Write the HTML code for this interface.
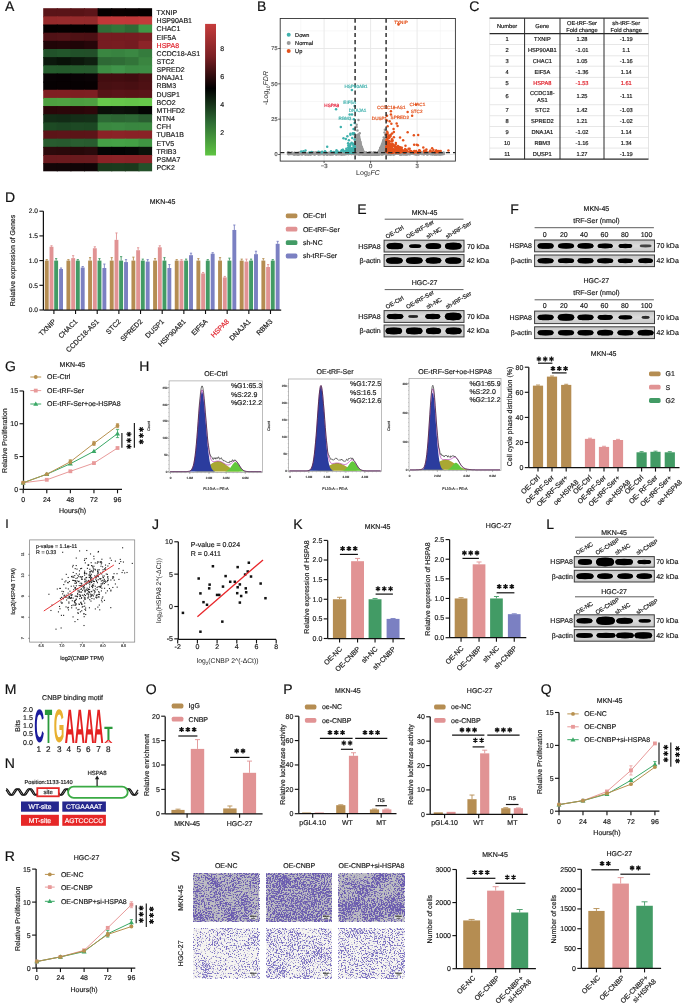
<!DOCTYPE html>
<html><head><meta charset="utf-8"><style>
html,body{margin:0;padding:0;background:#fff;}
svg{display:block;font-family:"Liberation Sans", sans-serif;will-change:transform;}
text{stroke-width:0.18px;paint-order:stroke;text-rendering:geometricPrecision;}
</style></head><body>
<svg width="685" height="1003" viewBox="0 0 685 1003">
<defs><filter id="bl" x="-20%" y="-60%" width="140%" height="220%"><feGaussianBlur stdDeviation="0.75"/></filter><linearGradient id="blg" x1="0" y1="0" x2="0" y2="1"><stop offset="0" stop-color="#c4c4c4"/><stop offset="0.5" stop-color="#dcdcdc"/><stop offset="1" stop-color="#c6c6c6"/></linearGradient></defs>
<rect width="685" height="1003" fill="#fff"/>
<text x="4.97" y="10.63" font-size="14" text-anchor="start" fill="#111" stroke="#111" stroke-width="0">A</text>
<rect x="43.2" y="8.2" width="14.61" height="9.16" fill="#5a1418" />
<rect x="56.81" y="8.2" width="14.61" height="9.16" fill="#5a1418" />
<rect x="70.42" y="8.2" width="14.61" height="9.16" fill="#581316" />
<rect x="84.04" y="8.2" width="14.61" height="9.16" fill="#5c1519" />
<rect x="97.65" y="8.2" width="14.61" height="9.16" fill="#050000" />
<rect x="111.26" y="8.2" width="14.61" height="9.16" fill="#0a0000" />
<rect x="124.88" y="8.2" width="14.61" height="9.16" fill="#080000" />
<rect x="138.49" y="8.2" width="13.61" height="9.16" fill="#050000" />
<rect x="43.2" y="16.36" width="14.61" height="9.16" fill="#962a2b" />
<rect x="56.81" y="16.36" width="14.61" height="9.16" fill="#972b2c" />
<rect x="70.42" y="16.36" width="14.61" height="9.16" fill="#952a2b" />
<rect x="84.04" y="16.36" width="14.61" height="9.16" fill="#942a2b" />
<rect x="97.65" y="16.36" width="14.61" height="9.16" fill="#c03738" />
<rect x="111.26" y="16.36" width="14.61" height="9.16" fill="#c13839" />
<rect x="124.88" y="16.36" width="14.61" height="9.16" fill="#c03738" />
<rect x="138.49" y="16.36" width="13.61" height="9.16" fill="#c23a3a" />
<rect x="43.2" y="24.51" width="14.61" height="9.16" fill="#040000" />
<rect x="56.81" y="24.51" width="14.61" height="9.16" fill="#050000" />
<rect x="70.42" y="24.51" width="14.61" height="9.16" fill="#040000" />
<rect x="84.04" y="24.51" width="14.61" height="9.16" fill="#040000" />
<rect x="97.65" y="24.51" width="14.61" height="9.16" fill="#2f6d37" />
<rect x="111.26" y="24.51" width="14.61" height="9.16" fill="#337539" />
<rect x="124.88" y="24.51" width="14.61" height="9.16" fill="#2e6a35" />
<rect x="138.49" y="24.51" width="13.61" height="9.16" fill="#3f9846" />
<rect x="43.2" y="32.67" width="14.61" height="9.16" fill="#501216" />
<rect x="56.81" y="32.67" width="14.61" height="9.16" fill="#531317" />
<rect x="70.42" y="32.67" width="14.61" height="9.16" fill="#4e1114" />
<rect x="84.04" y="32.67" width="14.61" height="9.16" fill="#4c1014" />
<rect x="97.65" y="32.67" width="14.61" height="9.16" fill="#761c21" />
<rect x="111.26" y="32.67" width="14.61" height="9.16" fill="#751c20" />
<rect x="124.88" y="32.67" width="14.61" height="9.16" fill="#761c21" />
<rect x="138.49" y="32.67" width="13.61" height="9.16" fill="#7a1e22" />
<rect x="43.2" y="40.82" width="14.61" height="9.16" fill="#200507" />
<rect x="56.81" y="40.82" width="14.61" height="9.16" fill="#230508" />
<rect x="70.42" y="40.82" width="14.61" height="9.16" fill="#1f0507" />
<rect x="84.04" y="40.82" width="14.61" height="9.16" fill="#260609" />
<rect x="97.65" y="40.82" width="14.61" height="9.16" fill="#761c21" />
<rect x="111.26" y="40.82" width="14.61" height="9.16" fill="#781d21" />
<rect x="124.88" y="40.82" width="14.61" height="9.16" fill="#741b20" />
<rect x="138.49" y="40.82" width="13.61" height="9.16" fill="#8c2428" />
<rect x="43.2" y="48.98" width="14.61" height="9.16" fill="#21522a" />
<rect x="56.81" y="48.98" width="14.61" height="9.16" fill="#22562b" />
<rect x="70.42" y="48.98" width="14.61" height="9.16" fill="#215029" />
<rect x="84.04" y="48.98" width="14.61" height="9.16" fill="#224f29" />
<rect x="97.65" y="48.98" width="14.61" height="9.16" fill="#3a8641" />
<rect x="111.26" y="48.98" width="14.61" height="9.16" fill="#388340" />
<rect x="124.88" y="48.98" width="14.61" height="9.16" fill="#3b8843" />
<rect x="138.49" y="48.98" width="13.61" height="9.16" fill="#357c3d" />
<rect x="43.2" y="57.13" width="14.61" height="9.16" fill="#0b180c" />
<rect x="56.81" y="57.13" width="14.61" height="9.16" fill="#081208" />
<rect x="70.42" y="57.13" width="14.61" height="9.16" fill="#0c170c" />
<rect x="84.04" y="57.13" width="14.61" height="9.16" fill="#0f1f10" />
<rect x="97.65" y="57.13" width="14.61" height="9.16" fill="#2e6935" />
<rect x="111.26" y="57.13" width="14.61" height="9.16" fill="#2f6c36" />
<rect x="124.88" y="57.13" width="14.61" height="9.16" fill="#327439" />
<rect x="138.49" y="57.13" width="13.61" height="9.16" fill="#3a8540" />
<rect x="43.2" y="65.29" width="14.61" height="9.16" fill="#255c2d" />
<rect x="56.81" y="65.29" width="14.61" height="9.16" fill="#245b2c" />
<rect x="70.42" y="65.29" width="14.61" height="9.16" fill="#255c2d" />
<rect x="84.04" y="65.29" width="14.61" height="9.16" fill="#265b2e" />
<rect x="97.65" y="65.29" width="14.61" height="9.16" fill="#3d8e44" />
<rect x="111.26" y="65.29" width="14.61" height="9.16" fill="#40944a" />
<rect x="124.88" y="65.29" width="14.61" height="9.16" fill="#3c8c44" />
<rect x="138.49" y="65.29" width="13.61" height="9.16" fill="#3d8d45" />
<rect x="43.2" y="73.44" width="14.61" height="9.16" fill="#080204" />
<rect x="56.81" y="73.44" width="14.61" height="9.16" fill="#070103" />
<rect x="70.42" y="73.44" width="14.61" height="9.16" fill="#080204" />
<rect x="84.04" y="73.44" width="14.61" height="9.16" fill="#0a0305" />
<rect x="97.65" y="73.44" width="14.61" height="9.16" fill="#430d10" />
<rect x="111.26" y="73.44" width="14.61" height="9.16" fill="#430d10" />
<rect x="124.88" y="73.44" width="14.61" height="9.16" fill="#400c0f" />
<rect x="138.49" y="73.44" width="13.61" height="9.16" fill="#4a1013" />
<rect x="43.2" y="81.6" width="14.61" height="9.16" fill="#060102" />
<rect x="56.81" y="81.6" width="14.61" height="9.16" fill="#070102" />
<rect x="70.42" y="81.6" width="14.61" height="9.16" fill="#060102" />
<rect x="84.04" y="81.6" width="14.61" height="9.16" fill="#070102" />
<rect x="97.65" y="81.6" width="14.61" height="9.16" fill="#471012" />
<rect x="111.26" y="81.6" width="14.61" height="9.16" fill="#4a1013" />
<rect x="124.88" y="81.6" width="14.61" height="9.16" fill="#480f12" />
<rect x="138.49" y="81.6" width="13.61" height="9.16" fill="#4e1114" />
<rect x="43.2" y="89.75" width="14.61" height="9.16" fill="#7f1f22" />
<rect x="56.81" y="89.75" width="14.61" height="9.16" fill="#801f22" />
<rect x="70.42" y="89.75" width="14.61" height="9.16" fill="#7d1e21" />
<rect x="84.04" y="89.75" width="14.61" height="9.16" fill="#7e1f22" />
<rect x="97.65" y="89.75" width="14.61" height="9.16" fill="#561316" />
<rect x="111.26" y="89.75" width="14.61" height="9.16" fill="#5a1418" />
<rect x="124.88" y="89.75" width="14.61" height="9.16" fill="#581316" />
<rect x="138.49" y="89.75" width="13.61" height="9.16" fill="#5a1418" />
<rect x="43.2" y="97.91" width="14.61" height="9.16" fill="#4ea041" />
<rect x="56.81" y="97.91" width="14.61" height="9.16" fill="#4fa242" />
<rect x="70.42" y="97.91" width="14.61" height="9.16" fill="#4c9e40" />
<rect x="84.04" y="97.91" width="14.61" height="9.16" fill="#4ea041" />
<rect x="97.65" y="97.91" width="14.61" height="9.16" fill="#67c84b" />
<rect x="111.26" y="97.91" width="14.61" height="9.16" fill="#66c74a" />
<rect x="124.88" y="97.91" width="14.61" height="9.16" fill="#64c449" />
<rect x="138.49" y="97.91" width="13.61" height="9.16" fill="#66c74a" />
<rect x="43.2" y="106.06" width="14.61" height="9.16" fill="#2a0609" />
<rect x="56.81" y="106.06" width="14.61" height="9.16" fill="#2c070a" />
<rect x="70.42" y="106.06" width="14.61" height="9.16" fill="#2a0609" />
<rect x="84.04" y="106.06" width="14.61" height="9.16" fill="#2e070a" />
<rect x="97.65" y="106.06" width="14.61" height="9.16" fill="#0a0f08" />
<rect x="111.26" y="106.06" width="14.61" height="9.16" fill="#0c110a" />
<rect x="124.88" y="106.06" width="14.61" height="9.16" fill="#0a0f08" />
<rect x="138.49" y="106.06" width="13.61" height="9.16" fill="#030303" />
<rect x="43.2" y="114.22" width="14.61" height="9.16" fill="#132d17" />
<rect x="56.81" y="114.22" width="14.61" height="9.16" fill="#122b16" />
<rect x="70.42" y="114.22" width="14.61" height="9.16" fill="#142e18" />
<rect x="84.04" y="114.22" width="14.61" height="9.16" fill="#143018" />
<rect x="97.65" y="114.22" width="14.61" height="9.16" fill="#2d6a35" />
<rect x="111.26" y="114.22" width="14.61" height="9.16" fill="#2c6633" />
<rect x="124.88" y="114.22" width="14.61" height="9.16" fill="#2d6935" />
<rect x="138.49" y="114.22" width="13.61" height="9.16" fill="#2a5e31" />
<rect x="43.2" y="122.37" width="14.61" height="9.16" fill="#1d4a24" />
<rect x="56.81" y="122.37" width="14.61" height="9.16" fill="#1c4623" />
<rect x="70.42" y="122.37" width="14.61" height="9.16" fill="#1d4924" />
<rect x="84.04" y="122.37" width="14.61" height="9.16" fill="#1c4823" />
<rect x="97.65" y="122.37" width="14.61" height="9.16" fill="#3a8840" />
<rect x="111.26" y="122.37" width="14.61" height="9.16" fill="#3b8a42" />
<rect x="124.88" y="122.37" width="14.61" height="9.16" fill="#398640" />
<rect x="138.49" y="122.37" width="13.61" height="9.16" fill="#39873f" />
<rect x="43.2" y="130.53" width="14.61" height="9.16" fill="#5c1418" />
<rect x="56.81" y="130.53" width="14.61" height="9.16" fill="#5d1519" />
<rect x="70.42" y="130.53" width="14.61" height="9.16" fill="#5b1417" />
<rect x="84.04" y="130.53" width="14.61" height="9.16" fill="#5c1418" />
<rect x="97.65" y="130.53" width="14.61" height="9.16" fill="#8a2226" />
<rect x="111.26" y="130.53" width="14.61" height="9.16" fill="#8b2327" />
<rect x="124.88" y="130.53" width="14.61" height="9.16" fill="#892226" />
<rect x="138.49" y="130.53" width="13.61" height="9.16" fill="#8a2226" />
<rect x="43.2" y="138.68" width="14.61" height="9.16" fill="#285c2f" />
<rect x="56.81" y="138.68" width="14.61" height="9.16" fill="#275a2e" />
<rect x="70.42" y="138.68" width="14.61" height="9.16" fill="#295e30" />
<rect x="84.04" y="138.68" width="14.61" height="9.16" fill="#285c2f" />
<rect x="97.65" y="138.68" width="14.61" height="9.16" fill="#44a046" />
<rect x="111.26" y="138.68" width="14.61" height="9.16" fill="#45a247" />
<rect x="124.88" y="138.68" width="14.61" height="9.16" fill="#43a045" />
<rect x="138.49" y="138.68" width="13.61" height="9.16" fill="#3f9442" />
<rect x="43.2" y="146.84" width="14.61" height="9.16" fill="#2c0a0c" />
<rect x="56.81" y="146.84" width="14.61" height="9.16" fill="#2b090b" />
<rect x="70.42" y="146.84" width="14.61" height="9.16" fill="#270809" />
<rect x="84.04" y="146.84" width="14.61" height="9.16" fill="#2a0a0c" />
<rect x="97.65" y="146.84" width="14.61" height="9.16" fill="#050505" />
<rect x="111.26" y="146.84" width="14.61" height="9.16" fill="#040404" />
<rect x="124.88" y="146.84" width="14.61" height="9.16" fill="#060606" />
<rect x="138.49" y="146.84" width="13.61" height="9.16" fill="#0a120a" />
<rect x="43.2" y="154.99" width="14.61" height="9.16" fill="#6a1a1e" />
<rect x="56.81" y="154.99" width="14.61" height="9.16" fill="#6b1a1e" />
<rect x="70.42" y="154.99" width="14.61" height="9.16" fill="#691a1d" />
<rect x="84.04" y="154.99" width="14.61" height="9.16" fill="#6a1a1e" />
<rect x="97.65" y="154.99" width="14.61" height="9.16" fill="#8a2226" />
<rect x="111.26" y="154.99" width="14.61" height="9.16" fill="#8b2327" />
<rect x="124.88" y="154.99" width="14.61" height="9.16" fill="#892226" />
<rect x="138.49" y="154.99" width="13.61" height="9.16" fill="#8a2226" />
<rect x="43.2" y="163.15" width="14.61" height="8.16" fill="#120507" />
<rect x="56.81" y="163.15" width="14.61" height="8.16" fill="#110507" />
<rect x="70.42" y="163.15" width="14.61" height="8.16" fill="#100406" />
<rect x="84.04" y="163.15" width="14.61" height="8.16" fill="#0f0406" />
<rect x="97.65" y="163.15" width="14.61" height="8.16" fill="#1a3a1c" />
<rect x="111.26" y="163.15" width="14.61" height="8.16" fill="#1b3b1d" />
<rect x="124.88" y="163.15" width="14.61" height="8.16" fill="#1a391c" />
<rect x="138.49" y="163.15" width="13.61" height="8.16" fill="#24512a" />
<text x="156.6" y="15.09" font-size="7" text-anchor="start" fill="#1a1a1a" stroke="#1a1a1a" >TXNIP</text>
<text x="156.6" y="23.24" font-size="7" text-anchor="start" fill="#1a1a1a" stroke="#1a1a1a" >HSP90AB1</text>
<text x="156.6" y="31.4" font-size="7" text-anchor="start" fill="#1a1a1a" stroke="#1a1a1a" >CHAC1</text>
<text x="156.6" y="39.55" font-size="7" text-anchor="start" fill="#1a1a1a" stroke="#1a1a1a" >EIF5A</text>
<text x="156.6" y="47.71" font-size="7" text-anchor="start" fill="#e0202a" stroke="#e0202a" >HSPA8</text>
<text x="156.6" y="55.86" font-size="7" text-anchor="start" fill="#1a1a1a" stroke="#1a1a1a" >CCDC18-AS1</text>
<text x="156.6" y="64.02" font-size="7" text-anchor="start" fill="#1a1a1a" stroke="#1a1a1a" >STC2</text>
<text x="156.6" y="72.17" font-size="7" text-anchor="start" fill="#1a1a1a" stroke="#1a1a1a" >SPRED2</text>
<text x="156.6" y="80.33" font-size="7" text-anchor="start" fill="#1a1a1a" stroke="#1a1a1a" >DNAJA1</text>
<text x="156.6" y="88.48" font-size="7" text-anchor="start" fill="#1a1a1a" stroke="#1a1a1a" >RBM3</text>
<text x="156.6" y="96.64" font-size="7" text-anchor="start" fill="#1a1a1a" stroke="#1a1a1a" >DUSP1</text>
<text x="156.6" y="104.79" font-size="7" text-anchor="start" fill="#1a1a1a" stroke="#1a1a1a" >BCO2</text>
<text x="156.6" y="112.95" font-size="7" text-anchor="start" fill="#1a1a1a" stroke="#1a1a1a" >MTHFD2</text>
<text x="156.6" y="121.1" font-size="7" text-anchor="start" fill="#1a1a1a" stroke="#1a1a1a" >NTN4</text>
<text x="156.6" y="129.26" font-size="7" text-anchor="start" fill="#1a1a1a" stroke="#1a1a1a" >CFH</text>
<text x="156.6" y="137.41" font-size="7" text-anchor="start" fill="#1a1a1a" stroke="#1a1a1a" >TUBA1B</text>
<text x="156.6" y="145.57" font-size="7" text-anchor="start" fill="#1a1a1a" stroke="#1a1a1a" >ETV5</text>
<text x="156.6" y="153.72" font-size="7" text-anchor="start" fill="#1a1a1a" stroke="#1a1a1a" >TRIB3</text>
<text x="156.6" y="161.88" font-size="7" text-anchor="start" fill="#1a1a1a" stroke="#1a1a1a" >PSMA7</text>
<text x="156.6" y="170.03" font-size="7" text-anchor="start" fill="#1a1a1a" stroke="#1a1a1a" >PCK2</text>
<defs><linearGradient id="cb" x1="0" y1="0" x2="0" y2="1"><stop offset="0" stop-color="#c63c3c"/><stop offset="0.25" stop-color="#7a2024"/><stop offset="0.49" stop-color="#000"/><stop offset="0.75" stop-color="#2e6c34"/><stop offset="1" stop-color="#5fc543"/></linearGradient></defs>
<rect x="205.1" y="23.9" width="10.9" height="131.6" fill="url(#cb)" />
<text x="220.2" y="51.21" font-size="7" text-anchor="start" fill="#1a1a1a" stroke="#1a1a1a" >8</text>
<text x="220.2" y="79.21" font-size="7" text-anchor="start" fill="#1a1a1a" stroke="#1a1a1a" >6</text>
<text x="220.2" y="107.11" font-size="7" text-anchor="start" fill="#1a1a1a" stroke="#1a1a1a" >4</text>
<text x="220.2" y="134.71" font-size="7" text-anchor="start" fill="#1a1a1a" stroke="#1a1a1a" >2</text>
<text x="257.05" y="10.73" font-size="14" text-anchor="start" fill="#111" stroke="#111" stroke-width="0">B</text>
<rect x="280.2" y="18.5" width="175.2" height="142.6" fill="#fff" />
<line x1="300.85" y1="18.5" x2="300.85" y2="161.1" stroke="#f2f2f2" stroke-width="0.6" />
<line x1="347.35" y1="18.5" x2="347.35" y2="161.1" stroke="#f2f2f2" stroke-width="0.6" />
<line x1="393.85" y1="18.5" x2="393.85" y2="161.1" stroke="#f2f2f2" stroke-width="0.6" />
<line x1="440.35" y1="18.5" x2="440.35" y2="161.1" stroke="#f2f2f2" stroke-width="0.6" />
<line x1="280.2" y1="136.84" x2="455.4" y2="136.84" stroke="#f2f2f2" stroke-width="0.6" />
<line x1="280.2" y1="101.51" x2="455.4" y2="101.51" stroke="#f2f2f2" stroke-width="0.6" />
<line x1="280.2" y1="66.19" x2="455.4" y2="66.19" stroke="#f2f2f2" stroke-width="0.6" />
<line x1="280.2" y1="30.86" x2="455.4" y2="30.86" stroke="#f2f2f2" stroke-width="0.6" />
<line x1="324.1" y1="18.5" x2="324.1" y2="161.1" stroke="#e6e6e6" stroke-width="0.9" />
<line x1="370.6" y1="18.5" x2="370.6" y2="161.1" stroke="#e6e6e6" stroke-width="0.9" />
<line x1="417.1" y1="18.5" x2="417.1" y2="161.1" stroke="#e6e6e6" stroke-width="0.9" />
<line x1="280.2" y1="154.5" x2="455.4" y2="154.5" stroke="#e6e6e6" stroke-width="0.9" />
<line x1="280.2" y1="119.17" x2="455.4" y2="119.17" stroke="#e6e6e6" stroke-width="0.9" />
<line x1="280.2" y1="83.85" x2="455.4" y2="83.85" stroke="#e6e6e6" stroke-width="0.9" />
<line x1="280.2" y1="48.52" x2="455.4" y2="48.52" stroke="#e6e6e6" stroke-width="0.9" />
<g fill="#9a9a9a"><circle cx="338.64" cy="154.23" r="1.25"/><circle cx="389.34" cy="154.37" r="1.25"/><circle cx="371.51" cy="153.85" r="1.25"/><circle cx="297.44" cy="153.6" r="1.25"/><circle cx="294.26" cy="153.73" r="1.25"/><circle cx="299.28" cy="154.34" r="1.25"/><circle cx="354.25" cy="153.04" r="1.25"/><circle cx="307.64" cy="154.11" r="1.25"/><circle cx="385.7" cy="152.83" r="1.25"/><circle cx="377.9" cy="153.8" r="1.25"/><circle cx="439.77" cy="154.42" r="1.25"/><circle cx="421.51" cy="153.99" r="1.25"/><circle cx="310.81" cy="154.29" r="1.25"/><circle cx="336.26" cy="153.06" r="1.25"/><circle cx="316.46" cy="153.47" r="1.25"/><circle cx="387.48" cy="153.84" r="1.25"/><circle cx="373.35" cy="154.39" r="1.25"/><circle cx="297.69" cy="154.14" r="1.25"/><circle cx="393.91" cy="153.74" r="1.25"/><circle cx="337.14" cy="153.47" r="1.25"/><circle cx="358.69" cy="153.97" r="1.25"/><circle cx="411.58" cy="153.27" r="1.25"/><circle cx="326.28" cy="153.49" r="1.25"/><circle cx="369.86" cy="152.95" r="1.25"/><circle cx="401.51" cy="153.99" r="1.25"/><circle cx="440.38" cy="154.29" r="1.25"/><circle cx="353.26" cy="153.16" r="1.25"/><circle cx="312.01" cy="153.64" r="1.25"/><circle cx="294.53" cy="153.32" r="1.25"/><circle cx="406.96" cy="153.49" r="1.25"/><circle cx="424.15" cy="153.95" r="1.25"/><circle cx="396.22" cy="153.45" r="1.25"/><circle cx="378.33" cy="153.69" r="1.25"/><circle cx="418.65" cy="152.83" r="1.25"/><circle cx="361.94" cy="153.33" r="1.25"/><circle cx="297.85" cy="153.26" r="1.25"/><circle cx="388.75" cy="152.75" r="1.25"/><circle cx="415.85" cy="154" r="1.25"/><circle cx="348.25" cy="153.32" r="1.25"/><circle cx="291.95" cy="153.68" r="1.25"/><circle cx="314.5" cy="154.29" r="1.25"/><circle cx="297.59" cy="153.14" r="1.25"/><circle cx="308.5" cy="154.06" r="1.25"/><circle cx="349.05" cy="152.96" r="1.25"/><circle cx="300.94" cy="153.71" r="1.25"/><circle cx="373.61" cy="152.94" r="1.25"/><circle cx="415.44" cy="152.97" r="1.25"/><circle cx="331.61" cy="153.77" r="1.25"/><circle cx="344.06" cy="152.94" r="1.25"/><circle cx="436.9" cy="154.23" r="1.25"/><circle cx="315.76" cy="154.09" r="1.25"/><circle cx="324.62" cy="153.64" r="1.25"/><circle cx="379.76" cy="154.04" r="1.25"/><circle cx="289.08" cy="153.76" r="1.25"/><circle cx="345.68" cy="153.5" r="1.25"/><circle cx="436.18" cy="153.28" r="1.25"/><circle cx="368.35" cy="153.41" r="1.25"/><circle cx="393.26" cy="154.4" r="1.25"/><circle cx="427.88" cy="153.12" r="1.25"/><circle cx="424" cy="153.09" r="1.25"/><circle cx="349.27" cy="153.8" r="1.25"/><circle cx="304.5" cy="153.38" r="1.25"/><circle cx="298.1" cy="154.38" r="1.25"/><circle cx="320.81" cy="154.21" r="1.25"/><circle cx="341.16" cy="154.41" r="1.25"/><circle cx="288.49" cy="154.23" r="1.25"/><circle cx="304.18" cy="153.86" r="1.25"/><circle cx="292.4" cy="152.96" r="1.25"/><circle cx="383.63" cy="154.24" r="1.25"/><circle cx="327.55" cy="153.89" r="1.25"/><circle cx="344.9" cy="154.28" r="1.25"/><circle cx="420.04" cy="152.75" r="1.25"/><circle cx="360.68" cy="153.65" r="1.25"/><circle cx="301.76" cy="154.32" r="1.25"/><circle cx="341.56" cy="154.03" r="1.25"/><circle cx="416.92" cy="154.21" r="1.25"/><circle cx="292.03" cy="152.82" r="1.25"/><circle cx="370.33" cy="154.24" r="1.25"/><circle cx="372.64" cy="154.45" r="1.25"/><circle cx="370.31" cy="152.77" r="1.25"/><circle cx="422.27" cy="153.27" r="1.25"/><circle cx="328.92" cy="153.85" r="1.25"/><circle cx="314.34" cy="153.14" r="1.25"/><circle cx="371" cy="153.12" r="1.25"/><circle cx="339.55" cy="154.11" r="1.25"/><circle cx="414.23" cy="152.76" r="1.25"/><circle cx="420.61" cy="153.08" r="1.25"/><circle cx="415.29" cy="153.19" r="1.25"/><circle cx="323.59" cy="153.59" r="1.25"/><circle cx="343.56" cy="154.45" r="1.25"/><circle cx="292.78" cy="154.01" r="1.25"/><circle cx="328.62" cy="153.28" r="1.25"/><circle cx="436.71" cy="153.71" r="1.25"/><circle cx="433.69" cy="152.75" r="1.25"/><circle cx="436.48" cy="153.86" r="1.25"/><circle cx="322.62" cy="154.1" r="1.25"/><circle cx="318.94" cy="154.14" r="1.25"/><circle cx="385.18" cy="152.91" r="1.25"/><circle cx="418.72" cy="153.65" r="1.25"/><circle cx="389.66" cy="153.09" r="1.25"/><circle cx="301.59" cy="153.33" r="1.25"/><circle cx="429.47" cy="153.12" r="1.25"/><circle cx="404.72" cy="153.66" r="1.25"/><circle cx="316.12" cy="153.11" r="1.25"/><circle cx="339.99" cy="153.09" r="1.25"/><circle cx="439.06" cy="153.8" r="1.25"/><circle cx="350.66" cy="152.83" r="1.25"/><circle cx="400.79" cy="154.2" r="1.25"/><circle cx="308.14" cy="154.23" r="1.25"/><circle cx="428.7" cy="153.08" r="1.25"/><circle cx="311.11" cy="153.04" r="1.25"/><circle cx="440.4" cy="153.34" r="1.25"/><circle cx="342.76" cy="153.53" r="1.25"/><circle cx="308.75" cy="154.47" r="1.25"/><circle cx="438.94" cy="153.35" r="1.25"/><circle cx="370.07" cy="152.85" r="1.25"/><circle cx="355.69" cy="152.96" r="1.25"/><circle cx="416.5" cy="154.13" r="1.25"/><circle cx="327.48" cy="153.98" r="1.25"/><circle cx="325.73" cy="153.46" r="1.25"/><circle cx="328.65" cy="153.76" r="1.25"/><circle cx="308.77" cy="152.89" r="1.25"/><circle cx="343.29" cy="153.69" r="1.25"/><circle cx="378.87" cy="152.9" r="1.25"/><circle cx="353.65" cy="152.88" r="1.25"/><circle cx="366.21" cy="153.56" r="1.25"/><circle cx="369.59" cy="154.47" r="1.25"/><circle cx="356.67" cy="154.18" r="1.25"/><circle cx="289.06" cy="153.09" r="1.25"/><circle cx="315.16" cy="153.66" r="1.25"/><circle cx="400.85" cy="153.52" r="1.25"/><circle cx="338.98" cy="153.58" r="1.25"/><circle cx="374.54" cy="153.11" r="1.25"/><circle cx="304.9" cy="153.51" r="1.25"/><circle cx="326.97" cy="154.01" r="1.25"/><circle cx="408.15" cy="153.6" r="1.25"/><circle cx="375.52" cy="153.16" r="1.25"/><circle cx="429.89" cy="153.72" r="1.25"/><circle cx="383.39" cy="153.61" r="1.25"/><circle cx="367.84" cy="153.28" r="1.25"/><circle cx="358.56" cy="153.56" r="1.25"/><circle cx="362.55" cy="152.84" r="1.25"/><circle cx="396.83" cy="152.95" r="1.25"/><circle cx="434.49" cy="154.04" r="1.25"/><circle cx="375.17" cy="152.83" r="1.25"/><circle cx="418.65" cy="154.26" r="1.25"/><circle cx="307.3" cy="153.72" r="1.25"/><circle cx="299.69" cy="154.07" r="1.25"/><circle cx="299.78" cy="153.32" r="1.25"/><circle cx="409.96" cy="152.92" r="1.25"/><circle cx="312.39" cy="153.24" r="1.25"/><circle cx="390.79" cy="154.25" r="1.25"/><circle cx="425.29" cy="152.79" r="1.25"/><circle cx="322.49" cy="152.82" r="1.25"/><circle cx="350.18" cy="153.64" r="1.25"/><circle cx="441.88" cy="153.03" r="1.25"/><circle cx="313.48" cy="153.74" r="1.25"/><circle cx="368.37" cy="153.9" r="1.25"/><circle cx="318.79" cy="153.94" r="1.25"/><circle cx="400.38" cy="154.47" r="1.25"/><circle cx="374.33" cy="153.72" r="1.25"/><circle cx="291.25" cy="153.91" r="1.25"/><circle cx="385.16" cy="153.6" r="1.25"/><circle cx="298.42" cy="152.76" r="1.25"/><circle cx="410.65" cy="152.78" r="1.25"/><circle cx="304.69" cy="154.03" r="1.25"/><circle cx="294.59" cy="153.12" r="1.25"/><circle cx="330.37" cy="154.27" r="1.25"/><circle cx="353.9" cy="152.89" r="1.25"/><circle cx="415.39" cy="154.04" r="1.25"/><circle cx="311.6" cy="152.88" r="1.25"/><circle cx="376.89" cy="153.26" r="1.25"/><circle cx="302.32" cy="154.4" r="1.25"/><circle cx="395.12" cy="153.75" r="1.25"/><circle cx="299.67" cy="152.84" r="1.25"/><circle cx="386.79" cy="153.08" r="1.25"/><circle cx="301.43" cy="152.99" r="1.25"/><circle cx="298.78" cy="152.98" r="1.25"/><circle cx="358.78" cy="153.9" r="1.25"/><circle cx="374.17" cy="152.86" r="1.25"/><circle cx="329.97" cy="154.27" r="1.25"/><circle cx="370.12" cy="154.08" r="1.25"/><circle cx="305.41" cy="154.21" r="1.25"/><circle cx="296.26" cy="154.14" r="1.25"/><circle cx="336.81" cy="153.96" r="1.25"/><circle cx="406.17" cy="153.99" r="1.25"/><circle cx="365.96" cy="154.19" r="1.25"/><circle cx="342.24" cy="154.47" r="1.25"/><circle cx="327.27" cy="154.47" r="1.25"/><circle cx="402.08" cy="153.53" r="1.25"/><circle cx="317.82" cy="153.66" r="1.25"/><circle cx="433.32" cy="154.31" r="1.25"/><circle cx="415.38" cy="153.74" r="1.25"/><circle cx="365.18" cy="153.03" r="1.25"/><circle cx="349.38" cy="153.61" r="1.25"/><circle cx="395.05" cy="152.76" r="1.25"/><circle cx="341.57" cy="153.03" r="1.25"/><circle cx="397.99" cy="153.38" r="1.25"/><circle cx="351.18" cy="153.89" r="1.25"/><circle cx="296.88" cy="154.27" r="1.25"/><circle cx="299.41" cy="153.19" r="1.25"/><circle cx="328.07" cy="154.21" r="1.25"/><circle cx="301.55" cy="153.01" r="1.25"/><circle cx="423.38" cy="153.32" r="1.25"/><circle cx="332.15" cy="154.07" r="1.25"/><circle cx="333.87" cy="153.69" r="1.25"/><circle cx="312.87" cy="153.71" r="1.25"/><circle cx="329.25" cy="152.8" r="1.25"/><circle cx="439.21" cy="153.53" r="1.25"/><circle cx="326.34" cy="152.79" r="1.25"/><circle cx="336.43" cy="153.87" r="1.25"/><circle cx="288.62" cy="153.83" r="1.25"/><circle cx="362.02" cy="153.61" r="1.25"/><circle cx="319.6" cy="153.61" r="1.25"/><circle cx="289.22" cy="154.03" r="1.25"/><circle cx="302.36" cy="153.79" r="1.25"/><circle cx="294.91" cy="154.46" r="1.25"/><circle cx="335.61" cy="154.09" r="1.25"/><circle cx="379.22" cy="153.57" r="1.25"/><circle cx="404.78" cy="153.34" r="1.25"/><circle cx="399.43" cy="152.95" r="1.25"/><circle cx="348.83" cy="153.92" r="1.25"/><circle cx="441.08" cy="154.24" r="1.25"/><circle cx="400.69" cy="153.36" r="1.25"/><circle cx="295.24" cy="153.02" r="1.25"/><circle cx="426.7" cy="153.39" r="1.25"/><circle cx="402.2" cy="153.07" r="1.25"/><circle cx="310.04" cy="153.57" r="1.25"/><circle cx="366.63" cy="153.03" r="1.25"/><circle cx="413.18" cy="153.04" r="1.25"/><circle cx="378.98" cy="152.92" r="1.25"/><circle cx="394.3" cy="153.28" r="1.25"/><circle cx="324.09" cy="154.44" r="1.25"/><circle cx="309.08" cy="153.86" r="1.25"/><circle cx="304.71" cy="153.02" r="1.25"/><circle cx="375.02" cy="153.39" r="1.25"/><circle cx="385.52" cy="153.3" r="1.25"/><circle cx="364.29" cy="154.49" r="1.25"/><circle cx="412.09" cy="153.18" r="1.25"/><circle cx="366.41" cy="153.55" r="1.25"/><circle cx="390.64" cy="154.38" r="1.25"/><circle cx="402.65" cy="154.05" r="1.25"/><circle cx="299.99" cy="154.03" r="1.25"/><circle cx="401.5" cy="154.14" r="1.25"/><circle cx="403.12" cy="152.78" r="1.25"/><circle cx="365.01" cy="153.82" r="1.25"/><circle cx="362.7" cy="153.29" r="1.25"/><circle cx="407.33" cy="153.41" r="1.25"/><circle cx="388.08" cy="154.36" r="1.25"/><circle cx="311.3" cy="154.05" r="1.25"/><circle cx="403.65" cy="153.96" r="1.25"/><circle cx="376.45" cy="154.48" r="1.25"/><circle cx="297.85" cy="154.03" r="1.25"/><circle cx="392.61" cy="153.28" r="1.25"/><circle cx="393.18" cy="153.99" r="1.25"/><circle cx="368.51" cy="153.68" r="1.25"/><circle cx="360.73" cy="154.29" r="1.25"/><circle cx="426.97" cy="154.15" r="1.25"/><circle cx="440.06" cy="152.85" r="1.25"/><circle cx="291.16" cy="153.69" r="1.25"/><circle cx="415.53" cy="152.79" r="1.25"/><circle cx="358.11" cy="154.03" r="1.25"/><circle cx="320.97" cy="152.83" r="1.25"/><circle cx="321.11" cy="153.47" r="1.25"/><circle cx="310.42" cy="153.57" r="1.25"/><circle cx="436.12" cy="154.27" r="1.25"/><circle cx="415.58" cy="153.6" r="1.25"/><circle cx="425.91" cy="153.26" r="1.25"/><circle cx="324.31" cy="152.91" r="1.25"/><circle cx="363.8" cy="154.46" r="1.25"/><circle cx="289.01" cy="153.63" r="1.25"/><circle cx="358.32" cy="153.97" r="1.25"/><circle cx="310.26" cy="153.89" r="1.25"/><circle cx="337.44" cy="153.02" r="1.25"/><circle cx="288.72" cy="153.17" r="1.25"/><circle cx="418.51" cy="154.29" r="1.25"/><circle cx="432.04" cy="153.24" r="1.25"/><circle cx="428.19" cy="153.99" r="1.25"/><circle cx="346.14" cy="153.81" r="1.25"/><circle cx="443.26" cy="153.46" r="1.25"/><circle cx="344.36" cy="153.74" r="1.25"/><circle cx="331.1" cy="154.41" r="1.25"/><circle cx="304.22" cy="153.03" r="1.25"/><circle cx="332.72" cy="152.85" r="1.25"/><circle cx="327.1" cy="154.03" r="1.25"/><circle cx="367.65" cy="154.16" r="1.25"/><circle cx="346.32" cy="152.81" r="1.25"/><circle cx="425.51" cy="153.07" r="1.25"/><circle cx="386.24" cy="152.89" r="1.25"/><circle cx="434.26" cy="153.53" r="1.25"/><circle cx="399.98" cy="154.41" r="1.25"/><circle cx="401.96" cy="153.7" r="1.25"/><circle cx="405.11" cy="153.36" r="1.25"/><circle cx="332.81" cy="154.41" r="1.25"/><circle cx="432.1" cy="154.28" r="1.25"/><circle cx="361.64" cy="153.89" r="1.25"/><circle cx="334.6" cy="153.19" r="1.25"/><circle cx="439.78" cy="154.04" r="1.25"/><circle cx="390.13" cy="153.97" r="1.25"/><circle cx="374.83" cy="153.8" r="1.25"/><circle cx="314.39" cy="154.21" r="1.25"/><circle cx="320.67" cy="152.9" r="1.25"/><circle cx="365.5" cy="154.11" r="1.25"/><circle cx="428.92" cy="152.74" r="1.25"/><circle cx="358.19" cy="154.25" r="1.25"/><circle cx="318.27" cy="154.34" r="1.25"/><circle cx="341.45" cy="154.34" r="1.25"/><circle cx="325.51" cy="154.04" r="1.25"/><circle cx="376.74" cy="152.93" r="1.25"/><circle cx="404.65" cy="153.77" r="1.25"/><circle cx="352.6" cy="153.57" r="1.25"/><circle cx="346.86" cy="153.9" r="1.25"/><circle cx="298.07" cy="154.01" r="1.25"/><circle cx="438.44" cy="154.28" r="1.25"/><circle cx="366.48" cy="153.39" r="1.25"/><circle cx="422.19" cy="154.12" r="1.25"/><circle cx="330.46" cy="154.06" r="1.25"/><circle cx="350.41" cy="153.71" r="1.25"/><circle cx="436.31" cy="153" r="1.25"/><circle cx="423.75" cy="154.46" r="1.25"/><circle cx="293.45" cy="153.25" r="1.25"/><circle cx="427.28" cy="153.66" r="1.25"/><circle cx="379.46" cy="154.5" r="1.25"/><circle cx="349.14" cy="152.86" r="1.25"/><circle cx="416.42" cy="152.99" r="1.25"/><circle cx="439.15" cy="154.06" r="1.25"/><circle cx="305.35" cy="154.23" r="1.25"/><circle cx="369.42" cy="153.3" r="1.25"/><circle cx="434.38" cy="153.23" r="1.25"/><circle cx="388.79" cy="153.15" r="1.25"/><circle cx="359.34" cy="153.53" r="1.25"/><circle cx="294.58" cy="153.12" r="1.25"/><circle cx="324.5" cy="152.88" r="1.25"/><circle cx="388.5" cy="153.96" r="1.25"/><circle cx="308.28" cy="154.06" r="1.25"/><circle cx="387.08" cy="153.27" r="1.25"/><circle cx="305.83" cy="154.38" r="1.25"/><circle cx="369.74" cy="153.47" r="1.25"/><circle cx="348.6" cy="154.11" r="1.25"/><circle cx="381.61" cy="154.48" r="1.25"/><circle cx="335.19" cy="153.69" r="1.25"/><circle cx="437.09" cy="153.36" r="1.25"/><circle cx="425.43" cy="153.66" r="1.25"/><circle cx="324.84" cy="154.06" r="1.25"/><circle cx="437.35" cy="153.26" r="1.25"/><circle cx="336.1" cy="154.46" r="1.25"/><circle cx="365.69" cy="153.31" r="1.25"/><circle cx="353.55" cy="154.05" r="1.25"/><circle cx="391.89" cy="152.87" r="1.25"/><circle cx="323.6" cy="154.44" r="1.25"/><circle cx="340.85" cy="153.76" r="1.25"/><circle cx="394.25" cy="154.15" r="1.25"/><circle cx="411.99" cy="153.19" r="1.25"/><circle cx="366.71" cy="154.14" r="1.25"/><circle cx="438.78" cy="153.95" r="1.25"/><circle cx="415.55" cy="154.09" r="1.25"/><circle cx="322.77" cy="153.16" r="1.25"/><circle cx="334.16" cy="152.82" r="1.25"/><circle cx="365.29" cy="154.17" r="1.25"/><circle cx="323.07" cy="153.76" r="1.25"/><circle cx="391.57" cy="152.82" r="1.25"/><circle cx="311.14" cy="153.81" r="1.25"/><circle cx="321.46" cy="152.78" r="1.25"/><circle cx="310.45" cy="154.41" r="1.25"/><circle cx="297.77" cy="153.81" r="1.25"/><circle cx="427.67" cy="152.94" r="1.25"/><circle cx="402.02" cy="152.74" r="1.25"/><circle cx="432.85" cy="153.92" r="1.25"/><circle cx="317.2" cy="152.85" r="1.25"/><circle cx="404.13" cy="154.44" r="1.25"/><circle cx="391.44" cy="153.83" r="1.25"/><circle cx="346.4" cy="153.91" r="1.25"/><circle cx="314.69" cy="154.49" r="1.25"/><circle cx="331.82" cy="153.88" r="1.25"/><circle cx="436.55" cy="154.28" r="1.25"/><circle cx="437.91" cy="154.13" r="1.25"/><circle cx="343.73" cy="153.05" r="1.25"/><circle cx="415.86" cy="153.74" r="1.25"/><circle cx="296.08" cy="153.66" r="1.25"/><circle cx="346.22" cy="152.88" r="1.25"/><circle cx="318.37" cy="153.86" r="1.25"/><circle cx="427.48" cy="154.45" r="1.25"/><circle cx="352.12" cy="153.07" r="1.25"/><circle cx="407.28" cy="154.43" r="1.25"/><circle cx="293.85" cy="154.39" r="1.25"/><circle cx="431.06" cy="154.05" r="1.25"/><circle cx="404.28" cy="152.91" r="1.25"/><circle cx="341.01" cy="154.02" r="1.25"/><circle cx="436.89" cy="153.41" r="1.25"/><circle cx="329.09" cy="153.23" r="1.25"/><circle cx="337.5" cy="154.01" r="1.25"/><circle cx="289.03" cy="153.17" r="1.25"/><circle cx="430.5" cy="153.38" r="1.25"/><circle cx="434.65" cy="154.46" r="1.25"/><circle cx="324.7" cy="153.66" r="1.25"/><circle cx="436.75" cy="152.82" r="1.25"/><circle cx="348.36" cy="154.06" r="1.25"/><circle cx="355.09" cy="153.63" r="1.25"/><circle cx="432.31" cy="154.18" r="1.25"/><circle cx="412.85" cy="153.2" r="1.25"/><circle cx="415.98" cy="153.14" r="1.25"/><circle cx="382.57" cy="153.92" r="1.25"/><circle cx="337.98" cy="153.86" r="1.25"/><circle cx="409.7" cy="154.36" r="1.25"/><circle cx="319.03" cy="153.17" r="1.25"/><circle cx="326.78" cy="154.39" r="1.25"/><circle cx="293.7" cy="153.52" r="1.25"/><circle cx="338.94" cy="152.77" r="1.25"/><circle cx="425.39" cy="152.76" r="1.25"/><circle cx="329.51" cy="154.35" r="1.25"/><circle cx="303.4" cy="153.62" r="1.25"/><circle cx="398.46" cy="153.71" r="1.25"/><circle cx="324.75" cy="153.76" r="1.25"/><circle cx="384.6" cy="153.31" r="1.25"/><circle cx="404.39" cy="153" r="1.25"/><circle cx="391.44" cy="154.29" r="1.25"/><circle cx="418.79" cy="153.98" r="1.25"/><circle cx="376.32" cy="153.84" r="1.25"/><circle cx="402.85" cy="154.15" r="1.25"/><circle cx="326.8" cy="154.07" r="1.25"/><circle cx="312.21" cy="152.94" r="1.25"/><circle cx="378.08" cy="153.92" r="1.25"/><circle cx="349.84" cy="152.75" r="1.25"/><circle cx="367.09" cy="154.09" r="1.25"/><circle cx="413.76" cy="153.35" r="1.25"/><circle cx="442.05" cy="154.32" r="1.25"/><circle cx="362.04" cy="153.05" r="1.25"/><circle cx="418.74" cy="152.88" r="1.25"/><circle cx="294.71" cy="153.98" r="1.25"/><circle cx="306.93" cy="154.17" r="1.25"/><circle cx="439.26" cy="153.47" r="1.25"/><circle cx="432.63" cy="153.84" r="1.25"/><circle cx="422.7" cy="153.71" r="1.25"/><circle cx="328.74" cy="153.13" r="1.25"/><circle cx="435.03" cy="154.31" r="1.25"/><circle cx="380.85" cy="153.41" r="1.25"/><circle cx="322.19" cy="153.85" r="1.25"/><circle cx="310.36" cy="154.14" r="1.25"/><circle cx="327.96" cy="153.44" r="1.25"/><circle cx="389.45" cy="154.14" r="1.25"/><circle cx="290.21" cy="153.92" r="1.25"/><circle cx="393.59" cy="154.17" r="1.25"/><circle cx="336.84" cy="154.14" r="1.25"/><circle cx="411.72" cy="153.53" r="1.25"/><circle cx="298.26" cy="154.32" r="1.25"/><circle cx="349.72" cy="153.53" r="1.25"/><circle cx="387.52" cy="154.34" r="1.25"/><circle cx="313.82" cy="153.27" r="1.25"/><circle cx="351.97" cy="154" r="1.25"/><circle cx="336.13" cy="152.82" r="1.25"/><circle cx="336.87" cy="153.5" r="1.25"/><circle cx="343.81" cy="153.76" r="1.25"/><circle cx="422.41" cy="152.74" r="1.25"/><circle cx="344.84" cy="154.15" r="1.25"/><circle cx="401.29" cy="154.14" r="1.25"/><circle cx="289.36" cy="152.91" r="1.25"/><circle cx="354.13" cy="153.05" r="1.25"/><circle cx="351.41" cy="152.94" r="1.25"/><circle cx="359.89" cy="154.21" r="1.25"/><circle cx="290.75" cy="153.53" r="1.25"/><circle cx="387.75" cy="152.89" r="1.25"/><circle cx="302.25" cy="153.4" r="1.25"/><circle cx="345.93" cy="153.61" r="1.25"/><circle cx="311.06" cy="154" r="1.25"/><circle cx="369.23" cy="152.87" r="1.25"/><circle cx="305.31" cy="153.63" r="1.25"/><circle cx="413.2" cy="152.79" r="1.25"/><circle cx="319.04" cy="154.28" r="1.25"/><circle cx="434.63" cy="152.78" r="1.25"/><circle cx="363.27" cy="154.41" r="1.25"/><circle cx="432.01" cy="153.81" r="1.25"/><circle cx="428.6" cy="153.4" r="1.25"/><circle cx="416.26" cy="154.22" r="1.25"/><circle cx="410.25" cy="154.11" r="1.25"/><circle cx="351.15" cy="153.01" r="1.25"/><circle cx="416.97" cy="154.18" r="1.25"/><circle cx="322.26" cy="153.79" r="1.25"/><circle cx="368.72" cy="153.82" r="1.25"/><circle cx="307.52" cy="154.06" r="1.25"/><circle cx="400.81" cy="152.92" r="1.25"/><circle cx="294.82" cy="153.51" r="1.25"/><circle cx="405.86" cy="154.43" r="1.25"/><circle cx="418.37" cy="154.29" r="1.25"/><circle cx="381.38" cy="153.53" r="1.25"/><circle cx="385.64" cy="153.96" r="1.25"/><circle cx="353.56" cy="153.47" r="1.25"/><circle cx="354.44" cy="153.34" r="1.25"/><circle cx="357.7" cy="153.73" r="1.25"/><circle cx="292.07" cy="153.41" r="1.25"/><circle cx="364.32" cy="154.08" r="1.25"/><circle cx="406.8" cy="153.12" r="1.25"/><circle cx="359.48" cy="154.18" r="1.25"/><circle cx="361.8" cy="154.31" r="1.25"/><circle cx="308.36" cy="153.74" r="1.25"/><circle cx="302.67" cy="153.72" r="1.25"/><circle cx="367.52" cy="154.43" r="1.25"/><circle cx="387.1" cy="154.35" r="1.25"/><circle cx="402.14" cy="153.13" r="1.25"/><circle cx="367.73" cy="154.4" r="1.25"/><circle cx="366.56" cy="153.83" r="1.25"/><circle cx="435.83" cy="154.26" r="1.25"/><circle cx="421.3" cy="152.74" r="1.25"/><circle cx="401.92" cy="153.06" r="1.25"/><circle cx="318.47" cy="152.77" r="1.25"/><circle cx="364.69" cy="152.81" r="1.25"/><circle cx="430.44" cy="154.21" r="1.25"/><circle cx="410.65" cy="152.86" r="1.25"/><circle cx="298.61" cy="153.88" r="1.25"/><circle cx="405.66" cy="154.22" r="1.25"/><circle cx="427.41" cy="154.01" r="1.25"/><circle cx="414.87" cy="154.25" r="1.25"/><circle cx="366.29" cy="152.88" r="1.25"/><circle cx="320.74" cy="154.04" r="1.25"/><circle cx="366.88" cy="153.94" r="1.25"/><circle cx="294.16" cy="154.18" r="1.25"/><circle cx="313.44" cy="152.85" r="1.25"/><circle cx="393.8" cy="152.92" r="1.25"/><circle cx="314.61" cy="153.11" r="1.25"/><circle cx="306.29" cy="153.56" r="1.25"/><circle cx="387.08" cy="153.86" r="1.25"/><circle cx="382.16" cy="147.02" r="1.25"/><circle cx="373.08" cy="153.21" r="1.25"/><circle cx="358.34" cy="134.58" r="1.25"/><circle cx="374.62" cy="153.8" r="1.25"/><circle cx="379.83" cy="152.7" r="1.25"/><circle cx="385.81" cy="143.73" r="1.25"/><circle cx="366.27" cy="153.34" r="1.25"/><circle cx="368.81" cy="154.11" r="1.25"/><circle cx="378.15" cy="154.3" r="1.25"/><circle cx="380.51" cy="152.12" r="1.25"/><circle cx="374.92" cy="153.1" r="1.25"/><circle cx="373.26" cy="153.46" r="1.25"/><circle cx="364.79" cy="154.49" r="1.25"/><circle cx="356.15" cy="149.98" r="1.25"/><circle cx="374.2" cy="153.75" r="1.25"/><circle cx="370.99" cy="153.2" r="1.25"/><circle cx="359.19" cy="148.58" r="1.25"/><circle cx="375.35" cy="154.42" r="1.25"/><circle cx="355.18" cy="146.32" r="1.25"/><circle cx="358.4" cy="145.29" r="1.25"/><circle cx="362.05" cy="150.16" r="1.25"/><circle cx="373.36" cy="154.07" r="1.25"/><circle cx="374.44" cy="153.69" r="1.25"/><circle cx="359.28" cy="137.65" r="1.25"/><circle cx="362.65" cy="153.39" r="1.25"/><circle cx="358.07" cy="139.97" r="1.25"/><circle cx="382.11" cy="144.95" r="1.25"/><circle cx="367.56" cy="153.98" r="1.25"/><circle cx="355.46" cy="141.49" r="1.25"/><circle cx="372.53" cy="153.86" r="1.25"/><circle cx="375.11" cy="153.73" r="1.25"/><circle cx="384.15" cy="141.52" r="1.25"/><circle cx="362.8" cy="150.6" r="1.25"/><circle cx="356.46" cy="142.58" r="1.25"/><circle cx="367.69" cy="154.02" r="1.25"/><circle cx="356.91" cy="138.24" r="1.25"/><circle cx="355.48" cy="142.92" r="1.25"/><circle cx="384.27" cy="150.67" r="1.25"/><circle cx="361.29" cy="148.01" r="1.25"/><circle cx="370.82" cy="153.49" r="1.25"/><circle cx="380.31" cy="152.85" r="1.25"/><circle cx="364.69" cy="153.93" r="1.25"/><circle cx="356.6" cy="136.83" r="1.25"/><circle cx="379.37" cy="151.48" r="1.25"/><circle cx="355.3" cy="138.72" r="1.25"/><circle cx="378.2" cy="153.38" r="1.25"/><circle cx="378.09" cy="153.48" r="1.25"/><circle cx="362.1" cy="153.33" r="1.25"/><circle cx="362.3" cy="154" r="1.25"/><circle cx="365.5" cy="153.36" r="1.25"/><circle cx="376.65" cy="153.25" r="1.25"/><circle cx="377.16" cy="153.98" r="1.25"/><circle cx="372.27" cy="153.74" r="1.25"/><circle cx="379.54" cy="151.89" r="1.25"/><circle cx="363.32" cy="152.35" r="1.25"/><circle cx="385.02" cy="149.11" r="1.25"/><circle cx="382.38" cy="153.97" r="1.25"/><circle cx="363.17" cy="153.38" r="1.25"/><circle cx="378.16" cy="152.65" r="1.25"/><circle cx="378.23" cy="153.63" r="1.25"/><circle cx="382.39" cy="149.16" r="1.25"/><circle cx="362.51" cy="149.83" r="1.25"/><circle cx="374.65" cy="153.43" r="1.25"/><circle cx="375.72" cy="153.11" r="1.25"/><circle cx="369.65" cy="153.26" r="1.25"/><circle cx="376.73" cy="153.24" r="1.25"/><circle cx="368.65" cy="153.39" r="1.25"/><circle cx="372.78" cy="153.92" r="1.25"/><circle cx="361.67" cy="148.97" r="1.25"/><circle cx="357.51" cy="135.62" r="1.25"/><circle cx="359.58" cy="153.4" r="1.25"/><circle cx="358.41" cy="135.64" r="1.25"/><circle cx="365.79" cy="154.17" r="1.25"/><circle cx="355.99" cy="152.78" r="1.25"/><circle cx="376.57" cy="153.5" r="1.25"/><circle cx="376.71" cy="153.38" r="1.25"/><circle cx="357.14" cy="141.12" r="1.25"/><circle cx="366.37" cy="153.29" r="1.25"/><circle cx="380.51" cy="148.42" r="1.25"/><circle cx="357.14" cy="136.64" r="1.25"/><circle cx="383.45" cy="140" r="1.25"/><circle cx="358.42" cy="148.42" r="1.25"/><circle cx="358.57" cy="152.93" r="1.25"/><circle cx="381.38" cy="146.63" r="1.25"/><circle cx="374.76" cy="153.28" r="1.25"/><circle cx="374.68" cy="153.95" r="1.25"/><circle cx="358.2" cy="150.96" r="1.25"/><circle cx="378.58" cy="153.74" r="1.25"/><circle cx="364.99" cy="153.76" r="1.25"/><circle cx="355.75" cy="147.87" r="1.25"/><circle cx="363.86" cy="152.92" r="1.25"/><circle cx="366.51" cy="153.9" r="1.25"/><circle cx="384.98" cy="144.36" r="1.25"/><circle cx="381.49" cy="147.84" r="1.25"/><circle cx="356.06" cy="144.86" r="1.25"/><circle cx="368.63" cy="153.34" r="1.25"/><circle cx="365.85" cy="153.41" r="1.25"/><circle cx="371.77" cy="154.05" r="1.25"/><circle cx="381.83" cy="152.74" r="1.25"/><circle cx="380.51" cy="152.74" r="1.25"/><circle cx="355.14" cy="149.15" r="1.25"/><circle cx="378.73" cy="151.82" r="1.25"/><circle cx="355.24" cy="144.04" r="1.25"/><circle cx="370.34" cy="153.31" r="1.25"/><circle cx="360.82" cy="147.78" r="1.25"/><circle cx="365.86" cy="153.27" r="1.25"/><circle cx="363.18" cy="151.33" r="1.25"/><circle cx="363.9" cy="153.88" r="1.25"/><circle cx="376.78" cy="153.66" r="1.25"/><circle cx="358.51" cy="140.43" r="1.25"/><circle cx="357.61" cy="137.48" r="1.25"/><circle cx="376.71" cy="153.32" r="1.25"/><circle cx="374.57" cy="153.85" r="1.25"/><circle cx="367.54" cy="153.8" r="1.25"/><circle cx="382.7" cy="152.39" r="1.25"/><circle cx="382.64" cy="153.67" r="1.25"/><circle cx="361.49" cy="151.34" r="1.25"/><circle cx="383.04" cy="146.07" r="1.25"/><circle cx="366.86" cy="153.21" r="1.25"/><circle cx="362.34" cy="151.4" r="1.25"/><circle cx="371.58" cy="153.36" r="1.25"/><circle cx="378.44" cy="152.84" r="1.25"/><circle cx="365.9" cy="153.89" r="1.25"/><circle cx="359.92" cy="141.05" r="1.25"/><circle cx="375.63" cy="153.37" r="1.25"/><circle cx="360.36" cy="147.26" r="1.25"/><circle cx="379.08" cy="152.3" r="1.25"/><circle cx="359.01" cy="144.11" r="1.25"/><circle cx="382.54" cy="150.15" r="1.25"/><circle cx="361.04" cy="150.24" r="1.25"/><circle cx="376.9" cy="153.26" r="1.25"/><circle cx="359.89" cy="150.68" r="1.25"/><circle cx="362.78" cy="152.65" r="1.25"/><circle cx="371.29" cy="154.14" r="1.25"/><circle cx="365.27" cy="154.09" r="1.25"/><circle cx="385.33" cy="141.34" r="1.25"/><circle cx="358.26" cy="134.92" r="1.25"/><circle cx="358.25" cy="144.66" r="1.25"/><circle cx="385.6" cy="140.66" r="1.25"/><circle cx="377.83" cy="153.66" r="1.25"/><circle cx="361.18" cy="147.46" r="1.25"/><circle cx="358.41" cy="148.4" r="1.25"/><circle cx="367.14" cy="154.39" r="1.25"/><circle cx="367.47" cy="153.31" r="1.25"/><circle cx="376.6" cy="153.66" r="1.25"/><circle cx="374.7" cy="153.71" r="1.25"/><circle cx="359.5" cy="142.91" r="1.25"/><circle cx="367.65" cy="153.37" r="1.25"/><circle cx="383.25" cy="146.71" r="1.25"/><circle cx="372.89" cy="153.36" r="1.25"/><circle cx="368.16" cy="154.03" r="1.25"/><circle cx="377.49" cy="153.22" r="1.25"/><circle cx="379.1" cy="151.93" r="1.25"/><circle cx="381.53" cy="147.27" r="1.25"/><circle cx="374.99" cy="153.72" r="1.25"/><circle cx="364.8" cy="153.5" r="1.25"/><circle cx="358.13" cy="143.92" r="1.25"/><circle cx="379.35" cy="151.51" r="1.25"/><circle cx="374.62" cy="154" r="1.25"/><circle cx="368.23" cy="153.72" r="1.25"/><circle cx="374.37" cy="153.78" r="1.25"/><circle cx="376.03" cy="153.16" r="1.25"/><circle cx="360.77" cy="146.06" r="1.25"/><circle cx="379.22" cy="152.73" r="1.25"/><circle cx="370.29" cy="153.11" r="1.25"/><circle cx="356.28" cy="142.51" r="1.25"/><circle cx="360.09" cy="142.38" r="1.25"/><circle cx="384.26" cy="144.4" r="1.25"/><circle cx="358.23" cy="141.18" r="1.25"/><circle cx="371.87" cy="153.4" r="1.25"/><circle cx="370.98" cy="153.49" r="1.25"/><circle cx="380.8" cy="149.93" r="1.25"/><circle cx="367.82" cy="153.14" r="1.25"/><circle cx="361.61" cy="148.39" r="1.25"/><circle cx="367.27" cy="153.35" r="1.25"/><circle cx="358.89" cy="135.86" r="1.25"/><circle cx="366.12" cy="154.34" r="1.25"/><circle cx="363.61" cy="153.27" r="1.25"/><circle cx="355.51" cy="145.06" r="1.25"/><circle cx="368.14" cy="153.42" r="1.25"/><circle cx="366.02" cy="153.98" r="1.25"/><circle cx="362.06" cy="149.32" r="1.25"/><circle cx="384.24" cy="144.3" r="1.25"/><circle cx="361.89" cy="148.49" r="1.25"/><circle cx="367.25" cy="154.06" r="1.25"/><circle cx="359.11" cy="139.41" r="1.25"/><circle cx="380.2" cy="150.38" r="1.25"/><circle cx="369.64" cy="153.58" r="1.25"/><circle cx="362.11" cy="148.35" r="1.25"/><circle cx="366.05" cy="153.49" r="1.25"/><circle cx="380.48" cy="148.87" r="1.25"/><circle cx="369.61" cy="153.94" r="1.25"/><circle cx="372.1" cy="154.2" r="1.25"/><circle cx="380.95" cy="150.88" r="1.25"/><circle cx="381.47" cy="150.97" r="1.25"/><circle cx="366.76" cy="154" r="1.25"/><circle cx="368.31" cy="154.1" r="1.25"/><circle cx="355.18" cy="140.57" r="1.25"/><circle cx="363.82" cy="153.77" r="1.25"/><circle cx="364.46" cy="153.69" r="1.25"/><circle cx="368.38" cy="153.49" r="1.25"/><circle cx="375.54" cy="153.84" r="1.25"/><circle cx="383.89" cy="140.29" r="1.25"/><circle cx="356.87" cy="137.51" r="1.25"/><circle cx="383.18" cy="142.41" r="1.25"/><circle cx="359.45" cy="139.62" r="1.25"/><circle cx="374.73" cy="154.44" r="1.25"/><circle cx="355.46" cy="137.08" r="1.25"/><circle cx="375.43" cy="154" r="1.25"/><circle cx="358.25" cy="149.82" r="1.25"/><circle cx="362.34" cy="149.92" r="1.25"/><circle cx="365.84" cy="154.15" r="1.25"/><circle cx="383.13" cy="142.43" r="1.25"/><circle cx="360.31" cy="141.99" r="1.25"/><circle cx="373.96" cy="153.33" r="1.25"/><circle cx="375.82" cy="153.2" r="1.25"/><circle cx="379.53" cy="150.8" r="1.25"/><circle cx="361.22" cy="147.13" r="1.25"/><circle cx="371.55" cy="153.37" r="1.25"/><circle cx="368.7" cy="153.21" r="1.25"/><circle cx="372.31" cy="153.98" r="1.25"/><circle cx="362.36" cy="153.25" r="1.25"/><circle cx="370.39" cy="154.33" r="1.25"/><circle cx="369.58" cy="154.17" r="1.25"/><circle cx="370.33" cy="153.66" r="1.25"/><circle cx="371.83" cy="153.23" r="1.25"/><circle cx="355.3" cy="138.77" r="1.25"/><circle cx="369.61" cy="153.58" r="1.25"/><circle cx="375.72" cy="153.26" r="1.25"/><circle cx="366.72" cy="153.76" r="1.25"/><circle cx="384.88" cy="152.06" r="1.25"/><circle cx="374.85" cy="153.49" r="1.25"/><circle cx="355.98" cy="141.64" r="1.25"/><circle cx="376.26" cy="153.16" r="1.25"/><circle cx="365.34" cy="153.11" r="1.25"/><circle cx="370.93" cy="153.68" r="1.25"/><circle cx="382.92" cy="153.41" r="1.25"/><circle cx="377.36" cy="153.51" r="1.25"/><circle cx="365.6" cy="153.24" r="1.25"/><circle cx="366.45" cy="153.69" r="1.25"/><circle cx="371.39" cy="153.34" r="1.25"/><circle cx="361.63" cy="150.19" r="1.25"/><circle cx="368.19" cy="153.59" r="1.25"/><circle cx="380.73" cy="151.61" r="1.25"/><circle cx="380.76" cy="150.78" r="1.25"/><circle cx="370.72" cy="153.97" r="1.25"/><circle cx="370.8" cy="153.11" r="1.25"/><circle cx="375.39" cy="153.31" r="1.25"/><circle cx="365.36" cy="153.9" r="1.25"/><circle cx="364.38" cy="153.55" r="1.25"/><circle cx="374.78" cy="153.32" r="1.25"/><circle cx="356.34" cy="139.6" r="1.25"/><circle cx="382.55" cy="146.37" r="1.25"/><circle cx="356.64" cy="146.66" r="1.25"/><circle cx="355.29" cy="149.35" r="1.25"/><circle cx="383.66" cy="143.76" r="1.25"/><circle cx="375.5" cy="153.32" r="1.25"/><circle cx="383.3" cy="144.26" r="1.25"/><circle cx="374.22" cy="153.5" r="1.25"/><circle cx="376.69" cy="153.54" r="1.25"/><circle cx="376.21" cy="154.06" r="1.25"/><circle cx="375.78" cy="153.71" r="1.25"/><circle cx="378.74" cy="154.01" r="1.25"/><circle cx="360.72" cy="153.5" r="1.25"/><circle cx="379.11" cy="151.34" r="1.25"/><circle cx="375.43" cy="153.83" r="1.25"/><circle cx="380.6" cy="148.75" r="1.25"/><circle cx="372.53" cy="153.99" r="1.25"/><circle cx="364.46" cy="153.76" r="1.25"/><circle cx="364.97" cy="153.75" r="1.25"/><circle cx="374.99" cy="153.16" r="1.25"/><circle cx="356.79" cy="141.75" r="1.25"/><circle cx="356.32" cy="150.66" r="1.25"/><circle cx="380.22" cy="150.63" r="1.25"/><circle cx="383.58" cy="146.08" r="1.25"/><circle cx="355.54" cy="145.58" r="1.25"/><circle cx="373.45" cy="153.15" r="1.25"/><circle cx="385.5" cy="145.04" r="1.25"/><circle cx="367.88" cy="154.24" r="1.25"/><circle cx="375.08" cy="154.06" r="1.25"/><circle cx="359.8" cy="153.81" r="1.25"/><circle cx="355.25" cy="141.07" r="1.25"/><circle cx="358.87" cy="136.06" r="1.25"/><circle cx="357.83" cy="136.06" r="1.25"/><circle cx="359.1" cy="153.61" r="1.25"/><circle cx="377.4" cy="154.01" r="1.25"/><circle cx="377.84" cy="154.05" r="1.25"/><circle cx="356.65" cy="138.54" r="1.25"/><circle cx="377.22" cy="153.24" r="1.25"/><circle cx="377.72" cy="154.27" r="1.25"/><circle cx="374.59" cy="153.41" r="1.25"/><circle cx="369.38" cy="153.16" r="1.25"/><circle cx="362.98" cy="150.82" r="1.25"/><circle cx="377.33" cy="154.45" r="1.25"/><circle cx="355.56" cy="141.33" r="1.25"/><circle cx="380.44" cy="153.54" r="1.25"/><circle cx="364.74" cy="153.38" r="1.25"/><circle cx="360.25" cy="142.08" r="1.25"/><circle cx="370.18" cy="154.33" r="1.25"/><circle cx="366.49" cy="153.57" r="1.25"/><circle cx="368.7" cy="153.45" r="1.25"/><circle cx="359.59" cy="140.52" r="1.25"/><circle cx="366.36" cy="153.48" r="1.25"/><circle cx="374.62" cy="153.77" r="1.25"/><circle cx="367.06" cy="153.32" r="1.25"/><circle cx="384.39" cy="140.62" r="1.25"/><circle cx="372.67" cy="153.94" r="1.25"/><circle cx="356.98" cy="135.2" r="1.25"/><circle cx="376.9" cy="153.27" r="1.25"/><circle cx="365.39" cy="153.53" r="1.25"/><circle cx="385.4" cy="140.03" r="1.25"/><circle cx="373.74" cy="153.91" r="1.25"/><circle cx="368.39" cy="153.21" r="1.25"/><circle cx="366.78" cy="153.44" r="1.25"/><circle cx="373.76" cy="153.2" r="1.25"/><circle cx="380.13" cy="152.31" r="1.25"/><circle cx="355.15" cy="147.98" r="1.25"/><circle cx="368.2" cy="153.55" r="1.25"/><circle cx="380.4" cy="148.72" r="1.25"/><circle cx="356.41" cy="137.85" r="1.25"/><circle cx="380.26" cy="149.13" r="1.25"/><circle cx="372.83" cy="153.97" r="1.25"/><circle cx="381.49" cy="146.38" r="1.25"/><circle cx="376.32" cy="153.18" r="1.25"/><circle cx="365.85" cy="154.28" r="1.25"/><circle cx="372.26" cy="153.31" r="1.25"/><circle cx="361.31" cy="146.99" r="1.25"/><circle cx="383.98" cy="149.07" r="1.25"/><circle cx="373.91" cy="153.44" r="1.25"/><circle cx="369.53" cy="154.07" r="1.25"/><circle cx="363" cy="151.49" r="1.25"/><circle cx="379.64" cy="152.01" r="1.25"/><circle cx="357.82" cy="137.07" r="1.25"/><circle cx="379.04" cy="153.41" r="1.25"/><circle cx="373.07" cy="153.2" r="1.25"/><circle cx="382.54" cy="146.66" r="1.25"/><circle cx="369.87" cy="153.55" r="1.25"/><circle cx="360.96" cy="151.37" r="1.25"/><circle cx="360.7" cy="145.37" r="1.25"/><circle cx="366.35" cy="153.58" r="1.25"/><circle cx="367.58" cy="153.64" r="1.25"/><circle cx="359.72" cy="152.94" r="1.25"/><circle cx="386.01" cy="146.81" r="1.25"/><circle cx="358.39" cy="140.34" r="1.25"/><circle cx="379.51" cy="153.46" r="1.25"/><circle cx="373.61" cy="153.86" r="1.25"/><circle cx="371.2" cy="154.42" r="1.25"/><circle cx="356.14" cy="135.83" r="1.25"/><circle cx="381.95" cy="148.11" r="1.25"/><circle cx="372.68" cy="153.98" r="1.25"/><circle cx="379.25" cy="152.57" r="1.25"/><circle cx="384.44" cy="140.81" r="1.25"/><circle cx="380.48" cy="148.12" r="1.25"/><circle cx="362.97" cy="154.18" r="1.25"/><circle cx="361.33" cy="151.94" r="1.25"/><circle cx="357.69" cy="152.31" r="1.25"/><circle cx="372.38" cy="153.23" r="1.25"/><circle cx="369.31" cy="153.14" r="1.25"/><circle cx="383.31" cy="152.61" r="1.25"/><circle cx="373.64" cy="153.79" r="1.25"/><circle cx="358.82" cy="136.02" r="1.25"/><circle cx="363.07" cy="152.19" r="1.25"/><circle cx="374.96" cy="153.13" r="1.25"/><circle cx="375.86" cy="153.8" r="1.25"/><circle cx="369" cy="154.14" r="1.25"/><circle cx="385.04" cy="137.67" r="1.25"/><circle cx="361.97" cy="153.91" r="1.25"/><circle cx="363.03" cy="152.84" r="1.25"/><circle cx="383.09" cy="141.26" r="1.25"/><circle cx="381.05" cy="153.67" r="1.25"/><circle cx="379.48" cy="151.33" r="1.25"/><circle cx="375.15" cy="153.1" r="1.25"/><circle cx="356.83" cy="149.92" r="1.25"/><circle cx="378.5" cy="152.22" r="1.25"/><circle cx="376.08" cy="153.93" r="1.25"/><circle cx="373.44" cy="153.35" r="1.25"/><circle cx="358.37" cy="145.92" r="1.25"/><circle cx="363.07" cy="153.76" r="1.25"/><circle cx="370.02" cy="154.13" r="1.25"/><circle cx="362.49" cy="153.32" r="1.25"/><circle cx="376.11" cy="154.45" r="1.25"/><circle cx="377.33" cy="154.09" r="1.25"/><circle cx="356.22" cy="136.65" r="1.25"/><circle cx="361.94" cy="147.94" r="1.25"/><circle cx="381.97" cy="144.39" r="1.25"/><circle cx="359.43" cy="145.12" r="1.25"/><circle cx="358.11" cy="135.28" r="1.25"/><circle cx="381.21" cy="148.37" r="1.25"/><circle cx="369.12" cy="153.87" r="1.25"/><circle cx="380.61" cy="150.52" r="1.25"/><circle cx="374.57" cy="154.17" r="1.25"/><circle cx="361.97" cy="153.71" r="1.25"/><circle cx="377.23" cy="153.59" r="1.25"/><circle cx="359.59" cy="139.54" r="1.25"/><circle cx="363.36" cy="153" r="1.25"/><circle cx="359.93" cy="148.77" r="1.25"/><circle cx="381.13" cy="150.79" r="1.25"/><circle cx="360.3" cy="146.49" r="1.25"/><circle cx="364.96" cy="153.19" r="1.25"/><circle cx="358.64" cy="135.33" r="1.25"/><circle cx="356.86" cy="136.5" r="1.25"/><circle cx="375.82" cy="154.06" r="1.25"/><circle cx="369.9" cy="153.95" r="1.25"/><circle cx="363.09" cy="153.45" r="1.25"/><circle cx="366.39" cy="153.1" r="1.25"/><circle cx="386.04" cy="139.35" r="1.25"/><circle cx="358.12" cy="146.49" r="1.25"/><circle cx="382.88" cy="152.89" r="1.25"/><circle cx="377.62" cy="153.94" r="1.25"/><circle cx="385.44" cy="153.75" r="1.25"/><circle cx="380.12" cy="152" r="1.25"/><circle cx="359.44" cy="154.34" r="1.25"/><circle cx="380.9" cy="149.71" r="1.25"/><circle cx="360.86" cy="148.48" r="1.25"/><circle cx="383.37" cy="149.72" r="1.25"/><circle cx="372.81" cy="154.18" r="1.25"/><circle cx="360.68" cy="144.64" r="1.25"/><circle cx="377.16" cy="154.08" r="1.25"/><circle cx="357.56" cy="151.24" r="1.25"/><circle cx="373.97" cy="153.67" r="1.25"/><circle cx="363.59" cy="153.74" r="1.25"/><circle cx="374.09" cy="153.41" r="1.25"/><circle cx="380.26" cy="150.53" r="1.25"/><circle cx="361.37" cy="153.32" r="1.25"/><circle cx="377.81" cy="153.71" r="1.25"/><circle cx="377.47" cy="154.34" r="1.25"/><circle cx="380.23" cy="151.91" r="1.25"/><circle cx="381.2" cy="146.75" r="1.25"/><circle cx="370.38" cy="154.44" r="1.25"/><circle cx="383.32" cy="145.99" r="1.25"/><circle cx="382.13" cy="150.22" r="1.25"/><circle cx="360.87" cy="144.75" r="1.25"/><circle cx="366.48" cy="154.14" r="1.25"/><circle cx="366.61" cy="153.54" r="1.25"/><circle cx="355.24" cy="143.57" r="1.25"/><circle cx="368.92" cy="153.64" r="1.25"/><circle cx="358.84" cy="139.74" r="1.25"/><circle cx="380.41" cy="148.79" r="1.25"/><circle cx="365.05" cy="153.41" r="1.25"/><circle cx="366.92" cy="153.36" r="1.25"/><circle cx="357" cy="136.7" r="1.25"/><circle cx="384.68" cy="144.55" r="1.25"/><circle cx="371.01" cy="153.62" r="1.25"/><circle cx="371.76" cy="154.42" r="1.25"/><circle cx="385.09" cy="149.01" r="1.25"/><circle cx="360.75" cy="152.38" r="1.25"/><circle cx="362.86" cy="151.01" r="1.25"/><circle cx="356.03" cy="151.27" r="1.25"/><circle cx="376.77" cy="154.09" r="1.25"/><circle cx="355.65" cy="142.05" r="1.25"/><circle cx="372.97" cy="153.63" r="1.25"/><circle cx="376.88" cy="154.24" r="1.25"/><circle cx="382.06" cy="145.69" r="1.25"/><circle cx="356.5" cy="150.51" r="1.25"/><circle cx="370.4" cy="153.66" r="1.25"/><circle cx="363.77" cy="154.05" r="1.25"/><circle cx="367.68" cy="154.18" r="1.25"/><circle cx="373.45" cy="153.24" r="1.25"/><circle cx="359.66" cy="143.77" r="1.25"/><circle cx="378.24" cy="153.97" r="1.25"/><circle cx="380.71" cy="147.65" r="1.25"/><circle cx="367.15" cy="153.76" r="1.25"/><circle cx="381.13" cy="149.29" r="1.25"/><circle cx="367.36" cy="153.15" r="1.25"/><circle cx="379.18" cy="152.94" r="1.25"/><circle cx="362.55" cy="152.34" r="1.25"/><circle cx="368.6" cy="153.11" r="1.25"/><circle cx="380.04" cy="149.47" r="1.25"/><circle cx="380.37" cy="148.99" r="1.25"/><circle cx="356.76" cy="142.63" r="1.25"/><circle cx="384.79" cy="138.42" r="1.25"/><circle cx="362.83" cy="152.33" r="1.25"/><circle cx="374.71" cy="153.84" r="1.25"/><circle cx="371.55" cy="154.31" r="1.25"/><circle cx="368.52" cy="153.65" r="1.25"/><circle cx="355.75" cy="150.31" r="1.25"/><circle cx="385.16" cy="140.58" r="1.25"/><circle cx="384.14" cy="142.88" r="1.25"/><circle cx="380.19" cy="149.24" r="1.25"/><circle cx="382.52" cy="153.48" r="1.25"/><circle cx="374.99" cy="153.98" r="1.25"/><circle cx="376.13" cy="153.97" r="1.25"/><circle cx="371.91" cy="153.17" r="1.25"/><circle cx="374.36" cy="154" r="1.25"/><circle cx="371.23" cy="153.74" r="1.25"/><circle cx="384.58" cy="147.9" r="1.25"/><circle cx="364.57" cy="153.48" r="1.25"/><circle cx="358.83" cy="141.62" r="1.25"/><circle cx="384.74" cy="144.25" r="1.25"/><circle cx="363.42" cy="152.92" r="1.25"/><circle cx="371.65" cy="154.16" r="1.25"/><circle cx="358.94" cy="150.41" r="1.25"/><circle cx="364.2" cy="153.71" r="1.25"/><circle cx="364.04" cy="153.88" r="1.25"/><circle cx="357.82" cy="141.49" r="1.25"/><circle cx="381.13" cy="148.67" r="1.25"/><circle cx="372.78" cy="153.48" r="1.25"/><circle cx="361.34" cy="147.37" r="1.25"/><circle cx="369.39" cy="153.6" r="1.25"/><circle cx="374.1" cy="153.7" r="1.25"/><circle cx="364.73" cy="154.01" r="1.25"/><circle cx="361.97" cy="150.38" r="1.25"/><circle cx="366.98" cy="153.55" r="1.25"/><circle cx="355.47" cy="146.22" r="1.25"/><circle cx="381.82" cy="150.89" r="1.25"/><circle cx="372.36" cy="153.67" r="1.25"/><circle cx="363.93" cy="152.59" r="1.25"/><circle cx="364.26" cy="153.27" r="1.25"/><circle cx="360.02" cy="152.55" r="1.25"/><circle cx="382.11" cy="148.3" r="1.25"/><circle cx="357.02" cy="144.8" r="1.25"/><circle cx="368.74" cy="153.38" r="1.25"/><circle cx="358.49" cy="148.03" r="1.25"/><circle cx="384.84" cy="141.01" r="1.25"/><circle cx="359.89" cy="147.69" r="1.25"/><circle cx="366.03" cy="153.45" r="1.25"/><circle cx="374.21" cy="153.25" r="1.25"/><circle cx="380.56" cy="150.37" r="1.25"/><circle cx="378" cy="153.1" r="1.25"/><circle cx="378.65" cy="153.01" r="1.25"/><circle cx="379.43" cy="151.4" r="1.25"/><circle cx="383.46" cy="151.27" r="1.25"/><circle cx="382.1" cy="154.31" r="1.25"/><circle cx="378.84" cy="152.56" r="1.25"/><circle cx="370.53" cy="153.13" r="1.25"/><circle cx="372.83" cy="153.77" r="1.25"/><circle cx="379.39" cy="150.95" r="1.25"/><circle cx="373.93" cy="153.82" r="1.25"/><circle cx="369.12" cy="153.71" r="1.25"/><circle cx="377.51" cy="153.94" r="1.25"/><circle cx="367.21" cy="153.59" r="1.25"/><circle cx="367.02" cy="153.9" r="1.25"/><circle cx="379.5" cy="150.83" r="1.25"/><circle cx="370.59" cy="153.73" r="1.25"/><circle cx="360.81" cy="149.81" r="1.25"/><circle cx="359.59" cy="143.56" r="1.25"/><circle cx="373.13" cy="154.27" r="1.25"/><circle cx="383.63" cy="147.84" r="1.25"/><circle cx="381.25" cy="146.8" r="1.25"/><circle cx="384.82" cy="149.36" r="1.25"/><circle cx="368.32" cy="153.18" r="1.25"/><circle cx="355.43" cy="152.66" r="1.25"/><circle cx="372.61" cy="153.66" r="1.25"/><circle cx="383.63" cy="141.7" r="1.25"/><circle cx="371.79" cy="153.09" r="1.25"/><circle cx="371.14" cy="153.64" r="1.25"/><circle cx="376.34" cy="153.8" r="1.25"/><circle cx="366.19" cy="153.54" r="1.25"/><circle cx="365.98" cy="153.14" r="1.25"/><circle cx="376.07" cy="153.63" r="1.25"/><circle cx="358.17" cy="144.81" r="1.25"/><circle cx="367.53" cy="153.58" r="1.25"/><circle cx="372.9" cy="153.22" r="1.25"/><circle cx="385" cy="144.62" r="1.25"/><circle cx="368.75" cy="153.51" r="1.25"/><circle cx="385.98" cy="147.27" r="1.25"/><circle cx="371.53" cy="153.29" r="1.25"/><circle cx="360.39" cy="148.88" r="1.25"/><circle cx="385.43" cy="140.12" r="1.25"/><circle cx="370.99" cy="154.23" r="1.25"/><circle cx="382.83" cy="144.21" r="1.25"/><circle cx="380.54" cy="147.84" r="1.25"/><circle cx="382.63" cy="147.69" r="1.25"/><circle cx="359.95" cy="148.51" r="1.25"/><circle cx="370.96" cy="153.65" r="1.25"/><circle cx="360.93" cy="151.45" r="1.25"/><circle cx="374.63" cy="153.53" r="1.25"/><circle cx="366.05" cy="153.09" r="1.25"/><circle cx="374.83" cy="154.37" r="1.25"/><circle cx="367.85" cy="153.32" r="1.25"/><circle cx="364.61" cy="153.43" r="1.25"/><circle cx="355.22" cy="147.19" r="1.25"/><circle cx="381.21" cy="148.69" r="1.25"/><circle cx="375.81" cy="154.08" r="1.25"/><circle cx="370.53" cy="153.59" r="1.25"/><circle cx="363.35" cy="152.37" r="1.25"/><circle cx="371.58" cy="153.09" r="1.25"/><circle cx="372.91" cy="153.77" r="1.25"/><circle cx="358.87" cy="149.78" r="1.25"/><circle cx="378.64" cy="154.02" r="1.25"/><circle cx="358.2" cy="149.14" r="1.25"/><circle cx="371.3" cy="153.28" r="1.25"/><circle cx="374.1" cy="153.3" r="1.25"/><circle cx="357.03" cy="153.76" r="1.25"/><circle cx="378.99" cy="153.15" r="1.25"/><circle cx="377.28" cy="153.85" r="1.25"/><circle cx="360.35" cy="149.51" r="1.25"/><circle cx="358.18" cy="135.74" r="1.25"/><circle cx="373.15" cy="153.86" r="1.25"/><circle cx="369.04" cy="153.81" r="1.25"/><circle cx="356.8" cy="136.63" r="1.25"/><circle cx="373.16" cy="153.13" r="1.25"/><circle cx="368.73" cy="153.51" r="1.25"/><circle cx="362.83" cy="154.1" r="1.25"/><circle cx="383.96" cy="140.19" r="1.25"/><circle cx="364.86" cy="153.2" r="1.25"/><circle cx="380.39" cy="151.92" r="1.25"/><circle cx="373.78" cy="153.13" r="1.25"/><circle cx="370.46" cy="153.14" r="1.25"/><circle cx="362.63" cy="152.19" r="1.25"/><circle cx="377.37" cy="154.04" r="1.25"/><circle cx="364.68" cy="153.22" r="1.25"/><circle cx="370.12" cy="153.31" r="1.25"/><circle cx="362.65" cy="153.25" r="1.25"/><circle cx="366.21" cy="154.1" r="1.25"/><circle cx="385.22" cy="147.86" r="1.25"/><circle cx="372.51" cy="154.22" r="1.25"/><circle cx="371.65" cy="153.81" r="1.25"/><circle cx="367.6" cy="154.32" r="1.25"/><circle cx="358.92" cy="138.23" r="1.25"/><circle cx="365.99" cy="154.01" r="1.25"/><circle cx="361.03" cy="150.41" r="1.25"/><circle cx="362.45" cy="154.08" r="1.25"/><circle cx="375.69" cy="153.87" r="1.25"/><circle cx="359.93" cy="142.78" r="1.25"/><circle cx="357.97" cy="146.86" r="1.25"/><circle cx="380.99" cy="152.79" r="1.25"/><circle cx="368.84" cy="153.26" r="1.25"/><circle cx="380.05" cy="153.13" r="1.25"/><circle cx="366.04" cy="153.39" r="1.25"/><circle cx="366.78" cy="153.13" r="1.25"/><circle cx="361.55" cy="146.45" r="1.25"/><circle cx="370.75" cy="154.03" r="1.25"/><circle cx="369.13" cy="154.19" r="1.25"/><circle cx="377" cy="153.98" r="1.25"/><circle cx="382.99" cy="145.09" r="1.25"/><circle cx="366.51" cy="154.01" r="1.25"/><circle cx="373.95" cy="154.06" r="1.25"/><circle cx="382.14" cy="152.1" r="1.25"/><circle cx="371" cy="153.61" r="1.25"/><circle cx="363.48" cy="152.29" r="1.25"/><circle cx="367.03" cy="153.47" r="1.25"/><circle cx="372.7" cy="153.91" r="1.25"/><circle cx="367.19" cy="154.28" r="1.25"/><circle cx="360.59" cy="143.5" r="1.25"/><circle cx="365.05" cy="153.46" r="1.25"/><circle cx="358.48" cy="141.65" r="1.25"/><circle cx="366.31" cy="153.66" r="1.25"/><circle cx="364.31" cy="154.31" r="1.25"/><circle cx="364.75" cy="154.04" r="1.25"/><circle cx="359.01" cy="140.06" r="1.25"/><circle cx="363.85" cy="153.47" r="1.25"/><circle cx="383.28" cy="142.32" r="1.25"/><circle cx="382.47" cy="143.28" r="1.25"/><circle cx="359.2" cy="147.65" r="1.25"/><circle cx="356.02" cy="140.52" r="1.25"/><circle cx="375.67" cy="153.86" r="1.25"/><circle cx="367.89" cy="153.47" r="1.25"/><circle cx="376.78" cy="154" r="1.25"/><circle cx="381.35" cy="150.34" r="1.25"/><circle cx="374.59" cy="154.11" r="1.25"/><circle cx="358.67" cy="136.38" r="1.25"/><circle cx="377.86" cy="153.27" r="1.25"/><circle cx="356.35" cy="152.8" r="1.25"/><circle cx="360.12" cy="150.22" r="1.25"/><circle cx="364.5" cy="153.82" r="1.25"/><circle cx="356.32" cy="146.59" r="1.25"/><circle cx="374.89" cy="154.11" r="1.25"/><circle cx="381.12" cy="148.98" r="1.25"/><circle cx="377.32" cy="153.99" r="1.25"/><circle cx="368.58" cy="153.44" r="1.25"/><circle cx="365.92" cy="154.49" r="1.25"/><circle cx="380.96" cy="147.94" r="1.25"/><circle cx="363.98" cy="154.32" r="1.25"/><circle cx="381.58" cy="147.74" r="1.25"/><circle cx="356.57" cy="147.81" r="1.25"/><circle cx="358.55" cy="137.99" r="1.25"/><circle cx="361.61" cy="146.91" r="1.25"/><circle cx="378.34" cy="154.16" r="1.25"/><circle cx="376.63" cy="153.8" r="1.25"/><circle cx="378.27" cy="152.7" r="1.25"/><circle cx="363.82" cy="154.15" r="1.25"/><circle cx="384.44" cy="145.73" r="1.25"/><circle cx="383.94" cy="142.31" r="1.25"/><circle cx="378" cy="152.99" r="1.25"/><circle cx="374.57" cy="153.72" r="1.25"/><circle cx="356.78" cy="139.62" r="1.25"/><circle cx="368.38" cy="153.64" r="1.25"/><circle cx="383.87" cy="151.09" r="1.25"/><circle cx="378.72" cy="154.24" r="1.25"/><circle cx="376.88" cy="153.3" r="1.25"/><circle cx="363.2" cy="152.43" r="1.25"/><circle cx="385.15" cy="142.49" r="1.25"/><circle cx="371.96" cy="154" r="1.25"/><circle cx="356.94" cy="145.41" r="1.25"/><circle cx="367.86" cy="154.08" r="1.25"/><circle cx="364.73" cy="154.18" r="1.25"/><circle cx="377.02" cy="153.45" r="1.25"/><circle cx="362.47" cy="152.73" r="1.25"/><circle cx="371.08" cy="153.73" r="1.25"/><circle cx="384.11" cy="147.05" r="1.25"/><circle cx="364.38" cy="153.21" r="1.25"/><circle cx="359.5" cy="143.5" r="1.25"/><circle cx="365.44" cy="153.29" r="1.25"/><circle cx="372.1" cy="153.35" r="1.25"/><circle cx="360.35" cy="144.57" r="1.25"/><circle cx="373.66" cy="153.71" r="1.25"/><circle cx="378.85" cy="151.95" r="1.25"/><circle cx="358.65" cy="146.82" r="1.25"/><circle cx="366.27" cy="154.07" r="1.25"/><circle cx="296.44" cy="153.56" r="1.25"/><circle cx="318.06" cy="152.79" r="1.25"/><circle cx="357.73" cy="153.87" r="1.25"/><circle cx="338.2" cy="153.22" r="1.25"/><circle cx="344.29" cy="153.77" r="1.25"/><circle cx="298.25" cy="154.06" r="1.25"/><circle cx="443.76" cy="152.7" r="1.25"/><circle cx="300.18" cy="152.76" r="1.25"/><circle cx="441.87" cy="153.04" r="1.25"/><circle cx="304.1" cy="153.18" r="1.25"/><circle cx="355.55" cy="153.73" r="1.25"/><circle cx="372.76" cy="154.06" r="1.25"/><circle cx="432.28" cy="152.89" r="1.25"/><circle cx="386.15" cy="152.36" r="1.25"/><circle cx="390.08" cy="153.61" r="1.25"/><circle cx="325.79" cy="153.82" r="1.25"/><circle cx="291.27" cy="152.65" r="1.25"/><circle cx="419.64" cy="153.53" r="1.25"/><circle cx="316.26" cy="152.9" r="1.25"/><circle cx="420.61" cy="152.37" r="1.25"/><circle cx="313.53" cy="152.63" r="1.25"/><circle cx="418.19" cy="152.71" r="1.25"/><circle cx="338.55" cy="153.74" r="1.25"/><circle cx="417.38" cy="153.49" r="1.25"/><circle cx="345.16" cy="153.06" r="1.25"/><circle cx="345.28" cy="152.55" r="1.25"/><circle cx="324.75" cy="154" r="1.25"/><circle cx="376.52" cy="152.92" r="1.25"/><circle cx="416.5" cy="152.78" r="1.25"/><circle cx="430.01" cy="152.34" r="1.25"/><circle cx="365.06" cy="153.16" r="1.25"/><circle cx="311.8" cy="153.53" r="1.25"/><circle cx="378.77" cy="153.93" r="1.25"/><circle cx="395.67" cy="153.78" r="1.25"/><circle cx="356.97" cy="152.29" r="1.25"/><circle cx="301.08" cy="154" r="1.25"/><circle cx="356.39" cy="153.73" r="1.25"/><circle cx="401.2" cy="154.07" r="1.25"/><circle cx="419.83" cy="152.5" r="1.25"/><circle cx="411.31" cy="153.29" r="1.25"/><circle cx="331.68" cy="152.86" r="1.25"/><circle cx="368.26" cy="153.3" r="1.25"/><circle cx="340.44" cy="153.27" r="1.25"/><circle cx="392.21" cy="152.56" r="1.25"/><circle cx="429.82" cy="153.77" r="1.25"/><circle cx="333.66" cy="153.26" r="1.25"/><circle cx="375.97" cy="153.44" r="1.25"/><circle cx="317.8" cy="153.92" r="1.25"/><circle cx="338.08" cy="153.23" r="1.25"/><circle cx="440.46" cy="152.41" r="1.25"/><circle cx="423.72" cy="152.29" r="1.25"/><circle cx="438.96" cy="152.94" r="1.25"/><circle cx="415.14" cy="153.97" r="1.25"/><circle cx="393.85" cy="152.96" r="1.25"/><circle cx="333.86" cy="153.03" r="1.25"/><circle cx="437.54" cy="153.19" r="1.25"/><circle cx="389.25" cy="153.53" r="1.25"/><circle cx="341.19" cy="152.45" r="1.25"/><circle cx="291.3" cy="153.73" r="1.25"/><circle cx="394.2" cy="153.25" r="1.25"/><circle cx="300.37" cy="152.86" r="1.25"/><circle cx="345.71" cy="153.01" r="1.25"/><circle cx="352.73" cy="153.1" r="1.25"/><circle cx="376.2" cy="153.35" r="1.25"/><circle cx="304.96" cy="153.74" r="1.25"/><circle cx="427.61" cy="153.07" r="1.25"/><circle cx="304.65" cy="152.49" r="1.25"/><circle cx="326.98" cy="153.9" r="1.25"/><circle cx="370.82" cy="153.61" r="1.25"/><circle cx="364.25" cy="153.06" r="1.25"/><circle cx="322.72" cy="153.02" r="1.25"/><circle cx="304.77" cy="153.13" r="1.25"/><circle cx="379.93" cy="153.93" r="1.25"/><circle cx="351.41" cy="153.94" r="1.25"/><circle cx="356.39" cy="152.49" r="1.25"/><circle cx="373.94" cy="152.76" r="1.25"/><circle cx="406.57" cy="153.87" r="1.25"/><circle cx="443.52" cy="152.75" r="1.25"/><circle cx="303.04" cy="152.55" r="1.25"/><circle cx="348.87" cy="153.76" r="1.25"/><circle cx="438.68" cy="153.04" r="1.25"/><circle cx="409.42" cy="153.82" r="1.25"/><circle cx="409.61" cy="153.97" r="1.25"/><circle cx="324.35" cy="153.39" r="1.25"/><circle cx="289.3" cy="152.98" r="1.25"/><circle cx="320.6" cy="153.53" r="1.25"/><circle cx="398.74" cy="153.29" r="1.25"/><circle cx="427.39" cy="152.94" r="1.25"/><circle cx="424.78" cy="153.04" r="1.25"/><circle cx="431.96" cy="152.48" r="1.25"/><circle cx="313.46" cy="152.71" r="1.25"/><circle cx="340.87" cy="152.67" r="1.25"/><circle cx="394.49" cy="152.56" r="1.25"/><circle cx="306.3" cy="153.39" r="1.25"/><circle cx="403.46" cy="152.33" r="1.25"/><circle cx="401.01" cy="154" r="1.25"/><circle cx="382.36" cy="153.89" r="1.25"/><circle cx="373.67" cy="152.6" r="1.25"/><circle cx="304.76" cy="152.38" r="1.25"/><circle cx="393.65" cy="153.61" r="1.25"/><circle cx="317.44" cy="153.26" r="1.25"/><circle cx="419.41" cy="153.01" r="1.25"/><circle cx="304.86" cy="154.04" r="1.25"/><circle cx="304.36" cy="152.61" r="1.25"/><circle cx="316.19" cy="153.06" r="1.25"/><circle cx="332.75" cy="152.81" r="1.25"/><circle cx="347.11" cy="153.81" r="1.25"/><circle cx="425.3" cy="153.09" r="1.25"/><circle cx="395.91" cy="152.59" r="1.25"/><circle cx="436.9" cy="154.05" r="1.25"/><circle cx="341.03" cy="153.8" r="1.25"/><circle cx="366.23" cy="152.47" r="1.25"/><circle cx="413.45" cy="154.01" r="1.25"/><circle cx="315.72" cy="152.57" r="1.25"/><circle cx="394.33" cy="153.35" r="1.25"/><circle cx="362.12" cy="153.79" r="1.25"/><circle cx="420.51" cy="153.35" r="1.25"/><circle cx="424.92" cy="152.95" r="1.25"/><circle cx="298.9" cy="153.47" r="1.25"/><circle cx="321.1" cy="152.43" r="1.25"/><circle cx="380.06" cy="154" r="1.25"/><circle cx="313.73" cy="153.41" r="1.25"/><circle cx="360.85" cy="153.02" r="1.25"/><circle cx="348.22" cy="153.43" r="1.25"/><circle cx="287.85" cy="153.01" r="1.25"/><circle cx="339.67" cy="154.04" r="1.25"/><circle cx="359.53" cy="152.26" r="1.25"/><circle cx="294.07" cy="153.81" r="1.25"/><circle cx="392.98" cy="153.58" r="1.25"/><circle cx="330.11" cy="153.16" r="1.25"/><circle cx="328.33" cy="153.03" r="1.25"/><circle cx="370.4" cy="152.32" r="1.25"/><circle cx="443.76" cy="154.01" r="1.25"/><circle cx="375.54" cy="152.66" r="1.25"/><circle cx="424.82" cy="152.65" r="1.25"/><circle cx="386.99" cy="152.91" r="1.25"/><circle cx="344.28" cy="153.56" r="1.25"/><circle cx="412.64" cy="152.47" r="1.25"/><circle cx="435.3" cy="152.82" r="1.25"/><circle cx="334.96" cy="152.67" r="1.25"/><circle cx="403.82" cy="153.14" r="1.25"/><circle cx="387.33" cy="153.43" r="1.25"/><circle cx="373.97" cy="153.33" r="1.25"/><circle cx="296.46" cy="153.46" r="1.25"/><circle cx="338" cy="152.26" r="1.25"/><circle cx="363.02" cy="153.4" r="1.25"/><circle cx="325.39" cy="153.64" r="1.25"/><circle cx="342.11" cy="153.83" r="1.25"/><circle cx="288.04" cy="152.48" r="1.25"/><circle cx="358.54" cy="153.26" r="1.25"/><circle cx="376.82" cy="153.52" r="1.25"/><circle cx="313.61" cy="153.95" r="1.25"/><circle cx="334.57" cy="153.51" r="1.25"/><circle cx="401.78" cy="153.06" r="1.25"/><circle cx="435.11" cy="153.45" r="1.25"/><circle cx="432.55" cy="153" r="1.25"/><circle cx="299.55" cy="153.75" r="1.25"/><circle cx="378.67" cy="152.26" r="1.25"/><circle cx="343.34" cy="152.65" r="1.25"/><circle cx="354.61" cy="152.48" r="1.25"/><circle cx="297.61" cy="153.19" r="1.25"/><circle cx="429.05" cy="153.57" r="1.25"/><circle cx="327.62" cy="154.03" r="1.25"/><circle cx="312.92" cy="153.58" r="1.25"/><circle cx="398.26" cy="153.68" r="1.25"/><circle cx="350.07" cy="153.71" r="1.25"/><circle cx="382.22" cy="152.49" r="1.25"/><circle cx="389.36" cy="153.71" r="1.25"/><circle cx="402.93" cy="152.31" r="1.25"/><circle cx="381.92" cy="153.93" r="1.25"/><circle cx="414.88" cy="152.47" r="1.25"/><circle cx="340.84" cy="153.83" r="1.25"/><circle cx="316.65" cy="153.09" r="1.25"/><circle cx="425.31" cy="152.9" r="1.25"/><circle cx="432.81" cy="153.69" r="1.25"/><circle cx="338.56" cy="152.7" r="1.25"/><circle cx="389.5" cy="153.33" r="1.25"/><circle cx="394.24" cy="153.46" r="1.25"/><circle cx="295.98" cy="153.32" r="1.25"/><circle cx="294.09" cy="152.93" r="1.25"/><circle cx="339.79" cy="153.17" r="1.25"/><circle cx="381.42" cy="153.6" r="1.25"/><circle cx="360.16" cy="154.05" r="1.25"/><circle cx="433.19" cy="153.04" r="1.25"/><circle cx="443.03" cy="153.97" r="1.25"/><circle cx="383.97" cy="152.75" r="1.25"/><circle cx="338.94" cy="153.9" r="1.25"/><circle cx="311.59" cy="153.81" r="1.25"/><circle cx="408.19" cy="153.91" r="1.25"/><circle cx="415.6" cy="153.3" r="1.25"/><circle cx="372.06" cy="153" r="1.25"/><circle cx="374.64" cy="152.87" r="1.25"/><circle cx="382.01" cy="153.47" r="1.25"/><circle cx="404.07" cy="153.6" r="1.25"/><circle cx="399.38" cy="152.67" r="1.25"/><circle cx="409.58" cy="153.51" r="1.25"/><circle cx="409.05" cy="152.28" r="1.25"/><circle cx="358.54" cy="153.56" r="1.25"/><circle cx="369.64" cy="152.35" r="1.25"/><circle cx="307.75" cy="154.06" r="1.25"/><circle cx="362.12" cy="152.87" r="1.25"/><circle cx="409.3" cy="153.41" r="1.25"/><circle cx="443.34" cy="153.66" r="1.25"/><circle cx="406.52" cy="153.91" r="1.25"/><circle cx="291.32" cy="153.83" r="1.25"/><circle cx="296.41" cy="153.15" r="1.25"/><circle cx="374.68" cy="153.74" r="1.25"/><circle cx="435.47" cy="153.4" r="1.25"/><circle cx="310.51" cy="153.75" r="1.25"/><circle cx="403.54" cy="152.38" r="1.25"/><circle cx="312.52" cy="154.02" r="1.25"/><circle cx="409.92" cy="153.63" r="1.25"/><circle cx="442.21" cy="153.16" r="1.25"/><circle cx="387.47" cy="153.44" r="1.25"/><circle cx="413.46" cy="153.23" r="1.25"/><circle cx="338.1" cy="152.42" r="1.25"/><circle cx="303.94" cy="152.73" r="1.25"/><circle cx="297.25" cy="152.89" r="1.25"/><circle cx="350.43" cy="152.49" r="1.25"/><circle cx="296.38" cy="153.04" r="1.25"/><circle cx="351.71" cy="152.39" r="1.25"/><circle cx="436.3" cy="152.92" r="1.25"/><circle cx="322.33" cy="153.61" r="1.25"/><circle cx="328.37" cy="153.28" r="1.25"/><circle cx="323.48" cy="153.7" r="1.25"/><circle cx="406.92" cy="152.9" r="1.25"/><circle cx="334.09" cy="152.25" r="1.25"/><circle cx="321.15" cy="153.03" r="1.25"/><circle cx="311.68" cy="152.49" r="1.25"/><circle cx="424.33" cy="153.59" r="1.25"/><circle cx="405.72" cy="152.56" r="1.25"/><circle cx="331.57" cy="153.47" r="1.25"/><circle cx="363.67" cy="152.44" r="1.25"/><circle cx="312.45" cy="152.82" r="1.25"/><circle cx="381.38" cy="153.24" r="1.25"/><circle cx="378.48" cy="152.45" r="1.25"/><circle cx="320.07" cy="152.45" r="1.25"/><circle cx="343.87" cy="152.64" r="1.25"/><circle cx="423.4" cy="153.74" r="1.25"/><circle cx="423.49" cy="152.25" r="1.25"/><circle cx="333.95" cy="154.03" r="1.25"/><circle cx="304.54" cy="152.29" r="1.25"/><circle cx="288.39" cy="152.4" r="1.25"/><circle cx="310.74" cy="152.72" r="1.25"/><circle cx="302.32" cy="153.77" r="1.25"/><circle cx="394.85" cy="153.91" r="1.25"/><circle cx="340.58" cy="152.39" r="1.25"/><circle cx="400.16" cy="152.46" r="1.25"/><circle cx="441.78" cy="154.02" r="1.25"/><circle cx="323.99" cy="152.62" r="1.25"/><circle cx="357.43" cy="130.48" r="1.25"/><circle cx="356.65" cy="126.95" r="1.25"/><circle cx="359.75" cy="133.31" r="1.25"/><circle cx="358.98" cy="136.13" r="1.25"/><circle cx="356.65" cy="124.83" r="1.25"/><circle cx="358.51" cy="119.88" r="1.25"/><circle cx="384.86" cy="129.77" r="1.25"/><circle cx="385.33" cy="134.72" r="1.25"/><circle cx="383.78" cy="137.54" r="1.25"/><circle cx="384.55" cy="132.6" r="1.25"/></g>
<g fill="#3fb1ad"><circle cx="354.59" cy="149.07" r="1.25"/><circle cx="353.82" cy="151.35" r="1.25"/><circle cx="352.98" cy="152.5" r="1.25"/><circle cx="354.11" cy="133.31" r="1.25"/><circle cx="350.97" cy="152.11" r="1.25"/><circle cx="345.79" cy="150.89" r="1.25"/><circle cx="351.65" cy="151.81" r="1.25"/><circle cx="351.15" cy="148.21" r="1.25"/><circle cx="350.24" cy="150.14" r="1.25"/><circle cx="348.59" cy="152.22" r="1.25"/><circle cx="351.58" cy="142.75" r="1.25"/><circle cx="350.48" cy="151.05" r="1.25"/><circle cx="352.28" cy="143.69" r="1.25"/><circle cx="342.43" cy="149.92" r="1.25"/><circle cx="354.65" cy="151.04" r="1.25"/><circle cx="352.03" cy="152.3" r="1.25"/><circle cx="349.4" cy="150.86" r="1.25"/><circle cx="353.51" cy="148.86" r="1.25"/><circle cx="354.63" cy="146.74" r="1.25"/><circle cx="354.55" cy="147.31" r="1.25"/><circle cx="349.08" cy="148.8" r="1.25"/><circle cx="353.39" cy="134.26" r="1.25"/><circle cx="349.55" cy="150.89" r="1.25"/><circle cx="349.49" cy="151.32" r="1.25"/><circle cx="343.46" cy="151.53" r="1.25"/><circle cx="348.62" cy="151.07" r="1.25"/><circle cx="352.77" cy="133.31" r="1.25"/><circle cx="353.62" cy="152.57" r="1.25"/><circle cx="346.27" cy="151.82" r="1.25"/><circle cx="348" cy="149.78" r="1.25"/><circle cx="352.46" cy="151.66" r="1.25"/><circle cx="352.53" cy="152.07" r="1.25"/><circle cx="350.31" cy="144.1" r="1.25"/><circle cx="347.86" cy="152.44" r="1.25"/><circle cx="353.59" cy="147.8" r="1.25"/><circle cx="350.97" cy="149.61" r="1.25"/><circle cx="349.8" cy="152.59" r="1.25"/><circle cx="342.97" cy="149.71" r="1.25"/><circle cx="351.51" cy="149.09" r="1.25"/><circle cx="350.38" cy="133.85" r="1.25"/><circle cx="354.42" cy="145.88" r="1.25"/><circle cx="348.14" cy="151.16" r="1.25"/><circle cx="353.93" cy="149.05" r="1.25"/><circle cx="350.28" cy="149.23" r="1.25"/><circle cx="353.17" cy="148.17" r="1.25"/><circle cx="351.18" cy="149.62" r="1.25"/><circle cx="353.96" cy="151.13" r="1.25"/><circle cx="348.37" cy="145.26" r="1.25"/><circle cx="347.28" cy="150.5" r="1.25"/><circle cx="353.77" cy="149.56" r="1.25"/><circle cx="354.61" cy="139.44" r="1.25"/><circle cx="352.4" cy="149.44" r="1.25"/><circle cx="349.1" cy="147.16" r="1.25"/><circle cx="354.19" cy="151.27" r="1.25"/><circle cx="350.78" cy="150.32" r="1.25"/><circle cx="346.96" cy="149.77" r="1.25"/><circle cx="350.19" cy="145.48" r="1.25"/><circle cx="345.81" cy="152.48" r="1.25"/><circle cx="348.22" cy="147.43" r="1.25"/><circle cx="348.74" cy="152.18" r="1.25"/><circle cx="352.96" cy="152.12" r="1.25"/><circle cx="351.99" cy="150.8" r="1.25"/><circle cx="353.12" cy="149.91" r="1.25"/><circle cx="349.41" cy="152.29" r="1.25"/><circle cx="341.72" cy="150.28" r="1.25"/><circle cx="344.8" cy="151.18" r="1.25"/><circle cx="346.31" cy="148.84" r="1.25"/><circle cx="353.9" cy="151.82" r="1.25"/><circle cx="353.09" cy="149.34" r="1.25"/><circle cx="350.81" cy="151.59" r="1.25"/><circle cx="351.99" cy="150.65" r="1.25"/><circle cx="351.82" cy="152.52" r="1.25"/><circle cx="353.14" cy="152.33" r="1.25"/><circle cx="348.96" cy="151.96" r="1.25"/><circle cx="354.31" cy="150.68" r="1.25"/><circle cx="351.2" cy="151.54" r="1.25"/><circle cx="354.01" cy="147.77" r="1.25"/><circle cx="353.23" cy="143.82" r="1.25"/><circle cx="353.54" cy="145.37" r="1.25"/><circle cx="350.14" cy="149.22" r="1.25"/><circle cx="354.07" cy="149.79" r="1.25"/><circle cx="354.03" cy="150.4" r="1.25"/><circle cx="354.13" cy="150.06" r="1.25"/><circle cx="351.07" cy="148.66" r="1.25"/><circle cx="353.38" cy="150.39" r="1.25"/><circle cx="350.81" cy="149.4" r="1.25"/><circle cx="352.22" cy="137.92" r="1.25"/><circle cx="353.63" cy="146.83" r="1.25"/><circle cx="350" cy="151.21" r="1.25"/><circle cx="349.82" cy="152.34" r="1.25"/><circle cx="354.92" cy="148.75" r="1.25"/><circle cx="350.26" cy="150.16" r="1.25"/><circle cx="348.31" cy="152.51" r="1.25"/><circle cx="350.25" cy="149.42" r="1.25"/><circle cx="349.73" cy="146.38" r="1.25"/><circle cx="318.59" cy="151.79" r="1.25"/><circle cx="340.7" cy="151.86" r="1.25"/><circle cx="322.14" cy="151.72" r="1.25"/><circle cx="337.65" cy="151.43" r="1.25"/><circle cx="333.73" cy="151.93" r="1.25"/><circle cx="301.19" cy="151.41" r="1.25"/><circle cx="325.05" cy="151.25" r="1.25"/><circle cx="335.1" cy="152.45" r="1.25"/><circle cx="309.56" cy="152.52" r="1.25"/><circle cx="337.31" cy="152.48" r="1.25"/><circle cx="303.4" cy="151.28" r="1.25"/><circle cx="325.55" cy="152.56" r="1.25"/><circle cx="330.97" cy="151.36" r="1.25"/><circle cx="321.75" cy="152.56" r="1.25"/><circle cx="351.85" cy="90.07" r="1.25"/><circle cx="354.64" cy="106.03" r="1.25"/><circle cx="349.68" cy="114.51" r="1.25"/><circle cx="352" cy="114.51" r="1.25"/><circle cx="340.84" cy="126.95" r="1.25"/><circle cx="351.07" cy="124.97" r="1.25"/><circle cx="354.64" cy="122.99" r="1.25"/><circle cx="353.86" cy="119.17" r="1.25"/><circle cx="347.35" cy="136.13" r="1.25"/><circle cx="350.45" cy="134.72" r="1.25"/><circle cx="345.8" cy="138.96" r="1.25"/><circle cx="348.9" cy="140.37" r="1.25"/><circle cx="343.48" cy="138.25" r="1.25"/><circle cx="348.12" cy="143.2" r="1.25"/><circle cx="327.2" cy="146.73" r="1.25"/><circle cx="336.5" cy="150.26" r="1.25"/><circle cx="305.5" cy="150.54" r="1.25"/><circle cx="311.7" cy="151.96" r="1.25"/><circle cx="353.55" cy="129.07" r="1.25"/></g>
<g fill="#e4521c"><circle cx="396.11" cy="150.81" r="1.25"/><circle cx="393.58" cy="129.07" r="1.25"/><circle cx="400.57" cy="147.4" r="1.25"/><circle cx="387.44" cy="150.19" r="1.25"/><circle cx="392.33" cy="152.57" r="1.25"/><circle cx="424.3" cy="152.25" r="1.25"/><circle cx="388.69" cy="150.57" r="1.25"/><circle cx="388.61" cy="141.97" r="1.25"/><circle cx="393.02" cy="149.72" r="1.25"/><circle cx="390.75" cy="152.35" r="1.25"/><circle cx="389.2" cy="142.1" r="1.25"/><circle cx="399.9" cy="147.5" r="1.25"/><circle cx="388.63" cy="151.37" r="1.25"/><circle cx="386.56" cy="147.75" r="1.25"/><circle cx="390.09" cy="149.54" r="1.25"/><circle cx="391.82" cy="148.78" r="1.25"/><circle cx="389.98" cy="144.62" r="1.25"/><circle cx="388.01" cy="138.33" r="1.25"/><circle cx="393.02" cy="152.38" r="1.25"/><circle cx="389.32" cy="148.66" r="1.25"/><circle cx="390.58" cy="148.66" r="1.25"/><circle cx="389.43" cy="150.96" r="1.25"/><circle cx="399.66" cy="151.68" r="1.25"/><circle cx="396.67" cy="147.44" r="1.25"/><circle cx="393.74" cy="150.27" r="1.25"/><circle cx="409.38" cy="151.62" r="1.25"/><circle cx="404.04" cy="152.47" r="1.25"/><circle cx="390.95" cy="147.89" r="1.25"/><circle cx="386.53" cy="140.09" r="1.25"/><circle cx="386.74" cy="146.96" r="1.25"/><circle cx="387.79" cy="137.89" r="1.25"/><circle cx="393.12" cy="146.17" r="1.25"/><circle cx="391.98" cy="147.77" r="1.25"/><circle cx="395.68" cy="151.41" r="1.25"/><circle cx="388.12" cy="142.35" r="1.25"/><circle cx="387.44" cy="137.85" r="1.25"/><circle cx="388.08" cy="151.99" r="1.25"/><circle cx="386.95" cy="143.22" r="1.25"/><circle cx="411.79" cy="151.79" r="1.25"/><circle cx="395.27" cy="151.56" r="1.25"/><circle cx="406.25" cy="150.4" r="1.25"/><circle cx="387.53" cy="152.25" r="1.25"/><circle cx="396.24" cy="152.45" r="1.25"/><circle cx="401.52" cy="151.76" r="1.25"/><circle cx="388.36" cy="147.77" r="1.25"/><circle cx="389.37" cy="148.36" r="1.25"/><circle cx="387.53" cy="138.35" r="1.25"/><circle cx="389.44" cy="143.17" r="1.25"/><circle cx="387.5" cy="143.16" r="1.25"/><circle cx="419.49" cy="152" r="1.25"/><circle cx="386.39" cy="149.55" r="1.25"/><circle cx="394.83" cy="151.69" r="1.25"/><circle cx="392.83" cy="152.19" r="1.25"/><circle cx="391.42" cy="146.78" r="1.25"/><circle cx="390.89" cy="147.33" r="1.25"/><circle cx="387.14" cy="141.96" r="1.25"/><circle cx="387.21" cy="137.19" r="1.25"/><circle cx="433.45" cy="149.92" r="1.25"/><circle cx="392.47" cy="151.16" r="1.25"/><circle cx="389.75" cy="145.64" r="1.25"/><circle cx="391.95" cy="141.15" r="1.25"/><circle cx="386.93" cy="148.54" r="1.25"/><circle cx="403.11" cy="150.58" r="1.25"/><circle cx="392.73" cy="152.21" r="1.25"/><circle cx="387.38" cy="150.72" r="1.25"/><circle cx="405.16" cy="148.88" r="1.25"/><circle cx="388.3" cy="138.25" r="1.25"/><circle cx="386.38" cy="146.78" r="1.25"/><circle cx="415.27" cy="152.03" r="1.25"/><circle cx="410.73" cy="150.92" r="1.25"/><circle cx="386.54" cy="150.04" r="1.25"/><circle cx="391.19" cy="151.3" r="1.25"/><circle cx="397.66" cy="152" r="1.25"/><circle cx="399.31" cy="151.63" r="1.25"/><circle cx="386.71" cy="147.5" r="1.25"/><circle cx="386.96" cy="147.69" r="1.25"/><circle cx="399.32" cy="150.14" r="1.25"/><circle cx="391.38" cy="152.44" r="1.25"/><circle cx="392.24" cy="152.16" r="1.25"/><circle cx="394.97" cy="152.09" r="1.25"/><circle cx="393.45" cy="150.9" r="1.25"/><circle cx="390.1" cy="147.27" r="1.25"/><circle cx="387.63" cy="151.51" r="1.25"/><circle cx="410.31" cy="151.95" r="1.25"/><circle cx="401.85" cy="147.72" r="1.25"/><circle cx="391.68" cy="151.88" r="1.25"/><circle cx="386.94" cy="139.68" r="1.25"/><circle cx="387.16" cy="148.47" r="1.25"/><circle cx="392.65" cy="152.08" r="1.25"/><circle cx="391.48" cy="151.8" r="1.25"/><circle cx="392.64" cy="149.68" r="1.25"/><circle cx="390" cy="151.51" r="1.25"/><circle cx="390.51" cy="151.51" r="1.25"/><circle cx="387.26" cy="150.95" r="1.25"/><circle cx="403.59" cy="151.09" r="1.25"/><circle cx="404.96" cy="152.56" r="1.25"/><circle cx="410.57" cy="151.54" r="1.25"/><circle cx="399.45" cy="150.32" r="1.25"/><circle cx="396.06" cy="151.73" r="1.25"/><circle cx="397.92" cy="152.1" r="1.25"/><circle cx="388.72" cy="152.42" r="1.25"/><circle cx="390.36" cy="149.09" r="1.25"/><circle cx="389.04" cy="140.95" r="1.25"/><circle cx="386.85" cy="147.27" r="1.25"/><circle cx="388.37" cy="147.6" r="1.25"/><circle cx="399.16" cy="149.2" r="1.25"/><circle cx="386.65" cy="150.83" r="1.25"/><circle cx="393.89" cy="137.17" r="1.25"/><circle cx="386.46" cy="146.49" r="1.25"/><circle cx="396.14" cy="147.06" r="1.25"/><circle cx="389.67" cy="144.21" r="1.25"/><circle cx="391.38" cy="141.24" r="1.25"/><circle cx="386.19" cy="134.4" r="1.25"/><circle cx="390.63" cy="150.13" r="1.25"/><circle cx="386.89" cy="150.87" r="1.25"/><circle cx="397.38" cy="149.14" r="1.25"/><circle cx="387.5" cy="150.11" r="1.25"/><circle cx="387.39" cy="151.28" r="1.25"/><circle cx="388.21" cy="150.35" r="1.25"/><circle cx="417.89" cy="145.26" r="1.25"/><circle cx="399.47" cy="150.84" r="1.25"/><circle cx="391.96" cy="146.09" r="1.25"/><circle cx="406.45" cy="149.98" r="1.25"/><circle cx="394.72" cy="151.8" r="1.25"/><circle cx="394.47" cy="145.77" r="1.25"/><circle cx="399.27" cy="152.33" r="1.25"/><circle cx="396.87" cy="151.24" r="1.25"/><circle cx="387.61" cy="132.93" r="1.25"/><circle cx="395.62" cy="147.95" r="1.25"/><circle cx="387.34" cy="142.12" r="1.25"/><circle cx="409.69" cy="148.76" r="1.25"/><circle cx="397.75" cy="147.28" r="1.25"/><circle cx="399.91" cy="150.25" r="1.25"/><circle cx="390.97" cy="144.56" r="1.25"/><circle cx="399.18" cy="147" r="1.25"/><circle cx="389.13" cy="135.63" r="1.25"/><circle cx="392.57" cy="140.53" r="1.25"/><circle cx="387.15" cy="131.77" r="1.25"/><circle cx="399.3" cy="151.8" r="1.25"/><circle cx="401.64" cy="151.96" r="1.25"/><circle cx="387.98" cy="149.12" r="1.25"/><circle cx="388.4" cy="148.86" r="1.25"/><circle cx="406.45" cy="150.43" r="1.25"/><circle cx="396.66" cy="151.01" r="1.25"/><circle cx="399.16" cy="148.27" r="1.25"/><circle cx="395.89" cy="143.12" r="1.25"/><circle cx="401" cy="151.31" r="1.25"/><circle cx="386.88" cy="146.1" r="1.25"/><circle cx="401.53" cy="151.6" r="1.25"/><circle cx="393.8" cy="145.7" r="1.25"/><circle cx="399.53" cy="152.58" r="1.25"/><circle cx="391.82" cy="152.52" r="1.25"/><circle cx="387.1" cy="142.48" r="1.25"/><circle cx="390.72" cy="148.25" r="1.25"/><circle cx="391.31" cy="150.75" r="1.25"/><circle cx="388.15" cy="150.14" r="1.25"/><circle cx="401.97" cy="150.33" r="1.25"/><circle cx="389.05" cy="152.11" r="1.25"/><circle cx="388.79" cy="146.12" r="1.25"/><circle cx="391.07" cy="147.65" r="1.25"/><circle cx="400.13" cy="152.26" r="1.25"/><circle cx="395.89" cy="152.45" r="1.25"/><circle cx="400.86" cy="152.09" r="1.25"/><circle cx="388.8" cy="135.66" r="1.25"/><circle cx="389.94" cy="151.34" r="1.25"/><circle cx="404.91" cy="150.69" r="1.25"/><circle cx="405.22" cy="151.6" r="1.25"/><circle cx="392" cy="139.21" r="1.25"/><circle cx="392.13" cy="133.56" r="1.25"/><circle cx="387.89" cy="142.45" r="1.25"/><circle cx="387.61" cy="148.23" r="1.25"/><circle cx="386.1" cy="151.34" r="1.25"/><circle cx="410.83" cy="151.65" r="1.25"/><circle cx="400.23" cy="151.85" r="1.25"/><circle cx="389.8" cy="152.06" r="1.25"/><circle cx="392.96" cy="144.61" r="1.25"/><circle cx="392.25" cy="150.6" r="1.25"/><circle cx="408.6" cy="148.77" r="1.25"/><circle cx="395.46" cy="152.32" r="1.25"/><circle cx="394.44" cy="150.45" r="1.25"/><circle cx="413.09" cy="151.95" r="1.25"/><circle cx="395.33" cy="149.14" r="1.25"/><circle cx="390.12" cy="148.99" r="1.25"/><circle cx="395.72" cy="144.58" r="1.25"/><circle cx="391.98" cy="150.65" r="1.25"/><circle cx="417.97" cy="152.52" r="1.25"/><circle cx="401.45" cy="149.82" r="1.25"/><circle cx="393.05" cy="150.22" r="1.25"/><circle cx="397.95" cy="146.08" r="1.25"/><circle cx="397.23" cy="148.34" r="1.25"/><circle cx="386.4" cy="150.09" r="1.25"/><circle cx="387.36" cy="134.45" r="1.25"/><circle cx="405.03" cy="152.28" r="1.25"/><circle cx="393.65" cy="149.28" r="1.25"/><circle cx="386.51" cy="149.45" r="1.25"/><circle cx="397.83" cy="149.55" r="1.25"/><circle cx="388.91" cy="144.96" r="1.25"/><circle cx="389.03" cy="148.45" r="1.25"/><circle cx="390.75" cy="134.72" r="1.25"/><circle cx="395.02" cy="146.84" r="1.25"/><circle cx="395.72" cy="150.98" r="1.25"/><circle cx="414.21" cy="150.88" r="1.25"/><circle cx="396.11" cy="151.52" r="1.25"/><circle cx="387.61" cy="147.6" r="1.25"/><circle cx="401" cy="148.7" r="1.25"/><circle cx="389.74" cy="151.84" r="1.25"/><circle cx="392.29" cy="143.75" r="1.25"/><circle cx="387.61" cy="144.78" r="1.25"/><circle cx="387.7" cy="150.43" r="1.25"/><circle cx="386.57" cy="150.37" r="1.25"/><circle cx="390.22" cy="136.06" r="1.25"/><circle cx="414.01" cy="152.3" r="1.25"/><circle cx="389.26" cy="137.67" r="1.25"/><circle cx="387.97" cy="150.4" r="1.25"/><circle cx="391.02" cy="152.07" r="1.25"/><circle cx="388.67" cy="149.89" r="1.25"/><circle cx="390.25" cy="136.56" r="1.25"/><circle cx="388.75" cy="151.37" r="1.25"/><circle cx="406.51" cy="151.47" r="1.25"/><circle cx="401.57" cy="150.17" r="1.25"/><circle cx="398.96" cy="151.55" r="1.25"/><circle cx="387.51" cy="144.28" r="1.25"/><circle cx="391.52" cy="148.96" r="1.25"/><circle cx="395.57" cy="147.84" r="1.25"/><circle cx="388.85" cy="150.19" r="1.25"/><circle cx="407.37" cy="151.24" r="1.25"/><circle cx="389" cy="147.34" r="1.25"/><circle cx="388.66" cy="144.61" r="1.25"/><circle cx="386.46" cy="141.5" r="1.25"/><circle cx="393.23" cy="150.87" r="1.25"/><circle cx="439.67" cy="151.95" r="1.25"/><circle cx="413.75" cy="152.48" r="1.25"/><circle cx="425.11" cy="150.64" r="1.25"/><circle cx="429.92" cy="151.56" r="1.25"/><circle cx="434.75" cy="152.36" r="1.25"/><circle cx="416.12" cy="150.93" r="1.25"/><circle cx="440.68" cy="150.96" r="1.25"/><circle cx="430.44" cy="150.58" r="1.25"/><circle cx="419.38" cy="150.14" r="1.25"/><circle cx="432.32" cy="151.75" r="1.25"/><circle cx="419.3" cy="150.5" r="1.25"/><circle cx="417.71" cy="152.16" r="1.25"/><circle cx="437.12" cy="151.24" r="1.25"/><circle cx="424.09" cy="150.87" r="1.25"/><circle cx="438.24" cy="152.3" r="1.25"/><circle cx="417.3" cy="152.49" r="1.25"/><circle cx="420.07" cy="151.32" r="1.25"/><circle cx="436.39" cy="150.87" r="1.25"/><circle cx="426.2" cy="151.58" r="1.25"/><circle cx="426.04" cy="151.93" r="1.25"/><circle cx="436.13" cy="150.55" r="1.25"/><circle cx="435.89" cy="152.26" r="1.25"/><circle cx="398.5" cy="24.5" r="1.25"/><circle cx="390.91" cy="111.26" r="1.25"/><circle cx="407.65" cy="112.11" r="1.25"/><circle cx="412.14" cy="115.64" r="1.25"/><circle cx="387.03" cy="115.64" r="1.25"/><circle cx="390.91" cy="114.51" r="1.25"/><circle cx="416.02" cy="104.48" r="1.25"/><circle cx="389.67" cy="121.15" r="1.25"/><circle cx="391.37" cy="123.84" r="1.25"/><circle cx="396.64" cy="123.41" r="1.25"/><circle cx="397.57" cy="125.96" r="1.25"/><circle cx="407.65" cy="132.17" r="1.25"/><circle cx="413.85" cy="135.14" r="1.25"/><circle cx="418.19" cy="135" r="1.25"/><circle cx="405.48" cy="145.74" r="1.25"/><circle cx="414.16" cy="144.75" r="1.25"/><circle cx="416.79" cy="144.75" r="1.25"/><circle cx="432.14" cy="148.28" r="1.25"/><circle cx="448.41" cy="150.4" r="1.25"/><circle cx="386.88" cy="120.59" r="1.25"/><circle cx="387.65" cy="126.24" r="1.25"/><circle cx="393.85" cy="131.89" r="1.25"/><circle cx="400.05" cy="137.54" r="1.25"/><circle cx="403.15" cy="140.37" r="1.25"/><circle cx="423.3" cy="147.44" r="1.25"/><circle cx="426.4" cy="149.55" r="1.25"/><circle cx="438.8" cy="150.97" r="1.25"/></g>
<circle cx="336.04" cy="109.28" r="1.25" fill="#3fb1ad" />
<line x1="355.1" y1="18.5" x2="355.1" y2="161.1" stroke="#222" stroke-width="1.4" stroke-dasharray="4.2 3"/>
<line x1="386.1" y1="18.5" x2="386.1" y2="161.1" stroke="#222" stroke-width="1.4" stroke-dasharray="4.2 3"/>
<line x1="280.2" y1="152.66" x2="455.4" y2="152.66" stroke="#222" stroke-width="1.4" stroke-dasharray="4.2 3"/>
<text x="401" y="24.18" font-size="4.6" text-anchor="middle" fill="#e4521c" stroke="#e4521c"  stroke-width="0">TXNIP</text>
<text x="356" y="87.98" font-size="4.6" text-anchor="middle" fill="#3fb1ad" stroke="#3fb1ad"  stroke-width="0">HSP90AB1</text>
<text x="349.7" y="104.08" font-size="4.6" text-anchor="middle" fill="#3fb1ad" stroke="#3fb1ad"  stroke-width="0">EIF5A</text>
<text x="357.6" y="112.38" font-size="4.6" text-anchor="middle" fill="#3fb1ad" stroke="#3fb1ad"  stroke-width="0">DNAJA1</text>
<text x="345" y="120.08" font-size="4.6" text-anchor="middle" fill="#3fb1ad" stroke="#3fb1ad"  stroke-width="0">RBM3</text>
<text x="331.7" y="106.98" font-size="4.6" text-anchor="middle" fill="#e5213a" stroke="#e5213a"  stroke-width="0">HSPA8</text>
<text x="391.2" y="109.08" font-size="4.6" text-anchor="middle" fill="#e4521c" stroke="#e4521c"  stroke-width="0">CCDC18-AS1</text>
<text x="417.4" y="105.78" font-size="4.6" text-anchor="middle" fill="#e4521c" stroke="#e4521c"  stroke-width="0">CHAC1</text>
<text x="416.6" y="112.78" font-size="4.6" text-anchor="middle" fill="#e4521c" stroke="#e4521c"  stroke-width="0">STC2</text>
<text x="399.8" y="118.68" font-size="4.6" text-anchor="middle" fill="#e4521c" stroke="#e4521c"  stroke-width="0">SPRED2</text>
<text x="379.5" y="120.48" font-size="4.6" text-anchor="middle" fill="#e4521c" stroke="#e4521c"  stroke-width="0">DUSP1</text>
<rect x="280.2" y="18.5" width="175.2" height="142.6" fill="none" stroke="#333" stroke-width="0.9" />
<line x1="278.2" y1="154.5" x2="280.2" y2="154.5" stroke="#333" stroke-width="0.8" />
<text x="277.6" y="156.43" font-size="5.6" text-anchor="end" fill="#4d4d4d" stroke="#4d4d4d" >0</text>
<line x1="278.2" y1="119.17" x2="280.2" y2="119.17" stroke="#333" stroke-width="0.8" />
<text x="277.6" y="121.1" font-size="5.6" text-anchor="end" fill="#4d4d4d" stroke="#4d4d4d" >25</text>
<line x1="278.2" y1="83.85" x2="280.2" y2="83.85" stroke="#333" stroke-width="0.8" />
<text x="277.6" y="85.78" font-size="5.6" text-anchor="end" fill="#4d4d4d" stroke="#4d4d4d" >50</text>
<line x1="278.2" y1="48.52" x2="280.2" y2="48.52" stroke="#333" stroke-width="0.8" />
<text x="277.6" y="50.45" font-size="5.6" text-anchor="end" fill="#4d4d4d" stroke="#4d4d4d" >75</text>
<line x1="324.1" y1="161.1" x2="324.1" y2="163.1" stroke="#333" stroke-width="0.8" />
<text x="324.1" y="168.06" font-size="6" text-anchor="middle" fill="#4d4d4d" stroke="#4d4d4d" >−3</text>
<line x1="370.6" y1="161.1" x2="370.6" y2="163.1" stroke="#333" stroke-width="0.8" />
<text x="370.6" y="168.06" font-size="6" text-anchor="middle" fill="#4d4d4d" stroke="#4d4d4d" >0</text>
<line x1="417.1" y1="161.1" x2="417.1" y2="163.1" stroke="#333" stroke-width="0.8" />
<text x="417.1" y="168.06" font-size="6" text-anchor="middle" fill="#4d4d4d" stroke="#4d4d4d" >3</text>
<text transform="translate(268,88) rotate(-90)" text-anchor="middle" font-size="7" fill="#1a1a1a">-Log<tspan font-size="5" dy="1.5">10</tspan><tspan dy="-1.5" font-style="italic">FDR</tspan></text>
<text x="368" y="174.5" text-anchor="middle" font-size="7" fill="#1a1a1a">Log<tspan font-size="5" dy="1.5">2</tspan><tspan dy="-1.5" font-style="italic">FC</tspan></text>
<circle cx="288.7" cy="34.7" r="2" fill="#3fb1ad" />
<text x="295.1" y="36.63" font-size="5.6" text-anchor="start" fill="#1a1a1a" stroke="#1a1a1a" >Down</text>
<circle cx="288.7" cy="42.9" r="2" fill="#9a9a9a" />
<text x="295.1" y="44.83" font-size="5.6" text-anchor="start" fill="#1a1a1a" stroke="#1a1a1a" >Normal</text>
<circle cx="288.7" cy="50.9" r="2" fill="#e4521c" />
<text x="295.1" y="52.83" font-size="5.6" text-anchor="start" fill="#1a1a1a" stroke="#1a1a1a" >Up</text>
<text x="469.29" y="10.77" font-size="14" text-anchor="start" fill="#111" stroke="#111" stroke-width="0">C</text>
<line x1="489.6" y1="44.5" x2="648.5" y2="44.5" stroke="#dcdcdc" stroke-width="0.7" />
<line x1="489.6" y1="55.8" x2="648.5" y2="55.8" stroke="#dcdcdc" stroke-width="0.7" />
<line x1="489.6" y1="66.2" x2="648.5" y2="66.2" stroke="#dcdcdc" stroke-width="0.7" />
<line x1="489.6" y1="77.4" x2="648.5" y2="77.4" stroke="#dcdcdc" stroke-width="0.7" />
<line x1="489.6" y1="88.2" x2="648.5" y2="88.2" stroke="#dcdcdc" stroke-width="0.7" />
<line x1="489.6" y1="104.7" x2="648.5" y2="104.7" stroke="#dcdcdc" stroke-width="0.7" />
<line x1="489.6" y1="115.7" x2="648.5" y2="115.7" stroke="#dcdcdc" stroke-width="0.7" />
<line x1="489.6" y1="126.5" x2="648.5" y2="126.5" stroke="#dcdcdc" stroke-width="0.7" />
<line x1="489.6" y1="137.5" x2="648.5" y2="137.5" stroke="#dcdcdc" stroke-width="0.7" />
<line x1="489.6" y1="148.1" x2="648.5" y2="148.1" stroke="#dcdcdc" stroke-width="0.7" />
<line x1="648.5" y1="18.2" x2="648.5" y2="159.1" stroke="#d8d8d8" stroke-width="0.7" />
<line x1="489.6" y1="18.2" x2="489.6" y2="159.1" stroke="#e4e4e4" stroke-width="0.7" />
<line x1="524.6" y1="18.2" x2="524.6" y2="159.1" stroke="#2a2a2a" stroke-width="1" />
<line x1="560" y1="18.2" x2="560" y2="159.1" stroke="#2a2a2a" stroke-width="1" />
<line x1="604" y1="18.2" x2="604" y2="159.1" stroke="#2a2a2a" stroke-width="1" />
<line x1="489.6" y1="18.2" x2="648.5" y2="18.2" stroke="#2a2a2a" stroke-width="1.3" />
<line x1="489.6" y1="33.6" x2="648.5" y2="33.6" stroke="#2a2a2a" stroke-width="1.3" />
<line x1="489.6" y1="159.1" x2="648.5" y2="159.1" stroke="#2a2a2a" stroke-width="1.4" />
<text x="507.1" y="27.96" font-size="5.7" text-anchor="middle" fill="#1a1a1a" stroke="#1a1a1a" >Number</text>
<text x="542.3" y="27.96" font-size="5.7" text-anchor="middle" fill="#1a1a1a" stroke="#1a1a1a" >Gene</text>
<text x="582" y="24.86" font-size="5.7" text-anchor="middle" fill="#1a1a1a" stroke="#1a1a1a" >OE-tRF-Ser</text>
<text x="582" y="32.36" font-size="5.7" text-anchor="middle" fill="#1a1a1a" stroke="#1a1a1a" >Fold change</text>
<text x="626.25" y="24.86" font-size="5.7" text-anchor="middle" fill="#1a1a1a" stroke="#1a1a1a" >sh-tRF-Ser</text>
<text x="626.25" y="32.36" font-size="5.7" text-anchor="middle" fill="#1a1a1a" stroke="#1a1a1a" >Fold change</text>
<text x="507.1" y="41.01" font-size="5.7" text-anchor="middle" fill="#1a1a1a" stroke="#1a1a1a" >1</text>
<text x="542.3" y="41.01" font-size="5.7" text-anchor="middle" fill="#1a1a1a" stroke="#1a1a1a" >TXNIP</text>
<text x="582" y="41.01" font-size="5.7" text-anchor="middle" fill="#1a1a1a" stroke="#1a1a1a" >1.28</text>
<text x="626.25" y="41.01" font-size="5.7" text-anchor="middle" fill="#1a1a1a" stroke="#1a1a1a" >-1.19</text>
<text x="507.1" y="52.11" font-size="5.7" text-anchor="middle" fill="#1a1a1a" stroke="#1a1a1a" >2</text>
<text x="542.3" y="52.11" font-size="5.7" text-anchor="middle" fill="#1a1a1a" stroke="#1a1a1a" >HSP90AB1</text>
<text x="582" y="52.11" font-size="5.7" text-anchor="middle" fill="#1a1a1a" stroke="#1a1a1a" >-1.01</text>
<text x="626.25" y="52.11" font-size="5.7" text-anchor="middle" fill="#1a1a1a" stroke="#1a1a1a" >1.1</text>
<text x="507.1" y="62.96" font-size="5.7" text-anchor="middle" fill="#1a1a1a" stroke="#1a1a1a" >3</text>
<text x="542.3" y="62.96" font-size="5.7" text-anchor="middle" fill="#1a1a1a" stroke="#1a1a1a" >CHAC1</text>
<text x="582" y="62.96" font-size="5.7" text-anchor="middle" fill="#1a1a1a" stroke="#1a1a1a" >1.05</text>
<text x="626.25" y="62.96" font-size="5.7" text-anchor="middle" fill="#1a1a1a" stroke="#1a1a1a" >-1.16</text>
<text x="507.1" y="73.76" font-size="5.7" text-anchor="middle" fill="#1a1a1a" stroke="#1a1a1a" >4</text>
<text x="542.3" y="73.76" font-size="5.7" text-anchor="middle" fill="#1a1a1a" stroke="#1a1a1a" >EIF5A</text>
<text x="582" y="73.76" font-size="5.7" text-anchor="middle" fill="#1a1a1a" stroke="#1a1a1a" >-1.36</text>
<text x="626.25" y="73.76" font-size="5.7" text-anchor="middle" fill="#1a1a1a" stroke="#1a1a1a" >1.14</text>
<text x="507.1" y="84.76" font-size="5.7" text-anchor="middle" fill="#1a1a1a" stroke="#1a1a1a" >5</text>
<text x="542.3" y="84.76" font-size="5.7" text-anchor="middle" fill="#e0202a" stroke="#e0202a" >HSPA8</text>
<text x="582" y="84.76" font-size="5.7" text-anchor="middle" fill="#e0202a" stroke="#e0202a" >-1.53</text>
<text x="626.25" y="84.76" font-size="5.7" text-anchor="middle" fill="#e0202a" stroke="#e0202a" >1.61</text>
<text x="507.1" y="98.41" font-size="5.7" text-anchor="middle" fill="#1a1a1a" stroke="#1a1a1a" >6</text>
<text x="542.3" y="94.81" font-size="5.7" text-anchor="middle" fill="#1a1a1a" stroke="#1a1a1a" >CCDC18-</text>
<text x="542.3" y="102.01" font-size="5.7" text-anchor="middle" fill="#1a1a1a" stroke="#1a1a1a" >AS1</text>
<text x="582" y="98.41" font-size="5.7" text-anchor="middle" fill="#1a1a1a" stroke="#1a1a1a" >1.25</text>
<text x="626.25" y="98.41" font-size="5.7" text-anchor="middle" fill="#1a1a1a" stroke="#1a1a1a" >-1.11</text>
<text x="507.1" y="112.16" font-size="5.7" text-anchor="middle" fill="#1a1a1a" stroke="#1a1a1a" >7</text>
<text x="542.3" y="112.16" font-size="5.7" text-anchor="middle" fill="#1a1a1a" stroke="#1a1a1a" >STC2</text>
<text x="582" y="112.16" font-size="5.7" text-anchor="middle" fill="#1a1a1a" stroke="#1a1a1a" >1.42</text>
<text x="626.25" y="112.16" font-size="5.7" text-anchor="middle" fill="#1a1a1a" stroke="#1a1a1a" >-1.03</text>
<text x="507.1" y="123.06" font-size="5.7" text-anchor="middle" fill="#1a1a1a" stroke="#1a1a1a" >8</text>
<text x="542.3" y="123.06" font-size="5.7" text-anchor="middle" fill="#1a1a1a" stroke="#1a1a1a" >SPRED2</text>
<text x="582" y="123.06" font-size="5.7" text-anchor="middle" fill="#1a1a1a" stroke="#1a1a1a" >1.21</text>
<text x="626.25" y="123.06" font-size="5.7" text-anchor="middle" fill="#1a1a1a" stroke="#1a1a1a" >-1.02</text>
<text x="507.1" y="133.96" font-size="5.7" text-anchor="middle" fill="#1a1a1a" stroke="#1a1a1a" >9</text>
<text x="542.3" y="133.96" font-size="5.7" text-anchor="middle" fill="#1a1a1a" stroke="#1a1a1a" >DNAJA1</text>
<text x="582" y="133.96" font-size="5.7" text-anchor="middle" fill="#1a1a1a" stroke="#1a1a1a" >-1.02</text>
<text x="626.25" y="133.96" font-size="5.7" text-anchor="middle" fill="#1a1a1a" stroke="#1a1a1a" >1.14</text>
<text x="507.1" y="144.76" font-size="5.7" text-anchor="middle" fill="#1a1a1a" stroke="#1a1a1a" >10</text>
<text x="542.3" y="144.76" font-size="5.7" text-anchor="middle" fill="#1a1a1a" stroke="#1a1a1a" >RBM3</text>
<text x="582" y="144.76" font-size="5.7" text-anchor="middle" fill="#1a1a1a" stroke="#1a1a1a" >-1.16</text>
<text x="626.25" y="144.76" font-size="5.7" text-anchor="middle" fill="#1a1a1a" stroke="#1a1a1a" >1.34</text>
<text x="507.1" y="155.56" font-size="5.7" text-anchor="middle" fill="#1a1a1a" stroke="#1a1a1a" >11</text>
<text x="542.3" y="155.56" font-size="5.7" text-anchor="middle" fill="#1a1a1a" stroke="#1a1a1a" >DUSP1</text>
<text x="582" y="155.56" font-size="5.7" text-anchor="middle" fill="#1a1a1a" stroke="#1a1a1a" >1.27</text>
<text x="626.25" y="155.56" font-size="5.7" text-anchor="middle" fill="#1a1a1a" stroke="#1a1a1a" >-1.19</text>
<text x="5.05" y="201.93" font-size="14" text-anchor="start" fill="#111" stroke="#111" stroke-width="0">D</text>
<rect x="44.8" y="260.6" width="3.9" height="49.4" fill="#b58d52" />
<line x1="46.75" y1="260.6" x2="46.75" y2="259.61" stroke="#b58d52" stroke-width="0.9" />
<line x1="45.65" y1="259.61" x2="47.85" y2="259.61" stroke="#b58d52" stroke-width="0.9" />
<rect x="49.55" y="246.77" width="3.9" height="63.23" fill="#e19394" />
<line x1="51.5" y1="246.77" x2="51.5" y2="245.78" stroke="#e19394" stroke-width="0.9" />
<line x1="50.4" y1="245.78" x2="52.6" y2="245.78" stroke="#e19394" stroke-width="0.9" />
<rect x="54.2" y="260.6" width="3.9" height="49.4" fill="#429b65" />
<line x1="56.15" y1="260.6" x2="56.15" y2="258.62" stroke="#429b65" stroke-width="0.9" />
<line x1="55.05" y1="258.62" x2="57.25" y2="258.62" stroke="#429b65" stroke-width="0.9" />
<rect x="59.1" y="269" width="3.9" height="41" fill="#7b80c2" />
<line x1="61.05" y1="269" x2="61.05" y2="268.01" stroke="#7b80c2" stroke-width="0.9" />
<line x1="59.95" y1="268.01" x2="62.15" y2="268.01" stroke="#7b80c2" stroke-width="0.9" />
<rect x="66.46" y="260.6" width="3.9" height="49.4" fill="#b58d52" />
<line x1="68.41" y1="260.6" x2="68.41" y2="259.61" stroke="#b58d52" stroke-width="0.9" />
<line x1="67.31" y1="259.61" x2="69.51" y2="259.61" stroke="#b58d52" stroke-width="0.9" />
<rect x="71.21" y="258.13" width="3.9" height="51.87" fill="#e19394" />
<line x1="73.16" y1="258.13" x2="73.16" y2="255.66" stroke="#e19394" stroke-width="0.9" />
<line x1="72.06" y1="255.66" x2="74.26" y2="255.66" stroke="#e19394" stroke-width="0.9" />
<rect x="75.86" y="260.6" width="3.9" height="49.4" fill="#429b65" />
<line x1="77.81" y1="260.6" x2="77.81" y2="259.61" stroke="#429b65" stroke-width="0.9" />
<line x1="76.71" y1="259.61" x2="78.91" y2="259.61" stroke="#429b65" stroke-width="0.9" />
<rect x="80.76" y="267.52" width="3.9" height="42.48" fill="#7b80c2" />
<line x1="82.71" y1="267.52" x2="82.71" y2="266.53" stroke="#7b80c2" stroke-width="0.9" />
<line x1="81.61" y1="266.53" x2="83.81" y2="266.53" stroke="#7b80c2" stroke-width="0.9" />
<rect x="88.12" y="260.6" width="3.9" height="49.4" fill="#b58d52" />
<line x1="90.07" y1="260.6" x2="90.07" y2="257.64" stroke="#b58d52" stroke-width="0.9" />
<line x1="88.97" y1="257.64" x2="91.17" y2="257.64" stroke="#b58d52" stroke-width="0.9" />
<rect x="92.87" y="248.25" width="3.9" height="61.75" fill="#e19394" />
<line x1="94.82" y1="248.25" x2="94.82" y2="246.77" stroke="#e19394" stroke-width="0.9" />
<line x1="93.72" y1="246.77" x2="95.92" y2="246.77" stroke="#e19394" stroke-width="0.9" />
<rect x="97.52" y="260.6" width="3.9" height="49.4" fill="#429b65" />
<line x1="99.47" y1="260.6" x2="99.47" y2="258.62" stroke="#429b65" stroke-width="0.9" />
<line x1="98.37" y1="258.62" x2="100.57" y2="258.62" stroke="#429b65" stroke-width="0.9" />
<rect x="102.42" y="268.01" width="3.9" height="41.99" fill="#7b80c2" />
<line x1="104.37" y1="268.01" x2="104.37" y2="264.06" stroke="#7b80c2" stroke-width="0.9" />
<line x1="103.27" y1="264.06" x2="105.47" y2="264.06" stroke="#7b80c2" stroke-width="0.9" />
<rect x="109.78" y="260.6" width="3.9" height="49.4" fill="#b58d52" />
<line x1="111.73" y1="260.6" x2="111.73" y2="257.64" stroke="#b58d52" stroke-width="0.9" />
<line x1="110.63" y1="257.64" x2="112.83" y2="257.64" stroke="#b58d52" stroke-width="0.9" />
<rect x="114.53" y="239.85" width="3.9" height="70.15" fill="#e19394" />
<line x1="116.48" y1="239.85" x2="116.48" y2="232.94" stroke="#e19394" stroke-width="0.9" />
<line x1="115.38" y1="232.94" x2="117.58" y2="232.94" stroke="#e19394" stroke-width="0.9" />
<rect x="119.18" y="260.6" width="3.9" height="49.4" fill="#429b65" />
<line x1="121.13" y1="260.6" x2="121.13" y2="256.65" stroke="#429b65" stroke-width="0.9" />
<line x1="120.03" y1="256.65" x2="122.23" y2="256.65" stroke="#429b65" stroke-width="0.9" />
<rect x="124.08" y="262.08" width="3.9" height="47.92" fill="#7b80c2" />
<line x1="126.03" y1="262.08" x2="126.03" y2="259.61" stroke="#7b80c2" stroke-width="0.9" />
<line x1="124.93" y1="259.61" x2="127.13" y2="259.61" stroke="#7b80c2" stroke-width="0.9" />
<rect x="131.44" y="260.6" width="3.9" height="49.4" fill="#b58d52" />
<line x1="133.39" y1="260.6" x2="133.39" y2="257.14" stroke="#b58d52" stroke-width="0.9" />
<line x1="132.29" y1="257.14" x2="134.49" y2="257.14" stroke="#b58d52" stroke-width="0.9" />
<rect x="136.19" y="250.23" width="3.9" height="59.77" fill="#e19394" />
<line x1="138.14" y1="250.23" x2="138.14" y2="247.76" stroke="#e19394" stroke-width="0.9" />
<line x1="137.04" y1="247.76" x2="139.24" y2="247.76" stroke="#e19394" stroke-width="0.9" />
<rect x="140.84" y="260.6" width="3.9" height="49.4" fill="#429b65" />
<line x1="142.79" y1="260.6" x2="142.79" y2="259.12" stroke="#429b65" stroke-width="0.9" />
<line x1="141.69" y1="259.12" x2="143.89" y2="259.12" stroke="#429b65" stroke-width="0.9" />
<rect x="145.74" y="261.59" width="3.9" height="48.41" fill="#7b80c2" />
<line x1="147.69" y1="261.59" x2="147.69" y2="259.61" stroke="#7b80c2" stroke-width="0.9" />
<line x1="146.59" y1="259.61" x2="148.79" y2="259.61" stroke="#7b80c2" stroke-width="0.9" />
<rect x="153.1" y="260.6" width="3.9" height="49.4" fill="#b58d52" />
<line x1="155.05" y1="260.6" x2="155.05" y2="258.62" stroke="#b58d52" stroke-width="0.9" />
<line x1="153.95" y1="258.62" x2="156.15" y2="258.62" stroke="#b58d52" stroke-width="0.9" />
<rect x="157.85" y="247.26" width="3.9" height="62.74" fill="#e19394" />
<line x1="159.8" y1="247.26" x2="159.8" y2="245.78" stroke="#e19394" stroke-width="0.9" />
<line x1="158.7" y1="245.78" x2="160.9" y2="245.78" stroke="#e19394" stroke-width="0.9" />
<rect x="162.5" y="260.6" width="3.9" height="49.4" fill="#429b65" />
<line x1="164.45" y1="260.6" x2="164.45" y2="257.64" stroke="#429b65" stroke-width="0.9" />
<line x1="163.35" y1="257.64" x2="165.55" y2="257.64" stroke="#429b65" stroke-width="0.9" />
<rect x="167.4" y="268.01" width="3.9" height="41.99" fill="#7b80c2" />
<line x1="169.35" y1="268.01" x2="169.35" y2="264.55" stroke="#7b80c2" stroke-width="0.9" />
<line x1="168.25" y1="264.55" x2="170.45" y2="264.55" stroke="#7b80c2" stroke-width="0.9" />
<rect x="174.76" y="260.6" width="3.9" height="49.4" fill="#b58d52" />
<line x1="176.71" y1="260.6" x2="176.71" y2="259.61" stroke="#b58d52" stroke-width="0.9" />
<line x1="175.61" y1="259.61" x2="177.81" y2="259.61" stroke="#b58d52" stroke-width="0.9" />
<rect x="179.51" y="260.6" width="3.9" height="49.4" fill="#e19394" />
<line x1="181.46" y1="260.6" x2="181.46" y2="259.61" stroke="#e19394" stroke-width="0.9" />
<line x1="180.36" y1="259.61" x2="182.56" y2="259.61" stroke="#e19394" stroke-width="0.9" />
<rect x="184.16" y="260.6" width="3.9" height="49.4" fill="#429b65" />
<line x1="186.11" y1="260.6" x2="186.11" y2="259.12" stroke="#429b65" stroke-width="0.9" />
<line x1="185.01" y1="259.12" x2="187.21" y2="259.12" stroke="#429b65" stroke-width="0.9" />
<rect x="189.06" y="255.17" width="3.9" height="54.83" fill="#7b80c2" />
<line x1="191.01" y1="255.17" x2="191.01" y2="253.19" stroke="#7b80c2" stroke-width="0.9" />
<line x1="189.91" y1="253.19" x2="192.11" y2="253.19" stroke="#7b80c2" stroke-width="0.9" />
<rect x="196.42" y="260.6" width="3.9" height="49.4" fill="#b58d52" />
<line x1="198.37" y1="260.6" x2="198.37" y2="258.62" stroke="#b58d52" stroke-width="0.9" />
<line x1="197.27" y1="258.62" x2="199.47" y2="258.62" stroke="#b58d52" stroke-width="0.9" />
<rect x="201.17" y="273.44" width="3.9" height="36.56" fill="#e19394" />
<line x1="203.12" y1="273.44" x2="203.12" y2="272.46" stroke="#e19394" stroke-width="0.9" />
<line x1="202.02" y1="272.46" x2="204.22" y2="272.46" stroke="#e19394" stroke-width="0.9" />
<rect x="205.82" y="260.6" width="3.9" height="49.4" fill="#429b65" />
<line x1="207.77" y1="260.6" x2="207.77" y2="259.61" stroke="#429b65" stroke-width="0.9" />
<line x1="206.67" y1="259.61" x2="208.87" y2="259.61" stroke="#429b65" stroke-width="0.9" />
<rect x="210.72" y="253.68" width="3.9" height="56.32" fill="#7b80c2" />
<line x1="212.67" y1="253.68" x2="212.67" y2="252.7" stroke="#7b80c2" stroke-width="0.9" />
<line x1="211.57" y1="252.7" x2="213.77" y2="252.7" stroke="#7b80c2" stroke-width="0.9" />
<rect x="218.08" y="260.6" width="3.9" height="49.4" fill="#b58d52" />
<line x1="220.03" y1="260.6" x2="220.03" y2="257.64" stroke="#b58d52" stroke-width="0.9" />
<line x1="218.93" y1="257.64" x2="221.13" y2="257.64" stroke="#b58d52" stroke-width="0.9" />
<rect x="222.83" y="277.4" width="3.9" height="32.6" fill="#e19394" />
<line x1="224.78" y1="277.4" x2="224.78" y2="276.41" stroke="#e19394" stroke-width="0.9" />
<line x1="223.68" y1="276.41" x2="225.88" y2="276.41" stroke="#e19394" stroke-width="0.9" />
<rect x="227.48" y="260.6" width="3.9" height="49.4" fill="#429b65" />
<line x1="229.43" y1="260.6" x2="229.43" y2="258.13" stroke="#429b65" stroke-width="0.9" />
<line x1="228.33" y1="258.13" x2="230.53" y2="258.13" stroke="#429b65" stroke-width="0.9" />
<rect x="232.38" y="229.97" width="3.9" height="80.03" fill="#7b80c2" />
<line x1="234.33" y1="229.97" x2="234.33" y2="225.03" stroke="#7b80c2" stroke-width="0.9" />
<line x1="233.23" y1="225.03" x2="235.43" y2="225.03" stroke="#7b80c2" stroke-width="0.9" />
<rect x="239.74" y="260.6" width="3.9" height="49.4" fill="#b58d52" />
<line x1="241.69" y1="260.6" x2="241.69" y2="259.12" stroke="#b58d52" stroke-width="0.9" />
<line x1="240.59" y1="259.12" x2="242.79" y2="259.12" stroke="#b58d52" stroke-width="0.9" />
<rect x="244.49" y="261.59" width="3.9" height="48.41" fill="#e19394" />
<line x1="246.44" y1="261.59" x2="246.44" y2="259.12" stroke="#e19394" stroke-width="0.9" />
<line x1="245.34" y1="259.12" x2="247.54" y2="259.12" stroke="#e19394" stroke-width="0.9" />
<rect x="249.14" y="260.6" width="3.9" height="49.4" fill="#429b65" />
<line x1="251.09" y1="260.6" x2="251.09" y2="259.12" stroke="#429b65" stroke-width="0.9" />
<line x1="249.99" y1="259.12" x2="252.19" y2="259.12" stroke="#429b65" stroke-width="0.9" />
<rect x="254.04" y="254.18" width="3.9" height="55.82" fill="#7b80c2" />
<line x1="255.99" y1="254.18" x2="255.99" y2="251.21" stroke="#7b80c2" stroke-width="0.9" />
<line x1="254.89" y1="251.21" x2="257.09" y2="251.21" stroke="#7b80c2" stroke-width="0.9" />
<rect x="261.4" y="260.6" width="3.9" height="49.4" fill="#b58d52" />
<line x1="263.35" y1="260.6" x2="263.35" y2="258.62" stroke="#b58d52" stroke-width="0.9" />
<line x1="262.25" y1="258.62" x2="264.45" y2="258.62" stroke="#b58d52" stroke-width="0.9" />
<rect x="266.15" y="267.02" width="3.9" height="42.98" fill="#e19394" />
<line x1="268.1" y1="267.02" x2="268.1" y2="264.55" stroke="#e19394" stroke-width="0.9" />
<line x1="267" y1="264.55" x2="269.2" y2="264.55" stroke="#e19394" stroke-width="0.9" />
<rect x="270.8" y="260.6" width="3.9" height="49.4" fill="#429b65" />
<line x1="272.75" y1="260.6" x2="272.75" y2="259.61" stroke="#429b65" stroke-width="0.9" />
<line x1="271.65" y1="259.61" x2="273.85" y2="259.61" stroke="#429b65" stroke-width="0.9" />
<rect x="275.7" y="243.8" width="3.9" height="66.2" fill="#7b80c2" />
<line x1="277.65" y1="243.8" x2="277.65" y2="241.33" stroke="#7b80c2" stroke-width="0.9" />
<line x1="276.55" y1="241.33" x2="278.75" y2="241.33" stroke="#7b80c2" stroke-width="0.9" />
<line x1="43.4" y1="211.2" x2="43.4" y2="310" stroke="#111" stroke-width="1.25" />
<line x1="39.4" y1="310" x2="43.4" y2="310" stroke="#111" stroke-width="1.12" />
<text x="38" y="312.27" font-size="6.6" text-anchor="end" fill="#222" stroke="#222" >0.0</text>
<line x1="39.4" y1="285.3" x2="43.4" y2="285.3" stroke="#111" stroke-width="1.12" />
<text x="38" y="287.57" font-size="6.6" text-anchor="end" fill="#222" stroke="#222" >0.5</text>
<line x1="39.4" y1="260.6" x2="43.4" y2="260.6" stroke="#111" stroke-width="1.12" />
<text x="38" y="262.87" font-size="6.6" text-anchor="end" fill="#222" stroke="#222" >1.0</text>
<line x1="39.4" y1="235.9" x2="43.4" y2="235.9" stroke="#111" stroke-width="1.12" />
<text x="38" y="238.17" font-size="6.6" text-anchor="end" fill="#222" stroke="#222" >1.5</text>
<line x1="39.4" y1="211.2" x2="43.4" y2="211.2" stroke="#111" stroke-width="1.12" />
<text x="38" y="213.47" font-size="6.6" text-anchor="end" fill="#222" stroke="#222" >2.0</text>
<line x1="43.4" y1="310" x2="281.2" y2="310" stroke="#111" stroke-width="1.25" />
<line x1="53.9" y1="310" x2="53.9" y2="314" stroke="#111" stroke-width="1.12" />
<line x1="75.56" y1="310" x2="75.56" y2="314" stroke="#111" stroke-width="1.12" />
<line x1="97.22" y1="310" x2="97.22" y2="314" stroke="#111" stroke-width="1.12" />
<line x1="118.88" y1="310" x2="118.88" y2="314" stroke="#111" stroke-width="1.12" />
<line x1="140.54" y1="310" x2="140.54" y2="314" stroke="#111" stroke-width="1.12" />
<line x1="162.2" y1="310" x2="162.2" y2="314" stroke="#111" stroke-width="1.12" />
<line x1="183.86" y1="310" x2="183.86" y2="314" stroke="#111" stroke-width="1.12" />
<line x1="205.52" y1="310" x2="205.52" y2="314" stroke="#111" stroke-width="1.12" />
<line x1="227.18" y1="310" x2="227.18" y2="314" stroke="#111" stroke-width="1.12" />
<line x1="248.84" y1="310" x2="248.84" y2="314" stroke="#111" stroke-width="1.12" />
<line x1="270.5" y1="310" x2="270.5" y2="314" stroke="#111" stroke-width="1.12" />
<text transform="translate(54.6,320.3) rotate(-45)" x="0" y="2.41" font-size="7" text-anchor="end" fill="#1a1a1a" stroke="#1a1a1a" >TXNIP</text>
<text transform="translate(76.26,320.3) rotate(-45)" x="0" y="2.41" font-size="7" text-anchor="end" fill="#1a1a1a" stroke="#1a1a1a" >CHAC1</text>
<text transform="translate(97.92,320.3) rotate(-45)" x="0" y="2.41" font-size="7" text-anchor="end" fill="#1a1a1a" stroke="#1a1a1a" >CCDC18-AS1</text>
<text transform="translate(119.58,320.3) rotate(-45)" x="0" y="2.41" font-size="7" text-anchor="end" fill="#1a1a1a" stroke="#1a1a1a" >STC2</text>
<text transform="translate(141.24,320.3) rotate(-45)" x="0" y="2.41" font-size="7" text-anchor="end" fill="#1a1a1a" stroke="#1a1a1a" >SPRED2</text>
<text transform="translate(162.9,320.3) rotate(-45)" x="0" y="2.41" font-size="7" text-anchor="end" fill="#1a1a1a" stroke="#1a1a1a" >DUSP1</text>
<text transform="translate(184.56,320.3) rotate(-45)" x="0" y="2.41" font-size="7" text-anchor="end" fill="#1a1a1a" stroke="#1a1a1a" >HSP90AB1</text>
<text transform="translate(206.22,320.3) rotate(-45)" x="0" y="2.41" font-size="7" text-anchor="end" fill="#1a1a1a" stroke="#1a1a1a" >EIF5A</text>
<text transform="translate(227.88,320.3) rotate(-45)" x="0" y="2.41" font-size="7" text-anchor="end" fill="#e0202a" stroke="#e0202a" >HSPA8</text>
<text transform="translate(249.54,320.3) rotate(-45)" x="0" y="2.41" font-size="7" text-anchor="end" fill="#1a1a1a" stroke="#1a1a1a" >DNAJA1</text>
<text transform="translate(271.2,320.3) rotate(-45)" x="0" y="2.41" font-size="7" text-anchor="end" fill="#1a1a1a" stroke="#1a1a1a" >RBM3</text>
<text x="162.5" y="203.81" font-size="7" text-anchor="middle" fill="#1a1a1a" stroke="#1a1a1a" >MKN-45</text>
<text transform="translate(12.5,260.5) rotate(-90)" x="0" y="2.41" font-size="7" text-anchor="middle" fill="#1a1a1a" stroke="#1a1a1a" >Relative expression of Genes</text>
<rect x="285.8" y="213.4" width="11.6" height="4.8" fill="#b58d52" rx="1.6"/>
<text x="302.9" y="218.21" font-size="7" text-anchor="start" fill="#1a1a1a" stroke="#1a1a1a" >OE-Ctrl</text>
<rect x="285.8" y="226.8" width="11.6" height="4.8" fill="#e19394" rx="1.6"/>
<text x="302.9" y="231.61" font-size="7" text-anchor="start" fill="#1a1a1a" stroke="#1a1a1a" >OE-tRF-Ser</text>
<rect x="285.8" y="240.2" width="11.6" height="4.8" fill="#429b65" rx="1.6"/>
<text x="302.9" y="245.01" font-size="7" text-anchor="start" fill="#1a1a1a" stroke="#1a1a1a" >sh-NC</text>
<rect x="285.8" y="253.6" width="11.6" height="4.8" fill="#7b80c2" rx="1.6"/>
<text x="302.9" y="258.41" font-size="7" text-anchor="start" fill="#1a1a1a" stroke="#1a1a1a" >sh-tRF-Ser</text>
<text x="357.25" y="213.73" font-size="14" text-anchor="start" fill="#111" stroke="#111" stroke-width="0">E</text>
<text x="424.6" y="215.01" font-size="7" text-anchor="middle" fill="#1a1a1a" stroke="#1a1a1a" >MKN-45</text>
<line x1="384.7" y1="219.2" x2="463.5" y2="219.2" stroke="#333" stroke-width="0.8" />
<text transform="translate(387.1,238.7) rotate(-30)" x="0" y="0" font-size="5.9" text-anchor="start" fill="#1a1a1a" stroke="#1a1a1a" >OE-Ctrl</text>
<text transform="translate(407.5,238.7) rotate(-30)" x="0" y="0" font-size="5.9" text-anchor="start" fill="#1a1a1a" stroke="#1a1a1a" >OE-tRF-Ser</text>
<text transform="translate(427.8,238.7) rotate(-30)" x="0" y="0" font-size="5.9" text-anchor="start" fill="#1a1a1a" stroke="#1a1a1a" >sh-NC</text>
<text transform="translate(446.9,238.7) rotate(-30)" x="0" y="0" font-size="5.9" text-anchor="start" fill="#1a1a1a" stroke="#1a1a1a" >sh-tRF-Ser</text>
<rect x="384.1" y="240.2" width="79.9" height="11.8" fill="url(#blg)" stroke="#3c3c3c" stroke-width="1" />
<g filter="url(#bl)"><ellipse cx="394.9" cy="246.1" rx="8.5" ry="3.25" fill="#050505" fill-opacity="1"/><rect x="386.74" y="243.24" width="16.32" height="5.72" rx="2.86" fill="#050505" fill-opacity="1"/><ellipse cx="415.2" cy="246.1" rx="6.25" ry="1.9" fill="#050505" fill-opacity="0.95"/><rect x="409.2" y="244.43" width="12" height="3.34" rx="1.67" fill="#050505" fill-opacity="0.95"/><ellipse cx="433.4" cy="246.1" rx="8" ry="3" fill="#050505" fill-opacity="1"/><rect x="425.72" y="243.46" width="15.36" height="5.28" rx="2.64" fill="#050505" fill-opacity="1"/><ellipse cx="453.3" cy="246.1" rx="8.5" ry="3.6" fill="#050505" fill-opacity="1"/><rect x="445.14" y="242.93" width="16.32" height="6.34" rx="3.17" fill="#050505" fill-opacity="1"/></g>
<rect x="384.1" y="254.6" width="79.9" height="11.9" fill="url(#blg)" stroke="#3c3c3c" stroke-width="1" />
<g filter="url(#bl)"><ellipse cx="394.4" cy="260.55" rx="8.5" ry="3.3" fill="#050505" fill-opacity="1"/><rect x="386.24" y="257.65" width="16.32" height="5.81" rx="2.9" fill="#050505" fill-opacity="1"/><ellipse cx="414.3" cy="260.55" rx="8.5" ry="3.4" fill="#050505" fill-opacity="1"/><rect x="406.14" y="257.56" width="16.32" height="5.98" rx="2.99" fill="#050505" fill-opacity="1"/><ellipse cx="433.5" cy="260.55" rx="8" ry="3.2" fill="#050505" fill-opacity="1"/><rect x="425.82" y="257.73" width="15.36" height="5.63" rx="2.82" fill="#050505" fill-opacity="1"/><ellipse cx="453.3" cy="260.55" rx="8.25" ry="3.3" fill="#050505" fill-opacity="1"/><rect x="445.38" y="257.65" width="15.84" height="5.81" rx="2.9" fill="#050505" fill-opacity="1"/></g>
<text x="380.7" y="248.51" font-size="7" text-anchor="end" fill="#1a1a1a" stroke="#1a1a1a" >HSPA8</text>
<text x="380.7" y="262.96" font-size="7" text-anchor="end" fill="#1a1a1a" stroke="#1a1a1a" >β-actin</text>
<text x="466.9" y="248.51" font-size="7" text-anchor="start" fill="#1a1a1a" stroke="#1a1a1a" >70 kDa</text>
<text x="466.9" y="262.96" font-size="7" text-anchor="start" fill="#1a1a1a" stroke="#1a1a1a" >42 kDa</text>
<text x="424.6" y="285.41" font-size="7" text-anchor="middle" fill="#1a1a1a" stroke="#1a1a1a" >HGC-27</text>
<line x1="384.7" y1="289.6" x2="463.5" y2="289.6" stroke="#333" stroke-width="0.8" />
<text transform="translate(387.1,309.1) rotate(-30)" x="0" y="0" font-size="5.9" text-anchor="start" fill="#1a1a1a" stroke="#1a1a1a" >OE-Ctrl</text>
<text transform="translate(407.5,309.1) rotate(-30)" x="0" y="0" font-size="5.9" text-anchor="start" fill="#1a1a1a" stroke="#1a1a1a" >OE-tRF-Ser</text>
<text transform="translate(427.8,309.1) rotate(-30)" x="0" y="0" font-size="5.9" text-anchor="start" fill="#1a1a1a" stroke="#1a1a1a" >sh-NC</text>
<text transform="translate(446.9,309.1) rotate(-30)" x="0" y="0" font-size="5.9" text-anchor="start" fill="#1a1a1a" stroke="#1a1a1a" >sh-tRF-Ser</text>
<rect x="384.1" y="310.6" width="79.9" height="11.8" fill="url(#blg)" stroke="#3c3c3c" stroke-width="1" />
<g filter="url(#bl)"><ellipse cx="395.1" cy="316.5" rx="8.5" ry="2.8" fill="#050505" fill-opacity="1"/><rect x="386.94" y="314.04" width="16.32" height="4.93" rx="2.46" fill="#050505" fill-opacity="1"/><ellipse cx="413.2" cy="316.5" rx="5" ry="1.4" fill="#050505" fill-opacity="0.6"/><rect x="408.4" y="315.27" width="9.6" height="2.46" rx="1.23" fill="#050505" fill-opacity="0.6"/><ellipse cx="432.8" cy="316.5" rx="7.75" ry="2.8" fill="#050505" fill-opacity="1"/><rect x="425.36" y="314.04" width="14.88" height="4.93" rx="2.46" fill="#050505" fill-opacity="1"/><ellipse cx="453.2" cy="316.5" rx="8.5" ry="3.9" fill="#050505" fill-opacity="1"/><rect x="445.04" y="313.07" width="16.32" height="6.86" rx="3.43" fill="#050505" fill-opacity="1"/></g>
<rect x="384.1" y="325" width="79.9" height="11.9" fill="url(#blg)" stroke="#3c3c3c" stroke-width="1" />
<g filter="url(#bl)"><ellipse cx="393.8" cy="330.95" rx="8.5" ry="3.5" fill="#050505" fill-opacity="1"/><rect x="385.64" y="327.87" width="16.32" height="6.16" rx="3.08" fill="#050505" fill-opacity="1"/><ellipse cx="414.2" cy="330.95" rx="8.5" ry="3.5" fill="#050505" fill-opacity="1"/><rect x="406.04" y="327.87" width="16.32" height="6.16" rx="3.08" fill="#050505" fill-opacity="1"/><ellipse cx="433.5" cy="330.95" rx="7.75" ry="3.4" fill="#050505" fill-opacity="1"/><rect x="426.06" y="327.96" width="14.88" height="5.98" rx="2.99" fill="#050505" fill-opacity="1"/><ellipse cx="453.6" cy="330.95" rx="8.25" ry="3.5" fill="#050505" fill-opacity="1"/><rect x="445.68" y="327.87" width="15.84" height="6.16" rx="3.08" fill="#050505" fill-opacity="1"/></g>
<text x="380.7" y="318.91" font-size="7" text-anchor="end" fill="#1a1a1a" stroke="#1a1a1a" >HSPA8</text>
<text x="380.7" y="333.36" font-size="7" text-anchor="end" fill="#1a1a1a" stroke="#1a1a1a" >β-actin</text>
<text x="466.9" y="318.91" font-size="7" text-anchor="start" fill="#1a1a1a" stroke="#1a1a1a" >70 kDa</text>
<text x="466.9" y="333.36" font-size="7" text-anchor="start" fill="#1a1a1a" stroke="#1a1a1a" >42 kDa</text>
<text x="510.15" y="213.73" font-size="14" text-anchor="start" fill="#111" stroke="#111" stroke-width="0">F</text>
<text x="596.4" y="210.91" font-size="7" text-anchor="middle" fill="#1a1a1a" stroke="#1a1a1a" >MKN-45</text>
<text x="596.4" y="223.31" font-size="7" text-anchor="middle" fill="#1a1a1a" stroke="#1a1a1a" >tRF-Ser (nmol)</text>
<line x1="534.6" y1="227.7" x2="653.9" y2="227.7" stroke="#333" stroke-width="0.8" />
<text x="544.6" y="237.41" font-size="7" text-anchor="middle" fill="#1a1a1a" stroke="#1a1a1a" >0</text>
<text x="563.8" y="237.41" font-size="7" text-anchor="middle" fill="#1a1a1a" stroke="#1a1a1a" >20</text>
<text x="584" y="237.41" font-size="7" text-anchor="middle" fill="#1a1a1a" stroke="#1a1a1a" >40</text>
<text x="604.5" y="237.41" font-size="7" text-anchor="middle" fill="#1a1a1a" stroke="#1a1a1a" >60</text>
<text x="624.8" y="237.41" font-size="7" text-anchor="middle" fill="#1a1a1a" stroke="#1a1a1a" >80</text>
<text x="646.5" y="237.41" font-size="7" text-anchor="middle" fill="#1a1a1a" stroke="#1a1a1a" >100</text>
<rect x="534.6" y="240" width="119.9" height="11.8" fill="url(#blg)" stroke="#3c3c3c" stroke-width="1" />
<g filter="url(#bl)"><ellipse cx="545.6" cy="245.9" rx="8.25" ry="2.9" fill="#050505" fill-opacity="1"/><rect x="537.68" y="243.35" width="15.84" height="5.1" rx="2.55" fill="#050505" fill-opacity="1"/><ellipse cx="566" cy="245.9" rx="8.25" ry="2.8" fill="#050505" fill-opacity="1"/><rect x="558.08" y="243.44" width="15.84" height="4.93" rx="2.46" fill="#050505" fill-opacity="1"/><ellipse cx="585.5" cy="245.9" rx="8.25" ry="2.8" fill="#050505" fill-opacity="1"/><rect x="577.58" y="243.44" width="15.84" height="4.93" rx="2.46" fill="#050505" fill-opacity="1"/><ellipse cx="605.2" cy="245.9" rx="7.75" ry="2.5" fill="#050505" fill-opacity="1"/><rect x="597.76" y="243.7" width="14.88" height="4.4" rx="2.2" fill="#050505" fill-opacity="1"/><ellipse cx="625.4" cy="245.9" rx="7" ry="2.25" fill="#050505" fill-opacity="1"/><rect x="618.68" y="243.92" width="13.44" height="3.96" rx="1.98" fill="#050505" fill-opacity="1"/><ellipse cx="645.6" cy="245.9" rx="6" ry="1.5" fill="#050505" fill-opacity="0.45"/><rect x="639.84" y="244.58" width="11.52" height="2.64" rx="1.32" fill="#050505" fill-opacity="0.45"/></g>
<rect x="534.6" y="255" width="119.9" height="11.6" fill="url(#blg)" stroke="#3c3c3c" stroke-width="1" />
<g filter="url(#bl)"><ellipse cx="545.6" cy="260.8" rx="8.25" ry="2.7" fill="#050505" fill-opacity="1"/><rect x="537.68" y="258.42" width="15.84" height="4.75" rx="2.38" fill="#050505" fill-opacity="1"/><ellipse cx="566" cy="260.8" rx="8.25" ry="2.5" fill="#050505" fill-opacity="1"/><rect x="558.08" y="258.6" width="15.84" height="4.4" rx="2.2" fill="#050505" fill-opacity="1"/><ellipse cx="585.5" cy="260.8" rx="8.25" ry="2.8" fill="#050505" fill-opacity="1"/><rect x="577.58" y="258.34" width="15.84" height="4.93" rx="2.46" fill="#050505" fill-opacity="1"/><ellipse cx="605.2" cy="260.8" rx="8.25" ry="2.6" fill="#050505" fill-opacity="1"/><rect x="597.28" y="258.51" width="15.84" height="4.58" rx="2.29" fill="#050505" fill-opacity="1"/><ellipse cx="625.4" cy="260.8" rx="7.75" ry="2.4" fill="#050505" fill-opacity="1"/><rect x="617.96" y="258.69" width="14.88" height="4.22" rx="2.11" fill="#050505" fill-opacity="1"/><ellipse cx="645.6" cy="260.8" rx="7.5" ry="2.5" fill="#050505" fill-opacity="1"/><rect x="638.4" y="258.6" width="14.4" height="4.4" rx="2.2" fill="#050505" fill-opacity="1"/></g>
<text x="531.9" y="248.31" font-size="7" text-anchor="end" fill="#1a1a1a" stroke="#1a1a1a" >HSPA8</text>
<text x="531.9" y="263.21" font-size="7" text-anchor="end" fill="#1a1a1a" stroke="#1a1a1a" >β-actin</text>
<text x="656.6" y="248.31" font-size="7" text-anchor="start" fill="#1a1a1a" stroke="#1a1a1a" >70 kDa</text>
<text x="656.6" y="263.21" font-size="7" text-anchor="start" fill="#1a1a1a" stroke="#1a1a1a" >42 kDa</text>
<text x="596.4" y="283.31" font-size="7" text-anchor="middle" fill="#1a1a1a" stroke="#1a1a1a" >HGC-27</text>
<text x="596.4" y="294.91" font-size="7" text-anchor="middle" fill="#1a1a1a" stroke="#1a1a1a" >tRF-Ser (nmol)</text>
<line x1="534.6" y1="299.8" x2="653.9" y2="299.8" stroke="#333" stroke-width="0.8" />
<text x="544.6" y="307.61" font-size="7" text-anchor="middle" fill="#1a1a1a" stroke="#1a1a1a" >0</text>
<text x="563.8" y="307.61" font-size="7" text-anchor="middle" fill="#1a1a1a" stroke="#1a1a1a" >20</text>
<text x="584" y="307.61" font-size="7" text-anchor="middle" fill="#1a1a1a" stroke="#1a1a1a" >40</text>
<text x="604.5" y="307.61" font-size="7" text-anchor="middle" fill="#1a1a1a" stroke="#1a1a1a" >60</text>
<text x="624.8" y="307.61" font-size="7" text-anchor="middle" fill="#1a1a1a" stroke="#1a1a1a" >80</text>
<text x="646.5" y="307.61" font-size="7" text-anchor="middle" fill="#1a1a1a" stroke="#1a1a1a" >100</text>
<rect x="534.6" y="311.1" width="119.9" height="12.5" fill="url(#blg)" stroke="#3c3c3c" stroke-width="1" />
<g filter="url(#bl)"><ellipse cx="545.6" cy="317.35" rx="8.25" ry="2.9" fill="#050505" fill-opacity="1"/><rect x="537.68" y="314.8" width="15.84" height="5.1" rx="2.55" fill="#050505" fill-opacity="1"/><ellipse cx="566" cy="317.35" rx="8.5" ry="3.5" fill="#050505" fill-opacity="1"/><rect x="557.84" y="314.27" width="16.32" height="6.16" rx="3.08" fill="#050505" fill-opacity="1"/><ellipse cx="585.5" cy="317.35" rx="8.25" ry="2.9" fill="#050505" fill-opacity="1"/><rect x="577.58" y="314.8" width="15.84" height="5.1" rx="2.55" fill="#050505" fill-opacity="1"/><ellipse cx="605.2" cy="317.35" rx="7.75" ry="2.7" fill="#050505" fill-opacity="1"/><rect x="597.76" y="314.97" width="14.88" height="4.75" rx="2.38" fill="#050505" fill-opacity="1"/><ellipse cx="625.4" cy="317.35" rx="7" ry="2.1" fill="#050505" fill-opacity="1"/><rect x="618.68" y="315.5" width="13.44" height="3.7" rx="1.85" fill="#050505" fill-opacity="1"/><ellipse cx="645.6" cy="317.35" rx="4" ry="1.6" fill="#050505" fill-opacity="0.55"/><rect x="641.76" y="315.94" width="7.68" height="2.82" rx="1.41" fill="#050505" fill-opacity="0.55"/></g>
<rect x="534.6" y="326.8" width="119.9" height="11.8" fill="url(#blg)" stroke="#3c3c3c" stroke-width="1" />
<g filter="url(#bl)"><ellipse cx="545.6" cy="332.7" rx="8.25" ry="2.8" fill="#050505" fill-opacity="1"/><rect x="537.68" y="330.24" width="15.84" height="4.93" rx="2.46" fill="#050505" fill-opacity="1"/><ellipse cx="566" cy="332.7" rx="8.25" ry="2.8" fill="#050505" fill-opacity="1"/><rect x="558.08" y="330.24" width="15.84" height="4.93" rx="2.46" fill="#050505" fill-opacity="1"/><ellipse cx="585.5" cy="332.7" rx="8.25" ry="2.8" fill="#050505" fill-opacity="1"/><rect x="577.58" y="330.24" width="15.84" height="4.93" rx="2.46" fill="#050505" fill-opacity="1"/><ellipse cx="605.2" cy="332.7" rx="8.25" ry="2.9" fill="#050505" fill-opacity="1"/><rect x="597.28" y="330.15" width="15.84" height="5.1" rx="2.55" fill="#050505" fill-opacity="1"/><ellipse cx="625.4" cy="332.7" rx="8.25" ry="2.8" fill="#050505" fill-opacity="1"/><rect x="617.48" y="330.24" width="15.84" height="4.93" rx="2.46" fill="#050505" fill-opacity="1"/><ellipse cx="645.6" cy="332.7" rx="8.25" ry="2.9" fill="#050505" fill-opacity="1"/><rect x="637.68" y="330.15" width="15.84" height="5.1" rx="2.55" fill="#050505" fill-opacity="1"/></g>
<text x="531.9" y="319.76" font-size="7" text-anchor="end" fill="#1a1a1a" stroke="#1a1a1a" >HSPA8</text>
<text x="531.9" y="335.11" font-size="7" text-anchor="end" fill="#1a1a1a" stroke="#1a1a1a" >β-actin</text>
<text x="656.6" y="319.76" font-size="7" text-anchor="start" fill="#1a1a1a" stroke="#1a1a1a" >70 kDa</text>
<text x="656.6" y="335.11" font-size="7" text-anchor="start" fill="#1a1a1a" stroke="#1a1a1a" >42 kDa</text>
<text x="4.9" y="370.77" font-size="14" text-anchor="start" fill="#111" stroke="#111" stroke-width="0">G</text>
<line x1="23.5" y1="390.9" x2="23.5" y2="489.3" stroke="#111" stroke-width="1.25" />
<line x1="19.5" y1="489.3" x2="23.5" y2="489.3" stroke="#111" stroke-width="1.12" />
<text x="18.1" y="491.71" font-size="7" text-anchor="end" fill="#222" stroke="#222" >0</text>
<line x1="19.5" y1="456.53" x2="23.5" y2="456.53" stroke="#111" stroke-width="1.12" />
<text x="18.1" y="458.93" font-size="7" text-anchor="end" fill="#222" stroke="#222" >5</text>
<line x1="19.5" y1="423.75" x2="23.5" y2="423.75" stroke="#111" stroke-width="1.12" />
<text x="18.1" y="426.16" font-size="7" text-anchor="end" fill="#222" stroke="#222" >10</text>
<line x1="19.5" y1="390.98" x2="23.5" y2="390.98" stroke="#111" stroke-width="1.12" />
<text x="18.1" y="393.38" font-size="7" text-anchor="end" fill="#222" stroke="#222" >15</text>
<line x1="23.5" y1="489.3" x2="122" y2="489.3" stroke="#111" stroke-width="1.25" />
<line x1="23.2" y1="489.3" x2="23.2" y2="493.3" stroke="#111" stroke-width="1.12" />
<line x1="46.78" y1="489.3" x2="46.78" y2="493.3" stroke="#111" stroke-width="1.12" />
<line x1="70.36" y1="489.3" x2="70.36" y2="493.3" stroke="#111" stroke-width="1.12" />
<line x1="93.94" y1="489.3" x2="93.94" y2="493.3" stroke="#111" stroke-width="1.12" />
<line x1="117.52" y1="489.3" x2="117.52" y2="493.3" stroke="#111" stroke-width="1.12" />
<text x="23.2" y="501.71" font-size="7" text-anchor="middle" fill="#1a1a1a" stroke="#1a1a1a" >0</text>
<text x="46.78" y="501.71" font-size="7" text-anchor="middle" fill="#1a1a1a" stroke="#1a1a1a" >24</text>
<text x="70.36" y="501.71" font-size="7" text-anchor="middle" fill="#1a1a1a" stroke="#1a1a1a" >48</text>
<text x="93.94" y="501.71" font-size="7" text-anchor="middle" fill="#1a1a1a" stroke="#1a1a1a" >72</text>
<text x="117.52" y="501.71" font-size="7" text-anchor="middle" fill="#1a1a1a" stroke="#1a1a1a" >96</text>
<text x="72.6" y="513.21" font-size="7" text-anchor="middle" fill="#1a1a1a" stroke="#1a1a1a" >Hours(h)</text>
<text transform="translate(4.2,440.6) rotate(-90)" x="0" y="2.41" font-size="7" text-anchor="middle" fill="#1a1a1a" stroke="#1a1a1a" >Relative Proliferation</text>
<text x="72.4" y="366.51" font-size="7" text-anchor="middle" fill="#1a1a1a" stroke="#1a1a1a" >MKN-45</text>
<polyline points="23.2,482.75 46.78,479.8 70.36,471.27 93.94,463.08 117.52,448" fill="none" stroke="#e89a9a" stroke-width="1.0"/>
<rect x="21.3" y="480.85" width="3.8" height="3.8" fill="#e89a9a" />
<rect x="44.88" y="477.9" width="3.8" height="3.8" fill="#e89a9a" />
<rect x="68.46" y="469.37" width="3.8" height="3.8" fill="#e89a9a" />
<rect x="92.04" y="461.18" width="3.8" height="3.8" fill="#e89a9a" />
<rect x="115.62" y="446.1" width="3.8" height="3.8" fill="#e89a9a" />
<polyline points="23.2,482.75 46.78,474.22 70.36,463.74 93.94,451.28 117.52,433.58" fill="none" stroke="#3aa866" stroke-width="1.0"/>
<line x1="117.52" y1="429.58" x2="117.52" y2="437.58" stroke="#3aa866" stroke-width="0.8" />
<line x1="115.92" y1="429.58" x2="119.12" y2="429.58" stroke="#3aa866" stroke-width="0.8" />
<line x1="115.92" y1="437.58" x2="119.12" y2="437.58" stroke="#3aa866" stroke-width="0.8" />
<path d="M23.2 480.18L25.67 484.55L20.73 484.55Z" fill="#3aa866" />
<path d="M46.78 471.66L49.25 476.03L44.31 476.03Z" fill="#3aa866" />
<path d="M70.36 461.17L72.83 465.54L67.89 465.54Z" fill="#3aa866" />
<path d="M93.94 448.72L96.41 453.09L91.47 453.09Z" fill="#3aa866" />
<path d="M117.52 431.02L119.99 435.39L115.05 435.39Z" fill="#3aa866" />
<polyline points="23.2,482.75 46.78,474.22 70.36,461.77 93.94,443.42 117.52,425.72" fill="none" stroke="#b8914f" stroke-width="1.0"/>
<line x1="70.36" y1="459.77" x2="70.36" y2="463.77" stroke="#b8914f" stroke-width="0.8" />
<line x1="68.76" y1="459.77" x2="71.96" y2="459.77" stroke="#b8914f" stroke-width="0.8" />
<line x1="68.76" y1="463.77" x2="71.96" y2="463.77" stroke="#b8914f" stroke-width="0.8" />
<line x1="93.94" y1="441.42" x2="93.94" y2="445.42" stroke="#b8914f" stroke-width="0.8" />
<line x1="92.34" y1="441.42" x2="95.54" y2="441.42" stroke="#b8914f" stroke-width="0.8" />
<line x1="92.34" y1="445.42" x2="95.54" y2="445.42" stroke="#b8914f" stroke-width="0.8" />
<line x1="117.52" y1="423.72" x2="117.52" y2="427.72" stroke="#b8914f" stroke-width="0.8" />
<line x1="115.92" y1="423.72" x2="119.12" y2="423.72" stroke="#b8914f" stroke-width="0.8" />
<line x1="115.92" y1="427.72" x2="119.12" y2="427.72" stroke="#b8914f" stroke-width="0.8" />
<circle cx="23.2" cy="482.75" r="1.9" fill="#b8914f" />
<circle cx="46.78" cy="474.22" r="1.9" fill="#b8914f" />
<circle cx="70.36" cy="461.77" r="1.9" fill="#b8914f" />
<circle cx="93.94" cy="443.42" r="1.9" fill="#b8914f" />
<circle cx="117.52" cy="425.72" r="1.9" fill="#b8914f" />
<line x1="30.3" y1="377" x2="41.2" y2="377" stroke="#b8914f" stroke-width="1" />
<circle cx="35.75" cy="377" r="1.9" fill="#b8914f" />
<text x="47.1" y="379.41" font-size="7" text-anchor="start" fill="#1a1a1a" stroke="#1a1a1a" >OE-Ctrl</text>
<line x1="30.3" y1="390.6" x2="41.2" y2="390.6" stroke="#e89a9a" stroke-width="1" />
<rect x="33.85" y="388.7" width="3.8" height="3.8" fill="#e89a9a" />
<text x="47.1" y="393.01" font-size="7" text-anchor="start" fill="#1a1a1a" stroke="#1a1a1a" >OE-tRF-Ser</text>
<line x1="30.3" y1="404" x2="41.2" y2="404" stroke="#3aa866" stroke-width="1" />
<path d="M35.75 401.44L38.22 405.81L33.28 405.81Z" fill="#3aa866" />
<text x="47.1" y="406.41" font-size="7" text-anchor="start" fill="#1a1a1a" stroke="#1a1a1a" >OE-tRF-Ser+oe-HSPA8</text>
<line x1="121.9" y1="432.9" x2="121.9" y2="447.7" stroke="#222" stroke-width="1.2" />
<path d="M126.4 434.2L131.4 434.2M127.65 432.03L130.15 436.37M130.15 432.03L127.65 436.37" fill="none" stroke="#111" stroke-width="1.25" />
<path d="M126.4 440.4L131.4 440.4M127.65 438.23L130.15 442.57M130.15 438.23L127.65 442.57" fill="none" stroke="#111" stroke-width="1.25" />
<path d="M126.4 446.6L131.4 446.6M127.65 444.43L130.15 448.77M130.15 444.43L127.65 448.77" fill="none" stroke="#111" stroke-width="1.25" />
<line x1="134.4" y1="423.1" x2="134.4" y2="447.7" stroke="#222" stroke-width="1.2" />
<path d="M138.8 429.4L143.8 429.4M140.05 427.23L142.55 431.57M142.55 427.23L140.05 431.57" fill="none" stroke="#111" stroke-width="1.25" />
<path d="M138.8 435.6L143.8 435.6M140.05 433.43L142.55 437.77M142.55 433.43L140.05 437.77" fill="none" stroke="#111" stroke-width="1.25" />
<path d="M138.8 441.8L143.8 441.8M140.05 439.63L142.55 443.97M142.55 439.63L140.05 443.97" fill="none" stroke="#111" stroke-width="1.25" />
<text x="139.25" y="370.83" font-size="14" text-anchor="start" fill="#111" stroke="#111" stroke-width="0">H</text>
<rect x="169.1" y="380.9" width="93.4" height="91.6" fill="#fff" stroke="#a0a0a0" stroke-width="0.7" />
<path d="M170.1 471.6 L170.7 471.6 L171.3 471.6 L171.9 471.6 L172.5 471.6 L173.1 471.6 L173.8 471.6 L174.4 471.6 L175.0 471.6 L175.6 471.6 L176.2 471.6 L176.8 471.6 L177.4 471.6 L178.0 471.6 L178.6 471.6 L179.2 471.6 L179.8 471.6 L180.5 471.6 L181.1 471.6 L181.7 471.6 L182.3 471.6 L182.9 471.6 L183.5 471.6 L184.1 471.6 L184.7 471.6 L185.3 471.6 L185.9 471.6 L186.6 471.6 L187.2 471.6 L187.8 471.6 L188.4 471.6 L189.0 471.6 L189.6 471.6 L190.2 471.5 L190.8 471.5 L191.4 471.5 L192.0 471.5 L192.6 471.5 L193.3 471.4 L193.9 471.4 L194.5 471.4 L195.1 471.3 L195.7 471.3 L196.3 471.2 L196.9 471.1 L197.5 471.0 L198.1 470.9 L198.7 470.8 L199.3 470.7 L200.0 470.5 L200.6 470.3 L201.2 470.1 L201.8 469.9 L202.4 469.7 L203.0 469.4 L203.6 469.1 L204.2 468.8 L204.8 468.4 L205.4 468.1 L206.1 467.7 L206.7 467.3 L207.3 466.9 L207.9 466.4 L208.5 466.0 L209.1 465.5 L209.7 465.1 L210.3 464.6 L210.9 464.2 L211.5 463.7 L212.1 463.3 L212.8 462.9 L213.4 462.6 L214.0 462.2 L214.6 461.9 L215.2 461.7 L215.8 461.4 L216.4 461.3 L217.0 461.2 L217.6 461.1 L218.2 461.1 L218.8 461.2 L219.5 461.3 L220.1 461.4 L220.7 461.6 L221.3 461.9 L221.9 462.1 L222.5 462.5 L223.1 462.8 L223.7 463.2 L224.3 463.6 L224.9 464.1 L225.5 464.5 L226.2 465.0 L226.8 465.4 L227.4 465.9 L228.0 466.3 L228.6 466.8 L229.2 467.2 L229.8 467.6 L230.4 468.0 L231.0 468.4 L231.6 468.7 L232.3 469.0 L232.9 469.3 L233.5 469.6 L234.1 469.8 L234.7 470.1 L235.3 470.3 L235.9 470.5 L236.5 470.6 L237.1 470.8 L237.7 470.9 L238.3 471.0 L239.0 471.1 L239.6 471.2 L240.2 471.3 L240.8 471.3 L241.4 471.4 L242.0 471.4 L242.6 471.4 L243.2 471.5 L243.8 471.5 L244.4 471.5 L245.0 471.5 L245.7 471.5 L246.3 471.6 L246.9 471.6 L247.5 471.6 L248.1 471.6 L248.7 471.6 L249.3 471.6 L249.9 471.6 L250.5 471.6 L251.1 471.6 L251.8 471.6 L252.4 471.6 L253.0 471.6 L253.6 471.6 L254.2 471.6 L254.8 471.6 L255.4 471.6 L256.0 471.6 L256.6 471.6 L257.2 471.6 L257.8 471.6 L258.5 471.6 L259.1 471.6 L259.7 471.6 L260.3 471.6 L260.9 471.6 L261.5 471.6 L261.5 471.6 L170.1 471.6Z" fill="#a9a833" />
<path d="M170.1 471.6 L170.7 471.6 L171.3 471.6 L171.9 471.6 L172.5 471.6 L173.1 471.6 L173.8 471.6 L174.4 471.6 L175.0 471.6 L175.6 471.6 L176.2 471.6 L176.8 471.6 L177.4 471.6 L178.0 471.6 L178.6 471.6 L179.2 471.6 L179.8 471.6 L180.5 471.6 L181.1 471.6 L181.7 471.6 L182.3 471.6 L182.9 471.6 L183.5 471.6 L184.1 471.6 L184.7 471.6 L185.3 471.6 L185.9 471.6 L186.6 471.6 L187.2 471.6 L187.8 471.6 L188.4 471.6 L189.0 471.6 L189.6 471.6 L190.2 471.6 L190.8 471.6 L191.4 471.6 L192.0 471.6 L192.6 471.6 L193.3 471.6 L193.9 471.6 L194.5 471.6 L195.1 471.6 L195.7 471.6 L196.3 471.6 L196.9 471.6 L197.5 471.6 L198.1 471.6 L198.7 471.6 L199.3 471.6 L200.0 471.6 L200.6 471.6 L201.2 471.6 L201.8 471.6 L202.4 471.6 L203.0 471.6 L203.6 471.6 L204.2 471.6 L204.8 471.6 L205.4 471.6 L206.1 471.6 L206.7 471.6 L207.3 471.6 L207.9 471.6 L208.5 471.6 L209.1 471.6 L209.7 471.6 L210.3 471.6 L210.9 471.6 L211.5 471.6 L212.1 471.6 L212.8 471.6 L213.4 471.6 L214.0 471.6 L214.6 471.6 L215.2 471.6 L215.8 471.6 L216.4 471.6 L217.0 471.6 L217.6 471.6 L218.2 471.6 L218.8 471.6 L219.5 471.6 L220.1 471.6 L220.7 471.6 L221.3 471.6 L221.9 471.6 L222.5 471.6 L223.1 471.6 L223.7 471.5 L224.3 471.5 L224.9 471.4 L225.5 471.3 L226.2 471.1 L226.8 470.9 L227.4 470.6 L228.0 470.3 L228.6 469.8 L229.2 469.2 L229.8 468.5 L230.4 467.7 L231.0 466.8 L231.6 465.9 L232.3 465.0 L232.9 464.1 L233.5 463.4 L234.1 462.7 L234.7 462.3 L235.3 462.1 L235.9 462.2 L236.5 462.4 L237.1 462.9 L237.7 463.6 L238.3 464.4 L239.0 465.3 L239.6 466.2 L240.2 467.1 L240.8 468.0 L241.4 468.7 L242.0 469.4 L242.6 470.0 L243.2 470.4 L243.8 470.7 L244.4 471.0 L245.0 471.2 L245.7 471.3 L246.3 471.4 L246.9 471.5 L247.5 471.5 L248.1 471.6 L248.7 471.6 L249.3 471.6 L249.9 471.6 L250.5 471.6 L251.1 471.6 L251.8 471.6 L252.4 471.6 L253.0 471.6 L253.6 471.6 L254.2 471.6 L254.8 471.6 L255.4 471.6 L256.0 471.6 L256.6 471.6 L257.2 471.6 L257.8 471.6 L258.5 471.6 L259.1 471.6 L259.7 471.6 L260.3 471.6 L260.9 471.6 L261.5 471.6 L261.5 471.6 L170.1 471.6Z" fill="#62c83c" />
<path d="M170.1 471.6 L170.7 471.6 L171.3 471.6 L171.9 471.6 L172.5 471.6 L173.1 471.6 L173.8 471.6 L174.4 471.6 L175.0 471.6 L175.6 471.6 L176.2 471.6 L176.8 471.6 L177.4 471.6 L178.0 471.6 L178.6 471.6 L179.2 471.6 L179.8 471.6 L180.5 471.6 L181.1 471.6 L181.7 471.6 L182.3 471.6 L182.9 471.6 L183.5 471.6 L184.1 471.6 L184.7 471.6 L185.3 471.6 L185.9 471.6 L186.6 471.6 L187.2 471.6 L187.8 471.5 L188.4 471.5 L189.0 471.4 L189.6 471.2 L190.2 471.0 L190.8 470.5 L191.4 469.9 L192.0 469.0 L192.6 467.7 L193.3 465.9 L193.9 463.5 L194.5 460.3 L195.1 456.3 L195.7 451.4 L196.3 445.6 L196.9 439.0 L197.5 431.7 L198.1 424.0 L198.7 416.2 L199.3 408.9 L200.0 402.4 L200.6 397.1 L201.2 393.5 L201.8 391.7 L202.4 392.0 L203.0 394.3 L203.6 398.5 L204.2 404.2 L204.8 411.0 L205.4 418.5 L206.1 426.3 L206.7 433.9 L207.3 441.0 L207.9 447.4 L208.5 453.0 L209.1 457.6 L209.7 461.4 L210.3 464.3 L210.9 466.5 L211.5 468.2 L212.1 469.3 L212.8 470.1 L213.4 470.7 L214.0 471.0 L214.6 471.3 L215.2 471.4 L215.8 471.5 L216.4 471.5 L217.0 471.6 L217.6 471.6 L218.2 471.6 L218.8 471.6 L219.5 471.6 L220.1 471.6 L220.7 471.6 L221.3 471.6 L221.9 471.6 L222.5 471.6 L223.1 471.6 L223.7 471.6 L224.3 471.6 L224.9 471.6 L225.5 471.6 L226.2 471.6 L226.8 471.6 L227.4 471.6 L228.0 471.6 L228.6 471.6 L229.2 471.6 L229.8 471.6 L230.4 471.6 L231.0 471.6 L231.6 471.6 L232.3 471.6 L232.9 471.6 L233.5 471.6 L234.1 471.6 L234.7 471.6 L235.3 471.6 L235.9 471.6 L236.5 471.6 L237.1 471.6 L237.7 471.6 L238.3 471.6 L239.0 471.6 L239.6 471.6 L240.2 471.6 L240.8 471.6 L241.4 471.6 L242.0 471.6 L242.6 471.6 L243.2 471.6 L243.8 471.6 L244.4 471.6 L245.0 471.6 L245.7 471.6 L246.3 471.6 L246.9 471.6 L247.5 471.6 L248.1 471.6 L248.7 471.6 L249.3 471.6 L249.9 471.6 L250.5 471.6 L251.1 471.6 L251.8 471.6 L252.4 471.6 L253.0 471.6 L253.6 471.6 L254.2 471.6 L254.8 471.6 L255.4 471.6 L256.0 471.6 L256.6 471.6 L257.2 471.6 L257.8 471.6 L258.5 471.6 L259.1 471.6 L259.7 471.6 L260.3 471.6 L260.9 471.6 L261.5 471.6 L261.5 471.6 L170.1 471.6Z" fill="#2b3c9e" />
<path d="M170.1 471.6 L170.7 471.6 L171.3 471.6 L171.9 471.6 L172.5 471.6 L173.1 471.6 L173.8 471.6 L174.4 471.6 L175.0 471.6 L175.6 471.6 L176.2 471.6 L176.8 471.6 L177.4 471.6 L178.0 471.6 L178.6 471.6 L179.2 471.6 L179.8 471.6 L180.5 471.6 L181.1 471.6 L181.7 471.6 L182.3 471.6 L182.9 471.6 L183.5 471.6 L184.1 471.6 L184.7 471.6 L185.3 471.6 L185.9 471.6 L186.6 471.6 L187.2 471.5 L187.8 471.5 L188.4 471.4 L189.0 471.3 L189.6 471.2 L190.2 470.9 L190.8 470.5 L191.4 469.9 L192.0 468.9 L192.6 467.6 L193.3 465.8 L193.9 463.3 L194.5 460.1 L195.1 456.1 L195.7 451.1 L196.3 445.2 L196.9 438.5 L197.5 431.1 L198.1 423.3 L198.7 415.4 L199.3 407.9 L200.0 401.3 L200.6 395.8 L201.2 392.0 L201.8 390.0 L202.4 390.1 L203.0 392.1 L203.6 396.0 L204.2 401.4 L204.8 407.8 L205.4 415.0 L206.1 422.4 L206.7 429.6 L207.3 436.3 L207.9 442.3 L208.5 447.4 L209.1 451.5 L209.7 454.8 L210.3 457.3 L210.9 459.1 L211.5 460.3 L212.1 461.1 L212.8 461.5 L213.4 461.6 L214.0 461.7 L214.6 461.6 L215.2 461.5 L215.8 461.3 L216.4 461.2 L217.0 461.1 L217.6 461.1 L218.2 461.1 L218.8 461.1 L219.5 461.2 L220.1 461.4 L220.7 461.6 L221.3 461.8 L221.9 462.1 L222.5 462.4 L223.1 462.8 L223.7 463.2 L224.3 463.5 L224.9 463.9 L225.5 464.2 L226.2 464.5 L226.8 464.8 L227.4 464.9 L228.0 465.0 L228.6 464.9 L229.2 464.8 L229.8 464.5 L230.4 464.1 L231.0 463.6 L231.6 463.0 L232.3 462.4 L232.9 461.9 L233.5 461.4 L234.1 461.0 L234.7 460.8 L235.3 460.8 L235.9 461.0 L236.5 461.5 L237.1 462.1 L237.7 462.9 L238.3 463.8 L239.0 464.8 L239.6 465.8 L240.2 466.8 L240.8 467.7 L241.4 468.5 L242.0 469.2 L242.6 469.8 L243.2 470.3 L243.8 470.6 L244.4 470.9 L245.0 471.1 L245.7 471.3 L246.3 471.4 L246.9 471.5 L247.5 471.5 L248.1 471.5 L248.7 471.6 L249.3 471.6 L249.9 471.6 L250.5 471.6 L251.1 471.6 L251.8 471.6 L252.4 471.6 L253.0 471.6 L253.6 471.6 L254.2 471.6 L254.8 471.6 L255.4 471.6 L256.0 471.6 L256.6 471.6 L257.2 471.6 L257.8 471.6 L258.5 471.6 L259.1 471.6 L259.7 471.6 L260.3 471.6 L260.9 471.6 L261.5 471.6" fill="none" stroke="#b83cb8" stroke-width="0.7" />
<path d="M170.1 471.6 L170.7 471.6 L171.3 471.6 L171.9 471.6 L172.5 471.6 L173.1 471.6 L173.8 471.6 L174.4 471.6 L175.0 471.6 L175.6 471.6 L176.2 471.6 L176.8 471.6 L177.4 471.6 L178.0 471.6 L178.6 471.6 L179.2 471.6 L179.8 471.6 L180.5 471.6 L181.1 471.6 L181.7 471.6 L182.3 471.6 L182.9 471.6 L183.5 471.6 L184.1 471.6 L184.7 471.6 L185.3 471.6 L185.9 471.6 L186.6 471.6 L187.2 471.5 L187.8 471.5 L188.4 471.4 L189.0 471.3 L189.6 471.2 L190.2 470.9 L190.8 470.5 L191.4 469.8 L192.0 468.9 L192.6 467.6 L193.3 465.7 L193.9 463.2 L194.5 459.9 L195.1 455.8 L195.7 450.6 L196.3 444.5 L196.9 437.5 L197.5 429.7 L198.1 421.5 L198.7 413.2 L199.3 405.2 L200.0 398.1 L200.6 392.2 L201.2 388.1 L201.8 386.0 L202.4 386.1 L203.0 388.3 L203.6 392.5 L204.2 398.3 L204.8 405.2 L205.4 412.9 L206.1 420.7 L206.7 428.2 L207.3 435.2 L207.9 442.1 L208.5 445.5 L209.1 449.5 L209.7 453.4 L210.3 454.9 L210.9 456.4 L211.5 457.0 L212.1 457.3 L212.8 459.2 L213.4 459.5 L214.0 457.7 L214.6 458.5 L215.2 457.7 L215.8 459.2 L216.4 458.1 L217.0 457.5 L217.6 458.5 L218.2 456.9 L218.8 457.1 L219.5 459.1 L220.1 459.2 L220.7 458.3 L221.3 457.7 L221.9 459.2 L222.5 459.9 L223.1 459.8 L223.7 461.0 L224.3 460.9 L224.9 460.8 L225.5 461.1 L226.2 462.0 L226.8 462.2 L227.4 462.5 L228.0 462.1 L228.6 462.5 L229.2 463.1 L229.8 461.2 L230.4 461.6 L231.0 461.2 L231.6 461.9 L232.3 459.9 L232.9 459.9 L233.5 461.3 L234.1 460.7 L234.7 459.8 L235.3 460.0 L235.9 460.8 L236.5 461.3 L237.1 462.0 L237.7 462.8 L238.3 463.8 L239.0 464.8 L239.6 465.8 L240.2 466.8 L240.8 467.7 L241.4 468.5 L242.0 469.2 L242.6 469.8 L243.2 470.3 L243.8 470.6 L244.4 470.9 L245.0 471.1 L245.7 471.3 L246.3 471.4 L246.9 471.5 L247.5 471.5 L248.1 471.5 L248.7 471.6 L249.3 471.6 L249.9 471.6 L250.5 471.6 L251.1 471.6 L251.8 471.6 L252.4 471.6 L253.0 471.6 L253.6 471.6 L254.2 471.6 L254.8 471.6 L255.4 471.6 L256.0 471.6 L256.6 471.6 L257.2 471.6 L257.8 471.6 L258.5 471.6 L259.1 471.6 L259.7 471.6 L260.3 471.6 L260.9 471.6 L261.5 471.6" fill="none" stroke="#111" stroke-width="0.6" />
<line x1="167.9" y1="471.6" x2="169.1" y2="471.6" stroke="#555" stroke-width="0.5" />
<text x="167.5" y="472.63" font-size="3" text-anchor="end" fill="#444" stroke="#444"  stroke-width="0">0</text>
<line x1="167.9" y1="455.3" x2="169.1" y2="455.3" stroke="#555" stroke-width="0.5" />
<text x="167.5" y="456.33" font-size="3" text-anchor="end" fill="#444" stroke="#444"  stroke-width="0">50</text>
<line x1="167.9" y1="438.3" x2="169.1" y2="438.3" stroke="#555" stroke-width="0.5" />
<text x="167.5" y="439.33" font-size="3" text-anchor="end" fill="#444" stroke="#444"  stroke-width="0">100</text>
<line x1="167.9" y1="421.3" x2="169.1" y2="421.3" stroke="#555" stroke-width="0.5" />
<text x="167.5" y="422.33" font-size="3" text-anchor="end" fill="#444" stroke="#444"  stroke-width="0">150</text>
<line x1="167.9" y1="404.5" x2="169.1" y2="404.5" stroke="#555" stroke-width="0.5" />
<text x="167.5" y="405.53" font-size="3" text-anchor="end" fill="#444" stroke="#444"  stroke-width="0">200</text>
<line x1="167.9" y1="387.5" x2="169.1" y2="387.5" stroke="#555" stroke-width="0.5" />
<text x="167.5" y="388.53" font-size="3" text-anchor="end" fill="#444" stroke="#444"  stroke-width="0">250</text>
<line x1="170.5" y1="472.5" x2="170.5" y2="473.7" stroke="#555" stroke-width="0.5" />
<text x="170.5" y="478.53" font-size="3" text-anchor="middle" fill="#444" stroke="#444"  stroke-width="0">0</text>
<line x1="189.8" y1="472.5" x2="189.8" y2="473.7" stroke="#555" stroke-width="0.5" />
<text x="189.8" y="478.53" font-size="3" text-anchor="middle" fill="#444" stroke="#444"  stroke-width="0">1.0M</text>
<line x1="209" y1="472.5" x2="209" y2="473.7" stroke="#555" stroke-width="0.5" />
<text x="209" y="478.53" font-size="3" text-anchor="middle" fill="#444" stroke="#444"  stroke-width="0">2.0M</text>
<line x1="226.2" y1="472.5" x2="226.2" y2="473.7" stroke="#555" stroke-width="0.5" />
<text x="226.2" y="478.53" font-size="3" text-anchor="middle" fill="#444" stroke="#444"  stroke-width="0">3.0M</text>
<line x1="245.3" y1="472.5" x2="245.3" y2="473.7" stroke="#555" stroke-width="0.5" />
<text x="245.3" y="478.53" font-size="3" text-anchor="middle" fill="#444" stroke="#444"  stroke-width="0">4.0M</text>
<line x1="168.4" y1="472.5" x2="169.1" y2="472.5" stroke="#777" stroke-width="0.35" />
<line x1="168.4" y1="468.5" x2="169.1" y2="468.5" stroke="#777" stroke-width="0.35" />
<line x1="168.4" y1="464.5" x2="169.1" y2="464.5" stroke="#777" stroke-width="0.35" />
<line x1="168.4" y1="460.5" x2="169.1" y2="460.5" stroke="#777" stroke-width="0.35" />
<line x1="168.4" y1="456.5" x2="169.1" y2="456.5" stroke="#777" stroke-width="0.35" />
<line x1="168.4" y1="452.5" x2="169.1" y2="452.5" stroke="#777" stroke-width="0.35" />
<line x1="168.4" y1="448.5" x2="169.1" y2="448.5" stroke="#777" stroke-width="0.35" />
<line x1="168.4" y1="444.5" x2="169.1" y2="444.5" stroke="#777" stroke-width="0.35" />
<line x1="168.4" y1="440.5" x2="169.1" y2="440.5" stroke="#777" stroke-width="0.35" />
<line x1="168.4" y1="436.5" x2="169.1" y2="436.5" stroke="#777" stroke-width="0.35" />
<line x1="168.4" y1="432.5" x2="169.1" y2="432.5" stroke="#777" stroke-width="0.35" />
<line x1="168.4" y1="428.5" x2="169.1" y2="428.5" stroke="#777" stroke-width="0.35" />
<line x1="168.4" y1="424.5" x2="169.1" y2="424.5" stroke="#777" stroke-width="0.35" />
<line x1="168.4" y1="420.5" x2="169.1" y2="420.5" stroke="#777" stroke-width="0.35" />
<line x1="168.4" y1="416.5" x2="169.1" y2="416.5" stroke="#777" stroke-width="0.35" />
<line x1="168.4" y1="412.5" x2="169.1" y2="412.5" stroke="#777" stroke-width="0.35" />
<line x1="168.4" y1="408.5" x2="169.1" y2="408.5" stroke="#777" stroke-width="0.35" />
<line x1="168.4" y1="404.5" x2="169.1" y2="404.5" stroke="#777" stroke-width="0.35" />
<line x1="168.4" y1="400.5" x2="169.1" y2="400.5" stroke="#777" stroke-width="0.35" />
<line x1="168.4" y1="396.5" x2="169.1" y2="396.5" stroke="#777" stroke-width="0.35" />
<line x1="168.4" y1="392.5" x2="169.1" y2="392.5" stroke="#777" stroke-width="0.35" />
<line x1="168.4" y1="388.5" x2="169.1" y2="388.5" stroke="#777" stroke-width="0.35" />
<line x1="168.4" y1="384.5" x2="169.1" y2="384.5" stroke="#777" stroke-width="0.35" />
<line x1="169.1" y1="472.5" x2="169.1" y2="473.2" stroke="#777" stroke-width="0.35" />
<line x1="173.1" y1="472.5" x2="173.1" y2="473.2" stroke="#777" stroke-width="0.35" />
<line x1="177.1" y1="472.5" x2="177.1" y2="473.2" stroke="#777" stroke-width="0.35" />
<line x1="181.1" y1="472.5" x2="181.1" y2="473.2" stroke="#777" stroke-width="0.35" />
<line x1="185.1" y1="472.5" x2="185.1" y2="473.2" stroke="#777" stroke-width="0.35" />
<line x1="189.1" y1="472.5" x2="189.1" y2="473.2" stroke="#777" stroke-width="0.35" />
<line x1="193.1" y1="472.5" x2="193.1" y2="473.2" stroke="#777" stroke-width="0.35" />
<line x1="197.1" y1="472.5" x2="197.1" y2="473.2" stroke="#777" stroke-width="0.35" />
<line x1="201.1" y1="472.5" x2="201.1" y2="473.2" stroke="#777" stroke-width="0.35" />
<line x1="205.1" y1="472.5" x2="205.1" y2="473.2" stroke="#777" stroke-width="0.35" />
<line x1="209.1" y1="472.5" x2="209.1" y2="473.2" stroke="#777" stroke-width="0.35" />
<line x1="213.1" y1="472.5" x2="213.1" y2="473.2" stroke="#777" stroke-width="0.35" />
<line x1="217.1" y1="472.5" x2="217.1" y2="473.2" stroke="#777" stroke-width="0.35" />
<line x1="221.1" y1="472.5" x2="221.1" y2="473.2" stroke="#777" stroke-width="0.35" />
<line x1="225.1" y1="472.5" x2="225.1" y2="473.2" stroke="#777" stroke-width="0.35" />
<line x1="229.1" y1="472.5" x2="229.1" y2="473.2" stroke="#777" stroke-width="0.35" />
<line x1="233.1" y1="472.5" x2="233.1" y2="473.2" stroke="#777" stroke-width="0.35" />
<line x1="237.1" y1="472.5" x2="237.1" y2="473.2" stroke="#777" stroke-width="0.35" />
<line x1="241.1" y1="472.5" x2="241.1" y2="473.2" stroke="#777" stroke-width="0.35" />
<line x1="245.1" y1="472.5" x2="245.1" y2="473.2" stroke="#777" stroke-width="0.35" />
<line x1="249.1" y1="472.5" x2="249.1" y2="473.2" stroke="#777" stroke-width="0.35" />
<line x1="253.1" y1="472.5" x2="253.1" y2="473.2" stroke="#777" stroke-width="0.35" />
<line x1="257.1" y1="472.5" x2="257.1" y2="473.2" stroke="#777" stroke-width="0.35" />
<line x1="261.1" y1="472.5" x2="261.1" y2="473.2" stroke="#777" stroke-width="0.35" />
<text x="215.8" y="376.11" font-size="7" text-anchor="middle" fill="#1a1a1a" stroke="#1a1a1a" >OE-Ctrl</text>
<text x="230.9" y="388.31" font-size="7" text-anchor="start" fill="#1a1a1a" stroke="#1a1a1a" >%G1:65.3</text>
<text x="230.9" y="396.61" font-size="7" text-anchor="start" fill="#1a1a1a" stroke="#1a1a1a" >%S:22.9</text>
<text x="230.9" y="404.91" font-size="7" text-anchor="start" fill="#1a1a1a" stroke="#1a1a1a" >%G2:12.2</text>
<text transform="translate(149.1,426) rotate(-90)" x="0" y="1.31" font-size="3.8" text-anchor="middle" fill="#333" stroke="#333"  stroke-width="0">Count</text>
<text x="215.8" y="490.31" font-size="3.8" text-anchor="middle" fill="#333" stroke="#333"  stroke-width="0">FL10-A :: PE-A</text>
<rect x="288.4" y="379" width="93.2" height="92.6" fill="#fff" stroke="#a0a0a0" stroke-width="0.7" />
<path d="M289.4 470.8 L290.0 470.8 L290.6 470.8 L291.2 470.8 L291.8 470.8 L292.4 470.8 L293.0 470.8 L293.7 470.8 L294.3 470.8 L294.9 470.8 L295.5 470.8 L296.1 470.8 L296.7 470.8 L297.3 470.8 L297.9 470.8 L298.5 470.8 L299.1 470.8 L299.7 470.8 L300.3 470.8 L301.0 470.8 L301.6 470.8 L302.2 470.8 L302.8 470.8 L303.4 470.8 L304.0 470.8 L304.6 470.8 L305.2 470.8 L305.8 470.8 L306.4 470.8 L307.0 470.8 L307.6 470.8 L308.2 470.8 L308.9 470.8 L309.5 470.8 L310.1 470.7 L310.7 470.7 L311.3 470.7 L311.9 470.7 L312.5 470.7 L313.1 470.6 L313.7 470.6 L314.3 470.6 L314.9 470.5 L315.5 470.5 L316.2 470.4 L316.8 470.3 L317.4 470.3 L318.0 470.2 L318.6 470.1 L319.2 469.9 L319.8 469.8 L320.4 469.6 L321.0 469.5 L321.6 469.3 L322.2 469.1 L322.8 468.9 L323.4 468.6 L324.1 468.4 L324.7 468.1 L325.3 467.8 L325.9 467.5 L326.5 467.2 L327.1 466.8 L327.7 466.5 L328.3 466.2 L328.9 465.8 L329.5 465.5 L330.1 465.2 L330.7 464.9 L331.4 464.5 L332.0 464.3 L332.6 464.0 L333.2 463.8 L333.8 463.5 L334.4 463.4 L335.0 463.2 L335.6 463.1 L336.2 463.0 L336.8 463.0 L337.4 463.0 L338.0 463.1 L338.6 463.1 L339.3 463.3 L339.9 463.4 L340.5 463.6 L341.1 463.8 L341.7 464.1 L342.3 464.4 L342.9 464.7 L343.5 465.0 L344.1 465.3 L344.7 465.6 L345.3 466.0 L345.9 466.3 L346.6 466.7 L347.2 467.0 L347.8 467.3 L348.4 467.6 L349.0 467.9 L349.6 468.2 L350.2 468.5 L350.8 468.7 L351.4 468.9 L352.0 469.2 L352.6 469.4 L353.2 469.5 L353.8 469.7 L354.5 469.9 L355.1 470.0 L355.7 470.1 L356.3 470.2 L356.9 470.3 L357.5 470.4 L358.1 470.4 L358.7 470.5 L359.3 470.6 L359.9 470.6 L360.5 470.6 L361.1 470.7 L361.8 470.7 L362.4 470.7 L363.0 470.7 L363.6 470.7 L364.2 470.8 L364.8 470.8 L365.4 470.8 L366.0 470.8 L366.6 470.8 L367.2 470.8 L367.8 470.8 L368.4 470.8 L369.0 470.8 L369.7 470.8 L370.3 470.8 L370.9 470.8 L371.5 470.8 L372.1 470.8 L372.7 470.8 L373.3 470.8 L373.9 470.8 L374.5 470.8 L375.1 470.8 L375.7 470.8 L376.3 470.8 L377.0 470.8 L377.6 470.8 L378.2 470.8 L378.8 470.8 L379.4 470.8 L380.0 470.8 L380.6 470.8 L380.6 470.8 L289.4 470.8Z" fill="#a9a833" />
<path d="M289.4 470.8 L290.0 470.8 L290.6 470.8 L291.2 470.8 L291.8 470.8 L292.4 470.8 L293.0 470.8 L293.7 470.8 L294.3 470.8 L294.9 470.8 L295.5 470.8 L296.1 470.8 L296.7 470.8 L297.3 470.8 L297.9 470.8 L298.5 470.8 L299.1 470.8 L299.7 470.8 L300.3 470.8 L301.0 470.8 L301.6 470.8 L302.2 470.8 L302.8 470.8 L303.4 470.8 L304.0 470.8 L304.6 470.8 L305.2 470.8 L305.8 470.8 L306.4 470.8 L307.0 470.8 L307.6 470.8 L308.2 470.8 L308.9 470.8 L309.5 470.8 L310.1 470.8 L310.7 470.8 L311.3 470.8 L311.9 470.8 L312.5 470.8 L313.1 470.8 L313.7 470.8 L314.3 470.8 L314.9 470.8 L315.5 470.8 L316.2 470.8 L316.8 470.8 L317.4 470.8 L318.0 470.8 L318.6 470.8 L319.2 470.8 L319.8 470.8 L320.4 470.8 L321.0 470.8 L321.6 470.8 L322.2 470.8 L322.8 470.8 L323.4 470.8 L324.1 470.8 L324.7 470.8 L325.3 470.8 L325.9 470.8 L326.5 470.8 L327.1 470.8 L327.7 470.8 L328.3 470.8 L328.9 470.8 L329.5 470.8 L330.1 470.8 L330.7 470.8 L331.4 470.8 L332.0 470.8 L332.6 470.8 L333.2 470.8 L333.8 470.8 L334.4 470.8 L335.0 470.8 L335.6 470.8 L336.2 470.8 L336.8 470.8 L337.4 470.8 L338.0 470.8 L338.6 470.8 L339.3 470.8 L339.9 470.8 L340.5 470.7 L341.1 470.7 L341.7 470.6 L342.3 470.6 L342.9 470.4 L343.5 470.3 L344.1 470.0 L344.7 469.7 L345.3 469.3 L345.9 468.8 L346.6 468.1 L347.2 467.4 L347.8 466.6 L348.4 465.7 L349.0 464.8 L349.6 463.9 L350.2 463.0 L350.8 462.3 L351.4 461.8 L352.0 461.4 L352.6 461.3 L353.2 461.4 L353.8 461.8 L354.5 462.4 L355.1 463.1 L355.7 463.9 L356.3 464.9 L356.9 465.8 L357.5 466.7 L358.1 467.5 L358.7 468.2 L359.3 468.8 L359.9 469.3 L360.5 469.7 L361.1 470.0 L361.8 470.3 L362.4 470.4 L363.0 470.6 L363.6 470.7 L364.2 470.7 L364.8 470.7 L365.4 470.8 L366.0 470.8 L366.6 470.8 L367.2 470.8 L367.8 470.8 L368.4 470.8 L369.0 470.8 L369.7 470.8 L370.3 470.8 L370.9 470.8 L371.5 470.8 L372.1 470.8 L372.7 470.8 L373.3 470.8 L373.9 470.8 L374.5 470.8 L375.1 470.8 L375.7 470.8 L376.3 470.8 L377.0 470.8 L377.6 470.8 L378.2 470.8 L378.8 470.8 L379.4 470.8 L380.0 470.8 L380.6 470.8 L380.6 470.8 L289.4 470.8Z" fill="#62c83c" />
<path d="M289.4 470.8 L290.0 470.8 L290.6 470.8 L291.2 470.8 L291.8 470.8 L292.4 470.8 L293.0 470.8 L293.7 470.8 L294.3 470.8 L294.9 470.8 L295.5 470.8 L296.1 470.8 L296.7 470.8 L297.3 470.8 L297.9 470.8 L298.5 470.8 L299.1 470.8 L299.7 470.8 L300.3 470.8 L301.0 470.8 L301.6 470.8 L302.2 470.8 L302.8 470.8 L303.4 470.8 L304.0 470.8 L304.6 470.8 L305.2 470.8 L305.8 470.8 L306.4 470.8 L307.0 470.7 L307.6 470.7 L308.2 470.6 L308.9 470.5 L309.5 470.3 L310.1 469.9 L310.7 469.3 L311.3 468.4 L311.9 467.1 L312.5 465.3 L313.1 462.7 L313.7 459.3 L314.3 454.9 L314.9 449.5 L315.5 443.0 L316.2 435.6 L316.8 427.4 L317.4 418.9 L318.0 410.4 L318.6 402.5 L319.2 395.7 L319.8 390.6 L320.4 387.6 L321.0 386.8 L321.6 388.5 L322.2 392.4 L322.8 398.2 L323.4 405.4 L324.1 413.6 L324.7 422.2 L325.3 430.6 L325.9 438.5 L326.5 445.6 L327.1 451.7 L327.7 456.7 L328.3 460.7 L328.9 463.8 L329.5 466.0 L330.1 467.7 L330.7 468.8 L331.4 469.6 L332.0 470.1 L332.6 470.4 L333.2 470.5 L333.8 470.7 L334.4 470.7 L335.0 470.8 L335.6 470.8 L336.2 470.8 L336.8 470.8 L337.4 470.8 L338.0 470.8 L338.6 470.8 L339.3 470.8 L339.9 470.8 L340.5 470.8 L341.1 470.8 L341.7 470.8 L342.3 470.8 L342.9 470.8 L343.5 470.8 L344.1 470.8 L344.7 470.8 L345.3 470.8 L345.9 470.8 L346.6 470.8 L347.2 470.8 L347.8 470.8 L348.4 470.8 L349.0 470.8 L349.6 470.8 L350.2 470.8 L350.8 470.8 L351.4 470.8 L352.0 470.8 L352.6 470.8 L353.2 470.8 L353.8 470.8 L354.5 470.8 L355.1 470.8 L355.7 470.8 L356.3 470.8 L356.9 470.8 L357.5 470.8 L358.1 470.8 L358.7 470.8 L359.3 470.8 L359.9 470.8 L360.5 470.8 L361.1 470.8 L361.8 470.8 L362.4 470.8 L363.0 470.8 L363.6 470.8 L364.2 470.8 L364.8 470.8 L365.4 470.8 L366.0 470.8 L366.6 470.8 L367.2 470.8 L367.8 470.8 L368.4 470.8 L369.0 470.8 L369.7 470.8 L370.3 470.8 L370.9 470.8 L371.5 470.8 L372.1 470.8 L372.7 470.8 L373.3 470.8 L373.9 470.8 L374.5 470.8 L375.1 470.8 L375.7 470.8 L376.3 470.8 L377.0 470.8 L377.6 470.8 L378.2 470.8 L378.8 470.8 L379.4 470.8 L380.0 470.8 L380.6 470.8 L380.6 470.8 L289.4 470.8Z" fill="#2b3c9e" />
<path d="M289.4 470.8 L290.0 470.8 L290.6 470.8 L291.2 470.8 L291.8 470.8 L292.4 470.8 L293.0 470.8 L293.7 470.8 L294.3 470.8 L294.9 470.8 L295.5 470.8 L296.1 470.8 L296.7 470.8 L297.3 470.8 L297.9 470.8 L298.5 470.8 L299.1 470.8 L299.7 470.8 L300.3 470.8 L301.0 470.8 L301.6 470.8 L302.2 470.8 L302.8 470.8 L303.4 470.8 L304.0 470.8 L304.6 470.8 L305.2 470.8 L305.8 470.8 L306.4 470.8 L307.0 470.7 L307.6 470.7 L308.2 470.6 L308.9 470.5 L309.5 470.2 L310.1 469.8 L310.7 469.2 L311.3 468.3 L311.9 467.0 L312.5 465.1 L313.1 462.6 L313.7 459.1 L314.3 454.7 L314.9 449.2 L315.5 442.7 L316.2 435.2 L316.8 427.0 L317.4 418.3 L318.0 409.8 L318.6 401.8 L319.2 394.9 L319.8 389.6 L320.4 386.4 L321.0 385.5 L321.6 387.0 L322.2 390.6 L322.8 396.2 L323.4 403.2 L324.1 411.2 L324.7 419.4 L325.3 427.6 L325.9 435.2 L326.5 442.0 L327.1 447.7 L327.7 452.4 L328.3 456.1 L328.9 458.8 L329.5 460.7 L330.1 462.0 L330.7 462.9 L331.4 463.3 L332.0 463.5 L332.6 463.6 L333.2 463.5 L333.8 463.4 L334.4 463.3 L335.0 463.2 L335.6 463.1 L336.2 463.0 L336.8 463.0 L337.4 463.0 L338.0 463.1 L338.6 463.1 L339.3 463.2 L339.9 463.4 L340.5 463.6 L341.1 463.8 L341.7 463.9 L342.3 464.1 L342.9 464.3 L343.5 464.4 L344.1 464.5 L344.7 464.5 L345.3 464.4 L345.9 464.3 L346.6 464.0 L347.2 463.6 L347.8 463.1 L348.4 462.5 L349.0 461.9 L349.6 461.3 L350.2 460.7 L350.8 460.2 L351.4 459.9 L352.0 459.8 L352.6 459.9 L353.2 460.2 L353.8 460.7 L354.5 461.4 L355.1 462.3 L355.7 463.2 L356.3 464.3 L356.9 465.3 L357.5 466.2 L358.1 467.1 L358.7 467.9 L359.3 468.6 L359.9 469.1 L360.5 469.6 L361.1 469.9 L361.8 470.2 L362.4 470.4 L363.0 470.5 L363.6 470.6 L364.2 470.7 L364.8 470.7 L365.4 470.7 L366.0 470.8 L366.6 470.8 L367.2 470.8 L367.8 470.8 L368.4 470.8 L369.0 470.8 L369.7 470.8 L370.3 470.8 L370.9 470.8 L371.5 470.8 L372.1 470.8 L372.7 470.8 L373.3 470.8 L373.9 470.8 L374.5 470.8 L375.1 470.8 L375.7 470.8 L376.3 470.8 L377.0 470.8 L377.6 470.8 L378.2 470.8 L378.8 470.8 L379.4 470.8 L380.0 470.8 L380.6 470.8" fill="none" stroke="#b83cb8" stroke-width="0.7" />
<path d="M289.4 470.8 L290.0 470.8 L290.6 470.8 L291.2 470.8 L291.8 470.8 L292.4 470.8 L293.0 470.8 L293.7 470.8 L294.3 470.8 L294.9 470.8 L295.5 470.8 L296.1 470.8 L296.7 470.8 L297.3 470.8 L297.9 470.8 L298.5 470.8 L299.1 470.8 L299.7 470.8 L300.3 470.8 L301.0 470.8 L301.6 470.8 L302.2 470.8 L302.8 470.8 L303.4 470.8 L304.0 470.8 L304.6 470.8 L305.2 470.8 L305.8 470.8 L306.4 470.8 L307.0 470.7 L307.6 470.7 L308.2 470.6 L308.9 470.5 L309.5 470.2 L310.1 469.8 L310.7 469.2 L311.3 468.3 L311.9 467.0 L312.5 465.1 L313.1 462.6 L313.7 459.1 L314.3 454.7 L314.9 449.2 L315.5 442.7 L316.2 435.2 L316.8 427.0 L317.4 418.3 L318.0 409.8 L318.6 401.8 L319.2 394.9 L319.8 389.6 L320.4 386.4 L321.0 385.5 L321.6 387.0 L322.2 390.6 L322.8 396.2 L323.4 403.2 L324.1 411.1 L324.7 419.4 L325.3 427.5 L325.9 435.0 L326.5 440.5 L327.1 445.8 L327.7 451.8 L328.3 454.6 L328.9 455.0 L329.5 456.7 L330.1 457.9 L330.7 459.4 L331.4 459.1 L332.0 459.3 L332.6 459.4 L333.2 460.3 L333.8 459.6 L334.4 459.5 L335.0 458.7 L335.6 458.0 L336.2 458.0 L336.8 458.9 L337.4 459.1 L338.0 459.6 L338.6 460.2 L339.3 460.3 L339.9 459.5 L340.5 460.0 L341.1 460.0 L341.7 459.1 L342.3 460.1 L342.9 460.2 L343.5 461.1 L344.1 461.6 L344.7 461.0 L345.3 461.4 L345.9 460.5 L346.6 459.2 L347.2 459.7 L347.8 460.5 L348.4 458.6 L349.0 458.6 L349.6 458.5 L350.2 457.9 L350.8 458.2 L351.4 458.1 L352.0 459.3 L352.6 458.2 L353.2 458.7 L353.8 460.4 L354.5 461.2 L355.1 462.2 L355.7 463.2 L356.3 464.2 L356.9 465.2 L357.5 466.2 L358.1 467.1 L358.7 467.9 L359.3 468.6 L359.9 469.1 L360.5 469.6 L361.1 469.9 L361.8 470.2 L362.4 470.4 L363.0 470.5 L363.6 470.6 L364.2 470.7 L364.8 470.7 L365.4 470.7 L366.0 470.8 L366.6 470.8 L367.2 470.8 L367.8 470.8 L368.4 470.8 L369.0 470.8 L369.7 470.8 L370.3 470.8 L370.9 470.8 L371.5 470.8 L372.1 470.8 L372.7 470.8 L373.3 470.8 L373.9 470.8 L374.5 470.8 L375.1 470.8 L375.7 470.8 L376.3 470.8 L377.0 470.8 L377.6 470.8 L378.2 470.8 L378.8 470.8 L379.4 470.8 L380.0 470.8 L380.6 470.8" fill="none" stroke="#111" stroke-width="0.6" />
<line x1="287.2" y1="470.8" x2="288.4" y2="470.8" stroke="#555" stroke-width="0.5" />
<text x="286.8" y="471.83" font-size="3" text-anchor="end" fill="#444" stroke="#444"  stroke-width="0">0</text>
<line x1="287.2" y1="453.8" x2="288.4" y2="453.8" stroke="#555" stroke-width="0.5" />
<text x="286.8" y="454.83" font-size="3" text-anchor="end" fill="#444" stroke="#444"  stroke-width="0">50</text>
<line x1="287.2" y1="437" x2="288.4" y2="437" stroke="#555" stroke-width="0.5" />
<text x="286.8" y="438.03" font-size="3" text-anchor="end" fill="#444" stroke="#444"  stroke-width="0">100</text>
<line x1="287.2" y1="420" x2="288.4" y2="420" stroke="#555" stroke-width="0.5" />
<text x="286.8" y="421.03" font-size="3" text-anchor="end" fill="#444" stroke="#444"  stroke-width="0">150</text>
<line x1="287.2" y1="403" x2="288.4" y2="403" stroke="#555" stroke-width="0.5" />
<text x="286.8" y="404.03" font-size="3" text-anchor="end" fill="#444" stroke="#444"  stroke-width="0">200</text>
<line x1="287.2" y1="386" x2="288.4" y2="386" stroke="#555" stroke-width="0.5" />
<text x="286.8" y="387.03" font-size="3" text-anchor="end" fill="#444" stroke="#444"  stroke-width="0">250</text>
<line x1="290" y1="471.6" x2="290" y2="472.8" stroke="#555" stroke-width="0.5" />
<text x="290" y="477.63" font-size="3" text-anchor="middle" fill="#444" stroke="#444"  stroke-width="0">0</text>
<line x1="308.9" y1="471.6" x2="308.9" y2="472.8" stroke="#555" stroke-width="0.5" />
<text x="308.9" y="477.63" font-size="3" text-anchor="middle" fill="#444" stroke="#444"  stroke-width="0">1.0M</text>
<line x1="326.9" y1="471.6" x2="326.9" y2="472.8" stroke="#555" stroke-width="0.5" />
<text x="326.9" y="477.63" font-size="3" text-anchor="middle" fill="#444" stroke="#444"  stroke-width="0">2.0M</text>
<line x1="345.9" y1="471.6" x2="345.9" y2="472.8" stroke="#555" stroke-width="0.5" />
<text x="345.9" y="477.63" font-size="3" text-anchor="middle" fill="#444" stroke="#444"  stroke-width="0">3.0M</text>
<line x1="364.9" y1="471.6" x2="364.9" y2="472.8" stroke="#555" stroke-width="0.5" />
<text x="364.9" y="477.63" font-size="3" text-anchor="middle" fill="#444" stroke="#444"  stroke-width="0">4.0M</text>
<line x1="287.7" y1="471.6" x2="288.4" y2="471.6" stroke="#777" stroke-width="0.35" />
<line x1="287.7" y1="467.6" x2="288.4" y2="467.6" stroke="#777" stroke-width="0.35" />
<line x1="287.7" y1="463.6" x2="288.4" y2="463.6" stroke="#777" stroke-width="0.35" />
<line x1="287.7" y1="459.6" x2="288.4" y2="459.6" stroke="#777" stroke-width="0.35" />
<line x1="287.7" y1="455.6" x2="288.4" y2="455.6" stroke="#777" stroke-width="0.35" />
<line x1="287.7" y1="451.6" x2="288.4" y2="451.6" stroke="#777" stroke-width="0.35" />
<line x1="287.7" y1="447.6" x2="288.4" y2="447.6" stroke="#777" stroke-width="0.35" />
<line x1="287.7" y1="443.6" x2="288.4" y2="443.6" stroke="#777" stroke-width="0.35" />
<line x1="287.7" y1="439.6" x2="288.4" y2="439.6" stroke="#777" stroke-width="0.35" />
<line x1="287.7" y1="435.6" x2="288.4" y2="435.6" stroke="#777" stroke-width="0.35" />
<line x1="287.7" y1="431.6" x2="288.4" y2="431.6" stroke="#777" stroke-width="0.35" />
<line x1="287.7" y1="427.6" x2="288.4" y2="427.6" stroke="#777" stroke-width="0.35" />
<line x1="287.7" y1="423.6" x2="288.4" y2="423.6" stroke="#777" stroke-width="0.35" />
<line x1="287.7" y1="419.6" x2="288.4" y2="419.6" stroke="#777" stroke-width="0.35" />
<line x1="287.7" y1="415.6" x2="288.4" y2="415.6" stroke="#777" stroke-width="0.35" />
<line x1="287.7" y1="411.6" x2="288.4" y2="411.6" stroke="#777" stroke-width="0.35" />
<line x1="287.7" y1="407.6" x2="288.4" y2="407.6" stroke="#777" stroke-width="0.35" />
<line x1="287.7" y1="403.6" x2="288.4" y2="403.6" stroke="#777" stroke-width="0.35" />
<line x1="287.7" y1="399.6" x2="288.4" y2="399.6" stroke="#777" stroke-width="0.35" />
<line x1="287.7" y1="395.6" x2="288.4" y2="395.6" stroke="#777" stroke-width="0.35" />
<line x1="287.7" y1="391.6" x2="288.4" y2="391.6" stroke="#777" stroke-width="0.35" />
<line x1="287.7" y1="387.6" x2="288.4" y2="387.6" stroke="#777" stroke-width="0.35" />
<line x1="287.7" y1="383.6" x2="288.4" y2="383.6" stroke="#777" stroke-width="0.35" />
<line x1="288.4" y1="471.6" x2="288.4" y2="472.3" stroke="#777" stroke-width="0.35" />
<line x1="292.4" y1="471.6" x2="292.4" y2="472.3" stroke="#777" stroke-width="0.35" />
<line x1="296.4" y1="471.6" x2="296.4" y2="472.3" stroke="#777" stroke-width="0.35" />
<line x1="300.4" y1="471.6" x2="300.4" y2="472.3" stroke="#777" stroke-width="0.35" />
<line x1="304.4" y1="471.6" x2="304.4" y2="472.3" stroke="#777" stroke-width="0.35" />
<line x1="308.4" y1="471.6" x2="308.4" y2="472.3" stroke="#777" stroke-width="0.35" />
<line x1="312.4" y1="471.6" x2="312.4" y2="472.3" stroke="#777" stroke-width="0.35" />
<line x1="316.4" y1="471.6" x2="316.4" y2="472.3" stroke="#777" stroke-width="0.35" />
<line x1="320.4" y1="471.6" x2="320.4" y2="472.3" stroke="#777" stroke-width="0.35" />
<line x1="324.4" y1="471.6" x2="324.4" y2="472.3" stroke="#777" stroke-width="0.35" />
<line x1="328.4" y1="471.6" x2="328.4" y2="472.3" stroke="#777" stroke-width="0.35" />
<line x1="332.4" y1="471.6" x2="332.4" y2="472.3" stroke="#777" stroke-width="0.35" />
<line x1="336.4" y1="471.6" x2="336.4" y2="472.3" stroke="#777" stroke-width="0.35" />
<line x1="340.4" y1="471.6" x2="340.4" y2="472.3" stroke="#777" stroke-width="0.35" />
<line x1="344.4" y1="471.6" x2="344.4" y2="472.3" stroke="#777" stroke-width="0.35" />
<line x1="348.4" y1="471.6" x2="348.4" y2="472.3" stroke="#777" stroke-width="0.35" />
<line x1="352.4" y1="471.6" x2="352.4" y2="472.3" stroke="#777" stroke-width="0.35" />
<line x1="356.4" y1="471.6" x2="356.4" y2="472.3" stroke="#777" stroke-width="0.35" />
<line x1="360.4" y1="471.6" x2="360.4" y2="472.3" stroke="#777" stroke-width="0.35" />
<line x1="364.4" y1="471.6" x2="364.4" y2="472.3" stroke="#777" stroke-width="0.35" />
<line x1="368.4" y1="471.6" x2="368.4" y2="472.3" stroke="#777" stroke-width="0.35" />
<line x1="372.4" y1="471.6" x2="372.4" y2="472.3" stroke="#777" stroke-width="0.35" />
<line x1="376.4" y1="471.6" x2="376.4" y2="472.3" stroke="#777" stroke-width="0.35" />
<line x1="380.4" y1="471.6" x2="380.4" y2="472.3" stroke="#777" stroke-width="0.35" />
<text x="335" y="374.21" font-size="7" text-anchor="middle" fill="#1a1a1a" stroke="#1a1a1a" >OE-tRF-Ser</text>
<text x="350" y="386.41" font-size="7" text-anchor="start" fill="#1a1a1a" stroke="#1a1a1a" >%G1:72.5</text>
<text x="350" y="394.71" font-size="7" text-anchor="start" fill="#1a1a1a" stroke="#1a1a1a" >%S:16.5</text>
<text x="350" y="403.01" font-size="7" text-anchor="start" fill="#1a1a1a" stroke="#1a1a1a" >%G2:12.6</text>
<text transform="translate(268.4,426) rotate(-90)" x="0" y="1.31" font-size="3.8" text-anchor="middle" fill="#333" stroke="#333"  stroke-width="0">Count</text>
<text x="335" y="490.31" font-size="3.8" text-anchor="middle" fill="#333" stroke="#333"  stroke-width="0">FL10-A :: PE-A</text>
<rect x="409" y="378.4" width="92" height="92.1" fill="#fff" stroke="#a0a0a0" stroke-width="0.7" />
<path d="M410.0 469.8 L410.6 469.8 L411.2 469.8 L411.8 469.8 L412.4 469.8 L413.0 469.8 L413.6 469.8 L414.2 469.8 L414.8 469.8 L415.4 469.8 L416.0 469.8 L416.6 469.7 L417.2 469.7 L417.8 469.7 L418.4 469.7 L419.0 469.7 L419.6 469.6 L420.2 469.6 L420.8 469.6 L421.4 469.5 L422.0 469.5 L422.6 469.4 L423.2 469.3 L423.8 469.2 L424.4 469.1 L425.0 469.0 L425.6 468.9 L426.2 468.8 L426.8 468.6 L427.4 468.5 L428.0 468.3 L428.6 468.1 L429.2 467.8 L429.8 467.6 L430.4 467.3 L431.0 467.0 L431.6 466.7 L432.2 466.4 L432.8 466.0 L433.4 465.7 L434.0 465.3 L434.6 464.9 L435.2 464.5 L435.8 464.1 L436.4 463.7 L437.0 463.3 L437.6 462.9 L438.2 462.5 L438.8 462.1 L439.4 461.7 L440.0 461.3 L440.6 461.0 L441.2 460.7 L441.8 460.4 L442.4 460.2 L443.0 460.0 L443.6 459.8 L444.2 459.7 L444.8 459.6 L445.4 459.6 L446.0 459.6 L446.6 459.7 L447.2 459.8 L447.8 459.9 L448.4 460.1 L449.0 460.3 L449.6 460.6 L450.2 460.9 L450.8 461.2 L451.4 461.6 L452.0 461.9 L452.6 462.3 L453.2 462.7 L453.8 463.1 L454.4 463.5 L455.0 464.0 L455.6 464.4 L456.2 464.8 L456.8 465.2 L457.4 465.5 L458.0 465.9 L458.6 466.3 L459.2 466.6 L459.8 466.9 L460.4 467.2 L461.0 467.5 L461.6 467.7 L462.2 468.0 L462.8 468.2 L463.4 468.4 L464.0 468.6 L464.6 468.7 L465.2 468.9 L465.8 469.0 L466.4 469.1 L467.0 469.2 L467.6 469.3 L468.2 469.4 L468.8 469.4 L469.4 469.5 L470.0 469.5 L470.6 469.6 L471.2 469.6 L471.8 469.7 L472.4 469.7 L473.0 469.7 L473.6 469.7 L474.2 469.7 L474.8 469.7 L475.4 469.8 L476.0 469.8 L476.6 469.8 L477.2 469.8 L477.8 469.8 L478.4 469.8 L479.0 469.8 L479.6 469.8 L480.2 469.8 L480.8 469.8 L481.4 469.8 L482.0 469.8 L482.6 469.8 L483.2 469.8 L483.8 469.8 L484.4 469.8 L485.0 469.8 L485.6 469.8 L486.2 469.8 L486.8 469.8 L487.4 469.8 L488.0 469.8 L488.6 469.8 L489.2 469.8 L489.8 469.8 L490.4 469.8 L491.0 469.8 L491.6 469.8 L492.2 469.8 L492.8 469.8 L493.4 469.8 L494.0 469.8 L494.6 469.8 L495.2 469.8 L495.8 469.8 L496.4 469.8 L497.0 469.8 L497.6 469.8 L498.2 469.8 L498.8 469.8 L499.4 469.8 L500.0 469.8 L500 469.8 L410 469.8Z" fill="#a9a833" />
<path d="M410.0 469.8 L410.6 469.8 L411.2 469.8 L411.8 469.8 L412.4 469.8 L413.0 469.8 L413.6 469.8 L414.2 469.8 L414.8 469.8 L415.4 469.8 L416.0 469.8 L416.6 469.8 L417.2 469.8 L417.8 469.8 L418.4 469.8 L419.0 469.8 L419.6 469.8 L420.2 469.8 L420.8 469.8 L421.4 469.8 L422.0 469.8 L422.6 469.8 L423.2 469.8 L423.8 469.8 L424.4 469.8 L425.0 469.8 L425.6 469.8 L426.2 469.8 L426.8 469.8 L427.4 469.8 L428.0 469.8 L428.6 469.8 L429.2 469.8 L429.8 469.8 L430.4 469.8 L431.0 469.8 L431.6 469.8 L432.2 469.8 L432.8 469.8 L433.4 469.8 L434.0 469.8 L434.6 469.8 L435.2 469.8 L435.8 469.8 L436.4 469.8 L437.0 469.8 L437.6 469.8 L438.2 469.8 L438.8 469.8 L439.4 469.8 L440.0 469.8 L440.6 469.8 L441.2 469.8 L441.8 469.8 L442.4 469.8 L443.0 469.8 L443.6 469.8 L444.2 469.8 L444.8 469.8 L445.4 469.7 L446.0 469.7 L446.6 469.6 L447.2 469.6 L447.8 469.4 L448.4 469.2 L449.0 469.0 L449.6 468.6 L450.2 468.2 L450.8 467.6 L451.4 467.0 L452.0 466.3 L452.6 465.6 L453.2 464.8 L453.8 464.1 L454.4 463.5 L455.0 463.1 L455.6 462.8 L456.2 462.8 L456.8 463.0 L457.4 463.4 L458.0 463.9 L458.6 464.6 L459.2 465.3 L459.8 466.1 L460.4 466.8 L461.0 467.4 L461.6 468.0 L462.2 468.5 L462.8 468.9 L463.4 469.1 L464.0 469.4 L464.6 469.5 L465.2 469.6 L465.8 469.7 L466.4 469.7 L467.0 469.8 L467.6 469.8 L468.2 469.8 L468.8 469.8 L469.4 469.8 L470.0 469.8 L470.6 469.8 L471.2 469.8 L471.8 469.8 L472.4 469.8 L473.0 469.8 L473.6 469.8 L474.2 469.8 L474.8 469.8 L475.4 469.8 L476.0 469.8 L476.6 469.8 L477.2 469.8 L477.8 469.8 L478.4 469.8 L479.0 469.8 L479.6 469.8 L480.2 469.8 L480.8 469.8 L481.4 469.8 L482.0 469.8 L482.6 469.8 L483.2 469.8 L483.8 469.8 L484.4 469.8 L485.0 469.8 L485.6 469.8 L486.2 469.8 L486.8 469.8 L487.4 469.8 L488.0 469.8 L488.6 469.8 L489.2 469.8 L489.8 469.8 L490.4 469.8 L491.0 469.8 L491.6 469.8 L492.2 469.8 L492.8 469.8 L493.4 469.8 L494.0 469.8 L494.6 469.8 L495.2 469.8 L495.8 469.8 L496.4 469.8 L497.0 469.8 L497.6 469.8 L498.2 469.8 L498.8 469.8 L499.4 469.8 L500.0 469.8 L500 469.8 L410 469.8Z" fill="#62c83c" />
<path d="M410.0 469.8 L410.6 469.8 L411.2 469.8 L411.8 469.8 L412.4 469.8 L413.0 469.8 L413.6 469.8 L414.2 469.8 L414.8 469.8 L415.4 469.8 L416.0 469.8 L416.6 469.8 L417.2 469.8 L417.8 469.8 L418.4 469.8 L419.0 469.8 L419.6 469.8 L420.2 469.8 L420.8 469.7 L421.4 469.6 L422.0 469.5 L422.6 469.3 L423.2 468.9 L423.8 468.2 L424.4 467.1 L425.0 465.5 L425.6 463.2 L426.2 460.0 L426.8 455.7 L427.4 450.2 L428.0 443.5 L428.6 435.8 L429.2 427.3 L429.8 418.5 L430.4 410.1 L431.0 402.7 L431.6 396.9 L432.2 393.4 L432.8 392.5 L433.4 394.3 L434.0 398.6 L434.6 405.0 L435.2 412.8 L435.8 421.5 L436.4 430.2 L437.0 438.5 L437.6 445.9 L438.2 452.2 L438.8 457.2 L439.4 461.2 L440.0 464.1 L440.6 466.1 L441.2 467.5 L441.8 468.4 L442.4 469.0 L443.0 469.4 L443.6 469.6 L444.2 469.7 L444.8 469.7 L445.4 469.8 L446.0 469.8 L446.6 469.8 L447.2 469.8 L447.8 469.8 L448.4 469.8 L449.0 469.8 L449.6 469.8 L450.2 469.8 L450.8 469.8 L451.4 469.8 L452.0 469.8 L452.6 469.8 L453.2 469.8 L453.8 469.8 L454.4 469.8 L455.0 469.8 L455.6 469.8 L456.2 469.8 L456.8 469.8 L457.4 469.8 L458.0 469.8 L458.6 469.8 L459.2 469.8 L459.8 469.8 L460.4 469.8 L461.0 469.8 L461.6 469.8 L462.2 469.8 L462.8 469.8 L463.4 469.8 L464.0 469.8 L464.6 469.8 L465.2 469.8 L465.8 469.8 L466.4 469.8 L467.0 469.8 L467.6 469.8 L468.2 469.8 L468.8 469.8 L469.4 469.8 L470.0 469.8 L470.6 469.8 L471.2 469.8 L471.8 469.8 L472.4 469.8 L473.0 469.8 L473.6 469.8 L474.2 469.8 L474.8 469.8 L475.4 469.8 L476.0 469.8 L476.6 469.8 L477.2 469.8 L477.8 469.8 L478.4 469.8 L479.0 469.8 L479.6 469.8 L480.2 469.8 L480.8 469.8 L481.4 469.8 L482.0 469.8 L482.6 469.8 L483.2 469.8 L483.8 469.8 L484.4 469.8 L485.0 469.8 L485.6 469.8 L486.2 469.8 L486.8 469.8 L487.4 469.8 L488.0 469.8 L488.6 469.8 L489.2 469.8 L489.8 469.8 L490.4 469.8 L491.0 469.8 L491.6 469.8 L492.2 469.8 L492.8 469.8 L493.4 469.8 L494.0 469.8 L494.6 469.8 L495.2 469.8 L495.8 469.8 L496.4 469.8 L497.0 469.8 L497.6 469.8 L498.2 469.8 L498.8 469.8 L499.4 469.8 L500.0 469.8 L500 469.8 L410 469.8Z" fill="#2b3c9e" />
<path d="M410.0 469.8 L410.6 469.8 L411.2 469.8 L411.8 469.8 L412.4 469.8 L413.0 469.8 L413.6 469.8 L414.2 469.8 L414.8 469.8 L415.4 469.8 L416.0 469.8 L416.6 469.7 L417.2 469.7 L417.8 469.7 L418.4 469.7 L419.0 469.7 L419.6 469.6 L420.2 469.6 L420.8 469.5 L421.4 469.4 L422.0 469.2 L422.6 468.9 L423.2 468.4 L423.8 467.6 L424.4 466.5 L425.0 464.8 L425.6 462.3 L426.2 459.0 L426.8 454.5 L427.4 448.8 L428.0 442.0 L428.6 434.0 L429.2 425.3 L429.8 416.3 L430.4 407.6 L431.0 399.9 L431.6 393.8 L432.2 390.0 L432.8 388.8 L433.4 390.2 L434.0 394.1 L434.6 400.1 L435.2 407.5 L435.8 415.7 L436.4 424.1 L437.0 431.9 L437.6 438.9 L438.2 444.8 L438.8 449.5 L439.4 453.1 L440.0 455.6 L440.6 457.3 L441.2 458.4 L441.8 459.1 L442.4 459.4 L443.0 459.5 L443.6 459.6 L444.2 459.6 L444.8 459.5 L445.4 459.5 L446.0 459.5 L446.6 459.5 L447.2 459.5 L447.8 459.5 L448.4 459.5 L449.0 459.5 L449.6 459.4 L450.2 459.3 L450.8 459.1 L451.4 458.8 L452.0 458.4 L452.6 458.1 L453.2 457.7 L453.8 457.5 L454.4 457.3 L455.0 457.3 L455.6 457.4 L456.2 457.8 L456.8 458.4 L457.4 459.1 L458.0 460.0 L458.6 461.0 L459.2 462.1 L459.8 463.2 L460.4 464.2 L461.0 465.1 L461.6 465.9 L462.2 466.6 L462.8 467.2 L463.4 467.7 L464.0 468.1 L464.6 468.4 L465.2 468.7 L465.8 468.9 L466.4 469.0 L467.0 469.2 L467.6 469.3 L468.2 469.4 L468.8 469.4 L469.4 469.5 L470.0 469.5 L470.6 469.6 L471.2 469.6 L471.8 469.7 L472.4 469.7 L473.0 469.7 L473.6 469.7 L474.2 469.7 L474.8 469.7 L475.4 469.8 L476.0 469.8 L476.6 469.8 L477.2 469.8 L477.8 469.8 L478.4 469.8 L479.0 469.8 L479.6 469.8 L480.2 469.8 L480.8 469.8 L481.4 469.8 L482.0 469.8 L482.6 469.8 L483.2 469.8 L483.8 469.8 L484.4 469.8 L485.0 469.8 L485.6 469.8 L486.2 469.8 L486.8 469.8 L487.4 469.8 L488.0 469.8 L488.6 469.8 L489.2 469.8 L489.8 469.8 L490.4 469.8 L491.0 469.8 L491.6 469.8 L492.2 469.8 L492.8 469.8 L493.4 469.8 L494.0 469.8 L494.6 469.8 L495.2 469.8 L495.8 469.8 L496.4 469.8 L497.0 469.8 L497.6 469.8 L498.2 469.8 L498.8 469.8 L499.4 469.8 L500.0 469.8" fill="none" stroke="#b83cb8" stroke-width="0.7" />
<path d="M410.0 469.8 L410.6 469.8 L411.2 469.8 L411.8 469.8 L412.4 469.8 L413.0 469.8 L413.6 469.8 L414.2 469.8 L414.8 469.8 L415.4 469.8 L416.0 469.8 L416.6 469.7 L417.2 469.7 L417.8 469.7 L418.4 469.7 L419.0 469.7 L419.6 469.6 L420.2 469.6 L420.8 469.5 L421.4 469.4 L422.0 469.2 L422.6 468.9 L423.2 468.4 L423.8 467.6 L424.4 466.5 L425.0 464.7 L425.6 462.2 L426.2 458.8 L426.8 454.3 L427.4 448.4 L428.0 441.3 L428.6 433.1 L429.2 423.9 L429.8 414.5 L430.4 405.3 L431.0 397.1 L431.6 390.6 L432.2 386.6 L432.8 385.3 L433.4 386.8 L434.0 391.0 L434.6 397.3 L435.2 405.6 L435.8 413.3 L436.4 422.0 L437.0 429.1 L437.6 435.7 L438.2 442.6 L438.8 447.2 L439.4 448.9 L440.0 452.7 L440.6 454.4 L441.2 453.8 L441.8 455.6 L442.4 455.2 L443.0 456.1 L443.6 455.8 L444.2 456.9 L444.8 455.8 L445.4 455.2 L446.0 456.0 L446.6 455.6 L447.2 455.8 L447.8 457.2 L448.4 455.8 L449.0 456.2 L449.6 456.9 L450.2 457.6 L450.8 455.8 L451.4 456.7 L452.0 456.2 L452.6 455.8 L453.2 456.2 L453.8 455.7 L454.4 456.9 L455.0 456.2 L455.6 457.1 L456.2 457.6 L456.8 458.2 L457.4 459.0 L458.0 460.0 L458.6 461.0 L459.2 462.1 L459.8 463.1 L460.4 464.2 L461.0 465.1 L461.6 465.9 L462.2 466.6 L462.8 467.2 L463.4 467.7 L464.0 468.1 L464.6 468.4 L465.2 468.7 L465.8 468.9 L466.4 469.0 L467.0 469.2 L467.6 469.3 L468.2 469.4 L468.8 469.4 L469.4 469.5 L470.0 469.5 L470.6 469.6 L471.2 469.6 L471.8 469.7 L472.4 469.7 L473.0 469.7 L473.6 469.7 L474.2 469.7 L474.8 469.7 L475.4 469.8 L476.0 469.8 L476.6 469.8 L477.2 469.8 L477.8 469.8 L478.4 469.8 L479.0 469.8 L479.6 469.8 L480.2 469.8 L480.8 469.8 L481.4 469.8 L482.0 469.8 L482.6 469.8 L483.2 469.8 L483.8 469.8 L484.4 469.8 L485.0 469.8 L485.6 469.8 L486.2 469.8 L486.8 469.8 L487.4 469.8 L488.0 469.8 L488.6 469.8 L489.2 469.8 L489.8 469.8 L490.4 469.8 L491.0 469.8 L491.6 469.8 L492.2 469.8 L492.8 469.8 L493.4 469.8 L494.0 469.8 L494.6 469.8 L495.2 469.8 L495.8 469.8 L496.4 469.8 L497.0 469.8 L497.6 469.8 L498.2 469.8 L498.8 469.8 L499.4 469.8 L500.0 469.8" fill="none" stroke="#111" stroke-width="0.6" />
<line x1="407.8" y1="469.8" x2="409" y2="469.8" stroke="#555" stroke-width="0.5" />
<text x="407.4" y="470.83" font-size="3" text-anchor="end" fill="#444" stroke="#444"  stroke-width="0">0</text>
<line x1="407.8" y1="442" x2="409" y2="442" stroke="#555" stroke-width="0.5" />
<text x="407.4" y="443.03" font-size="3" text-anchor="end" fill="#444" stroke="#444"  stroke-width="0">100</text>
<line x1="407.8" y1="413.1" x2="409" y2="413.1" stroke="#555" stroke-width="0.5" />
<text x="407.4" y="414.13" font-size="3" text-anchor="end" fill="#444" stroke="#444"  stroke-width="0">200</text>
<line x1="407.8" y1="383.7" x2="409" y2="383.7" stroke="#555" stroke-width="0.5" />
<text x="407.4" y="384.73" font-size="3" text-anchor="end" fill="#444" stroke="#444"  stroke-width="0">300</text>
<line x1="409.5" y1="470.5" x2="409.5" y2="471.7" stroke="#555" stroke-width="0.5" />
<text x="409.5" y="476.53" font-size="3" text-anchor="middle" fill="#444" stroke="#444"  stroke-width="0">0</text>
<line x1="437.4" y1="470.5" x2="437.4" y2="471.7" stroke="#555" stroke-width="0.5" />
<text x="437.4" y="476.53" font-size="3" text-anchor="middle" fill="#444" stroke="#444"  stroke-width="0">2.0M</text>
<line x1="466.5" y1="470.5" x2="466.5" y2="471.7" stroke="#555" stroke-width="0.5" />
<text x="466.5" y="476.53" font-size="3" text-anchor="middle" fill="#444" stroke="#444"  stroke-width="0">4.0M</text>
<line x1="492.5" y1="470.5" x2="492.5" y2="471.7" stroke="#555" stroke-width="0.5" />
<text x="492.5" y="476.53" font-size="3" text-anchor="middle" fill="#444" stroke="#444"  stroke-width="0">6.0M</text>
<line x1="408.3" y1="470.5" x2="409" y2="470.5" stroke="#777" stroke-width="0.35" />
<line x1="408.3" y1="466.5" x2="409" y2="466.5" stroke="#777" stroke-width="0.35" />
<line x1="408.3" y1="462.5" x2="409" y2="462.5" stroke="#777" stroke-width="0.35" />
<line x1="408.3" y1="458.5" x2="409" y2="458.5" stroke="#777" stroke-width="0.35" />
<line x1="408.3" y1="454.5" x2="409" y2="454.5" stroke="#777" stroke-width="0.35" />
<line x1="408.3" y1="450.5" x2="409" y2="450.5" stroke="#777" stroke-width="0.35" />
<line x1="408.3" y1="446.5" x2="409" y2="446.5" stroke="#777" stroke-width="0.35" />
<line x1="408.3" y1="442.5" x2="409" y2="442.5" stroke="#777" stroke-width="0.35" />
<line x1="408.3" y1="438.5" x2="409" y2="438.5" stroke="#777" stroke-width="0.35" />
<line x1="408.3" y1="434.5" x2="409" y2="434.5" stroke="#777" stroke-width="0.35" />
<line x1="408.3" y1="430.5" x2="409" y2="430.5" stroke="#777" stroke-width="0.35" />
<line x1="408.3" y1="426.5" x2="409" y2="426.5" stroke="#777" stroke-width="0.35" />
<line x1="408.3" y1="422.5" x2="409" y2="422.5" stroke="#777" stroke-width="0.35" />
<line x1="408.3" y1="418.5" x2="409" y2="418.5" stroke="#777" stroke-width="0.35" />
<line x1="408.3" y1="414.5" x2="409" y2="414.5" stroke="#777" stroke-width="0.35" />
<line x1="408.3" y1="410.5" x2="409" y2="410.5" stroke="#777" stroke-width="0.35" />
<line x1="408.3" y1="406.5" x2="409" y2="406.5" stroke="#777" stroke-width="0.35" />
<line x1="408.3" y1="402.5" x2="409" y2="402.5" stroke="#777" stroke-width="0.35" />
<line x1="408.3" y1="398.5" x2="409" y2="398.5" stroke="#777" stroke-width="0.35" />
<line x1="408.3" y1="394.5" x2="409" y2="394.5" stroke="#777" stroke-width="0.35" />
<line x1="408.3" y1="390.5" x2="409" y2="390.5" stroke="#777" stroke-width="0.35" />
<line x1="408.3" y1="386.5" x2="409" y2="386.5" stroke="#777" stroke-width="0.35" />
<line x1="408.3" y1="382.5" x2="409" y2="382.5" stroke="#777" stroke-width="0.35" />
<line x1="409" y1="470.5" x2="409" y2="471.2" stroke="#777" stroke-width="0.35" />
<line x1="413" y1="470.5" x2="413" y2="471.2" stroke="#777" stroke-width="0.35" />
<line x1="417" y1="470.5" x2="417" y2="471.2" stroke="#777" stroke-width="0.35" />
<line x1="421" y1="470.5" x2="421" y2="471.2" stroke="#777" stroke-width="0.35" />
<line x1="425" y1="470.5" x2="425" y2="471.2" stroke="#777" stroke-width="0.35" />
<line x1="429" y1="470.5" x2="429" y2="471.2" stroke="#777" stroke-width="0.35" />
<line x1="433" y1="470.5" x2="433" y2="471.2" stroke="#777" stroke-width="0.35" />
<line x1="437" y1="470.5" x2="437" y2="471.2" stroke="#777" stroke-width="0.35" />
<line x1="441" y1="470.5" x2="441" y2="471.2" stroke="#777" stroke-width="0.35" />
<line x1="445" y1="470.5" x2="445" y2="471.2" stroke="#777" stroke-width="0.35" />
<line x1="449" y1="470.5" x2="449" y2="471.2" stroke="#777" stroke-width="0.35" />
<line x1="453" y1="470.5" x2="453" y2="471.2" stroke="#777" stroke-width="0.35" />
<line x1="457" y1="470.5" x2="457" y2="471.2" stroke="#777" stroke-width="0.35" />
<line x1="461" y1="470.5" x2="461" y2="471.2" stroke="#777" stroke-width="0.35" />
<line x1="465" y1="470.5" x2="465" y2="471.2" stroke="#777" stroke-width="0.35" />
<line x1="469" y1="470.5" x2="469" y2="471.2" stroke="#777" stroke-width="0.35" />
<line x1="473" y1="470.5" x2="473" y2="471.2" stroke="#777" stroke-width="0.35" />
<line x1="477" y1="470.5" x2="477" y2="471.2" stroke="#777" stroke-width="0.35" />
<line x1="481" y1="470.5" x2="481" y2="471.2" stroke="#777" stroke-width="0.35" />
<line x1="485" y1="470.5" x2="485" y2="471.2" stroke="#777" stroke-width="0.35" />
<line x1="489" y1="470.5" x2="489" y2="471.2" stroke="#777" stroke-width="0.35" />
<line x1="493" y1="470.5" x2="493" y2="471.2" stroke="#777" stroke-width="0.35" />
<line x1="497" y1="470.5" x2="497" y2="471.2" stroke="#777" stroke-width="0.35" />
<text x="455" y="373.61" font-size="7" text-anchor="middle" fill="#1a1a1a" stroke="#1a1a1a" >OE-tRF-Ser+oe-HSPA8</text>
<text x="469.4" y="385.81" font-size="7" text-anchor="start" fill="#1a1a1a" stroke="#1a1a1a" >%G1:65.9</text>
<text x="469.4" y="394.11" font-size="7" text-anchor="start" fill="#1a1a1a" stroke="#1a1a1a" >%S:22.0</text>
<text x="469.4" y="402.41" font-size="7" text-anchor="start" fill="#1a1a1a" stroke="#1a1a1a" >%G2:12.2</text>
<text transform="translate(389,426) rotate(-90)" x="0" y="1.31" font-size="3.8" text-anchor="middle" fill="#333" stroke="#333"  stroke-width="0">Count</text>
<text x="455" y="490.31" font-size="3.8" text-anchor="middle" fill="#333" stroke="#333"  stroke-width="0">FL10-A :: PE-A</text>
<rect x="532.9" y="385.65" width="10.2" height="81.95" fill="#b58d52" />
<line x1="538" y1="385.65" x2="538" y2="385.02" stroke="#b58d52" stroke-width="0.9" />
<line x1="536" y1="385.02" x2="540" y2="385.02" stroke="#b58d52" stroke-width="0.9" />
<rect x="546.9" y="376.61" width="10.2" height="90.99" fill="#b58d52" />
<line x1="552" y1="376.61" x2="552" y2="375.99" stroke="#b58d52" stroke-width="0.9" />
<line x1="550" y1="375.99" x2="554" y2="375.99" stroke="#b58d52" stroke-width="0.9" />
<rect x="561.1" y="384.9" width="10.2" height="82.7" fill="#b58d52" />
<line x1="566.2" y1="384.9" x2="566.2" y2="384.27" stroke="#b58d52" stroke-width="0.9" />
<line x1="564.2" y1="384.27" x2="568.2" y2="384.27" stroke="#b58d52" stroke-width="0.9" />
<rect x="584.9" y="438.86" width="10.2" height="28.74" fill="#e19394" />
<line x1="590" y1="438.86" x2="590" y2="438.23" stroke="#e19394" stroke-width="0.9" />
<line x1="588" y1="438.23" x2="592" y2="438.23" stroke="#e19394" stroke-width="0.9" />
<rect x="598.9" y="446.89" width="10.2" height="20.71" fill="#e19394" />
<line x1="604" y1="446.89" x2="604" y2="446.27" stroke="#e19394" stroke-width="0.9" />
<line x1="602" y1="446.27" x2="606" y2="446.27" stroke="#e19394" stroke-width="0.9" />
<rect x="612.9" y="439.99" width="10.2" height="27.61" fill="#e19394" />
<line x1="618" y1="439.99" x2="618" y2="439.36" stroke="#e19394" stroke-width="0.9" />
<line x1="616" y1="439.36" x2="620" y2="439.36" stroke="#e19394" stroke-width="0.9" />
<rect x="636.5" y="452.29" width="10.2" height="15.31" fill="#429b65" />
<line x1="641.6" y1="452.29" x2="641.6" y2="451.66" stroke="#429b65" stroke-width="0.9" />
<line x1="639.6" y1="451.66" x2="643.6" y2="451.66" stroke="#429b65" stroke-width="0.9" />
<rect x="650.4" y="451.79" width="10.2" height="15.81" fill="#429b65" />
<line x1="655.5" y1="451.79" x2="655.5" y2="451.16" stroke="#429b65" stroke-width="0.9" />
<line x1="653.5" y1="451.16" x2="657.5" y2="451.16" stroke="#429b65" stroke-width="0.9" />
<rect x="664.7" y="452.29" width="10.2" height="15.31" fill="#429b65" />
<line x1="669.8" y1="452.29" x2="669.8" y2="451.66" stroke="#429b65" stroke-width="0.9" />
<line x1="667.8" y1="451.66" x2="671.8" y2="451.66" stroke="#429b65" stroke-width="0.9" />
<line x1="528.8" y1="367.2" x2="528.8" y2="467.6" stroke="#111" stroke-width="1.25" />
<line x1="524.8" y1="467.6" x2="528.8" y2="467.6" stroke="#111" stroke-width="1.12" />
<text x="523.4" y="470.01" font-size="7" text-anchor="end" fill="#222" stroke="#222" >0</text>
<line x1="524.8" y1="442.5" x2="528.8" y2="442.5" stroke="#111" stroke-width="1.12" />
<text x="523.4" y="444.91" font-size="7" text-anchor="end" fill="#222" stroke="#222" >20</text>
<line x1="524.8" y1="417.4" x2="528.8" y2="417.4" stroke="#111" stroke-width="1.12" />
<text x="523.4" y="419.81" font-size="7" text-anchor="end" fill="#222" stroke="#222" >40</text>
<line x1="524.8" y1="392.3" x2="528.8" y2="392.3" stroke="#111" stroke-width="1.12" />
<text x="523.4" y="394.71" font-size="7" text-anchor="end" fill="#222" stroke="#222" >60</text>
<line x1="524.8" y1="367.2" x2="528.8" y2="367.2" stroke="#111" stroke-width="1.12" />
<text x="523.4" y="369.61" font-size="7" text-anchor="end" fill="#222" stroke="#222" >80</text>
<line x1="528.8" y1="467.6" x2="679.5" y2="467.6" stroke="#111" stroke-width="1.25" />
<line x1="538" y1="467.6" x2="538" y2="471.6" stroke="#111" stroke-width="1.12" />
<line x1="552" y1="467.6" x2="552" y2="471.6" stroke="#111" stroke-width="1.12" />
<line x1="566.2" y1="467.6" x2="566.2" y2="471.6" stroke="#111" stroke-width="1.12" />
<line x1="590" y1="467.6" x2="590" y2="471.6" stroke="#111" stroke-width="1.12" />
<line x1="604" y1="467.6" x2="604" y2="471.6" stroke="#111" stroke-width="1.12" />
<line x1="618" y1="467.6" x2="618" y2="471.6" stroke="#111" stroke-width="1.12" />
<line x1="641.6" y1="467.6" x2="641.6" y2="471.6" stroke="#111" stroke-width="1.12" />
<line x1="655.5" y1="467.6" x2="655.5" y2="471.6" stroke="#111" stroke-width="1.12" />
<line x1="669.8" y1="467.6" x2="669.8" y2="471.6" stroke="#111" stroke-width="1.12" />
<text x="603.7" y="355.71" font-size="7" text-anchor="middle" fill="#1a1a1a" stroke="#1a1a1a" >MKN-45</text>
<text transform="translate(509.2,416.5) rotate(-90)" x="0" y="2.41" font-size="7" text-anchor="middle" fill="#1a1a1a" stroke="#1a1a1a" >Cell cycle phase distribution (%)</text>
<line x1="538" y1="363.2" x2="552.4" y2="363.2" stroke="#111" stroke-width="1.2" />
<path d="M538.9 356.5L538.9 361.5M536.73 357.75L541.07 360.25M541.07 357.75L536.73 360.25" fill="none" stroke="#111" stroke-width="1.25" />
<path d="M545.2 356.5L545.2 361.5M543.03 357.75L547.37 360.25M547.37 357.75L543.03 360.25" fill="none" stroke="#111" stroke-width="1.25" />
<path d="M551.5 356.5L551.5 361.5M549.33 357.75L553.67 360.25M553.67 357.75L549.33 360.25" fill="none" stroke="#111" stroke-width="1.25" />
<line x1="551.9" y1="372.9" x2="566.6" y2="372.9" stroke="#111" stroke-width="1.2" />
<path d="M552.95 366.1L552.95 371.1M550.78 367.35L555.12 369.85M555.12 367.35L550.78 369.85" fill="none" stroke="#111" stroke-width="1.25" />
<path d="M559.25 366.1L559.25 371.1M557.08 367.35L561.42 369.85M561.42 367.35L557.08 369.85" fill="none" stroke="#111" stroke-width="1.25" />
<path d="M565.55 366.1L565.55 371.1M563.38 367.35L567.72 369.85M567.72 367.35L563.38 369.85" fill="none" stroke="#111" stroke-width="1.25" />
<rect x="649" y="371.4" width="11.6" height="4.8" fill="#b58d52" rx="1.6"/>
<text x="665.6" y="376.21" font-size="7" text-anchor="start" fill="#1a1a1a" stroke="#1a1a1a" >G1</text>
<rect x="649" y="384.8" width="11.6" height="4.8" fill="#e19394" rx="1.6"/>
<text x="665.6" y="389.61" font-size="7" text-anchor="start" fill="#1a1a1a" stroke="#1a1a1a" >S</text>
<rect x="649" y="398.1" width="11.6" height="4.8" fill="#429b65" rx="1.6"/>
<text x="665.6" y="402.91" font-size="7" text-anchor="start" fill="#1a1a1a" stroke="#1a1a1a" >G2</text>
<text transform="translate(538.6,476.3) rotate(-45)" x="0" y="2.41" font-size="7" text-anchor="end" fill="#1a1a1a" stroke="#1a1a1a" >OE-Ctrl</text>
<text transform="translate(552.6,476.3) rotate(-45)" x="0" y="2.41" font-size="7" text-anchor="end" fill="#1a1a1a" stroke="#1a1a1a" >OE-tRF-Ser</text>
<text transform="translate(566.8,476.3) rotate(-45)" x="0" y="2.41" font-size="7" text-anchor="end" fill="#1a1a1a" stroke="#1a1a1a" >OE-tRF-Ser+</text>
<text transform="translate(577.2,480.7) rotate(-45)" x="0" y="2.41" font-size="7" text-anchor="end" fill="#1a1a1a" stroke="#1a1a1a" >oe-HSPA8</text>
<text transform="translate(590.6,476.3) rotate(-45)" x="0" y="2.41" font-size="7" text-anchor="end" fill="#1a1a1a" stroke="#1a1a1a" >OE-Ctrl</text>
<text transform="translate(604.6,476.3) rotate(-45)" x="0" y="2.41" font-size="7" text-anchor="end" fill="#1a1a1a" stroke="#1a1a1a" >OE-tRF-Ser</text>
<text transform="translate(618.6,476.3) rotate(-45)" x="0" y="2.41" font-size="7" text-anchor="end" fill="#1a1a1a" stroke="#1a1a1a" >OE-tRF-Ser+</text>
<text transform="translate(629,480.7) rotate(-45)" x="0" y="2.41" font-size="7" text-anchor="end" fill="#1a1a1a" stroke="#1a1a1a" >oe-HSPA8</text>
<text transform="translate(642.2,476.3) rotate(-45)" x="0" y="2.41" font-size="7" text-anchor="end" fill="#1a1a1a" stroke="#1a1a1a" >OE-Ctrl</text>
<text transform="translate(656.1,476.3) rotate(-45)" x="0" y="2.41" font-size="7" text-anchor="end" fill="#1a1a1a" stroke="#1a1a1a" >OE- RF-Ser</text>
<text transform="translate(670.4,476.3) rotate(-45)" x="0" y="2.41" font-size="7" text-anchor="end" fill="#1a1a1a" stroke="#1a1a1a" >OE-tRF-Ser+</text>
<text transform="translate(680.8,480.7) rotate(-45)" x="0" y="2.41" font-size="7" text-anchor="end" fill="#1a1a1a" stroke="#1a1a1a" >oe-HSPA8</text>
<text x="5.15" y="527.9" font-size="12.5" text-anchor="start" fill="#111" stroke="#111" stroke-width="0">I</text>
<rect x="29.6" y="539.9" width="105.1" height="102.2" fill="#fff" stroke="#8a8a8a" stroke-width="0.8" />
<g fill="#222"><rect x="67.81" y="588.36" width="1.1" height="1.1"/><rect x="100.73" y="585.32" width="1.1" height="1.1"/><rect x="66.26" y="594.62" width="1.1" height="1.1"/><rect x="93.06" y="568.34" width="1.1" height="1.1"/><rect x="67.94" y="609.35" width="1.1" height="1.1"/><rect x="96.44" y="574.74" width="1.1" height="1.1"/><rect x="108.72" y="563.01" width="1.1" height="1.1"/><rect x="84.46" y="589.36" width="1.1" height="1.1"/><rect x="124.1" y="572.37" width="1.1" height="1.1"/><rect x="74.33" y="604.64" width="1.1" height="1.1"/><rect x="87.39" y="582.81" width="1.1" height="1.1"/><rect x="80.85" y="588.25" width="1.1" height="1.1"/><rect x="90.02" y="574.77" width="1.1" height="1.1"/><rect x="102.24" y="575.56" width="1.1" height="1.1"/><rect x="59.42" y="587.91" width="1.1" height="1.1"/><rect x="64.91" y="596.53" width="1.1" height="1.1"/><rect x="64.11" y="594.69" width="1.1" height="1.1"/><rect x="74.42" y="587.56" width="1.1" height="1.1"/><rect x="98.46" y="596.51" width="1.1" height="1.1"/><rect x="81.7" y="578.75" width="1.1" height="1.1"/><rect x="84.6" y="581.18" width="1.1" height="1.1"/><rect x="87.5" y="597.26" width="1.1" height="1.1"/><rect x="94.33" y="591.86" width="1.1" height="1.1"/><rect x="113.73" y="579.59" width="1.1" height="1.1"/><rect x="96.15" y="580.81" width="1.1" height="1.1"/><rect x="100.1" y="586.72" width="1.1" height="1.1"/><rect x="100.79" y="580.39" width="1.1" height="1.1"/><rect x="104.71" y="569.27" width="1.1" height="1.1"/><rect x="88.07" y="594.17" width="1.1" height="1.1"/><rect x="97.36" y="574.42" width="1.1" height="1.1"/><rect x="110.32" y="579.45" width="1.1" height="1.1"/><rect x="94.2" y="575.29" width="1.1" height="1.1"/><rect x="90.17" y="580.81" width="1.1" height="1.1"/><rect x="88.67" y="591.62" width="1.1" height="1.1"/><rect x="70.92" y="596.76" width="1.1" height="1.1"/><rect x="94.73" y="562.41" width="1.1" height="1.1"/><rect x="100.46" y="565.7" width="1.1" height="1.1"/><rect x="97.5" y="571.45" width="1.1" height="1.1"/><rect x="88.69" y="574.35" width="1.1" height="1.1"/><rect x="112.28" y="577.98" width="1.1" height="1.1"/><rect x="75.68" y="565.01" width="1.1" height="1.1"/><rect x="89.6" y="571.44" width="1.1" height="1.1"/><rect x="98.93" y="593.94" width="1.1" height="1.1"/><rect x="122.06" y="547.24" width="1.1" height="1.1"/><rect x="88.59" y="574.63" width="1.1" height="1.1"/><rect x="87.85" y="595.57" width="1.1" height="1.1"/><rect x="84.31" y="581.26" width="1.1" height="1.1"/><rect x="102.52" y="569.14" width="1.1" height="1.1"/><rect x="86.85" y="567.8" width="1.1" height="1.1"/><rect x="74.69" y="580.15" width="1.1" height="1.1"/><rect x="102.47" y="581.78" width="1.1" height="1.1"/><rect x="59.41" y="608.18" width="1.1" height="1.1"/><rect x="89.49" y="577.08" width="1.1" height="1.1"/><rect x="108.93" y="587.95" width="1.1" height="1.1"/><rect x="86" y="577.06" width="1.1" height="1.1"/><rect x="83.63" y="616.12" width="1.1" height="1.1"/><rect x="97.93" y="550.93" width="1.1" height="1.1"/><rect x="100.87" y="590.36" width="1.1" height="1.1"/><rect x="79.85" y="585.11" width="1.1" height="1.1"/><rect x="122.89" y="561.48" width="1.1" height="1.1"/><rect x="87.66" y="564.9" width="1.1" height="1.1"/><rect x="84.76" y="562.32" width="1.1" height="1.1"/><rect x="75.81" y="595.63" width="1.1" height="1.1"/><rect x="96.66" y="562.67" width="1.1" height="1.1"/><rect x="95.67" y="577.25" width="1.1" height="1.1"/><rect x="58.95" y="605.94" width="1.1" height="1.1"/><rect x="76.91" y="595.9" width="1.1" height="1.1"/><rect x="94.67" y="585.7" width="1.1" height="1.1"/><rect x="97.65" y="579.15" width="1.1" height="1.1"/><rect x="81.03" y="585.9" width="1.1" height="1.1"/><rect x="92.33" y="571.68" width="1.1" height="1.1"/><rect x="78.89" y="591.25" width="1.1" height="1.1"/><rect x="65.74" y="573.8" width="1.1" height="1.1"/><rect x="107.5" y="578.17" width="1.1" height="1.1"/><rect x="78.87" y="603.9" width="1.1" height="1.1"/><rect x="88.49" y="581.56" width="1.1" height="1.1"/><rect x="118.33" y="568.13" width="1.1" height="1.1"/><rect x="74.43" y="621.05" width="1.1" height="1.1"/><rect x="106.87" y="573.81" width="1.1" height="1.1"/><rect x="62.1" y="593.32" width="1.1" height="1.1"/><rect x="62.11" y="551.73" width="1.1" height="1.1"/><rect x="102.57" y="570.85" width="1.1" height="1.1"/><rect x="83.37" y="613.34" width="1.1" height="1.1"/><rect x="84.1" y="605.65" width="1.1" height="1.1"/><rect x="94.81" y="608.37" width="1.1" height="1.1"/><rect x="72.51" y="575.72" width="1.1" height="1.1"/><rect x="110.35" y="589.57" width="1.1" height="1.1"/><rect x="63.22" y="584.03" width="1.1" height="1.1"/><rect x="98.62" y="592.2" width="1.1" height="1.1"/><rect x="75.67" y="598.46" width="1.1" height="1.1"/><rect x="68.33" y="601.46" width="1.1" height="1.1"/><rect x="104.52" y="568.52" width="1.1" height="1.1"/><rect x="116.47" y="573.12" width="1.1" height="1.1"/><rect x="83.96" y="598.5" width="1.1" height="1.1"/><rect x="84.13" y="602.59" width="1.1" height="1.1"/><rect x="59.61" y="587.89" width="1.1" height="1.1"/><rect x="107.33" y="565.45" width="1.1" height="1.1"/><rect x="105.73" y="573.51" width="1.1" height="1.1"/><rect x="75.32" y="588.78" width="1.1" height="1.1"/><rect x="80.42" y="601.66" width="1.1" height="1.1"/><rect x="60.87" y="614.81" width="1.1" height="1.1"/><rect x="85.89" y="583.39" width="1.1" height="1.1"/><rect x="78.93" y="570.29" width="1.1" height="1.1"/><rect x="88.62" y="576.76" width="1.1" height="1.1"/><rect x="104.04" y="587.75" width="1.1" height="1.1"/><rect x="56.75" y="588.43" width="1.1" height="1.1"/><rect x="75.76" y="573.16" width="1.1" height="1.1"/><rect x="90.98" y="570.4" width="1.1" height="1.1"/><rect x="97.3" y="606.56" width="1.1" height="1.1"/><rect x="96.64" y="589.11" width="1.1" height="1.1"/><rect x="74.76" y="595.59" width="1.1" height="1.1"/><rect x="97.36" y="569.17" width="1.1" height="1.1"/><rect x="100.97" y="599.66" width="1.1" height="1.1"/><rect x="77.21" y="618.98" width="1.1" height="1.1"/><rect x="84.46" y="578.34" width="1.1" height="1.1"/><rect x="74.64" y="587.08" width="1.1" height="1.1"/><rect x="89.4" y="571.07" width="1.1" height="1.1"/><rect x="73.79" y="600.97" width="1.1" height="1.1"/><rect x="74.65" y="568.07" width="1.1" height="1.1"/><rect x="102.15" y="579.8" width="1.1" height="1.1"/><rect x="89.32" y="582.36" width="1.1" height="1.1"/><rect x="88.98" y="586.57" width="1.1" height="1.1"/><rect x="81.01" y="603.23" width="1.1" height="1.1"/><rect x="76.45" y="568.58" width="1.1" height="1.1"/><rect x="93.93" y="580.99" width="1.1" height="1.1"/><rect x="82.78" y="585.84" width="1.1" height="1.1"/><rect x="91.21" y="591.12" width="1.1" height="1.1"/><rect x="88.88" y="580.96" width="1.1" height="1.1"/><rect x="74.87" y="600" width="1.1" height="1.1"/><rect x="71.15" y="605.07" width="1.1" height="1.1"/><rect x="99.17" y="609.27" width="1.1" height="1.1"/><rect x="82.01" y="594.66" width="1.1" height="1.1"/><rect x="76.78" y="588" width="1.1" height="1.1"/><rect x="102.7" y="577.04" width="1.1" height="1.1"/><rect x="83.89" y="593.87" width="1.1" height="1.1"/><rect x="84.06" y="574.59" width="1.1" height="1.1"/><rect x="80.13" y="602.23" width="1.1" height="1.1"/><rect x="67.22" y="607.32" width="1.1" height="1.1"/><rect x="65.35" y="580.33" width="1.1" height="1.1"/><rect x="91.24" y="585.96" width="1.1" height="1.1"/><rect x="107.62" y="584.16" width="1.1" height="1.1"/><rect x="97.14" y="570.32" width="1.1" height="1.1"/><rect x="63.04" y="614.8" width="1.1" height="1.1"/><rect x="72.21" y="579.79" width="1.1" height="1.1"/><rect x="105.19" y="592.39" width="1.1" height="1.1"/><rect x="101.52" y="583.34" width="1.1" height="1.1"/><rect x="80.13" y="594.72" width="1.1" height="1.1"/><rect x="81.16" y="610.24" width="1.1" height="1.1"/><rect x="71.12" y="607.25" width="1.1" height="1.1"/><rect x="93.25" y="555.78" width="1.1" height="1.1"/><rect x="126.49" y="571.94" width="1.1" height="1.1"/><rect x="60.44" y="601.44" width="1.1" height="1.1"/><rect x="72.04" y="566.3" width="1.1" height="1.1"/><rect x="94.44" y="590.76" width="1.1" height="1.1"/><rect x="99.85" y="572.48" width="1.1" height="1.1"/><rect x="61.86" y="602.39" width="1.1" height="1.1"/><rect x="82.42" y="586.55" width="1.1" height="1.1"/><rect x="87.93" y="588.67" width="1.1" height="1.1"/><rect x="88.79" y="591.42" width="1.1" height="1.1"/><rect x="72.67" y="571.91" width="1.1" height="1.1"/><rect x="91.31" y="577.41" width="1.1" height="1.1"/><rect x="62.31" y="597.59" width="1.1" height="1.1"/><rect x="98.12" y="596.26" width="1.1" height="1.1"/><rect x="102.25" y="583.1" width="1.1" height="1.1"/><rect x="91.94" y="584.34" width="1.1" height="1.1"/><rect x="89.21" y="568.68" width="1.1" height="1.1"/><rect x="79.99" y="568.13" width="1.1" height="1.1"/><rect x="74.37" y="602.01" width="1.1" height="1.1"/><rect x="96.52" y="594.11" width="1.1" height="1.1"/><rect x="80.48" y="576.2" width="1.1" height="1.1"/><rect x="103.92" y="599.84" width="1.1" height="1.1"/><rect x="93.47" y="558.26" width="1.1" height="1.1"/><rect x="103.69" y="580.6" width="1.1" height="1.1"/><rect x="77.06" y="592.85" width="1.1" height="1.1"/><rect x="68.87" y="595.99" width="1.1" height="1.1"/><rect x="83.19" y="588.29" width="1.1" height="1.1"/><rect x="103.51" y="580.55" width="1.1" height="1.1"/><rect x="64.35" y="581.38" width="1.1" height="1.1"/><rect x="70.06" y="597.78" width="1.1" height="1.1"/><rect x="83.99" y="590.45" width="1.1" height="1.1"/><rect x="71.09" y="594.83" width="1.1" height="1.1"/><rect x="118.37" y="578.86" width="1.1" height="1.1"/><rect x="83.95" y="571.97" width="1.1" height="1.1"/><rect x="97.01" y="570.85" width="1.1" height="1.1"/><rect x="98.76" y="604.51" width="1.1" height="1.1"/><rect x="73.15" y="589.19" width="1.1" height="1.1"/><rect x="93.37" y="565.74" width="1.1" height="1.1"/><rect x="92.93" y="585.23" width="1.1" height="1.1"/><rect x="86.55" y="587.66" width="1.1" height="1.1"/><rect x="89.63" y="575.17" width="1.1" height="1.1"/><rect x="80.93" y="597.69" width="1.1" height="1.1"/><rect x="73.29" y="576.92" width="1.1" height="1.1"/><rect x="104.97" y="564.52" width="1.1" height="1.1"/><rect x="98.68" y="569.24" width="1.1" height="1.1"/><rect x="85.94" y="576.9" width="1.1" height="1.1"/><rect x="70.37" y="594.57" width="1.1" height="1.1"/><rect x="75.09" y="580.81" width="1.1" height="1.1"/><rect x="77.37" y="590.34" width="1.1" height="1.1"/><rect x="91.91" y="565.61" width="1.1" height="1.1"/><rect x="74.22" y="602.17" width="1.1" height="1.1"/><rect x="98.09" y="593.94" width="1.1" height="1.1"/><rect x="92.68" y="589.53" width="1.1" height="1.1"/><rect x="84.4" y="608.87" width="1.1" height="1.1"/><rect x="96.55" y="586.97" width="1.1" height="1.1"/><rect x="72.64" y="564.85" width="1.1" height="1.1"/><rect x="92.02" y="587.02" width="1.1" height="1.1"/><rect x="87.57" y="564.31" width="1.1" height="1.1"/><rect x="85.57" y="579.74" width="1.1" height="1.1"/><rect x="93.63" y="593.4" width="1.1" height="1.1"/><rect x="87.88" y="590.76" width="1.1" height="1.1"/><rect x="67.5" y="582.27" width="1.1" height="1.1"/><rect x="95.84" y="580.03" width="1.1" height="1.1"/><rect x="72.51" y="616.35" width="1.1" height="1.1"/><rect x="93.17" y="583.36" width="1.1" height="1.1"/><rect x="61" y="596.83" width="1.1" height="1.1"/><rect x="63.41" y="595.36" width="1.1" height="1.1"/><rect x="88.09" y="579.86" width="1.1" height="1.1"/><rect x="89.19" y="581.7" width="1.1" height="1.1"/><rect x="69.06" y="597.41" width="1.1" height="1.1"/><rect x="78.39" y="591.5" width="1.1" height="1.1"/><rect x="89.97" y="575.72" width="1.1" height="1.1"/><rect x="110.22" y="607.11" width="1.1" height="1.1"/><rect x="91.92" y="585.17" width="1.1" height="1.1"/><rect x="119.73" y="558.86" width="1.1" height="1.1"/><rect x="61.45" y="590.81" width="1.1" height="1.1"/><rect x="78.25" y="576.08" width="1.1" height="1.1"/><rect x="70.31" y="593.31" width="1.1" height="1.1"/><rect x="84.02" y="587.31" width="1.1" height="1.1"/><rect x="77.31" y="612.16" width="1.1" height="1.1"/><rect x="92.8" y="569.7" width="1.1" height="1.1"/><rect x="84.96" y="598.51" width="1.1" height="1.1"/><rect x="88.98" y="576.82" width="1.1" height="1.1"/><rect x="83.36" y="586.55" width="1.1" height="1.1"/><rect x="106.86" y="590.29" width="1.1" height="1.1"/><rect x="77.7" y="612.85" width="1.1" height="1.1"/><rect x="75.59" y="599.07" width="1.1" height="1.1"/><rect x="71.73" y="600.16" width="1.1" height="1.1"/><rect x="112.62" y="576.18" width="1.1" height="1.1"/><rect x="84.28" y="558.29" width="1.1" height="1.1"/><rect x="85.07" y="607.49" width="1.1" height="1.1"/><rect x="91.95" y="594.47" width="1.1" height="1.1"/><rect x="110.28" y="590.42" width="1.1" height="1.1"/><rect x="77.36" y="609.21" width="1.1" height="1.1"/><rect x="87.42" y="597.42" width="1.1" height="1.1"/><rect x="85" y="590.42" width="1.1" height="1.1"/><rect x="76.88" y="577.3" width="1.1" height="1.1"/><rect x="99.84" y="578.45" width="1.1" height="1.1"/><rect x="72.62" y="604.52" width="1.1" height="1.1"/><rect x="89.97" y="553.39" width="1.1" height="1.1"/><rect x="79.19" y="598.07" width="1.1" height="1.1"/><rect x="75.63" y="603.53" width="1.1" height="1.1"/><rect x="71.55" y="594.08" width="1.1" height="1.1"/><rect x="107.24" y="576.05" width="1.1" height="1.1"/><rect x="78.39" y="608.88" width="1.1" height="1.1"/><rect x="89.13" y="584.22" width="1.1" height="1.1"/><rect x="67.78" y="606.82" width="1.1" height="1.1"/><rect x="85.34" y="572.76" width="1.1" height="1.1"/><rect x="95.26" y="578.63" width="1.1" height="1.1"/><rect x="81.17" y="583.29" width="1.1" height="1.1"/><rect x="85.79" y="557.95" width="1.1" height="1.1"/><rect x="69.18" y="597.17" width="1.1" height="1.1"/><rect x="104.78" y="580.45" width="1.1" height="1.1"/><rect x="107.1" y="576.65" width="1.1" height="1.1"/><rect x="88.13" y="588.98" width="1.1" height="1.1"/><rect x="65.49" y="606.35" width="1.1" height="1.1"/><rect x="118.82" y="562.89" width="1.1" height="1.1"/><rect x="94.95" y="569.34" width="1.1" height="1.1"/><rect x="94.41" y="568.72" width="1.1" height="1.1"/><rect x="82.02" y="589.77" width="1.1" height="1.1"/><rect x="100.56" y="583.37" width="1.1" height="1.1"/><rect x="66.23" y="596.65" width="1.1" height="1.1"/><rect x="77.89" y="581.02" width="1.1" height="1.1"/><rect x="75.29" y="603.25" width="1.1" height="1.1"/><rect x="81.04" y="567.82" width="1.1" height="1.1"/><rect x="85.26" y="583.53" width="1.1" height="1.1"/><rect x="86.11" y="581.47" width="1.1" height="1.1"/><rect x="99.74" y="561.7" width="1.1" height="1.1"/><rect x="61.58" y="578.67" width="1.1" height="1.1"/><rect x="85.92" y="589.31" width="1.1" height="1.1"/><rect x="121.54" y="571.97" width="1.1" height="1.1"/><rect x="114.82" y="560.56" width="1.1" height="1.1"/><rect x="70.7" y="585.71" width="1.1" height="1.1"/><rect x="96.9" y="582.1" width="1.1" height="1.1"/><rect x="51.44" y="604.55" width="1.1" height="1.1"/><rect x="83.13" y="600.44" width="1.1" height="1.1"/><rect x="113.05" y="576.6" width="1.1" height="1.1"/><rect x="80.14" y="591.55" width="1.1" height="1.1"/><rect x="74.35" y="600.07" width="1.1" height="1.1"/><rect x="87.36" y="580.7" width="1.1" height="1.1"/><rect x="78.45" y="589.65" width="1.1" height="1.1"/><rect x="65.35" y="587.61" width="1.1" height="1.1"/><rect x="74.85" y="587.36" width="1.1" height="1.1"/><rect x="72.52" y="597.57" width="1.1" height="1.1"/><rect x="89.16" y="599.13" width="1.1" height="1.1"/><rect x="122.6" y="569.84" width="1.1" height="1.1"/><rect x="84.89" y="594.97" width="1.1" height="1.1"/><rect x="109.62" y="557.54" width="1.1" height="1.1"/><rect x="90.41" y="600.56" width="1.1" height="1.1"/><rect x="78.49" y="580.73" width="1.1" height="1.1"/><rect x="78.38" y="603.46" width="1.1" height="1.1"/><rect x="68.36" y="602.6" width="1.1" height="1.1"/><rect x="86.17" y="593.34" width="1.1" height="1.1"/><rect x="86.24" y="549.95" width="1.1" height="1.1"/><rect x="112.27" y="586.93" width="1.1" height="1.1"/><rect x="91.06" y="581.95" width="1.1" height="1.1"/><rect x="83.92" y="572.99" width="1.1" height="1.1"/><rect x="81.04" y="591.48" width="1.1" height="1.1"/><rect x="80.41" y="588.92" width="1.1" height="1.1"/><rect x="105.04" y="567.21" width="1.1" height="1.1"/><rect x="66.07" y="599.44" width="1.1" height="1.1"/><rect x="74.14" y="580.09" width="1.1" height="1.1"/><rect x="89.3" y="572.59" width="1.1" height="1.1"/><rect x="85.05" y="609.7" width="1.1" height="1.1"/><rect x="92.66" y="579.49" width="1.1" height="1.1"/><rect x="93.51" y="598.4" width="1.1" height="1.1"/><rect x="87.18" y="593.39" width="1.1" height="1.1"/><rect x="75.78" y="585.21" width="1.1" height="1.1"/><rect x="91.2" y="594.23" width="1.1" height="1.1"/><rect x="60.58" y="627.43" width="1.1" height="1.1"/><rect x="77.44" y="574.8" width="1.1" height="1.1"/><rect x="85.15" y="613.97" width="1.1" height="1.1"/><rect x="73.18" y="585.48" width="1.1" height="1.1"/><rect x="110.78" y="559.79" width="1.1" height="1.1"/><rect x="91.41" y="580.41" width="1.1" height="1.1"/><rect x="70.26" y="597.76" width="1.1" height="1.1"/><rect x="81.03" y="597.14" width="1.1" height="1.1"/><rect x="86.91" y="589.79" width="1.1" height="1.1"/><rect x="90.97" y="565.02" width="1.1" height="1.1"/><rect x="96.97" y="575.22" width="1.1" height="1.1"/><rect x="82.4" y="605.95" width="1.1" height="1.1"/><rect x="84.28" y="579.13" width="1.1" height="1.1"/><rect x="71.01" y="575.93" width="1.1" height="1.1"/><rect x="81.02" y="582.71" width="1.1" height="1.1"/><rect x="81.1" y="603.18" width="1.1" height="1.1"/><rect x="116.64" y="586.6" width="1.1" height="1.1"/><rect x="99.59" y="586.35" width="1.1" height="1.1"/><rect x="90.11" y="593.61" width="1.1" height="1.1"/><rect x="79.79" y="576.33" width="1.1" height="1.1"/><rect x="114.83" y="583.42" width="1.1" height="1.1"/><rect x="86.12" y="573.25" width="1.1" height="1.1"/><rect x="76.61" y="580.35" width="1.1" height="1.1"/><rect x="74.33" y="582.68" width="1.1" height="1.1"/><rect x="92.45" y="567.17" width="1.1" height="1.1"/><rect x="91.36" y="597.95" width="1.1" height="1.1"/><rect x="95.82" y="594.86" width="1.1" height="1.1"/><rect x="97.11" y="561.39" width="1.1" height="1.1"/><rect x="94.81" y="588.39" width="1.1" height="1.1"/><rect x="103.66" y="575.48" width="1.1" height="1.1"/><rect x="67.5" y="597.72" width="1.1" height="1.1"/><rect x="107.02" y="579.96" width="1.1" height="1.1"/><rect x="87.78" y="588.79" width="1.1" height="1.1"/><rect x="60.97" y="602.52" width="1.1" height="1.1"/><rect x="91.26" y="580.34" width="1.1" height="1.1"/><rect x="83.39" y="613.26" width="1.1" height="1.1"/><rect x="104.09" y="568.33" width="1.1" height="1.1"/><rect x="101.15" y="562.29" width="1.1" height="1.1"/><rect x="79.37" y="595.72" width="1.1" height="1.1"/><rect x="90.63" y="562.14" width="1.1" height="1.1"/><rect x="60.97" y="598.98" width="1.1" height="1.1"/><rect x="75.36" y="582.8" width="1.1" height="1.1"/><rect x="107.69" y="579.57" width="1.1" height="1.1"/><rect x="67.57" y="592.6" width="1.1" height="1.1"/><rect x="81.74" y="606.53" width="1.1" height="1.1"/><rect x="99.1" y="586.16" width="1.1" height="1.1"/><rect x="96.1" y="597.44" width="1.1" height="1.1"/><rect x="102.23" y="596.36" width="1.1" height="1.1"/><rect x="101.59" y="601.3" width="1.1" height="1.1"/><rect x="106.44" y="581.11" width="1.1" height="1.1"/><rect x="62.89" y="598.21" width="1.1" height="1.1"/><rect x="90.97" y="595.56" width="1.1" height="1.1"/><rect x="78.65" y="585.03" width="1.1" height="1.1"/><rect x="83.46" y="624.96" width="1.1" height="1.1"/><rect x="79.6" y="582.63" width="1.1" height="1.1"/><rect x="90.38" y="570.62" width="1.1" height="1.1"/><rect x="75.73" y="557.51" width="1.1" height="1.1"/><rect x="97.84" y="576.18" width="1.1" height="1.1"/><rect x="102.06" y="566.25" width="1.1" height="1.1"/><rect x="87.48" y="592.41" width="1.1" height="1.1"/><rect x="101.16" y="573.34" width="1.1" height="1.1"/><rect x="57.9" y="611.32" width="1.1" height="1.1"/><rect x="92.9" y="580.88" width="1.1" height="1.1"/><rect x="90.12" y="575.37" width="1.1" height="1.1"/><rect x="88.13" y="564.37" width="1.1" height="1.1"/><rect x="77.23" y="594.07" width="1.1" height="1.1"/><rect x="90.76" y="573.78" width="1.1" height="1.1"/><rect x="97.65" y="561.44" width="1.1" height="1.1"/><rect x="78.9" y="573.61" width="1.1" height="1.1"/><rect x="92.91" y="595.38" width="1.1" height="1.1"/><rect x="83.93" y="559.86" width="1.1" height="1.1"/><rect x="97.62" y="586.12" width="1.1" height="1.1"/><rect x="50.39" y="609.93" width="1.1" height="1.1"/><rect x="75.55" y="588.79" width="1.1" height="1.1"/><rect x="120.24" y="561" width="1.1" height="1.1"/><rect x="90.61" y="595.02" width="1.1" height="1.1"/><rect x="68.37" y="595.49" width="1.1" height="1.1"/><rect x="79.04" y="550.37" width="1.1" height="1.1"/><rect x="79.97" y="595.61" width="1.1" height="1.1"/><rect x="102.71" y="577.02" width="1.1" height="1.1"/><rect x="67.66" y="576.94" width="1.1" height="1.1"/><rect x="81.34" y="604" width="1.1" height="1.1"/><rect x="90.74" y="577.04" width="1.1" height="1.1"/><rect x="80.96" y="578.63" width="1.1" height="1.1"/><rect x="98.14" y="591.09" width="1.1" height="1.1"/><rect x="55.45" y="628.62" width="1.1" height="1.1"/><rect x="84.07" y="570.57" width="1.1" height="1.1"/><rect x="100.84" y="561.27" width="1.1" height="1.1"/><rect x="113.5" y="573.12" width="1.1" height="1.1"/><rect x="101.63" y="597.73" width="1.1" height="1.1"/><rect x="96.19" y="575.87" width="1.1" height="1.1"/><rect x="84.57" y="591.43" width="1.1" height="1.1"/><rect x="69.42" y="590.65" width="1.1" height="1.1"/><rect x="104.92" y="581.66" width="1.1" height="1.1"/><rect x="93.85" y="590.21" width="1.1" height="1.1"/><rect x="89.74" y="596.31" width="1.1" height="1.1"/><rect x="91.58" y="585.57" width="1.1" height="1.1"/><rect x="90.65" y="590.87" width="1.1" height="1.1"/><rect x="68.52" y="596.95" width="1.1" height="1.1"/><rect x="101.34" y="558.69" width="1.1" height="1.1"/><rect x="81.15" y="577.27" width="1.1" height="1.1"/><rect x="97.22" y="575.43" width="1.1" height="1.1"/><rect x="62.96" y="591.14" width="1.1" height="1.1"/><rect x="71.59" y="576.66" width="1.1" height="1.1"/><rect x="97.66" y="572.41" width="1.1" height="1.1"/><rect x="48.36" y="593.72" width="1.1" height="1.1"/><rect x="96.35" y="596.85" width="1.1" height="1.1"/><rect x="100.36" y="578.07" width="1.1" height="1.1"/><rect x="83.25" y="595.41" width="1.1" height="1.1"/><rect x="70.87" y="597.26" width="1.1" height="1.1"/><rect x="131.74" y="562.86" width="1.1" height="1.1"/><rect x="89.06" y="592.08" width="1.1" height="1.1"/><rect x="76.81" y="596.17" width="1.1" height="1.1"/><rect x="72.82" y="579.92" width="1.1" height="1.1"/><rect x="81.96" y="576.08" width="1.1" height="1.1"/><rect x="68.84" y="580.97" width="1.1" height="1.1"/><rect x="85.57" y="577.01" width="1.1" height="1.1"/><rect x="84.43" y="597.11" width="1.1" height="1.1"/><rect x="103.92" y="582.96" width="1.1" height="1.1"/><rect x="83.79" y="597.35" width="1.1" height="1.1"/><rect x="89" y="588.85" width="1.1" height="1.1"/><rect x="90.15" y="579.1" width="1.1" height="1.1"/><rect x="75.75" y="607.45" width="1.1" height="1.1"/><rect x="92.39" y="570.91" width="1.1" height="1.1"/><rect x="96.3" y="595.21" width="1.1" height="1.1"/><rect x="94.94" y="576.52" width="1.1" height="1.1"/><rect x="90.18" y="578.01" width="1.1" height="1.1"/><rect x="81.17" y="584.63" width="1.1" height="1.1"/><rect x="99.72" y="585.66" width="1.1" height="1.1"/><rect x="64.62" y="595.82" width="1.1" height="1.1"/><rect x="88.88" y="607.23" width="1.1" height="1.1"/><rect x="75.93" y="582.17" width="1.1" height="1.1"/><rect x="83.74" y="585.05" width="1.1" height="1.1"/><rect x="67.29" y="581.92" width="1.1" height="1.1"/><rect x="111.99" y="576.49" width="1.1" height="1.1"/><rect x="75.11" y="604.54" width="1.1" height="1.1"/><rect x="99.18" y="578.21" width="1.1" height="1.1"/><rect x="74.19" y="575.06" width="1.1" height="1.1"/><rect x="97.31" y="572.74" width="1.1" height="1.1"/><rect x="59.87" y="597.86" width="1.1" height="1.1"/><rect x="95.25" y="596.66" width="1.1" height="1.1"/><rect x="99.75" y="561.26" width="1.1" height="1.1"/><rect x="101.3" y="587.7" width="1.1" height="1.1"/><rect x="75.47" y="577.93" width="1.1" height="1.1"/><rect x="100.72" y="563.37" width="1.1" height="1.1"/><rect x="103.78" y="578.79" width="1.1" height="1.1"/><rect x="79.89" y="611.26" width="1.1" height="1.1"/><rect x="97.6" y="551.53" width="1.1" height="1.1"/><rect x="79.1" y="594.22" width="1.1" height="1.1"/><rect x="95.59" y="576.37" width="1.1" height="1.1"/></g>
<line x1="43.8" y1="611" x2="113.9" y2="565" stroke="#e8383a" stroke-width="1" />
<line x1="28.1" y1="554.3" x2="29.6" y2="554.3" stroke="#555" stroke-width="0.6" />
<text transform="translate(22.4,554.3) rotate(-90)" x="0" y="1.31" font-size="3.8" text-anchor="middle" fill="#444" stroke="#444"  stroke-width="0">11</text>
<line x1="28.1" y1="575.3" x2="29.6" y2="575.3" stroke="#555" stroke-width="0.6" />
<text transform="translate(22.4,575.3) rotate(-90)" x="0" y="1.31" font-size="3.8" text-anchor="middle" fill="#444" stroke="#444"  stroke-width="0">10</text>
<line x1="28.1" y1="596.3" x2="29.6" y2="596.3" stroke="#555" stroke-width="0.6" />
<text transform="translate(22.4,596.3) rotate(-90)" x="0" y="1.31" font-size="3.8" text-anchor="middle" fill="#444" stroke="#444"  stroke-width="0">9</text>
<line x1="28.1" y1="617.3" x2="29.6" y2="617.3" stroke="#555" stroke-width="0.6" />
<text transform="translate(22.4,617.3) rotate(-90)" x="0" y="1.31" font-size="3.8" text-anchor="middle" fill="#444" stroke="#444"  stroke-width="0">8</text>
<line x1="28.1" y1="638.3" x2="29.6" y2="638.3" stroke="#555" stroke-width="0.6" />
<text transform="translate(22.4,638.3) rotate(-90)" x="0" y="1.31" font-size="3.8" text-anchor="middle" fill="#444" stroke="#444"  stroke-width="0">7</text>
<line x1="41.2" y1="642.1" x2="41.2" y2="643.6" stroke="#555" stroke-width="0.6" />
<text x="41.2" y="647.31" font-size="3.8" text-anchor="middle" fill="#444" stroke="#444"  stroke-width="0">6.5</text>
<line x1="61.8" y1="642.1" x2="61.8" y2="643.6" stroke="#555" stroke-width="0.6" />
<text x="61.8" y="647.31" font-size="3.8" text-anchor="middle" fill="#444" stroke="#444"  stroke-width="0">7.0</text>
<line x1="82.4" y1="642.1" x2="82.4" y2="643.6" stroke="#555" stroke-width="0.6" />
<text x="82.4" y="647.31" font-size="3.8" text-anchor="middle" fill="#444" stroke="#444"  stroke-width="0">7.5</text>
<line x1="103" y1="642.1" x2="103" y2="643.6" stroke="#555" stroke-width="0.6" />
<text x="103" y="647.31" font-size="3.8" text-anchor="middle" fill="#444" stroke="#444"  stroke-width="0">8.0</text>
<line x1="123.6" y1="642.1" x2="123.6" y2="643.6" stroke="#555" stroke-width="0.6" />
<text x="123.6" y="647.31" font-size="3.8" text-anchor="middle" fill="#444" stroke="#444"  stroke-width="0">8.5</text>
<text x="36.1" y="547.82" font-size="5.3" text-anchor="start" fill="#222" stroke="#222"  stroke-width="0">p-value = 1.1e-11</text>
<text x="36.1" y="553.72" font-size="5.3" text-anchor="start" fill="#222" stroke="#222"  stroke-width="0">R = 0.33</text>
<text x="82.1" y="660.06" font-size="5.7" text-anchor="middle" fill="#1a1a1a" stroke="#1a1a1a" >log2(CNBP TPM)</text>
<text transform="translate(13.1,591.3) rotate(-90)" x="0" y="1.96" font-size="5.7" text-anchor="middle" fill="#1a1a1a" stroke="#1a1a1a" >log2(HSPA8 TPM)</text>
<text x="152.08" y="528.93" font-size="14" text-anchor="start" fill="#111" stroke="#111" stroke-width="0">J</text>
<rect x="181.67" y="611.63" width="2.5" height="2.5" fill="#111" />
<rect x="197.43" y="577.25" width="2.5" height="2.5" fill="#111" />
<rect x="199.18" y="592.14" width="2.5" height="2.5" fill="#111" />
<rect x="199.18" y="630.46" width="2.5" height="2.5" fill="#111" />
<rect x="202.25" y="600.9" width="2.5" height="2.5" fill="#111" />
<rect x="205.75" y="603.52" width="2.5" height="2.5" fill="#111" />
<rect x="208.38" y="583.38" width="2.5" height="2.5" fill="#111" />
<rect x="207.94" y="587.1" width="2.5" height="2.5" fill="#111" />
<rect x="211.66" y="564.99" width="2.5" height="2.5" fill="#111" />
<rect x="215.82" y="593.67" width="2.5" height="2.5" fill="#111" />
<rect x="218.01" y="593.67" width="2.5" height="2.5" fill="#111" />
<rect x="221.08" y="620.38" width="2.5" height="2.5" fill="#111" />
<rect x="221.74" y="585.35" width="2.5" height="2.5" fill="#111" />
<rect x="224.36" y="574.84" width="2.5" height="2.5" fill="#111" />
<rect x="228.96" y="580.53" width="2.5" height="2.5" fill="#111" />
<rect x="233.56" y="580.53" width="2.5" height="2.5" fill="#111" />
<rect x="236.41" y="565.86" width="2.5" height="2.5" fill="#111" />
<rect x="235.97" y="591.92" width="2.5" height="2.5" fill="#111" />
<rect x="236.41" y="586.01" width="2.5" height="2.5" fill="#111" />
<rect x="238.6" y="601.33" width="2.5" height="2.5" fill="#111" />
<rect x="238.6" y="583.16" width="2.5" height="2.5" fill="#111" />
<rect x="239.91" y="594.77" width="2.5" height="2.5" fill="#111" />
<rect x="243.85" y="573.31" width="2.5" height="2.5" fill="#111" />
<rect x="244.51" y="587.1" width="2.5" height="2.5" fill="#111" />
<rect x="244.95" y="591.04" width="2.5" height="2.5" fill="#111" />
<rect x="246.48" y="570.24" width="2.5" height="2.5" fill="#111" />
<rect x="247.57" y="561.48" width="2.5" height="2.5" fill="#111" />
<rect x="249.76" y="575.28" width="2.5" height="2.5" fill="#111" />
<rect x="259.4" y="582.29" width="2.5" height="2.5" fill="#111" />
<rect x="264.22" y="596.96" width="2.5" height="2.5" fill="#111" />
<line x1="197.4" y1="616.8" x2="263" y2="559.9" stroke="#e8262a" stroke-width="1.3" />
<line x1="178.3" y1="541.7" x2="178.3" y2="639.4" stroke="#111" stroke-width="1.25" />
<line x1="174.3" y1="638.85" x2="178.3" y2="638.85" stroke="#111" stroke-width="1.12" />
<text x="172.9" y="641.26" font-size="7" text-anchor="end" fill="#222" stroke="#222" >-5</text>
<line x1="174.3" y1="606.5" x2="178.3" y2="606.5" stroke="#111" stroke-width="1.12" />
<text x="172.9" y="608.91" font-size="7" text-anchor="end" fill="#222" stroke="#222" >0</text>
<line x1="174.3" y1="574.15" x2="178.3" y2="574.15" stroke="#111" stroke-width="1.12" />
<text x="172.9" y="576.56" font-size="7" text-anchor="end" fill="#222" stroke="#222" >5</text>
<line x1="174.3" y1="541.8" x2="178.3" y2="541.8" stroke="#111" stroke-width="1.12" />
<text x="172.9" y="544.21" font-size="7" text-anchor="end" fill="#222" stroke="#222" >10</text>
<line x1="178.3" y1="639.4" x2="276" y2="639.4" stroke="#111" stroke-width="1.25" />
<line x1="177.7" y1="639.4" x2="177.7" y2="643.4" stroke="#111" stroke-width="1.12" />
<line x1="197.4" y1="639.4" x2="197.4" y2="643.4" stroke="#111" stroke-width="1.12" />
<line x1="217.1" y1="639.4" x2="217.1" y2="643.4" stroke="#111" stroke-width="1.12" />
<line x1="236.8" y1="639.4" x2="236.8" y2="643.4" stroke="#111" stroke-width="1.12" />
<line x1="256.5" y1="639.4" x2="256.5" y2="643.4" stroke="#111" stroke-width="1.12" />
<line x1="276.2" y1="639.4" x2="276.2" y2="643.4" stroke="#111" stroke-width="1.12" />
<text x="177.7" y="649.41" font-size="7" text-anchor="middle" fill="#1a1a1a" stroke="#1a1a1a" >-2</text>
<text x="197.4" y="649.41" font-size="7" text-anchor="middle" fill="#1a1a1a" stroke="#1a1a1a" >0</text>
<text x="217.1" y="649.41" font-size="7" text-anchor="middle" fill="#1a1a1a" stroke="#1a1a1a" >2</text>
<text x="236.8" y="649.41" font-size="7" text-anchor="middle" fill="#1a1a1a" stroke="#1a1a1a" >4</text>
<text x="256.5" y="649.41" font-size="7" text-anchor="middle" fill="#1a1a1a" stroke="#1a1a1a" >6</text>
<text x="276.2" y="649.41" font-size="7" text-anchor="middle" fill="#1a1a1a" stroke="#1a1a1a" >8</text>
<text x="190.8" y="547.01" font-size="7" text-anchor="start" fill="#1a1a1a" stroke="#1a1a1a" >P-value = 0.024</text>
<text x="190.8" y="555.71" font-size="7" text-anchor="start" fill="#1a1a1a" stroke="#1a1a1a" >R = 0.411</text>
<text x="227.6" y="663.2" text-anchor="middle" font-size="6.8" fill="#1a1a1a">log<tspan font-size="4.6" dy="1.3">2</tspan><tspan dy="-1.3">(CNBP 2^(-ΔCt))</tspan></text>
<text transform="translate(161,590.5) rotate(-90)" text-anchor="middle" font-size="6.8" fill="#1a1a1a">log<tspan font-size="4.6" dy="1.3">2</tspan><tspan dy="-1.3">(HSPA8 2^(-ΔCt))</tspan></text>
<text x="293.15" y="528.73" font-size="14" text-anchor="start" fill="#111" stroke="#111" stroke-width="0">K</text>
<rect x="332.9" y="599.26" width="13.3" height="39.24" fill="#b58d52" />
<line x1="339.55" y1="599.26" x2="339.55" y2="597.3" stroke="#b58d52" stroke-width="0.9" />
<line x1="337.05" y1="597.3" x2="342.05" y2="597.3" stroke="#b58d52" stroke-width="0.9" />
<rect x="351.1" y="561.2" width="12.9" height="77.3" fill="#e19394" />
<line x1="357.55" y1="561.2" x2="357.55" y2="558.45" stroke="#e19394" stroke-width="0.9" />
<line x1="355.05" y1="558.45" x2="360.05" y2="558.45" stroke="#e19394" stroke-width="0.9" />
<rect x="368.6" y="599.26" width="12.9" height="39.24" fill="#429b65" />
<line x1="375.05" y1="599.26" x2="375.05" y2="598.48" stroke="#429b65" stroke-width="0.9" />
<line x1="372.55" y1="598.48" x2="377.55" y2="598.48" stroke="#429b65" stroke-width="0.9" />
<rect x="386.6" y="618.88" width="12.9" height="19.62" fill="#7b80c2" />
<line x1="393.05" y1="618.88" x2="393.05" y2="618.49" stroke="#7b80c2" stroke-width="0.9" />
<line x1="390.55" y1="618.49" x2="395.55" y2="618.49" stroke="#7b80c2" stroke-width="0.9" />
<line x1="327.7" y1="540.4" x2="327.7" y2="638.5" stroke="#111" stroke-width="1.25" />
<line x1="323.7" y1="638.5" x2="327.7" y2="638.5" stroke="#111" stroke-width="1.12" />
<text x="322.3" y="640.91" font-size="7" text-anchor="end" fill="#222" stroke="#222" >0.0</text>
<line x1="323.7" y1="618.88" x2="327.7" y2="618.88" stroke="#111" stroke-width="1.12" />
<text x="322.3" y="621.29" font-size="7" text-anchor="end" fill="#222" stroke="#222" >0.5</text>
<line x1="323.7" y1="599.26" x2="327.7" y2="599.26" stroke="#111" stroke-width="1.12" />
<text x="322.3" y="601.67" font-size="7" text-anchor="end" fill="#222" stroke="#222" >1.0</text>
<line x1="323.7" y1="579.64" x2="327.7" y2="579.64" stroke="#111" stroke-width="1.12" />
<text x="322.3" y="582.05" font-size="7" text-anchor="end" fill="#222" stroke="#222" >1.5</text>
<line x1="323.7" y1="560.02" x2="327.7" y2="560.02" stroke="#111" stroke-width="1.12" />
<text x="322.3" y="562.43" font-size="7" text-anchor="end" fill="#222" stroke="#222" >2.0</text>
<line x1="323.7" y1="540.4" x2="327.7" y2="540.4" stroke="#111" stroke-width="1.12" />
<text x="322.3" y="542.81" font-size="7" text-anchor="end" fill="#222" stroke="#222" >2.5</text>
<line x1="327.7" y1="638.5" x2="404.8" y2="638.5" stroke="#111" stroke-width="1.25" />
<line x1="339.55" y1="638.5" x2="339.55" y2="642.5" stroke="#111" stroke-width="1.12" />
<line x1="357.55" y1="638.5" x2="357.55" y2="642.5" stroke="#111" stroke-width="1.12" />
<line x1="375.05" y1="638.5" x2="375.05" y2="642.5" stroke="#111" stroke-width="1.12" />
<line x1="393.05" y1="638.5" x2="393.05" y2="642.5" stroke="#111" stroke-width="1.12" />
<line x1="339.9" y1="554.4" x2="357.9" y2="554.4" stroke="#111" stroke-width="1.2" />
<path d="M342.6 546.1L342.6 551.1M340.43 547.35L344.77 549.85M344.77 547.35L340.43 549.85" fill="none" stroke="#111" stroke-width="1.25" />
<path d="M348.9 546.1L348.9 551.1M346.73 547.35L351.07 549.85M351.07 547.35L346.73 549.85" fill="none" stroke="#111" stroke-width="1.25" />
<path d="M355.2 546.1L355.2 551.1M353.03 547.35L357.37 549.85M357.37 547.35L353.03 549.85" fill="none" stroke="#111" stroke-width="1.25" />
<line x1="375.6" y1="594.1" x2="392.9" y2="594.1" stroke="#111" stroke-width="1.2" />
<path d="M377.95 586.2L377.95 591.2M375.78 587.45L380.12 589.95M380.12 587.45L375.78 589.95" fill="none" stroke="#111" stroke-width="1.25" />
<path d="M384.25 586.2L384.25 591.2M382.08 587.45L386.42 589.95M386.42 587.45L382.08 589.95" fill="none" stroke="#111" stroke-width="1.25" />
<path d="M390.55 586.2L390.55 591.2M388.38 587.45L392.72 589.95M392.72 587.45L388.38 589.95" fill="none" stroke="#111" stroke-width="1.25" />
<text x="377.7" y="529.21" font-size="7" text-anchor="middle" fill="#1a1a1a" stroke="#1a1a1a" >MKN-45</text>
<text transform="translate(306.5,587) rotate(-90)" x="0" y="2.41" font-size="7" text-anchor="middle" fill="#1a1a1a" stroke="#1a1a1a" >Relative expression of HSPA8</text>
<text transform="translate(340.95,647.8) rotate(-45)" x="0" y="2.41" font-size="7" text-anchor="end" fill="#1a1a1a" stroke="#1a1a1a" >OE-NC</text>
<text transform="translate(358.95,647.8) rotate(-45)" x="0" y="2.41" font-size="7" text-anchor="end" fill="#1a1a1a" stroke="#1a1a1a" >OE-CNBP</text>
<text transform="translate(376.45,647.8) rotate(-45)" x="0" y="2.41" font-size="7" text-anchor="end" fill="#1a1a1a" stroke="#1a1a1a" >sh-NC</text>
<text transform="translate(394.45,647.8) rotate(-45)" x="0" y="2.41" font-size="7" text-anchor="end" fill="#1a1a1a" stroke="#1a1a1a" >sh-CNBP</text>
<rect x="454.7" y="598.46" width="12.7" height="39.24" fill="#b58d52" />
<line x1="461.05" y1="598.46" x2="461.05" y2="597.68" stroke="#b58d52" stroke-width="0.9" />
<line x1="458.55" y1="597.68" x2="463.55" y2="597.68" stroke="#b58d52" stroke-width="0.9" />
<rect x="472.7" y="564.32" width="12.7" height="73.38" fill="#e19394" />
<line x1="479.05" y1="564.32" x2="479.05" y2="561.97" stroke="#e19394" stroke-width="0.9" />
<line x1="476.55" y1="561.97" x2="481.55" y2="561.97" stroke="#e19394" stroke-width="0.9" />
<rect x="490.1" y="598.46" width="12.7" height="39.24" fill="#429b65" />
<line x1="496.45" y1="598.46" x2="496.45" y2="596.5" stroke="#429b65" stroke-width="0.9" />
<line x1="493.95" y1="596.5" x2="498.95" y2="596.5" stroke="#429b65" stroke-width="0.9" />
<rect x="507.9" y="614.16" width="12.7" height="23.54" fill="#7b80c2" />
<line x1="514.25" y1="614.16" x2="514.25" y2="613.76" stroke="#7b80c2" stroke-width="0.9" />
<line x1="511.75" y1="613.76" x2="516.75" y2="613.76" stroke="#7b80c2" stroke-width="0.9" />
<line x1="449.6" y1="539.6" x2="449.6" y2="637.7" stroke="#111" stroke-width="1.25" />
<line x1="445.6" y1="637.7" x2="449.6" y2="637.7" stroke="#111" stroke-width="1.12" />
<text x="444.2" y="640.11" font-size="7" text-anchor="end" fill="#222" stroke="#222" >0.0</text>
<line x1="445.6" y1="618.08" x2="449.6" y2="618.08" stroke="#111" stroke-width="1.12" />
<text x="444.2" y="620.49" font-size="7" text-anchor="end" fill="#222" stroke="#222" >0.5</text>
<line x1="445.6" y1="598.46" x2="449.6" y2="598.46" stroke="#111" stroke-width="1.12" />
<text x="444.2" y="600.87" font-size="7" text-anchor="end" fill="#222" stroke="#222" >1.0</text>
<line x1="445.6" y1="578.84" x2="449.6" y2="578.84" stroke="#111" stroke-width="1.12" />
<text x="444.2" y="581.25" font-size="7" text-anchor="end" fill="#222" stroke="#222" >1.5</text>
<line x1="445.6" y1="559.22" x2="449.6" y2="559.22" stroke="#111" stroke-width="1.12" />
<text x="444.2" y="561.63" font-size="7" text-anchor="end" fill="#222" stroke="#222" >2.0</text>
<line x1="445.6" y1="539.6" x2="449.6" y2="539.6" stroke="#111" stroke-width="1.12" />
<text x="444.2" y="542.01" font-size="7" text-anchor="end" fill="#222" stroke="#222" >2.5</text>
<line x1="449.6" y1="637.7" x2="526.3" y2="637.7" stroke="#111" stroke-width="1.25" />
<line x1="461.05" y1="637.7" x2="461.05" y2="641.7" stroke="#111" stroke-width="1.12" />
<line x1="479.05" y1="637.7" x2="479.05" y2="641.7" stroke="#111" stroke-width="1.12" />
<line x1="496.45" y1="637.7" x2="496.45" y2="641.7" stroke="#111" stroke-width="1.12" />
<line x1="514.25" y1="637.7" x2="514.25" y2="641.7" stroke="#111" stroke-width="1.12" />
<line x1="462.5" y1="558.4" x2="478.9" y2="558.4" stroke="#111" stroke-width="1.2" />
<path d="M464.4 550.4L464.4 555.4M462.23 551.65L466.57 554.15M466.57 551.65L462.23 554.15" fill="none" stroke="#111" stroke-width="1.25" />
<path d="M470.7 550.4L470.7 555.4M468.53 551.65L472.87 554.15M472.87 551.65L468.53 554.15" fill="none" stroke="#111" stroke-width="1.25" />
<path d="M477 550.4L477 555.4M474.83 551.65L479.17 554.15M479.17 551.65L474.83 554.15" fill="none" stroke="#111" stroke-width="1.25" />
<line x1="496.6" y1="592.8" x2="514.4" y2="592.8" stroke="#111" stroke-width="1.2" />
<path d="M499.2 584.1L499.2 589.1M497.03 585.35L501.37 587.85M501.37 585.35L497.03 587.85" fill="none" stroke="#111" stroke-width="1.25" />
<path d="M505.5 584.1L505.5 589.1M503.33 585.35L507.67 587.85M507.67 585.35L503.33 587.85" fill="none" stroke="#111" stroke-width="1.25" />
<path d="M511.8 584.1L511.8 589.1M509.63 585.35L513.97 587.85M513.97 585.35L509.63 587.85" fill="none" stroke="#111" stroke-width="1.25" />
<text x="498.7" y="527.71" font-size="7" text-anchor="middle" fill="#1a1a1a" stroke="#1a1a1a" >HGC-27</text>
<text transform="translate(428,589) rotate(-90)" x="0" y="2.41" font-size="7" text-anchor="middle" fill="#1a1a1a" stroke="#1a1a1a" >Relative expression of HSPA8</text>
<text transform="translate(462.45,647) rotate(-45)" x="0" y="2.41" font-size="7" text-anchor="end" fill="#1a1a1a" stroke="#1a1a1a" >OE-NC</text>
<text transform="translate(480.45,647) rotate(-45)" x="0" y="2.41" font-size="7" text-anchor="end" fill="#1a1a1a" stroke="#1a1a1a" >OE-CNBP</text>
<text transform="translate(497.85,647) rotate(-45)" x="0" y="2.41" font-size="7" text-anchor="end" fill="#1a1a1a" stroke="#1a1a1a" >sh-NC</text>
<text transform="translate(515.65,647) rotate(-45)" x="0" y="2.41" font-size="7" text-anchor="end" fill="#1a1a1a" stroke="#1a1a1a" >sh-CNBP</text>
<text x="546.15" y="528.93" font-size="14" text-anchor="start" fill="#111" stroke="#111" stroke-width="0">L</text>
<text x="614.1" y="534.61" font-size="7" text-anchor="middle" fill="#1a1a1a" stroke="#1a1a1a" >MKN-45</text>
<line x1="575" y1="537.2" x2="654.1" y2="537.2" stroke="#333" stroke-width="0.8" />
<text transform="translate(577.2,555.1) rotate(-31)" x="0" y="0" font-size="5.9" text-anchor="start" fill="#1a1a1a" stroke="#1a1a1a" >OE-NC</text>
<text transform="translate(596.9,555.1) rotate(-31)" x="0" y="0" font-size="5.9" text-anchor="start" fill="#1a1a1a" stroke="#1a1a1a" >OE-CNBP</text>
<text transform="translate(616.6,555.1) rotate(-31)" x="0" y="0" font-size="5.9" text-anchor="start" fill="#1a1a1a" stroke="#1a1a1a" >sh-NC</text>
<text transform="translate(637.7,555.1) rotate(-31)" x="0" y="0" font-size="5.9" text-anchor="start" fill="#1a1a1a" stroke="#1a1a1a" >sh-CNBP</text>
<rect x="574.3" y="556.6" width="80" height="10.6" fill="url(#blg)" stroke="#3c3c3c" stroke-width="1" />
<g filter="url(#bl)"><ellipse cx="585" cy="561.9" rx="7.25" ry="3" fill="#050505" fill-opacity="1"/><rect x="578.04" y="559.26" width="13.92" height="5.28" rx="2.64" fill="#050505" fill-opacity="1"/><ellipse cx="605.1" cy="561.9" rx="9.25" ry="4.5" fill="#050505" fill-opacity="1"/><rect x="596.22" y="557.94" width="17.76" height="7.92" rx="3.96" fill="#050505" fill-opacity="1"/><ellipse cx="624.1" cy="561.9" rx="9" ry="3.25" fill="#050505" fill-opacity="1"/><rect x="615.46" y="559.04" width="17.28" height="5.72" rx="2.86" fill="#050505" fill-opacity="1"/><ellipse cx="644.3" cy="561.9" rx="7" ry="2.25" fill="#050505" fill-opacity="1"/><rect x="637.58" y="559.92" width="13.44" height="3.96" rx="1.98" fill="#050505" fill-opacity="1"/></g>
<rect x="574.3" y="570.3" width="80" height="11.7" fill="url(#blg)" stroke="#3c3c3c" stroke-width="1" />
<g filter="url(#bl)"><ellipse cx="585" cy="576.15" rx="8.75" ry="3.1" fill="#050505" fill-opacity="1"/><rect x="576.6" y="573.42" width="16.8" height="5.46" rx="2.73" fill="#050505" fill-opacity="1"/><ellipse cx="605" cy="576.15" rx="8" ry="2.8" fill="#050505" fill-opacity="1"/><rect x="597.32" y="573.69" width="15.36" height="4.93" rx="2.46" fill="#050505" fill-opacity="1"/><ellipse cx="625.2" cy="576.15" rx="8" ry="2.8" fill="#050505" fill-opacity="1"/><rect x="617.52" y="573.69" width="15.36" height="4.93" rx="2.46" fill="#050505" fill-opacity="1"/><ellipse cx="644.3" cy="576.15" rx="8" ry="2.8" fill="#050505" fill-opacity="1"/><rect x="636.62" y="573.69" width="15.36" height="4.93" rx="2.46" fill="#050505" fill-opacity="1"/></g>
<text x="572.8" y="564.31" font-size="7" text-anchor="end" fill="#1a1a1a" stroke="#1a1a1a" >HSPA8</text>
<text x="572.8" y="578.56" font-size="7" text-anchor="end" fill="#1a1a1a" stroke="#1a1a1a" >β-actin</text>
<text x="656.2" y="564.31" font-size="7" text-anchor="start" fill="#1a1a1a" stroke="#1a1a1a" >70 kDa</text>
<text x="656.2" y="578.56" font-size="7" text-anchor="start" fill="#1a1a1a" stroke="#1a1a1a" >42 kDa</text>
<text x="614.1" y="593.91" font-size="7" text-anchor="middle" fill="#1a1a1a" stroke="#1a1a1a" >HGC-27</text>
<line x1="575" y1="596.8" x2="654.1" y2="596.8" stroke="#333" stroke-width="0.8" />
<text transform="translate(577.2,614.5) rotate(-31)" x="0" y="0" font-size="5.9" text-anchor="start" fill="#1a1a1a" stroke="#1a1a1a" >OE-NC</text>
<text transform="translate(596.9,614.5) rotate(-31)" x="0" y="0" font-size="5.9" text-anchor="start" fill="#1a1a1a" stroke="#1a1a1a" >OE-CNBP</text>
<text transform="translate(616.6,614.5) rotate(-31)" x="0" y="0" font-size="5.9" text-anchor="start" fill="#1a1a1a" stroke="#1a1a1a" >sh-NC</text>
<text transform="translate(637.7,614.5) rotate(-31)" x="0" y="0" font-size="5.9" text-anchor="start" fill="#1a1a1a" stroke="#1a1a1a" >sh-CNBP</text>
<rect x="574.3" y="614.8" width="80" height="12.1" fill="url(#blg)" stroke="#3c3c3c" stroke-width="1" />
<g filter="url(#bl)"><ellipse cx="584.5" cy="620.85" rx="8.25" ry="2.75" fill="#050505" fill-opacity="1"/><rect x="576.58" y="618.43" width="15.84" height="4.84" rx="2.42" fill="#050505" fill-opacity="1"/><ellipse cx="605.6" cy="620.85" rx="9.5" ry="4.25" fill="#050505" fill-opacity="1"/><rect x="596.48" y="617.11" width="18.24" height="7.48" rx="3.74" fill="#050505" fill-opacity="1"/><ellipse cx="624.6" cy="620.85" rx="8.5" ry="3" fill="#050505" fill-opacity="1"/><rect x="616.44" y="618.21" width="16.32" height="5.28" rx="2.64" fill="#050505" fill-opacity="1"/><ellipse cx="644.7" cy="620.85" rx="6.25" ry="1.75" fill="#050505" fill-opacity="0.9"/><rect x="638.7" y="619.31" width="12" height="3.08" rx="1.54" fill="#050505" fill-opacity="0.9"/></g>
<rect x="574.3" y="629.6" width="80" height="11.6" fill="url(#blg)" stroke="#3c3c3c" stroke-width="1" />
<g filter="url(#bl)"><ellipse cx="584.5" cy="635.4" rx="8.5" ry="2.5" fill="#050505" fill-opacity="1"/><rect x="576.34" y="633.2" width="16.32" height="4.4" rx="2.2" fill="#050505" fill-opacity="1"/><ellipse cx="606" cy="635.4" rx="9.75" ry="2.6" fill="#050505" fill-opacity="1"/><rect x="596.64" y="633.11" width="18.72" height="4.58" rx="2.29" fill="#050505" fill-opacity="1"/><ellipse cx="625" cy="635.4" rx="9" ry="3" fill="#050505" fill-opacity="1"/><rect x="616.36" y="632.76" width="17.28" height="5.28" rx="2.64" fill="#050505" fill-opacity="1"/><ellipse cx="643.3" cy="635.4" rx="9" ry="3.25" fill="#050505" fill-opacity="1"/><rect x="634.66" y="632.54" width="17.28" height="5.72" rx="2.86" fill="#050505" fill-opacity="1"/></g>
<text x="572.8" y="623.26" font-size="7" text-anchor="end" fill="#1a1a1a" stroke="#1a1a1a" >HSPA8</text>
<text x="572.8" y="637.81" font-size="7" text-anchor="end" fill="#1a1a1a" stroke="#1a1a1a" >β-actin</text>
<text x="656.2" y="623.26" font-size="7" text-anchor="start" fill="#1a1a1a" stroke="#1a1a1a" >70 kDa</text>
<text x="656.2" y="637.81" font-size="7" text-anchor="start" fill="#1a1a1a" stroke="#1a1a1a" >42 kDa</text>
<text x="4.65" y="693.83" font-size="14" text-anchor="start" fill="#111" stroke="#111" stroke-width="0">M</text>
<text x="72.6" y="700.21" font-size="7" text-anchor="middle" fill="#1a1a1a" stroke="#1a1a1a" >CNBP binding motif</text>
<text x="32.8" y="711.91" font-size="7" text-anchor="end" fill="#1a1a1a" stroke="#1a1a1a" >2.0</text>
<text x="32.8" y="720.01" font-size="7" text-anchor="end" fill="#1a1a1a" stroke="#1a1a1a" >1.5</text>
<text x="32.8" y="728.41" font-size="7" text-anchor="end" fill="#1a1a1a" stroke="#1a1a1a" >1.0</text>
<text x="32.8" y="736.41" font-size="7" text-anchor="end" fill="#1a1a1a" stroke="#1a1a1a" >0.5</text>
<text x="32.8" y="745.21" font-size="7" text-anchor="end" fill="#1a1a1a" stroke="#1a1a1a" >0.0</text>
<text transform="translate(18,725.8) rotate(-90)" x="0" y="2.41" font-size="7" text-anchor="middle" fill="#1a1a1a" stroke="#1a1a1a" >Bits</text>
<text transform="translate(34.34,742.34) scale(0.1377,0.4703)" font-size="100" font-weight="bold" fill="#1c1c9c">C</text>
<text transform="translate(44.86,742.8) scale(0.1223,0.4840)" font-size="100" font-weight="bold" fill="#2a9a3c">T</text>
<text transform="translate(53.64,742.34) scale(0.1363,0.4703)" font-size="100" font-weight="bold" fill="#e8b030">G</text>
<text transform="translate(64.65,742.8) scale(0.1401,0.4840)" font-size="100" font-weight="bold" fill="#e42222">A</text>
<text transform="translate(74.85,742.8) scale(0.1401,0.4840)" font-size="100" font-weight="bold" fill="#e42222">A</text>
<text transform="translate(84.56,742.8) scale(0.1371,0.4840)" font-size="100" font-weight="bold" fill="#e42222">A</text>
<text transform="translate(93.86,742.8) scale(0.1356,0.4840)" font-size="100" font-weight="bold" fill="#e42222">A</text>
<text transform="translate(104.15,739.6) scale(0.1375,0.1919)" font-size="100" font-weight="bold" fill="#2a9a3c">T</text>
<text transform="translate(104,742.8) scale(0.1207,0.0451)" font-size="100" font-weight="bold" fill="#e42222">A</text>
<text x="38.8" y="752.12" font-size="8.2" text-anchor="middle" fill="#1a1a1a" stroke="#1a1a1a" >1</text>
<text x="48.4" y="752.12" font-size="8.2" text-anchor="middle" fill="#1a1a1a" stroke="#1a1a1a" >2</text>
<text x="59.3" y="752.12" font-size="8.2" text-anchor="middle" fill="#1a1a1a" stroke="#1a1a1a" >3</text>
<text x="68.9" y="752.12" font-size="8.2" text-anchor="middle" fill="#1a1a1a" stroke="#1a1a1a" >4</text>
<text x="78.7" y="752.12" font-size="8.2" text-anchor="middle" fill="#1a1a1a" stroke="#1a1a1a" >5</text>
<text x="88.3" y="752.12" font-size="8.2" text-anchor="middle" fill="#1a1a1a" stroke="#1a1a1a" >6</text>
<text x="98.5" y="752.12" font-size="8.2" text-anchor="middle" fill="#1a1a1a" stroke="#1a1a1a" >7</text>
<text x="108.3" y="752.12" font-size="8.2" text-anchor="middle" fill="#1a1a1a" stroke="#1a1a1a" >8</text>
<text x="4.85" y="767.83" font-size="14" text-anchor="start" fill="#111" stroke="#111" stroke-width="0">N</text>
<path d="M6.1 788.8 L6.4 788.8 L6.8 789.0 L7.1 789.2 L7.4 789.5 L7.7 789.9 L8.1 790.3 L8.4 790.8 L8.7 791.3 L9.1 791.8 L9.4 792.4 L9.7 792.9 L10.1 793.4 L10.4 793.9 L10.7 794.3 L11.0 794.6 L11.4 794.9 L11.7 795.1 L12.0 795.2 L12.4 795.2 L12.7 795.1 L13.0 795.0 L13.4 794.7 L13.7 794.4 L14.0 794.0 L14.3 793.5 L14.7 793.0 L15.0 792.5 L15.3 792.0 L15.7 791.5 L16.0 790.9 L16.3 790.4 L16.7 790.0 L17.0 789.6 L17.3 789.3 L17.6 789.0 L18.0 788.9 L18.3 788.8 L18.6 788.8 L19.0 788.9 L19.3 789.1 L19.6 789.4 L19.9 789.8 L20.3 790.2 L20.6 790.6 L20.9 791.1 L21.3 791.7 L21.6 792.2 L21.9 792.7 L22.3 793.2 L22.6 793.7 L22.9 794.2 L23.2 794.5 L23.6 794.8 L23.9 795.0 L24.2 795.2 L24.6 795.2 L24.9 795.2 L25.2 795.0 L25.6 794.8 L25.9 794.5 L26.2 794.1 L26.5 793.7 L26.9 793.2 L27.2 792.7 L27.5 792.1 L27.9 791.6 L28.2 791.1 L28.5 790.6 L28.9 790.1 L29.2 789.7 L29.5 789.4 L29.8 789.1 L30.2 788.9 L30.5 788.8 L30.8 788.8 L31.2 788.9 L31.5 789.1 L31.8 789.3 L32.2 789.6 L32.5 790.0 L32.8 790.5 L33.1 791.0 L33.5 791.5 L33.8 792.0 L34.1 792.6 L34.5 793.1 L34.8 793.6 L35.1 794.0 L35.4 794.4 L35.8 794.7 L36.1 795.0 L36.4 795.1 L36.8 795.2 L37.1 795.2 L37.4 795.1 L37.8 794.9 L38.1 794.6 L38.4 794.2 L38.7 793.8 L39.1 793.3 L39.4 792.8 L39.7 792.3 L40.1 791.8 L40.4 791.2 L40.7 790.7 L41.1 790.3 L41.4 789.8 L41.7 789.5 L42.0 789.2 L42.4 789.0 L42.7 788.8 L43.0 788.8 L43.4 788.9 L43.7 789.0 L44.0 789.2 L44.4 789.5 L44.7 789.9 L45.0 790.3 L45.3 790.8 L45.7 791.3 L46.0 791.9 L46.3 792.4 L46.7 792.9 L47.0 793.4 L47.3 793.9 L47.6 794.3 L48.0 794.6 L48.3 794.9 L48.6 795.1 L49.0 795.2 L49.3 795.2 L49.6 795.1 L50.0 794.9 L50.3 794.7 L50.6 794.3 L50.9 793.9 L51.3 793.5 L51.6 793.0 L51.9 792.5 L52.3 791.9 L52.6 791.4 L52.9 790.9 L53.3 790.4 L53.6 790.0 L53.9 789.6 L54.2 789.3 L54.6 789.0 L54.9 788.9 L55.2 788.8 L55.6 788.8 L55.9 788.9 L56.2 789.1 L56.6 789.4 L56.9 789.8 L57.2 790.2 L57.5 790.7 L57.9 791.2 L58.2 791.7 L58.5 792.3 L58.9 792.8 L59.2 793.3 L59.5 793.8 L59.8 794.2 L60.2 794.5 L60.5 794.8 L60.8 795.0 L61.2 795.2 L61.5 795.2 L61.8 795.1 L62.2 795.0 L62.5 794.8 L62.8 794.5 L63.1 794.1 L63.5 793.6 L63.8 793.1 L64.1 792.6 L64.5 792.1 L64.8 791.6 L65.1 791.0 L65.5 790.5 L65.8 790.1 L66.1 789.7 L66.4 789.3 L66.8 789.1 L67.1 788.9 L67.4 788.8 L67.8 788.8 L68.1 788.9 L68.4 789.1 L68.8 789.3 L69.1 789.7 L69.4 790.1 L69.7 790.5 L70.1 791.0 L70.4 791.6 L70.7 792.1 L71.1 792.6 L71.4 793.1 L71.7 793.6 L72.0 794.1 L72.4 794.4 L72.7 794.8 L73.0 795.0 L73.4 795.1 L73.7 795.2 L74.0 795.2 L74.4 795.0 L74.7 794.8 L75.0 794.6 L75.3 794.2 L75.7 793.8 L76.0 793.3 L76.3 792.8 L76.7 792.3 L77.0 791.7 L77.3 791.2 L77.7 790.7 L78.0 790.2 L78.3 789.8 L78.6 789.4 L79.0 789.2 L79.3 788.9 L79.6 788.8 L80.0 788.8 L80.3 788.9 L80.6 789.0 L81.0 789.3 L81.3 789.6 L81.6 789.9 L81.9 790.4 L82.3 790.9 L82.6 791.4 L82.9 791.9 L83.3 792.5 L83.6 793.0 L83.9 793.5 L84.3 793.9 L84.6 794.3 L84.9 794.7 L85.2 794.9 L85.6 795.1 L85.9 795.2 L86.2 795.2 L86.6 795.1 L86.9 794.9 L87.2 794.6 L87.5 794.3 L87.9 793.9 L88.2 793.4 L88.5 792.9 L88.9 792.4 L89.2 791.9 L89.5 791.3 L89.9 790.8 L90.2 790.3 L90.5 789.9 L90.8 789.5 L91.2 789.2 L91.5 789.0 L91.8 788.9 L92.2 788.8 L92.5 788.8 L92.8 789.0 L93.2 789.2 L93.5 789.5 L93.8 789.8 L94.1 790.3 L94.5 790.7 L94.8 791.2 L95.1 791.8 L95.5 792.3 L95.8 792.8 L96.1 793.3 L96.5 793.8 L96.8 794.2 L97.1 794.6 L97.4 794.9 L97.8 795.1 L98.1 795.2 L98.4 795.2 L98.8 795.1 L99.1 795.0 L99.4 794.7 L99.7 794.4 L100.1 794.0 L100.4 793.6 L100.7 793.1 L101.1 792.6 L101.4 792.0 L101.7 791.5 L102.1 791.0 L102.4 790.5 L102.7 790.0 L103.0 789.6 L103.4 789.3 L103.7 789.1 L104.0 788.9 L104.4 788.8 L104.7 788.8 L105.0 788.9 L105.4 789.1 L105.7 789.4 L106.0 789.7 L106.3 790.1 L106.7 790.6 L107.0 791.1 L107.3 791.6 L107.7 792.1 L108.0 792.7 L108.3 793.2 L108.7 793.7 L109.0 794.1 L109.3 794.5 L109.6 794.8 L110.0 795.0 L110.3 795.1 L110.6 795.2 L111.0 795.2 L111.3 795.0 L111.6 794.8 L111.9 794.5 L112.3 794.2 L112.6 793.7 L112.9 793.3 L113.3 792.7 L113.6 792.2 L113.9 791.7 L114.3 791.1 L114.6 790.6 L114.9 790.2 L115.2 789.8 L115.6 789.4 L115.9 789.1 L116.2 788.9 L116.6 788.8 L116.9 788.8 L117.2 788.9 L117.6 789.0 L117.9 789.3 L118.2 789.6 L118.5 790.0 L118.9 790.4 L119.2 790.9 L119.5 791.4 L119.9 792.0 L120.2 792.5 L120.5 793.0 L120.9 793.5 L121.2 794.0 L121.5 794.4 L121.8 794.7 L122.2 795.0 L122.5 795.1 L122.8 795.2 L123.2 795.2 L123.5 795.1 L123.8 794.9 L124.2 794.6 L124.5 794.3 L124.8 793.9 L125.1 793.4 L125.5 792.9 L125.8 792.4 L126.1 791.8 L126.5 791.3 L126.8 790.8 L127.1 790.3 L127.4 789.9 L127.8 789.5 L128.1 789.2 L128.4 789.0 L128.8 788.8 L129.1 788.8 L129.4 788.8 L129.8 789.0 L130.1 789.2 L130.4 789.5 L130.7 789.9 L131.1 790.3 L131.4 790.8 L131.7 791.3 L132.1 791.8 L132.4 792.4 L132.7 792.9 L133.1 793.4 L133.4 793.9 L133.7 794.3 L134.0 794.6 L134.4 794.9 L134.7 795.1 L135.0 795.2 L135.4 795.2 L135.7 795.1 L136.0 795.0 L136.4 794.7 L136.7 794.4 L137.0 794.0 L137.3 793.5 L137.7 793.1 L138.0 792.5" fill="none" stroke="#111" stroke-width="1.25" />
<path d="M6.1 790.0 L6.4 790.5 L6.8 791.0 L7.1 791.5 L7.4 792.0 L7.7 792.5 L8.1 793.1 L8.4 793.6 L8.7 794.0 L9.1 794.4 L9.4 794.7 L9.7 795.0 L10.1 795.1 L10.4 795.2 L10.7 795.2 L11.0 795.1 L11.4 794.9 L11.7 794.6 L12.0 794.3 L12.4 793.8 L12.7 793.4 L13.0 792.9 L13.4 792.3 L13.7 791.8 L14.0 791.3 L14.3 790.8 L14.7 790.3 L15.0 789.9 L15.3 789.5 L15.7 789.2 L16.0 789.0 L16.3 788.8 L16.7 788.8 L17.0 788.8 L17.3 789.0 L17.6 789.2 L18.0 789.5 L18.3 789.9 L18.6 790.3 L19.0 790.8 L19.3 791.3 L19.6 791.8 L19.9 792.4 L20.3 792.9 L20.6 793.4 L20.9 793.9 L21.3 794.3 L21.6 794.6 L21.9 794.9 L22.3 795.1 L22.6 795.2 L22.9 795.2 L23.2 795.1 L23.6 794.9 L23.9 794.7 L24.2 794.4 L24.6 794.0 L24.9 793.5 L25.2 793.0 L25.6 792.5 L25.9 792.0 L26.2 791.4 L26.5 790.9 L26.9 790.4 L27.2 790.0 L27.5 789.6 L27.9 789.3 L28.2 789.0 L28.5 788.9 L28.9 788.8 L29.2 788.8 L29.5 788.9 L29.8 789.1 L30.2 789.4 L30.5 789.8 L30.8 790.2 L31.2 790.7 L31.5 791.2 L31.8 791.7 L32.2 792.2 L32.5 792.8 L32.8 793.3 L33.1 793.7 L33.5 794.2 L33.8 794.5 L34.1 794.8 L34.5 795.0 L34.8 795.2 L35.1 795.2 L35.4 795.1 L35.8 795.0 L36.1 794.8 L36.4 794.5 L36.8 794.1 L37.1 793.7 L37.4 793.2 L37.8 792.7 L38.1 792.1 L38.4 791.6 L38.7 791.1 L39.1 790.6 L39.4 790.1 L39.7 789.7 L40.1 789.4 L40.4 789.1 L40.7 788.9 L41.1 788.8 L41.4 788.8 L41.7 788.9 L42.0 789.1 L42.4 789.3 L42.7 789.7 L43.0 790.1 L43.4 790.5 L43.7 791.0 L44.0 791.5 L44.4 792.1 L44.7 792.6 L45.0 793.1 L45.3 793.6 L45.7 794.0 L46.0 794.4 L46.3 794.7 L46.7 795.0 L47.0 795.1 L47.3 795.2 L47.6 795.2 L48.0 795.1 L48.3 794.9 L48.6 794.6 L49.0 794.2 L49.3 793.8 L49.6 793.3 L50.0 792.8 L50.3 792.3 L50.6 791.7 L50.9 791.2 L51.3 790.7 L51.6 790.2 L51.9 789.8 L52.3 789.5 L52.6 789.2 L52.9 789.0 L53.3 788.8 L53.6 788.8 L53.9 788.9 L54.2 789.0 L54.6 789.2 L54.9 789.5 L55.2 789.9 L55.6 790.4 L55.9 790.8 L56.2 791.4 L56.6 791.9 L56.9 792.4 L57.2 793.0 L57.5 793.5 L57.9 793.9 L58.2 794.3 L58.5 794.7 L58.9 794.9 L59.2 795.1 L59.5 795.2 L59.8 795.2 L60.2 795.1 L60.5 794.9 L60.8 794.7 L61.2 794.3 L61.5 793.9 L61.8 793.5 L62.2 793.0 L62.5 792.4 L62.8 791.9 L63.1 791.4 L63.5 790.9 L63.8 790.4 L64.1 789.9 L64.5 789.6 L64.8 789.2 L65.1 789.0 L65.5 788.9 L65.8 788.8 L66.1 788.8 L66.4 789.0 L66.8 789.2 L67.1 789.4 L67.4 789.8 L67.8 790.2 L68.1 790.7 L68.4 791.2 L68.8 791.7 L69.1 792.3 L69.4 792.8 L69.7 793.3 L70.1 793.8 L70.4 794.2 L70.7 794.6 L71.1 794.8 L71.4 795.1 L71.7 795.2 L72.0 795.2 L72.4 795.1 L72.7 795.0 L73.0 794.7 L73.4 794.4 L73.7 794.1 L74.0 793.6 L74.4 793.1 L74.7 792.6 L75.0 792.1 L75.3 791.5 L75.7 791.0 L76.0 790.5 L76.3 790.1 L76.7 789.7 L77.0 789.3 L77.3 789.1 L77.7 788.9 L78.0 788.8 L78.3 788.8 L78.6 788.9 L79.0 789.1 L79.3 789.4 L79.6 789.7 L80.0 790.1 L80.3 790.6 L80.6 791.1 L81.0 791.6 L81.3 792.1 L81.6 792.6 L81.9 793.2 L82.3 793.6 L82.6 794.1 L82.9 794.5 L83.3 794.8 L83.6 795.0 L83.9 795.1 L84.3 795.2 L84.6 795.2 L84.9 795.0 L85.2 794.8 L85.6 794.5 L85.9 794.2 L86.2 793.8 L86.6 793.3 L86.9 792.8 L87.2 792.2 L87.5 791.7 L87.9 791.2 L88.2 790.7 L88.5 790.2 L88.9 789.8 L89.2 789.4 L89.5 789.1 L89.9 788.9 L90.2 788.8 L90.5 788.8 L90.8 788.9 L91.2 789.0 L91.5 789.3 L91.8 789.6 L92.2 790.0 L92.5 790.4 L92.8 790.9 L93.2 791.4 L93.5 792.0 L93.8 792.5 L94.1 793.0 L94.5 793.5 L94.8 794.0 L95.1 794.4 L95.5 794.7 L95.8 794.9 L96.1 795.1 L96.5 795.2 L96.8 795.2 L97.1 795.1 L97.4 794.9 L97.8 794.6 L98.1 794.3 L98.4 793.9 L98.8 793.4 L99.1 792.9 L99.4 792.4 L99.7 791.9 L100.1 791.3 L100.4 790.8 L100.7 790.3 L101.1 789.9 L101.4 789.5 L101.7 789.2 L102.1 789.0 L102.4 788.9 L102.7 788.8 L103.0 788.8 L103.4 789.0 L103.7 789.2 L104.0 789.5 L104.4 789.8 L104.7 790.3 L105.0 790.7 L105.4 791.3 L105.7 791.8 L106.0 792.3 L106.3 792.9 L106.7 793.4 L107.0 793.8 L107.3 794.2 L107.7 794.6 L108.0 794.9 L108.3 795.1 L108.7 795.2 L109.0 795.2 L109.3 795.1 L109.6 795.0 L110.0 794.7 L110.3 794.4 L110.6 794.0 L111.0 793.6 L111.3 793.1 L111.6 792.6 L111.9 792.0 L112.3 791.5 L112.6 791.0 L112.9 790.5 L113.3 790.0 L113.6 789.6 L113.9 789.3 L114.3 789.1 L114.6 788.9 L114.9 788.8 L115.2 788.8 L115.6 788.9 L115.9 789.1 L116.2 789.4 L116.6 789.7 L116.9 790.1 L117.2 790.6 L117.6 791.1 L117.9 791.6 L118.2 792.2 L118.5 792.7 L118.9 793.2 L119.2 793.7 L119.5 794.1 L119.9 794.5 L120.2 794.8 L120.5 795.0 L120.9 795.2 L121.2 795.2 L121.5 795.2 L121.8 795.0 L122.2 794.8 L122.5 794.5 L122.8 794.1 L123.2 793.7 L123.5 793.2 L123.8 792.7 L124.2 792.2 L124.5 791.6 L124.8 791.1 L125.1 790.6 L125.5 790.2 L125.8 789.7 L126.1 789.4 L126.5 789.1 L126.8 788.9 L127.1 788.8 L127.4 788.8 L127.8 788.9 L128.1 789.0 L128.4 789.3 L128.8 789.6 L129.1 790.0 L129.4 790.5 L129.8 790.9 L130.1 791.5 L130.4 792.0 L130.7 792.5 L131.1 793.1 L131.4 793.6 L131.7 794.0 L132.1 794.4 L132.4 794.7 L132.7 795.0 L133.1 795.1 L133.4 795.2 L133.7 795.2 L134.0 795.1 L134.4 794.9 L134.7 794.6 L135.0 794.3 L135.4 793.8 L135.7 793.4 L136.0 792.9 L136.4 792.3 L136.7 791.8 L137.0 791.3 L137.3 790.8 L137.7 790.3 L138.0 789.9" fill="none" stroke="#111" stroke-width="1.25" />
<rect x="37.3" y="788.1" width="21.5" height="8.2" fill="#fff" stroke="#e52a2a" stroke-width="1.8" />
<text x="48.1" y="794.46" font-size="6" text-anchor="middle" fill="#1a1a1a" stroke="#1a1a1a" >site</text>
<rect x="68.1" y="786.6" width="59.6" height="11.2" fill="#fff" stroke="#3aaa44" stroke-width="1.8" rx="5.6"/>
<line x1="97.1" y1="786" x2="97.1" y2="777.8" stroke="#1a1a1a" stroke-width="1.2" />
<path d="M94.9 779.2 L97.1 775.6 L99.3 779.2 Z" fill="#1a1a1a" />
<text x="97.1" y="774.66" font-size="6" text-anchor="middle" fill="#1a1a1a" stroke="#1a1a1a" >HSPA8</text>
<text x="48.6" y="783.56" font-size="5.7" text-anchor="middle" fill="#1a1a1a" stroke="#1a1a1a" >Position:1133-1140</text>
<rect x="21" y="801.5" width="37.9" height="10.2" fill="#25278e" />
<rect x="62.3" y="801.5" width="43.6" height="10.2" fill="#25278e" />
<rect x="21" y="814.8" width="37.9" height="11" fill="#e62727" />
<rect x="62.3" y="814.8" width="43.6" height="11" fill="#e62727" />
<text x="40" y="808.94" font-size="6.8" text-anchor="middle" fill="#fff" stroke="#fff" stroke-width="0">WT-site</text>
<text x="84.1" y="808.94" font-size="6.8" text-anchor="middle" fill="#fff" stroke="#fff" stroke-width="0">CTGAAAAT</text>
<text x="40" y="822.64" font-size="6.8" text-anchor="middle" fill="#fff" stroke="#fff" stroke-width="0">MT-site</text>
<text x="84.1" y="822.64" font-size="6.8" text-anchor="middle" fill="#fff" stroke="#fff" stroke-width="0">AGTCCCCG</text>
<text x="145.74" y="693.77" font-size="14" text-anchor="start" fill="#111" stroke="#111" stroke-width="0">O</text>
<rect x="171.4" y="809.9" width="13.2" height="3.9" fill="#b58d52" />
<line x1="178" y1="809.9" x2="178" y2="809.16" stroke="#b58d52" stroke-width="0.9" />
<line x1="175.5" y1="809.16" x2="180.5" y2="809.16" stroke="#b58d52" stroke-width="0.9" />
<rect x="190.8" y="748.9" width="13.4" height="64.9" fill="#e19394" />
<line x1="197.5" y1="748.9" x2="197.5" y2="739.62" stroke="#e19394" stroke-width="0.9" />
<line x1="195" y1="739.62" x2="200" y2="739.62" stroke="#e19394" stroke-width="0.9" />
<rect x="223.2" y="808.43" width="13.4" height="5.37" fill="#b58d52" />
<line x1="229.9" y1="808.43" x2="229.9" y2="805.99" stroke="#b58d52" stroke-width="0.9" />
<line x1="227.4" y1="805.99" x2="232.4" y2="805.99" stroke="#b58d52" stroke-width="0.9" />
<rect x="242.9" y="772.81" width="13.2" height="40.99" fill="#e19394" />
<line x1="249.5" y1="772.81" x2="249.5" y2="761.1" stroke="#e19394" stroke-width="0.9" />
<line x1="247" y1="761.1" x2="252" y2="761.1" stroke="#e19394" stroke-width="0.9" />
<line x1="165.2" y1="716.5" x2="165.2" y2="813.8" stroke="#111" stroke-width="1.25" />
<line x1="161.2" y1="813.8" x2="165.2" y2="813.8" stroke="#111" stroke-width="1.12" />
<text x="159.8" y="816.21" font-size="7" text-anchor="end" fill="#222" stroke="#222" >0</text>
<line x1="161.2" y1="789.4" x2="165.2" y2="789.4" stroke="#111" stroke-width="1.12" />
<text x="159.8" y="791.81" font-size="7" text-anchor="end" fill="#222" stroke="#222" >5</text>
<line x1="161.2" y1="765" x2="165.2" y2="765" stroke="#111" stroke-width="1.12" />
<text x="159.8" y="767.41" font-size="7" text-anchor="end" fill="#222" stroke="#222" >10</text>
<line x1="161.2" y1="740.6" x2="165.2" y2="740.6" stroke="#111" stroke-width="1.12" />
<text x="159.8" y="743.01" font-size="7" text-anchor="end" fill="#222" stroke="#222" >15</text>
<line x1="161.2" y1="716.2" x2="165.2" y2="716.2" stroke="#111" stroke-width="1.12" />
<text x="159.8" y="718.61" font-size="7" text-anchor="end" fill="#222" stroke="#222" >20</text>
<line x1="165.2" y1="813.8" x2="262.6" y2="813.8" stroke="#111" stroke-width="1.25" />
<line x1="187.1" y1="813.8" x2="187.1" y2="817.8" stroke="#111" stroke-width="1.12" />
<line x1="239.6" y1="813.8" x2="239.6" y2="817.8" stroke="#111" stroke-width="1.12" />
<text x="187.1" y="825.61" font-size="7" text-anchor="middle" fill="#1a1a1a" stroke="#1a1a1a" >MKN-45</text>
<text x="239.6" y="825.61" font-size="7" text-anchor="middle" fill="#1a1a1a" stroke="#1a1a1a" >HGC-27</text>
<text transform="translate(146.2,765) rotate(-90)" x="0" y="2.41" font-size="7" text-anchor="middle" fill="#1a1a1a" stroke="#1a1a1a" >Relative enrichment</text>
<line x1="178.3" y1="736" x2="197.4" y2="736" stroke="#111" stroke-width="1.2" />
<path d="M181.55 727.1L181.55 732.1M179.38 728.35L183.72 730.85M183.72 728.35L179.38 730.85" fill="none" stroke="#111" stroke-width="1.25" />
<path d="M187.85 727.1L187.85 732.1M185.68 728.35L190.02 730.85M190.02 728.35L185.68 730.85" fill="none" stroke="#111" stroke-width="1.25" />
<path d="M194.15 727.1L194.15 732.1M191.98 728.35L196.32 730.85M196.32 728.35L191.98 730.85" fill="none" stroke="#111" stroke-width="1.25" />
<line x1="230.2" y1="757.4" x2="249.5" y2="757.4" stroke="#111" stroke-width="1.2" />
<path d="M236.7 748.4L236.7 753.4M234.53 749.65L238.87 752.15M238.87 749.65L234.53 752.15" fill="none" stroke="#111" stroke-width="1.25" />
<path d="M243 748.4L243 753.4M240.83 749.65L245.17 752.15M245.17 749.65L240.83 752.15" fill="none" stroke="#111" stroke-width="1.25" />
<rect x="171.7" y="703.6" width="11.7" height="4.8" fill="#b58d52" rx="1.6"/>
<text x="188.6" y="708.41" font-size="7" text-anchor="start" fill="#1a1a1a" stroke="#1a1a1a" >IgG</text>
<rect x="171.7" y="716.7" width="11.7" height="4.8" fill="#e19394" rx="1.6"/>
<text x="188.6" y="721.51" font-size="7" text-anchor="start" fill="#1a1a1a" stroke="#1a1a1a" >CNBP</text>
<text x="283.25" y="693.83" font-size="14" text-anchor="start" fill="#111" stroke="#111" stroke-width="0">P</text>
<rect x="302.1" y="812.48" width="9" height="1.22" fill="#b58d52" />
<rect x="314.7" y="812.48" width="9.2" height="1.22" fill="#e19394" />
<rect x="336.2" y="805.17" width="9.2" height="8.53" fill="#b58d52" />
<line x1="340.8" y1="805.17" x2="340.8" y2="804.8" stroke="#b58d52" stroke-width="0.9" />
<line x1="338.3" y1="804.8" x2="343.3" y2="804.8" stroke="#b58d52" stroke-width="0.9" />
<rect x="348.9" y="755.81" width="9.2" height="57.89" fill="#e19394" />
<line x1="353.5" y1="755.81" x2="353.5" y2="752.76" stroke="#e19394" stroke-width="0.9" />
<line x1="351" y1="752.76" x2="356" y2="752.76" stroke="#e19394" stroke-width="0.9" />
<rect x="369.9" y="809.43" width="9.2" height="4.27" fill="#b58d52" />
<line x1="374.5" y1="809.43" x2="374.5" y2="809.07" stroke="#b58d52" stroke-width="0.9" />
<line x1="372" y1="809.07" x2="377" y2="809.07" stroke="#b58d52" stroke-width="0.9" />
<rect x="382.2" y="809.43" width="9.2" height="4.27" fill="#e19394" />
<line x1="386.8" y1="809.43" x2="386.8" y2="809.07" stroke="#e19394" stroke-width="0.9" />
<line x1="384.3" y1="809.07" x2="389.3" y2="809.07" stroke="#e19394" stroke-width="0.9" />
<line x1="298.8" y1="716.2" x2="298.8" y2="813.7" stroke="#111" stroke-width="1.25" />
<line x1="294.8" y1="813.7" x2="298.8" y2="813.7" stroke="#111" stroke-width="1.12" />
<text x="293.4" y="816.11" font-size="7" text-anchor="end" fill="#222" stroke="#222" >0</text>
<line x1="294.8" y1="789.33" x2="298.8" y2="789.33" stroke="#111" stroke-width="1.12" />
<text x="293.4" y="791.73" font-size="7" text-anchor="end" fill="#222" stroke="#222" >20</text>
<line x1="294.8" y1="764.95" x2="298.8" y2="764.95" stroke="#111" stroke-width="1.12" />
<text x="293.4" y="767.36" font-size="7" text-anchor="end" fill="#222" stroke="#222" >40</text>
<line x1="294.8" y1="740.58" x2="298.8" y2="740.58" stroke="#111" stroke-width="1.12" />
<text x="293.4" y="742.98" font-size="7" text-anchor="end" fill="#222" stroke="#222" >60</text>
<line x1="294.8" y1="716.2" x2="298.8" y2="716.2" stroke="#111" stroke-width="1.12" />
<text x="293.4" y="718.61" font-size="7" text-anchor="end" fill="#222" stroke="#222" >80</text>
<line x1="298.8" y1="813.7" x2="396.5" y2="813.7" stroke="#111" stroke-width="1.25" />
<line x1="312.7" y1="813.7" x2="312.7" y2="817.7" stroke="#111" stroke-width="1.12" />
<line x1="347.4" y1="813.7" x2="347.4" y2="817.7" stroke="#111" stroke-width="1.12" />
<line x1="381.2" y1="813.7" x2="381.2" y2="817.7" stroke="#111" stroke-width="1.12" />
<text x="312.7" y="825.41" font-size="7" text-anchor="middle" fill="#1a1a1a" stroke="#1a1a1a" >pGL4.10</text>
<text x="347.4" y="825.41" font-size="7" text-anchor="middle" fill="#1a1a1a" stroke="#1a1a1a" >WT</text>
<text x="381.2" y="825.41" font-size="7" text-anchor="middle" fill="#1a1a1a" stroke="#1a1a1a" >MT</text>
<line x1="319.9" y1="738.3" x2="352.6" y2="738.3" stroke="#111" stroke-width="1.2" />
<path d="M329.95 730.1L329.95 735.1M327.78 731.35L332.12 733.85M332.12 731.35L327.78 733.85" fill="none" stroke="#111" stroke-width="1.25" />
<path d="M336.25 730.1L336.25 735.1M334.08 731.35L338.42 733.85M338.42 731.35L334.08 733.85" fill="none" stroke="#111" stroke-width="1.25" />
<path d="M342.55 730.1L342.55 735.1M340.38 731.35L344.72 733.85M344.72 731.35L340.38 733.85" fill="none" stroke="#111" stroke-width="1.25" />
<line x1="355.2" y1="738.3" x2="387.3" y2="738.3" stroke="#111" stroke-width="1.2" />
<path d="M364.95 730.1L364.95 735.1M362.78 731.35L367.12 733.85M367.12 731.35L362.78 733.85" fill="none" stroke="#111" stroke-width="1.25" />
<path d="M371.25 730.1L371.25 735.1M369.08 731.35L373.42 733.85M373.42 731.35L369.08 733.85" fill="none" stroke="#111" stroke-width="1.25" />
<path d="M377.55 730.1L377.55 735.1M375.38 731.35L379.72 733.85M379.72 731.35L375.38 733.85" fill="none" stroke="#111" stroke-width="1.25" />
<line x1="340.9" y1="749.3" x2="353" y2="749.3" stroke="#111" stroke-width="1.2" />
<path d="M343.8 740.5L343.8 745.5M341.63 741.75L345.97 744.25M345.97 741.75L341.63 744.25" fill="none" stroke="#111" stroke-width="1.25" />
<path d="M350.1 740.5L350.1 745.5M347.93 741.75L352.27 744.25M352.27 741.75L347.93 744.25" fill="none" stroke="#111" stroke-width="1.25" />
<line x1="375.4" y1="805.7" x2="386.9" y2="805.7" stroke="#111" stroke-width="1.2" />
<text x="381.15" y="801.8" font-size="7" text-anchor="middle" fill="#1a1a1a" stroke="#1a1a1a" >ns</text>
<text x="347.9" y="692.61" font-size="7" text-anchor="middle" fill="#1a1a1a" stroke="#1a1a1a" >MKN-45</text>
<text transform="translate(282.6,764.5) rotate(-90)" x="0" y="2.41" font-size="7" text-anchor="middle" fill="#1a1a1a" stroke="#1a1a1a" >Relative luciferase activity</text>
<rect x="304.9" y="704.6" width="11.5" height="4.8" fill="#b58d52" rx="1.6"/>
<text x="321.9" y="709.41" font-size="7" text-anchor="start" fill="#1a1a1a" stroke="#1a1a1a" >oe-NC</text>
<rect x="304.9" y="717.9" width="11.5" height="4.8" fill="#e19394" rx="1.6"/>
<text x="321.9" y="722.71" font-size="7" text-anchor="start" fill="#1a1a1a" stroke="#1a1a1a" >oe-CNBP</text>
<rect x="433.7" y="812.35" width="9.2" height="1.95" fill="#b58d52" />
<rect x="446.6" y="811.86" width="9" height="2.44" fill="#e19394" />
<rect x="467.4" y="799.19" width="9.2" height="15.11" fill="#b58d52" />
<line x1="472" y1="799.19" x2="472" y2="795.04" stroke="#b58d52" stroke-width="0.9" />
<line x1="469.5" y1="795.04" x2="474.5" y2="795.04" stroke="#b58d52" stroke-width="0.9" />
<rect x="480.1" y="753.36" width="9.2" height="60.94" fill="#e19394" />
<line x1="484.7" y1="753.36" x2="484.7" y2="750.19" stroke="#e19394" stroke-width="0.9" />
<line x1="482.2" y1="750.19" x2="487.2" y2="750.19" stroke="#e19394" stroke-width="0.9" />
<rect x="501.2" y="808.21" width="9.2" height="6.09" fill="#b58d52" />
<line x1="505.8" y1="808.21" x2="505.8" y2="807.72" stroke="#b58d52" stroke-width="0.9" />
<line x1="503.3" y1="807.72" x2="508.3" y2="807.72" stroke="#b58d52" stroke-width="0.9" />
<rect x="513.8" y="808.21" width="9.2" height="6.09" fill="#e19394" />
<line x1="518.4" y1="808.21" x2="518.4" y2="807.96" stroke="#e19394" stroke-width="0.9" />
<line x1="515.9" y1="807.96" x2="520.9" y2="807.96" stroke="#e19394" stroke-width="0.9" />
<line x1="430.2" y1="716.8" x2="430.2" y2="814.3" stroke="#111" stroke-width="1.25" />
<line x1="426.2" y1="814.3" x2="430.2" y2="814.3" stroke="#111" stroke-width="1.12" />
<text x="424.8" y="816.71" font-size="7" text-anchor="end" fill="#222" stroke="#222" >0</text>
<line x1="426.2" y1="789.92" x2="430.2" y2="789.92" stroke="#111" stroke-width="1.12" />
<text x="424.8" y="792.33" font-size="7" text-anchor="end" fill="#222" stroke="#222" >10</text>
<line x1="426.2" y1="765.55" x2="430.2" y2="765.55" stroke="#111" stroke-width="1.12" />
<text x="424.8" y="767.96" font-size="7" text-anchor="end" fill="#222" stroke="#222" >20</text>
<line x1="426.2" y1="741.17" x2="430.2" y2="741.17" stroke="#111" stroke-width="1.12" />
<text x="424.8" y="743.58" font-size="7" text-anchor="end" fill="#222" stroke="#222" >30</text>
<line x1="426.2" y1="716.8" x2="430.2" y2="716.8" stroke="#111" stroke-width="1.12" />
<text x="424.8" y="719.21" font-size="7" text-anchor="end" fill="#222" stroke="#222" >40</text>
<line x1="430.2" y1="814.3" x2="527.7" y2="814.3" stroke="#111" stroke-width="1.25" />
<line x1="444.6" y1="814.3" x2="444.6" y2="818.3" stroke="#111" stroke-width="1.12" />
<line x1="478.7" y1="814.3" x2="478.7" y2="818.3" stroke="#111" stroke-width="1.12" />
<line x1="512.4" y1="814.3" x2="512.4" y2="818.3" stroke="#111" stroke-width="1.12" />
<text x="444.6" y="825.41" font-size="7" text-anchor="middle" fill="#1a1a1a" stroke="#1a1a1a" >pGL4.10</text>
<text x="478.7" y="825.41" font-size="7" text-anchor="middle" fill="#1a1a1a" stroke="#1a1a1a" >WT</text>
<text x="512.4" y="825.41" font-size="7" text-anchor="middle" fill="#1a1a1a" stroke="#1a1a1a" >MT</text>
<line x1="452.1" y1="735.2" x2="484.4" y2="735.2" stroke="#111" stroke-width="1.2" />
<path d="M461.95 727.4L461.95 732.4M459.78 728.65L464.12 731.15M464.12 728.65L459.78 731.15" fill="none" stroke="#111" stroke-width="1.25" />
<path d="M468.25 727.4L468.25 732.4M466.08 728.65L470.42 731.15M470.42 728.65L466.08 731.15" fill="none" stroke="#111" stroke-width="1.25" />
<path d="M474.55 727.4L474.55 732.4M472.38 728.65L476.72 731.15M476.72 728.65L472.38 731.15" fill="none" stroke="#111" stroke-width="1.25" />
<line x1="487.3" y1="735.2" x2="519.6" y2="735.2" stroke="#111" stroke-width="1.2" />
<path d="M497.15 727.4L497.15 732.4M494.98 728.65L499.32 731.15M499.32 728.65L494.98 731.15" fill="none" stroke="#111" stroke-width="1.25" />
<path d="M503.45 727.4L503.45 732.4M501.28 728.65L505.62 731.15M505.62 728.65L501.28 731.15" fill="none" stroke="#111" stroke-width="1.25" />
<path d="M509.75 727.4L509.75 732.4M507.58 728.65L511.92 731.15M511.92 728.65L507.58 731.15" fill="none" stroke="#111" stroke-width="1.25" />
<line x1="472.6" y1="746.9" x2="484.4" y2="746.9" stroke="#111" stroke-width="1.2" />
<path d="M475.35 737.8L475.35 742.8M473.18 739.05L477.52 741.55M477.52 739.05L473.18 741.55" fill="none" stroke="#111" stroke-width="1.25" />
<path d="M481.65 737.8L481.65 742.8M479.48 739.05L483.82 741.55M483.82 739.05L479.48 741.55" fill="none" stroke="#111" stroke-width="1.25" />
<line x1="505.9" y1="804.5" x2="518.5" y2="804.5" stroke="#111" stroke-width="1.2" />
<text x="512.2" y="800.2" font-size="7" text-anchor="middle" fill="#1a1a1a" stroke="#1a1a1a" >ns</text>
<text x="479.7" y="692.61" font-size="7" text-anchor="middle" fill="#1a1a1a" stroke="#1a1a1a" >HGC-27</text>
<text transform="translate(410.4,764.5) rotate(-90)" x="0" y="2.41" font-size="7" text-anchor="middle" fill="#1a1a1a" stroke="#1a1a1a" >Relative luciferase activity</text>
<rect x="434.1" y="704.6" width="11.5" height="4.8" fill="#b58d52" rx="1.6"/>
<text x="451.1" y="709.41" font-size="7" text-anchor="start" fill="#1a1a1a" stroke="#1a1a1a" >oe-NC</text>
<rect x="434.1" y="717.9" width="11.5" height="4.8" fill="#e19394" rx="1.6"/>
<text x="451.1" y="722.71" font-size="7" text-anchor="start" fill="#1a1a1a" stroke="#1a1a1a" >oe-CNBP</text>
<text x="540.74" y="693.77" font-size="14" text-anchor="start" fill="#111" stroke="#111" stroke-width="0">Q</text>
<line x1="559" y1="712.5" x2="559" y2="811.2" stroke="#111" stroke-width="1.25" />
<line x1="555" y1="811.2" x2="559" y2="811.2" stroke="#111" stroke-width="1.12" />
<text x="553.6" y="813.61" font-size="7" text-anchor="end" fill="#222" stroke="#222" >0</text>
<line x1="555" y1="778.3" x2="559" y2="778.3" stroke="#111" stroke-width="1.12" />
<text x="553.6" y="780.71" font-size="7" text-anchor="end" fill="#222" stroke="#222" >5</text>
<line x1="555" y1="745.4" x2="559" y2="745.4" stroke="#111" stroke-width="1.12" />
<text x="553.6" y="747.81" font-size="7" text-anchor="end" fill="#222" stroke="#222" >10</text>
<line x1="555" y1="712.5" x2="559" y2="712.5" stroke="#111" stroke-width="1.12" />
<text x="553.6" y="714.91" font-size="7" text-anchor="end" fill="#222" stroke="#222" >15</text>
<line x1="559" y1="811.2" x2="659.4" y2="811.2" stroke="#111" stroke-width="1.25" />
<line x1="559" y1="811.2" x2="559" y2="815.2" stroke="#111" stroke-width="1.12" />
<line x1="582.98" y1="811.2" x2="582.98" y2="815.2" stroke="#111" stroke-width="1.12" />
<line x1="606.96" y1="811.2" x2="606.96" y2="815.2" stroke="#111" stroke-width="1.12" />
<line x1="630.94" y1="811.2" x2="630.94" y2="815.2" stroke="#111" stroke-width="1.12" />
<line x1="654.92" y1="811.2" x2="654.92" y2="815.2" stroke="#111" stroke-width="1.12" />
<text x="559" y="823.51" font-size="7" text-anchor="middle" fill="#1a1a1a" stroke="#1a1a1a" >0</text>
<text x="582.98" y="823.51" font-size="7" text-anchor="middle" fill="#1a1a1a" stroke="#1a1a1a" >24</text>
<text x="606.96" y="823.51" font-size="7" text-anchor="middle" fill="#1a1a1a" stroke="#1a1a1a" >48</text>
<text x="630.94" y="823.51" font-size="7" text-anchor="middle" fill="#1a1a1a" stroke="#1a1a1a" >72</text>
<text x="654.92" y="823.51" font-size="7" text-anchor="middle" fill="#1a1a1a" stroke="#1a1a1a" >96</text>
<text x="606.96" y="834.81" font-size="7" text-anchor="middle" fill="#1a1a1a" stroke="#1a1a1a" >Hours(h)</text>
<text transform="translate(539.5,761.8) rotate(-90)" x="0" y="2.41" font-size="7" text-anchor="middle" fill="#1a1a1a" stroke="#1a1a1a" >Relative Proliferation</text>
<text x="609.7" y="703.11" font-size="7" text-anchor="middle" fill="#1a1a1a" stroke="#1a1a1a" >MKN-45</text>
<polyline points="559,804.62 582.98,800.67 606.96,791.46 630.94,770.4 654.92,743.43" fill="none" stroke="#e89a9a" stroke-width="1.0"/>
<line x1="630.94" y1="765.8" x2="630.94" y2="775.01" stroke="#e89a9a" stroke-width="0.8" />
<line x1="629.34" y1="765.8" x2="632.54" y2="765.8" stroke="#e89a9a" stroke-width="0.8" />
<line x1="629.34" y1="775.01" x2="632.54" y2="775.01" stroke="#e89a9a" stroke-width="0.8" />
<rect x="557.1" y="802.72" width="3.8" height="3.8" fill="#e89a9a" />
<rect x="581.08" y="798.77" width="3.8" height="3.8" fill="#e89a9a" />
<rect x="605.06" y="789.56" width="3.8" height="3.8" fill="#e89a9a" />
<rect x="629.04" y="768.5" width="3.8" height="3.8" fill="#e89a9a" />
<rect x="653.02" y="741.53" width="3.8" height="3.8" fill="#e89a9a" />
<polyline points="559,804.62 582.98,800.67 606.96,794.09 630.94,780.27 654.92,764.48" fill="none" stroke="#3aa866" stroke-width="1.0"/>
<line x1="654.92" y1="761.52" x2="654.92" y2="767.44" stroke="#3aa866" stroke-width="0.8" />
<line x1="653.32" y1="761.52" x2="656.52" y2="761.52" stroke="#3aa866" stroke-width="0.8" />
<line x1="653.32" y1="767.44" x2="656.52" y2="767.44" stroke="#3aa866" stroke-width="0.8" />
<path d="M559 802.05L561.47 806.42L556.53 806.42Z" fill="#3aa866" />
<path d="M582.98 798.11L585.45 802.48L580.51 802.48Z" fill="#3aa866" />
<path d="M606.96 791.53L609.43 795.9L604.49 795.9Z" fill="#3aa866" />
<path d="M630.94 777.71L633.41 782.08L628.47 782.08Z" fill="#3aa866" />
<path d="M654.92 761.92L657.39 766.29L652.45 766.29Z" fill="#3aa866" />
<polyline points="559,804.62 582.98,800.67 606.96,793.43 630.94,784.22 654.92,767.11" fill="none" stroke="#b8914f" stroke-width="1.0"/>
<circle cx="559" cy="804.62" r="1.9" fill="#b8914f" />
<circle cx="582.98" cy="800.67" r="1.9" fill="#b8914f" />
<circle cx="606.96" cy="793.43" r="1.9" fill="#b8914f" />
<circle cx="630.94" cy="784.22" r="1.9" fill="#b8914f" />
<circle cx="654.92" cy="767.11" r="1.9" fill="#b8914f" />
<line x1="567.3" y1="713.9" x2="578.7" y2="713.9" stroke="#b8914f" stroke-width="1" />
<circle cx="573" cy="713.9" r="1.9" fill="#b8914f" />
<text x="584.3" y="716.31" font-size="7" text-anchor="start" fill="#1a1a1a" stroke="#1a1a1a" >OE-NC</text>
<line x1="567.3" y1="726.8" x2="578.7" y2="726.8" stroke="#e89a9a" stroke-width="1" />
<rect x="571.1" y="724.9" width="3.8" height="3.8" fill="#e89a9a" />
<text x="584.3" y="729.21" font-size="7" text-anchor="start" fill="#1a1a1a" stroke="#1a1a1a" >OE-CNBP</text>
<line x1="567.3" y1="739.7" x2="578.7" y2="739.7" stroke="#3aa866" stroke-width="1" />
<path d="M573 737.13L575.47 741.5L570.53 741.5Z" fill="#3aa866" />
<text x="584.3" y="742.11" font-size="7" text-anchor="start" fill="#1a1a1a" stroke="#1a1a1a" >OE-CNBP+si-HSPA8</text>
<line x1="659" y1="742.6" x2="659" y2="764.5" stroke="#222" stroke-width="1.2" />
<path d="M663.3 747.35L668.3 747.35M664.55 745.18L667.05 749.52M667.05 745.18L664.55 749.52" fill="none" stroke="#111" stroke-width="1.25" />
<path d="M663.3 753.55L668.3 753.55M664.55 751.38L667.05 755.72M667.05 751.38L664.55 755.72" fill="none" stroke="#111" stroke-width="1.25" />
<path d="M663.3 759.75L668.3 759.75M664.55 757.58L667.05 761.92M667.05 757.58L664.55 761.92" fill="none" stroke="#111" stroke-width="1.25" />
<line x1="670.8" y1="742.6" x2="670.8" y2="766.8" stroke="#222" stroke-width="1.2" />
<path d="M675 748.5L680 748.5M676.25 746.33L678.75 750.67M678.75 746.33L676.25 750.67" fill="none" stroke="#111" stroke-width="1.25" />
<path d="M675 754.7L680 754.7M676.25 752.53L678.75 756.87M678.75 752.53L676.25 756.87" fill="none" stroke="#111" stroke-width="1.25" />
<path d="M675 760.9L680 760.9M676.25 758.73L678.75 763.07M678.75 758.73L676.25 763.07" fill="none" stroke="#111" stroke-width="1.25" />
<text x="4.85" y="860.83" font-size="14" text-anchor="start" fill="#111" stroke="#111" stroke-width="0">R</text>
<line x1="36.1" y1="869.1" x2="36.1" y2="968.1" stroke="#111" stroke-width="1.25" />
<line x1="32.1" y1="968.1" x2="36.1" y2="968.1" stroke="#111" stroke-width="1.12" />
<text x="30.7" y="970.51" font-size="7" text-anchor="end" fill="#222" stroke="#222" >0</text>
<line x1="32.1" y1="935.1" x2="36.1" y2="935.1" stroke="#111" stroke-width="1.12" />
<text x="30.7" y="937.51" font-size="7" text-anchor="end" fill="#222" stroke="#222" >5</text>
<line x1="32.1" y1="902.1" x2="36.1" y2="902.1" stroke="#111" stroke-width="1.12" />
<text x="30.7" y="904.51" font-size="7" text-anchor="end" fill="#222" stroke="#222" >10</text>
<line x1="32.1" y1="869.1" x2="36.1" y2="869.1" stroke="#111" stroke-width="1.12" />
<text x="30.7" y="871.51" font-size="7" text-anchor="end" fill="#222" stroke="#222" >15</text>
<line x1="36.1" y1="968.1" x2="135.3" y2="968.1" stroke="#111" stroke-width="1.25" />
<line x1="36.8" y1="968.1" x2="36.8" y2="972.1" stroke="#111" stroke-width="1.12" />
<line x1="60.45" y1="968.1" x2="60.45" y2="972.1" stroke="#111" stroke-width="1.12" />
<line x1="84.1" y1="968.1" x2="84.1" y2="972.1" stroke="#111" stroke-width="1.12" />
<line x1="107.75" y1="968.1" x2="107.75" y2="972.1" stroke="#111" stroke-width="1.12" />
<line x1="131.4" y1="968.1" x2="131.4" y2="972.1" stroke="#111" stroke-width="1.12" />
<text x="36.8" y="980.41" font-size="7" text-anchor="middle" fill="#1a1a1a" stroke="#1a1a1a" >0</text>
<text x="60.45" y="980.41" font-size="7" text-anchor="middle" fill="#1a1a1a" stroke="#1a1a1a" >24</text>
<text x="84.1" y="980.41" font-size="7" text-anchor="middle" fill="#1a1a1a" stroke="#1a1a1a" >48</text>
<text x="107.75" y="980.41" font-size="7" text-anchor="middle" fill="#1a1a1a" stroke="#1a1a1a" >72</text>
<text x="131.4" y="980.41" font-size="7" text-anchor="middle" fill="#1a1a1a" stroke="#1a1a1a" >96</text>
<text x="84.1" y="991.71" font-size="7" text-anchor="middle" fill="#1a1a1a" stroke="#1a1a1a" >Hours(h)</text>
<text transform="translate(17.3,918.8) rotate(-90)" x="0" y="2.41" font-size="7" text-anchor="middle" fill="#1a1a1a" stroke="#1a1a1a" >Relative Proliferation</text>
<text x="86.5" y="859.51" font-size="7" text-anchor="middle" fill="#1a1a1a" stroke="#1a1a1a" >HGC-27</text>
<polyline points="36.8,961.5 60.45,956.88 84.1,950.28 107.75,927.84 131.4,904.74" fill="none" stroke="#e89a9a" stroke-width="1.0"/>
<line x1="131.4" y1="901.77" x2="131.4" y2="907.71" stroke="#e89a9a" stroke-width="0.8" />
<line x1="129.8" y1="901.77" x2="133" y2="901.77" stroke="#e89a9a" stroke-width="0.8" />
<line x1="129.8" y1="907.71" x2="133" y2="907.71" stroke="#e89a9a" stroke-width="0.8" />
<rect x="34.9" y="959.6" width="3.8" height="3.8" fill="#e89a9a" />
<rect x="58.55" y="954.98" width="3.8" height="3.8" fill="#e89a9a" />
<rect x="82.2" y="948.38" width="3.8" height="3.8" fill="#e89a9a" />
<rect x="105.85" y="925.94" width="3.8" height="3.8" fill="#e89a9a" />
<rect x="129.5" y="902.84" width="3.8" height="3.8" fill="#e89a9a" />
<polyline points="36.8,961.5 60.45,956.88 84.1,951.6 107.75,933.78 131.4,922.56" fill="none" stroke="#3aa866" stroke-width="1.0"/>
<line x1="107.75" y1="930.48" x2="107.75" y2="937.08" stroke="#3aa866" stroke-width="0.8" />
<line x1="106.15" y1="930.48" x2="109.35" y2="930.48" stroke="#3aa866" stroke-width="0.8" />
<line x1="106.15" y1="937.08" x2="109.35" y2="937.08" stroke="#3aa866" stroke-width="0.8" />
<line x1="131.4" y1="919.59" x2="131.4" y2="925.53" stroke="#3aa866" stroke-width="0.8" />
<line x1="129.8" y1="919.59" x2="133" y2="919.59" stroke="#3aa866" stroke-width="0.8" />
<line x1="129.8" y1="925.53" x2="133" y2="925.53" stroke="#3aa866" stroke-width="0.8" />
<path d="M36.8 958.93L39.27 963.3L34.33 963.3Z" fill="#3aa866" />
<path d="M60.45 954.31L62.92 958.68L57.98 958.68Z" fill="#3aa866" />
<path d="M84.1 949.03L86.57 953.4L81.63 953.4Z" fill="#3aa866" />
<path d="M107.75 931.21L110.22 935.58L105.28 935.58Z" fill="#3aa866" />
<path d="M131.4 920L133.87 924.37L128.93 924.37Z" fill="#3aa866" />
<polyline points="36.8,961.5 60.45,956.88 84.1,950.94 107.75,934.44 131.4,926.52" fill="none" stroke="#b8914f" stroke-width="1.0"/>
<line x1="107.75" y1="932.46" x2="107.75" y2="936.42" stroke="#b8914f" stroke-width="0.8" />
<line x1="106.15" y1="932.46" x2="109.35" y2="932.46" stroke="#b8914f" stroke-width="0.8" />
<line x1="106.15" y1="936.42" x2="109.35" y2="936.42" stroke="#b8914f" stroke-width="0.8" />
<circle cx="36.8" cy="961.5" r="1.9" fill="#b8914f" />
<circle cx="60.45" cy="956.88" r="1.9" fill="#b8914f" />
<circle cx="84.1" cy="950.94" r="1.9" fill="#b8914f" />
<circle cx="107.75" cy="934.44" r="1.9" fill="#b8914f" />
<circle cx="131.4" cy="926.52" r="1.9" fill="#b8914f" />
<line x1="44.9" y1="874.4" x2="54.7" y2="874.4" stroke="#b8914f" stroke-width="1" />
<circle cx="49.8" cy="874.4" r="1.9" fill="#b8914f" />
<text x="60.9" y="876.81" font-size="7" text-anchor="start" fill="#1a1a1a" stroke="#1a1a1a" >OE-NC</text>
<line x1="44.9" y1="887.1" x2="54.7" y2="887.1" stroke="#e89a9a" stroke-width="1" />
<rect x="47.9" y="885.2" width="3.8" height="3.8" fill="#e89a9a" />
<text x="60.9" y="889.51" font-size="7" text-anchor="start" fill="#1a1a1a" stroke="#1a1a1a" >OE-CNBP</text>
<line x1="44.9" y1="901.3" x2="54.7" y2="901.3" stroke="#3aa866" stroke-width="1" />
<path d="M49.8 898.73L52.27 903.1L47.33 903.1Z" fill="#3aa866" />
<text x="60.9" y="903.71" font-size="7" text-anchor="start" fill="#1a1a1a" stroke="#1a1a1a" >OE-CNBP+si-HSPA8</text>
<line x1="136.2" y1="905.3" x2="136.2" y2="923.2" stroke="#222" stroke-width="1.2" />
<path d="M138.7 908.05L143.7 908.05M139.95 905.88L142.45 910.22M142.45 905.88L139.95 910.22" fill="none" stroke="#111" stroke-width="1.25" />
<path d="M138.7 914.25L143.7 914.25M139.95 912.08L142.45 916.42M142.45 912.08L139.95 916.42" fill="none" stroke="#111" stroke-width="1.25" />
<path d="M138.7 920.45L143.7 920.45M139.95 918.28L142.45 922.62M142.45 918.28L139.95 922.62" fill="none" stroke="#111" stroke-width="1.25" />
<line x1="146.3" y1="903.5" x2="146.3" y2="927.1" stroke="#222" stroke-width="1.2" />
<path d="M149 909.1L154 909.1M150.25 906.93L152.75 911.27M152.75 906.93L150.25 911.27" fill="none" stroke="#111" stroke-width="1.25" />
<path d="M149 915.3L154 915.3M150.25 913.13L152.75 917.47M152.75 913.13L150.25 917.47" fill="none" stroke="#111" stroke-width="1.25" />
<path d="M149 921.5L154 921.5M150.25 919.33L152.75 923.67M152.75 919.33L150.25 923.67" fill="none" stroke="#111" stroke-width="1.25" />
<text x="170.66" y="860.77" font-size="14" text-anchor="start" fill="#111" stroke="#111" stroke-width="0">S</text>
<text x="226.2" y="867.91" font-size="7" text-anchor="middle" fill="#1a1a1a" stroke="#1a1a1a" >OE-NC</text>
<text x="299.2" y="867.91" font-size="7" text-anchor="middle" fill="#1a1a1a" stroke="#1a1a1a" >OE-CNBP</text>
<text x="371.5" y="867.91" font-size="7" text-anchor="middle" fill="#1a1a1a" stroke="#1a1a1a" >OE-CNBP+si-HSPA8</text>
<text transform="translate(180.4,898) rotate(-90)" x="0" y="2.41" font-size="7" text-anchor="middle" fill="#1a1a1a" stroke="#1a1a1a" >MKN-45</text>
<text transform="translate(180.4,953.3) rotate(-90)" x="0" y="2.41" font-size="7" text-anchor="middle" fill="#1a1a1a" stroke="#1a1a1a" >HGC-27</text>
<defs><filter id="cv00" x="0" y="0" width="1" height="1" color-interpolation-filters="sRGB"><feTurbulence type="fractalNoise" baseFrequency="0.7" numOctaves="2" seed="11" result="n1"/><feTurbulence type="fractalNoise" baseFrequency="0.08" numOctaves="1" seed="18" result="n2"/><feComposite in="n1" in2="n2" operator="arithmetic" k1="0" k2="1" k3="0.35" k4="-0.175" result="n"/><feColorMatrix in="n" type="matrix" values="0 0 0 0 0.42 0 0 0 0 0.36 0 0 0 0 0.69 1 0 0 0 0" result="a"/><feComponentTransfer in="a"><feFuncA type="linear" slope="7" intercept="-1.887"/></feComponentTransfer></filter><filter id="cv01" x="0" y="0" width="1" height="1" color-interpolation-filters="sRGB"><feTurbulence type="fractalNoise" baseFrequency="0.7" numOctaves="2" seed="12" result="n1"/><feTurbulence type="fractalNoise" baseFrequency="0.08" numOctaves="1" seed="19" result="n2"/><feComposite in="n1" in2="n2" operator="arithmetic" k1="0" k2="1" k3="0.25" k4="-0.125" result="n"/><feColorMatrix in="n" type="matrix" values="0 0 0 0 0.42 0 0 0 0 0.36 0 0 0 0 0.69 1 0 0 0 0" result="a"/><feComponentTransfer in="a"><feFuncA type="linear" slope="7" intercept="-1.971"/></feComponentTransfer></filter><filter id="cv02" x="0" y="0" width="1" height="1" color-interpolation-filters="sRGB"><feTurbulence type="fractalNoise" baseFrequency="0.7" numOctaves="2" seed="13" result="n1"/><feTurbulence type="fractalNoise" baseFrequency="0.06" numOctaves="1" seed="20" result="n2"/><feComposite in="n1" in2="n2" operator="arithmetic" k1="0" k2="1" k3="0.45" k4="-0.225" result="n"/><feColorMatrix in="n" type="matrix" values="0 0 0 0 0.42 0 0 0 0 0.36 0 0 0 0 0.69 1 0 0 0 0" result="a"/><feComponentTransfer in="a"><feFuncA type="linear" slope="7" intercept="-1.411"/></feComponentTransfer></filter><filter id="cv10" x="0" y="0" width="1" height="1" color-interpolation-filters="sRGB"><feTurbulence type="fractalNoise" baseFrequency="0.75" numOctaves="2" seed="21" result="n1"/><feTurbulence type="fractalNoise" baseFrequency="0.08" numOctaves="1" seed="28" result="n2"/><feComposite in="n1" in2="n2" operator="arithmetic" k1="0" k2="1" k3="0.3" k4="-0.15" result="n"/><feColorMatrix in="n" type="matrix" values="0 0 0 0 0.49 0 0 0 0 0.45 0 0 0 0 0.76 1 0 0 0 0" result="a"/><feComponentTransfer in="a"><feFuncA type="linear" slope="7" intercept="-2.622"/></feComponentTransfer></filter><filter id="cv11" x="0" y="0" width="1" height="1" color-interpolation-filters="sRGB"><feTurbulence type="fractalNoise" baseFrequency="0.75" numOctaves="2" seed="22" result="n1"/><feTurbulence type="fractalNoise" baseFrequency="0.08" numOctaves="1" seed="29" result="n2"/><feComposite in="n1" in2="n2" operator="arithmetic" k1="0" k2="1" k3="0.3" k4="-0.15" result="n"/><feColorMatrix in="n" type="matrix" values="0 0 0 0 0.49 0 0 0 0 0.45 0 0 0 0 0.76 1 0 0 0 0" result="a"/><feComponentTransfer in="a"><feFuncA type="linear" slope="7" intercept="-2.349"/></feComponentTransfer></filter><filter id="cv12" x="0" y="0" width="1" height="1" color-interpolation-filters="sRGB"><feTurbulence type="fractalNoise" baseFrequency="0.75" numOctaves="2" seed="23" result="n1"/><feTurbulence type="fractalNoise" baseFrequency="0.08" numOctaves="1" seed="30" result="n2"/><feComposite in="n1" in2="n2" operator="arithmetic" k1="0" k2="1" k3="0.3" k4="-0.15" result="n"/><feColorMatrix in="n" type="matrix" values="0 0 0 0 0.49 0 0 0 0 0.45 0 0 0 0 0.76 1 0 0 0 0" result="a"/><feComponentTransfer in="a"><feFuncA type="linear" slope="7" intercept="-2.461"/></feComponentTransfer></filter></defs>
<rect x="193.2" y="873.1" width="65.9" height="48.6" fill="#bdbdc2" />
<rect x="193.2" y="873.1" width="65.9" height="48.6" fill="#000" filter="url(#cv00)"/>
<rect x="249.1" y="914.7" width="8" height="4.5" fill="#ddd" />
<text x="253.1" y="917.16" font-size="2.2" text-anchor="middle" fill="#222" stroke="#222"  stroke-width="0">100μm</text>
<line x1="251.1" y1="918.4" x2="255.1" y2="918.4" stroke="#111" stroke-width="0.6" />
<rect x="266.3" y="873.1" width="65.7" height="48.6" fill="#bdbdc2" />
<rect x="266.3" y="873.1" width="65.7" height="48.6" fill="#000" filter="url(#cv01)"/>
<rect x="322" y="914.7" width="8" height="4.5" fill="#ddd" />
<text x="326" y="917.16" font-size="2.2" text-anchor="middle" fill="#222" stroke="#222"  stroke-width="0">100μm</text>
<line x1="324" y1="918.4" x2="328" y2="918.4" stroke="#111" stroke-width="0.6" />
<rect x="338.5" y="873.1" width="66" height="48.6" fill="#bdbdc2" />
<rect x="338.5" y="873.1" width="66" height="48.6" fill="#000" filter="url(#cv02)"/>
<rect x="394.5" y="914.7" width="8" height="4.5" fill="#ddd" />
<text x="398.5" y="917.16" font-size="2.2" text-anchor="middle" fill="#222" stroke="#222"  stroke-width="0">100μm</text>
<line x1="396.5" y1="918.4" x2="400.5" y2="918.4" stroke="#111" stroke-width="0.6" />
<rect x="193.2" y="928.4" width="65.9" height="49.9" fill="#f5f4f0" />
<rect x="193.2" y="928.4" width="65.9" height="49.9" fill="#000" filter="url(#cv10)"/>
<rect x="249.1" y="971.3" width="8" height="4.5" fill="#fff" />
<text x="253.1" y="973.76" font-size="2.2" text-anchor="middle" fill="#222" stroke="#222"  stroke-width="0">100μm</text>
<line x1="251.1" y1="975" x2="255.1" y2="975" stroke="#111" stroke-width="0.6" />
<rect x="266.3" y="928.4" width="65.7" height="49.9" fill="#f5f4f0" />
<rect x="266.3" y="928.4" width="65.7" height="49.9" fill="#000" filter="url(#cv11)"/>
<rect x="322" y="971.3" width="8" height="4.5" fill="#fff" />
<text x="326" y="973.76" font-size="2.2" text-anchor="middle" fill="#222" stroke="#222"  stroke-width="0">100μm</text>
<line x1="324" y1="975" x2="328" y2="975" stroke="#111" stroke-width="0.6" />
<rect x="338.5" y="928.4" width="66" height="49.9" fill="#f5f4f0" />
<rect x="338.5" y="928.4" width="66" height="49.9" fill="#000" filter="url(#cv12)"/>
<rect x="394.5" y="971.3" width="8" height="4.5" fill="#fff" />
<text x="398.5" y="973.76" font-size="2.2" text-anchor="middle" fill="#222" stroke="#222"  stroke-width="0">100μm</text>
<line x1="396.5" y1="975" x2="400.5" y2="975" stroke="#111" stroke-width="0.6" />
<rect x="463.2" y="920.42" width="16.9" height="48.28" fill="#b58d52" />
<line x1="471.65" y1="920.42" x2="471.65" y2="919.43" stroke="#b58d52" stroke-width="0.9" />
<line x1="468.65" y1="919.43" x2="474.65" y2="919.43" stroke="#b58d52" stroke-width="0.9" />
<rect x="487.1" y="890.66" width="17.1" height="78.04" fill="#e19394" />
<line x1="495.65" y1="890.66" x2="495.65" y2="886.69" stroke="#e19394" stroke-width="0.9" />
<line x1="492.65" y1="886.69" x2="498.65" y2="886.69" stroke="#e19394" stroke-width="0.9" />
<rect x="511.2" y="912.49" width="17" height="56.21" fill="#429b65" />
<line x1="519.7" y1="912.49" x2="519.7" y2="909.51" stroke="#429b65" stroke-width="0.9" />
<line x1="516.7" y1="909.51" x2="522.7" y2="909.51" stroke="#429b65" stroke-width="0.9" />
<line x1="456.4" y1="869.5" x2="456.4" y2="968.7" stroke="#111" stroke-width="1.25" />
<line x1="452.4" y1="968.7" x2="456.4" y2="968.7" stroke="#111" stroke-width="1.12" />
<text x="451" y="971.11" font-size="7" text-anchor="end" fill="#222" stroke="#222" >0</text>
<line x1="452.4" y1="935.63" x2="456.4" y2="935.63" stroke="#111" stroke-width="1.12" />
<text x="451" y="938.04" font-size="7" text-anchor="end" fill="#222" stroke="#222" >1000</text>
<line x1="452.4" y1="902.57" x2="456.4" y2="902.57" stroke="#111" stroke-width="1.12" />
<text x="451" y="904.97" font-size="7" text-anchor="end" fill="#222" stroke="#222" >2000</text>
<line x1="452.4" y1="869.5" x2="456.4" y2="869.5" stroke="#111" stroke-width="1.12" />
<text x="451" y="871.91" font-size="7" text-anchor="end" fill="#222" stroke="#222" >3000</text>
<line x1="456.4" y1="968.7" x2="535.9" y2="968.7" stroke="#111" stroke-width="1.25" />
<line x1="471.65" y1="968.7" x2="471.65" y2="972.7" stroke="#111" stroke-width="1.12" />
<line x1="495.65" y1="968.7" x2="495.65" y2="972.7" stroke="#111" stroke-width="1.12" />
<line x1="519.7" y1="968.7" x2="519.7" y2="972.7" stroke="#111" stroke-width="1.12" />
<line x1="466.5" y1="878.3" x2="495.4" y2="878.3" stroke="#111" stroke-width="1.2" />
<path d="M474.65 869.9L474.65 874.9M472.48 871.15L476.82 873.65M476.82 871.15L472.48 873.65" fill="none" stroke="#111" stroke-width="1.25" />
<path d="M480.95 869.9L480.95 874.9M478.78 871.15L483.12 873.65M483.12 871.15L478.78 873.65" fill="none" stroke="#111" stroke-width="1.25" />
<path d="M487.25 869.9L487.25 874.9M485.08 871.15L489.42 873.65M489.42 871.15L485.08 873.65" fill="none" stroke="#111" stroke-width="1.25" />
<line x1="495.4" y1="883.3" x2="525.4" y2="883.3" stroke="#111" stroke-width="1.2" />
<path d="M507.25 874.7L507.25 879.7M505.08 875.95L509.42 878.45M509.42 875.95L505.08 878.45" fill="none" stroke="#111" stroke-width="1.25" />
<path d="M513.55 874.7L513.55 879.7M511.38 875.95L515.72 878.45M515.72 875.95L511.38 878.45" fill="none" stroke="#111" stroke-width="1.25" />
<text x="495" y="856.61" font-size="7" text-anchor="middle" fill="#1a1a1a" stroke="#1a1a1a" >MKN-45</text>
<text transform="translate(429.6,919.2) rotate(-90)" x="0" y="2.41" font-size="7" text-anchor="middle" fill="#1a1a1a" stroke="#1a1a1a" >Number of cells</text>
<text transform="translate(474.05,976.8) rotate(-45)" x="0" y="2.41" font-size="7" text-anchor="end" fill="#1a1a1a" stroke="#1a1a1a" >OE-NC</text>
<text transform="translate(498.05,976.8) rotate(-45)" x="0" y="2.41" font-size="7" text-anchor="end" fill="#1a1a1a" stroke="#1a1a1a" >OE-CNBP</text>
<text transform="translate(522.1,976.8) rotate(-45)" x="0" y="2.41" font-size="7" text-anchor="end" fill="#1a1a1a" stroke="#1a1a1a" >OE-CNBP+</text>
<text transform="translate(529.95,980.4) rotate(-45)" x="0" y="2.41" font-size="7" text-anchor="end" fill="#1a1a1a" stroke="#1a1a1a" >si-HSPA8</text>
<rect x="588.3" y="910.92" width="16.3" height="57.48" fill="#b58d52" />
<line x1="596.45" y1="910.92" x2="596.45" y2="908.54" stroke="#b58d52" stroke-width="0.9" />
<line x1="593.45" y1="908.54" x2="599.45" y2="908.54" stroke="#b58d52" stroke-width="0.9" />
<rect x="612.4" y="883.57" width="16.5" height="84.83" fill="#e19394" />
<line x1="620.65" y1="883.57" x2="620.65" y2="877.62" stroke="#e19394" stroke-width="0.9" />
<line x1="617.65" y1="877.62" x2="623.65" y2="877.62" stroke="#e19394" stroke-width="0.9" />
<rect x="636.3" y="905.77" width="16.5" height="62.63" fill="#429b65" />
<line x1="644.55" y1="905.77" x2="644.55" y2="901.8" stroke="#429b65" stroke-width="0.9" />
<line x1="641.55" y1="901.8" x2="647.55" y2="901.8" stroke="#429b65" stroke-width="0.9" />
<line x1="581.3" y1="869.3" x2="581.3" y2="968.4" stroke="#111" stroke-width="1.25" />
<line x1="577.3" y1="968.4" x2="581.3" y2="968.4" stroke="#111" stroke-width="1.12" />
<text x="575.9" y="970.81" font-size="7" text-anchor="end" fill="#222" stroke="#222" >0</text>
<line x1="577.3" y1="948.58" x2="581.3" y2="948.58" stroke="#111" stroke-width="1.12" />
<text x="575.9" y="950.99" font-size="7" text-anchor="end" fill="#222" stroke="#222" >500</text>
<line x1="577.3" y1="928.76" x2="581.3" y2="928.76" stroke="#111" stroke-width="1.12" />
<text x="575.9" y="931.17" font-size="7" text-anchor="end" fill="#222" stroke="#222" >1000</text>
<line x1="577.3" y1="908.94" x2="581.3" y2="908.94" stroke="#111" stroke-width="1.12" />
<text x="575.9" y="911.35" font-size="7" text-anchor="end" fill="#222" stroke="#222" >1500</text>
<line x1="577.3" y1="889.12" x2="581.3" y2="889.12" stroke="#111" stroke-width="1.12" />
<text x="575.9" y="891.53" font-size="7" text-anchor="end" fill="#222" stroke="#222" >2000</text>
<line x1="577.3" y1="869.3" x2="581.3" y2="869.3" stroke="#111" stroke-width="1.12" />
<text x="575.9" y="871.71" font-size="7" text-anchor="end" fill="#222" stroke="#222" >2500</text>
<line x1="581.3" y1="968.4" x2="661.1" y2="968.4" stroke="#111" stroke-width="1.25" />
<line x1="596.45" y1="968.4" x2="596.45" y2="972.4" stroke="#111" stroke-width="1.12" />
<line x1="620.65" y1="968.4" x2="620.65" y2="972.4" stroke="#111" stroke-width="1.12" />
<line x1="644.55" y1="968.4" x2="644.55" y2="972.4" stroke="#111" stroke-width="1.12" />
<line x1="591.4" y1="869.8" x2="619" y2="869.8" stroke="#111" stroke-width="1.2" />
<path d="M602.05 861.1L602.05 866.1M599.88 862.35L604.22 864.85M604.22 862.35L599.88 864.85" fill="none" stroke="#111" stroke-width="1.25" />
<path d="M608.35 861.1L608.35 866.1M606.18 862.35L610.52 864.85M610.52 862.35L606.18 864.85" fill="none" stroke="#111" stroke-width="1.25" />
<line x1="620.4" y1="874.2" x2="650.1" y2="874.2" stroke="#111" stroke-width="1.2" />
<path d="M632.1 865.4L632.1 870.4M629.93 866.65L634.27 869.15M634.27 866.65L629.93 869.15" fill="none" stroke="#111" stroke-width="1.25" />
<path d="M638.4 865.4L638.4 870.4M636.23 866.65L640.57 869.15M640.57 866.65L636.23 869.15" fill="none" stroke="#111" stroke-width="1.25" />
<text x="619.4" y="855.91" font-size="7" text-anchor="middle" fill="#1a1a1a" stroke="#1a1a1a" >HGC-27</text>
<text transform="translate(554,919.2) rotate(-90)" x="0" y="2.41" font-size="7" text-anchor="middle" fill="#1a1a1a" stroke="#1a1a1a" >Number of cells</text>
<text transform="translate(598.85,976.5) rotate(-45)" x="0" y="2.41" font-size="7" text-anchor="end" fill="#1a1a1a" stroke="#1a1a1a" >OE-NC</text>
<text transform="translate(623.05,976.5) rotate(-45)" x="0" y="2.41" font-size="7" text-anchor="end" fill="#1a1a1a" stroke="#1a1a1a" >OE-CNBP</text>
<text transform="translate(646.95,976.5) rotate(-45)" x="0" y="2.41" font-size="7" text-anchor="end" fill="#1a1a1a" stroke="#1a1a1a" >OE-CNBP+</text>
<text transform="translate(654.8,980.1) rotate(-45)" x="0" y="2.41" font-size="7" text-anchor="end" fill="#1a1a1a" stroke="#1a1a1a" >si-HSPA8</text>
</svg></body></html>
